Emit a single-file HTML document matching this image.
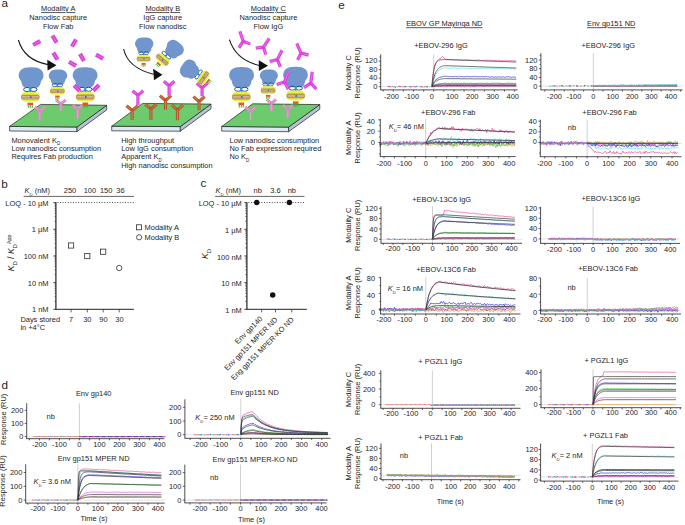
<!DOCTYPE html>
<html><head><meta charset="utf-8"><style>
html,body{margin:0;padding:0;background:#fff;}
svg{display:block;}
text{font-family:"Liberation Sans", sans-serif;fill:#1e1e1e;}
</style></head><body>
<svg width="685" height="525" viewBox="0 0 685 525">
<rect width="685" height="525" fill="#fff"/>
<text x="1.4" y="7.0" font-size="11.7">a</text>
<text x="58.2" y="11.3" text-anchor="middle" font-size="7.45" text-decoration="underline">Modality A</text>
<text x="58.2" y="19.9" text-anchor="middle" font-size="7.45" >Nanodisc capture</text>
<text x="58.2" y="28.5" text-anchor="middle" font-size="7.45" >Flow Fab</text>
<text x="162.8" y="11.3" text-anchor="middle" font-size="7.45" text-decoration="underline">Modality B</text>
<text x="162.8" y="19.9" text-anchor="middle" font-size="7.45" >IgG capture</text>
<text x="162.8" y="28.5" text-anchor="middle" font-size="7.45" >Flow nanodisc</text>
<text x="268.4" y="11.3" text-anchor="middle" font-size="7.45" text-decoration="underline">Modality C</text>
<text x="268.4" y="19.9" text-anchor="middle" font-size="7.45" >Nanodisc capture</text>
<text x="268.4" y="28.5" text-anchor="middle" font-size="7.45" >Flow IgG</text>
<polygon points="9.6,126.4 77.0,127.0 77.0,131.6 9.6,131.0" fill="#dce9f3" stroke="#222" stroke-width="0.7"/>
<polygon points="77.0,127.0 106.7,105.3 106.7,109.89999999999999 77.0,131.6" fill="#b4c2d2" stroke="#222" stroke-width="0.7"/>
<polygon points="9.6,126.4 40.6,104.4 106.7,105.3 77.0,127.0" fill="#6ccb6c" stroke="#222" stroke-width="0.7"/>
<polygon points="111.7,126.2 180.3,126.6 180.3,131.2 111.7,130.8" fill="#dce9f3" stroke="#222" stroke-width="0.7"/>
<polygon points="180.3,126.6 211,104.1 211,108.69999999999999 180.3,131.2" fill="#b4c2d2" stroke="#222" stroke-width="0.7"/>
<polygon points="111.7,126.2 142.7,103.4 211,104.1 180.3,126.6" fill="#6ccb6c" stroke="#222" stroke-width="0.7"/>
<polygon points="221.7,126.5 288.6,127.1 288.6,131.7 221.7,131.1" fill="#dce9f3" stroke="#222" stroke-width="0.7"/>
<polygon points="288.6,127.1 319.8,104.6 319.8,109.19999999999999 288.6,131.7" fill="#b4c2d2" stroke="#222" stroke-width="0.7"/>
<polygon points="221.7,126.5 252.7,103.8 319.8,104.6 288.6,127.1" fill="#6ccb6c" stroke="#222" stroke-width="0.7"/>
<path d="M 18.4,40 Q 24,60 48,64.6" fill="none" stroke="#1a1a1a" stroke-width="1.1"/>
<polygon points="56.5,65.2 47.3,59.8 47.6,70.4" fill="#111"/>
<g transform="translate(36.70,43.00) rotate(-30)"><rect x="-4.1" y="-2.1" width="8.2" height="4.2" fill="#dc3edc"/><line x1="-3.6999999999999997" y1="0" x2="3.6999999999999997" y2="0" stroke="#fff" stroke-opacity="0.45" stroke-width="0.6"/></g>
<g transform="translate(54.50,39.10) rotate(60)"><rect x="-4.1" y="-2.1" width="8.2" height="4.2" fill="#dc3edc"/><line x1="-3.6999999999999997" y1="0" x2="3.6999999999999997" y2="0" stroke="#fff" stroke-opacity="0.45" stroke-width="0.6"/></g>
<g transform="translate(74.00,43.00) rotate(-60)"><rect x="-4.1" y="-2.1" width="8.2" height="4.2" fill="#dc3edc"/><line x1="-3.6999999999999997" y1="0" x2="3.6999999999999997" y2="0" stroke="#fff" stroke-opacity="0.45" stroke-width="0.6"/></g>
<g transform="translate(55.40,56.20) rotate(60)"><rect x="-4.1" y="-2.1" width="8.2" height="4.2" fill="#dc3edc"/><line x1="-3.6999999999999997" y1="0" x2="3.6999999999999997" y2="0" stroke="#fff" stroke-opacity="0.45" stroke-width="0.6"/></g>
<g transform="translate(82.00,57.40) rotate(60)"><rect x="-4.1" y="-2.1" width="8.2" height="4.2" fill="#dc3edc"/><line x1="-3.6999999999999997" y1="0" x2="3.6999999999999997" y2="0" stroke="#fff" stroke-opacity="0.45" stroke-width="0.6"/></g>
<g transform="translate(72.50,63.80) rotate(30)"><rect x="-4.1" y="-2.1" width="8.2" height="4.2" fill="#dc3edc"/><line x1="-3.6999999999999997" y1="0" x2="3.6999999999999997" y2="0" stroke="#fff" stroke-opacity="0.45" stroke-width="0.6"/></g>
<g transform="translate(99.60,56.70) rotate(30)"><rect x="-4.1" y="-2.1" width="8.2" height="4.2" fill="#dc3edc"/><line x1="-3.6999999999999997" y1="0" x2="3.6999999999999997" y2="0" stroke="#fff" stroke-opacity="0.45" stroke-width="0.6"/></g>
<g transform="translate(39.80,111.10) rotate(0)" fill="none" stroke-linecap="butt"><path d="M 0,9.3 L 0,-0.6 M -5.06,-4.24 L 0.3,0.3 M 5.06,-4.24 L -0.3,0.3" stroke="#d98ac2" stroke-width="2.9"/><path d="M 0,9.3 L 0,0.9 M -4.90,-4.12 L -1.52,-1.27 M 4.90,-4.12 L 1.52,-1.27" stroke="#fff" stroke-opacity="0.4" stroke-width="0.58"/></g>
<g transform="translate(60.90,103.90) rotate(0)" fill="none" stroke-linecap="butt"><path d="M 0,7.2 L 0,-0.6 M -4.90,-4.11 L 0.3,0.3 M 4.90,-4.11 L -0.3,0.3" stroke="#d98ac2" stroke-width="2.9"/><path d="M 0,7.2 L 0,0.9 M -4.76,-3.99 L -1.47,-1.23 M 4.76,-3.99 L 1.47,-1.23" stroke="#fff" stroke-opacity="0.4" stroke-width="0.58"/></g>
<g transform="translate(77.70,109.30) rotate(0)" fill="none" stroke-linecap="butt"><path d="M 0,9.3 L 0,-0.6 M -5.06,-4.24 L 0.3,0.3 M 5.06,-4.24 L -0.3,0.3" stroke="#d98ac2" stroke-width="2.9"/><path d="M 0,9.3 L 0,0.9 M -4.90,-4.12 L -1.52,-1.27 M 4.90,-4.12 L 1.52,-1.27" stroke="#fff" stroke-opacity="0.4" stroke-width="0.58"/></g>
<path d="M 0,0 C 4,-0.2 8,0.6 10,2.5 C 12,4.5 12.6,7 12.4,9 C 12.2,11.5 10.5,13 9.8,14 C 9.6,16.5 8.5,19.2 6.5,20.2 C 3,20.8 -3,20.8 -6.5,20.2 C -8.5,19.2 -9.6,16.5 -9.8,14 C -10.5,13 -12.2,11.5 -12.4,9 C -12.6,7 -12,4.5 -10,2.5 C -8,0.6 -4,-0.2 0,0 Z" fill="#7096cd" transform="translate(31.10,77.60) rotate(0) scale(1.000,1.000) translate(0,-10.25)"/>
<path d="M 0,0 C 4,-0.2 8,0.6 10,2.5 C 12,4.5 12.6,7 12.4,9 C 12.2,11.5 10.5,13 9.8,14 C 9.6,16.5 8.5,19.2 6.5,20.2 C 3,20.8 -3,20.8 -6.5,20.2 C -8.5,19.2 -9.6,16.5 -9.8,14 C -10.5,13 -12.2,11.5 -12.4,9 C -12.6,7 -12,4.5 -10,2.5 C -8,0.6 -4,-0.2 0,0 Z" fill="#7096cd" transform="translate(58.00,77.10) rotate(0) scale(0.740,0.732) translate(0,-10.25)"/>
<path d="M 0,0 C 4,-0.2 8,0.6 10,2.5 C 12,4.5 12.6,7 12.4,9 C 12.2,11.5 10.5,13 9.8,14 C 9.6,16.5 8.5,19.2 6.5,20.2 C 3,20.8 -3,20.8 -6.5,20.2 C -8.5,19.2 -9.6,16.5 -9.8,14 C -10.5,13 -12.2,11.5 -12.4,9 C -12.6,7 -12,4.5 -10,2.5 C -8,0.6 -4,-0.2 0,0 Z" fill="#7096cd" transform="translate(85.10,77.30) rotate(0) scale(1.000,0.985) translate(0,-10.25)"/>
<g transform="translate(30.30,96.80) rotate(0) scale(1.0)"><ellipse cx="-3.3" cy="-7.3" rx="3.4" ry="2.0" fill="none" stroke="#1f4f9c" stroke-width="1.0"/><ellipse cx="3.3" cy="-7.3" rx="3.4" ry="2.0" fill="none" stroke="#1f4f9c" stroke-width="1.0"/><path d="M -1.1,-9.4 L 1.1,-9.4 L 0.7,-3.6 L -0.7,-3.6 Z" fill="#2b8fe0"/><rect x="-9.2" y="-4.9" width="18.4" height="9.8" rx="5" ry="3.6" fill="#e2f53c"/><rect x="-9.1" y="-2.1" width="18.2" height="4.9" rx="1.6" fill="#b98a5c"/><line x1="-8.2" y1="-0.2" x2="8.2" y2="-0.2" stroke="#efe2cc" stroke-width="0.55"/><line x1="-8.2" y1="1.2" x2="8.2" y2="1.2" stroke="#efe2cc" stroke-width="0.5"/><circle cx="0.5" cy="0.4" r="0.9" fill="#2a5fb0"/><rect x="-2.8" y="5.9" width="5.6" height="2.5" fill="#e25a1c"/><line x1="-2.0" y1="8.4" x2="-2.0" y2="10.9" stroke="#28c028" stroke-width="1.1"/><line x1="0" y1="8.4" x2="0" y2="10.9" stroke="#28c028" stroke-width="1.1"/><line x1="2.0" y1="8.4" x2="2.0" y2="10.9" stroke="#28c028" stroke-width="1.1"/></g>
<g transform="translate(57.40,90.90) rotate(0) scale(0.79)"><ellipse cx="-3.3" cy="-7.3" rx="3.4" ry="2.0" fill="none" stroke="#1f4f9c" stroke-width="1.0"/><ellipse cx="3.3" cy="-7.3" rx="3.4" ry="2.0" fill="none" stroke="#1f4f9c" stroke-width="1.0"/><path d="M -1.1,-9.4 L 1.1,-9.4 L 0.7,-3.6 L -0.7,-3.6 Z" fill="#2b8fe0"/><rect x="-9.2" y="-4.9" width="18.4" height="9.8" rx="5" ry="3.6" fill="#e2f53c"/><rect x="-9.1" y="-2.1" width="18.2" height="4.9" rx="1.6" fill="#b98a5c"/><line x1="-8.2" y1="-0.2" x2="8.2" y2="-0.2" stroke="#efe2cc" stroke-width="0.55"/><line x1="-8.2" y1="1.2" x2="8.2" y2="1.2" stroke="#efe2cc" stroke-width="0.5"/><circle cx="0.5" cy="0.4" r="0.9" fill="#2a5fb0"/><rect x="-2.8" y="5.9" width="5.6" height="2.5" fill="#e25a1c"/><line x1="-2.0" y1="8.4" x2="-2.0" y2="10.9" stroke="#28c028" stroke-width="1.1"/><line x1="0" y1="8.4" x2="0" y2="10.9" stroke="#28c028" stroke-width="1.1"/><line x1="2.0" y1="8.4" x2="2.0" y2="10.9" stroke="#28c028" stroke-width="1.1"/></g>
<g transform="translate(85.30,96.60) rotate(0) scale(1.0)"><ellipse cx="-3.3" cy="-7.3" rx="3.4" ry="2.0" fill="none" stroke="#1f4f9c" stroke-width="1.0"/><ellipse cx="3.3" cy="-7.3" rx="3.4" ry="2.0" fill="none" stroke="#1f4f9c" stroke-width="1.0"/><path d="M -1.1,-9.4 L 1.1,-9.4 L 0.7,-3.6 L -0.7,-3.6 Z" fill="#2b8fe0"/><rect x="-9.2" y="-4.9" width="18.4" height="9.8" rx="5" ry="3.6" fill="#e2f53c"/><rect x="-9.1" y="-2.1" width="18.2" height="4.9" rx="1.6" fill="#b98a5c"/><line x1="-8.2" y1="-0.2" x2="8.2" y2="-0.2" stroke="#efe2cc" stroke-width="0.55"/><line x1="-8.2" y1="1.2" x2="8.2" y2="1.2" stroke="#efe2cc" stroke-width="0.5"/><circle cx="0.5" cy="0.4" r="0.9" fill="#2a5fb0"/><rect x="-2.8" y="5.9" width="5.6" height="2.5" fill="#e25a1c"/><line x1="-2.0" y1="8.4" x2="-2.0" y2="10.9" stroke="#28c028" stroke-width="1.1"/><line x1="0" y1="8.4" x2="0" y2="10.9" stroke="#28c028" stroke-width="1.1"/><line x1="2.0" y1="8.4" x2="2.0" y2="10.9" stroke="#28c028" stroke-width="1.1"/></g>
<g transform="translate(77.00,88.20) rotate(45)"><rect x="-4.1" y="-2.1" width="8.2" height="4.2" fill="#dc3edc"/><line x1="-3.6999999999999997" y1="0" x2="3.6999999999999997" y2="0" stroke="#fff" stroke-opacity="0.45" stroke-width="0.6"/></g>
<g transform="translate(96.10,87.90) rotate(-45)"><rect x="-4.1" y="-2.1" width="8.2" height="4.2" fill="#dc3edc"/><line x1="-3.6999999999999997" y1="0" x2="3.6999999999999997" y2="0" stroke="#fff" stroke-opacity="0.45" stroke-width="0.6"/></g>
<path d="M 123.6,49 Q 128,68 153.5,74.2" fill="none" stroke="#1a1a1a" stroke-width="1.1"/>
<polygon points="162.4,74.8 153.1,68.8 154,80.2" fill="#111"/>
<g transform="translate(132.20,110.50) rotate(0)" fill="none" stroke-linecap="butt"><path d="M 0,9.6 L 0,-0.6 M -5.67,-4.76 L 0.3,0.3 M 5.67,-4.76 L -0.3,0.3" stroke="#b85a2c" stroke-width="3.2"/><path d="M 0,9.6 L 0,0.9 M -5.50,-4.61 L -1.70,-1.43 M 5.50,-4.61 L 1.70,-1.43" stroke="#fff" stroke-opacity="0.4" stroke-width="0.64"/></g>
<g transform="translate(150.90,109.00) rotate(0)" fill="none" stroke-linecap="butt"><path d="M 0,11.1 L 0,-0.6 M -5.67,-4.76 L 0.3,0.3 M 5.67,-4.76 L -0.3,0.3" stroke="#b85a2c" stroke-width="3.2"/><path d="M 0,11.1 L 0,0.9 M -5.50,-4.61 L -1.70,-1.43 M 5.50,-4.61 L 1.70,-1.43" stroke="#fff" stroke-opacity="0.4" stroke-width="0.64"/></g>
<g transform="translate(165.50,100.40) rotate(0)" fill="none" stroke-linecap="butt"><path d="M 0,9.4 L 0,-0.6 M -5.67,-4.76 L 0.3,0.3 M 5.67,-4.76 L -0.3,0.3" stroke="#b85a2c" stroke-width="3.2"/><path d="M 0,9.4 L 0,0.9 M -5.50,-4.61 L -1.70,-1.43 M 5.50,-4.61 L 1.70,-1.43" stroke="#fff" stroke-opacity="0.4" stroke-width="0.64"/></g>
<g transform="translate(177.50,109.80) rotate(0)" fill="none" stroke-linecap="butt"><path d="M 0,10.5 L 0,-0.6 M -5.67,-4.76 L 0.3,0.3 M 5.67,-4.76 L -0.3,0.3" stroke="#b85a2c" stroke-width="3.2"/><path d="M 0,10.5 L 0,0.9 M -5.50,-4.61 L -1.70,-1.43 M 5.50,-4.61 L 1.70,-1.43" stroke="#fff" stroke-opacity="0.4" stroke-width="0.64"/></g>
<g transform="translate(199.00,101.40) rotate(0)" fill="none" stroke-linecap="butt"><path d="M 0,8.9 L 0,-0.6 M -5.67,-4.76 L 0.3,0.3 M 5.67,-4.76 L -0.3,0.3" stroke="#b85a2c" stroke-width="3.2"/><path d="M 0,8.9 L 0,0.9 M -5.50,-4.61 L -1.70,-1.43 M 5.50,-4.61 L 1.70,-1.43" stroke="#fff" stroke-opacity="0.4" stroke-width="0.64"/></g>
<g transform="translate(137.90,95.30) rotate(0)" fill="none" stroke-linecap="butt"><path d="M 0,9.9 L 0,-0.6 M -5.36,-4.50 L 0.3,0.3 M 5.36,-4.50 L -0.3,0.3" stroke="#e03ee0" stroke-width="3.2"/><path d="M 0,9.9 L 0,0.9 M -5.20,-4.36 L -1.61,-1.35 M 5.20,-4.36 L 1.61,-1.35" stroke="#fff" stroke-opacity="0.4" stroke-width="0.64"/></g>
<g transform="translate(169.10,85.70) rotate(0)" fill="none" stroke-linecap="butt"><path d="M 0,10 L 0,-0.6 M -5.36,-4.50 L 0.3,0.3 M 5.36,-4.50 L -0.3,0.3" stroke="#e03ee0" stroke-width="3.2"/><path d="M 0,10 L 0,0.9 M -5.20,-4.36 L -1.61,-1.35 M 5.20,-4.36 L 1.61,-1.35" stroke="#fff" stroke-opacity="0.4" stroke-width="0.64"/></g>
<g transform="translate(202.10,87.80) rotate(0)" fill="none" stroke-linecap="butt"><path d="M 0,8.4 L 0,-0.6 M -5.36,-4.50 L 0.3,0.3 M 5.36,-4.50 L -0.3,0.3" stroke="#e03ee0" stroke-width="3.2"/><path d="M 0,8.4 L 0,0.9 M -5.20,-4.36 L -1.61,-1.35 M 5.20,-4.36 L 1.61,-1.35" stroke="#fff" stroke-opacity="0.4" stroke-width="0.64"/></g>
<path d="M 0,0 C 4,-0.2 8,0.6 10,2.5 C 12,4.5 12.6,7 12.4,9 C 12.2,11.5 10.5,13 9.8,14 C 9.6,16.5 8.5,19.2 6.5,20.2 C 3,20.8 -3,20.8 -6.5,20.2 C -8.5,19.2 -9.6,16.5 -9.8,14 C -10.5,13 -12.2,11.5 -12.4,9 C -12.6,7 -12,4.5 -10,2.5 C -8,0.6 -4,-0.2 0,0 Z" fill="#7096cd" transform="translate(144.20,45.30) rotate(0) scale(0.736,0.756) translate(0,-10.25)"/>
<g transform="translate(143.60,58.60) rotate(0) scale(0.74)"><ellipse cx="-3.3" cy="-7.3" rx="3.4" ry="2.0" fill="none" stroke="#1f4f9c" stroke-width="1.0"/><ellipse cx="3.3" cy="-7.3" rx="3.4" ry="2.0" fill="none" stroke="#1f4f9c" stroke-width="1.0"/><path d="M -1.1,-9.4 L 1.1,-9.4 L 0.7,-3.6 L -0.7,-3.6 Z" fill="#2b8fe0"/><rect x="-9.2" y="-4.9" width="18.4" height="9.8" rx="5" ry="3.6" fill="#e2f53c"/><rect x="-9.1" y="-2.1" width="18.2" height="4.9" rx="1.6" fill="#b98a5c"/><line x1="-8.2" y1="-0.2" x2="8.2" y2="-0.2" stroke="#efe2cc" stroke-width="0.55"/><line x1="-8.2" y1="1.2" x2="8.2" y2="1.2" stroke="#efe2cc" stroke-width="0.5"/><circle cx="0.5" cy="0.4" r="0.9" fill="#2a5fb0"/><rect x="-2.8" y="5.9" width="5.6" height="2.5" fill="#e25a1c"/><line x1="-2.0" y1="8.4" x2="-2.0" y2="10.9" stroke="#28c028" stroke-width="1.1"/><line x1="0" y1="8.4" x2="0" y2="10.9" stroke="#28c028" stroke-width="1.1"/><line x1="2.0" y1="8.4" x2="2.0" y2="10.9" stroke="#28c028" stroke-width="1.1"/></g>
<path d="M 0,0 C 4,-0.2 8,0.6 10,2.5 C 12,4.5 12.6,7 12.4,9 C 12.2,11.5 10.5,13 9.8,14 C 9.6,16.5 8.5,19.2 6.5,20.2 C 3,20.8 -3,20.8 -6.5,20.2 C -8.5,19.2 -9.6,16.5 -9.8,14 C -10.5,13 -12.2,11.5 -12.4,9 C -12.6,7 -12,4.5 -10,2.5 C -8,0.6 -4,-0.2 0,0 Z" fill="#7096cd" transform="translate(174.20,49.20) rotate(40) scale(0.740,0.805) translate(0,-10.25)"/>
<g transform="translate(162.50,59.60) rotate(41) scale(0.8)"><ellipse cx="-3.3" cy="-7.3" rx="3.4" ry="2.0" fill="none" stroke="#1f4f9c" stroke-width="1.0"/><ellipse cx="3.3" cy="-7.3" rx="3.4" ry="2.0" fill="none" stroke="#1f4f9c" stroke-width="1.0"/><path d="M -1.1,-9.4 L 1.1,-9.4 L 0.7,-3.6 L -0.7,-3.6 Z" fill="#2b8fe0"/><rect x="-9.2" y="-4.9" width="18.4" height="9.8" rx="5" ry="3.6" fill="#e2f53c"/><rect x="-9.1" y="-2.1" width="18.2" height="4.9" rx="1.6" fill="#b98a5c"/><line x1="-8.2" y1="-0.2" x2="8.2" y2="-0.2" stroke="#efe2cc" stroke-width="0.55"/><line x1="-8.2" y1="1.2" x2="8.2" y2="1.2" stroke="#efe2cc" stroke-width="0.5"/><circle cx="0.5" cy="0.4" r="0.9" fill="#2a5fb0"/><rect x="-2.8" y="5.9" width="5.6" height="2.5" fill="#e25a1c"/><line x1="-2.0" y1="8.4" x2="-2.0" y2="10.9" stroke="#28c028" stroke-width="1.1"/><line x1="0" y1="8.4" x2="0" y2="10.9" stroke="#28c028" stroke-width="1.1"/><line x1="2.0" y1="8.4" x2="2.0" y2="10.9" stroke="#28c028" stroke-width="1.1"/></g>
<path d="M 0,0 C 4,-0.2 8,0.6 10,2.5 C 12,4.5 12.6,7 12.4,9 C 12.2,11.5 10.5,13 9.8,14 C 9.6,16.5 8.5,19.2 6.5,20.2 C 3,20.8 -3,20.8 -6.5,20.2 C -8.5,19.2 -9.6,16.5 -9.8,14 C -10.5,13 -12.2,11.5 -12.4,9 C -12.6,7 -12,4.5 -10,2.5 C -8,0.6 -4,-0.2 0,0 Z" fill="#7096cd" transform="translate(189.50,69.50) rotate(-55) scale(0.760,0.829) translate(0,-10.25)"/>
<g transform="translate(203.40,77.80) rotate(-55) scale(0.8)"><ellipse cx="-3.3" cy="-7.3" rx="3.4" ry="2.0" fill="none" stroke="#1f4f9c" stroke-width="1.0"/><ellipse cx="3.3" cy="-7.3" rx="3.4" ry="2.0" fill="none" stroke="#1f4f9c" stroke-width="1.0"/><path d="M -1.1,-9.4 L 1.1,-9.4 L 0.7,-3.6 L -0.7,-3.6 Z" fill="#2b8fe0"/><rect x="-9.2" y="-4.9" width="18.4" height="9.8" rx="5" ry="3.6" fill="#e2f53c"/><rect x="-9.1" y="-2.1" width="18.2" height="4.9" rx="1.6" fill="#b98a5c"/><line x1="-8.2" y1="-0.2" x2="8.2" y2="-0.2" stroke="#efe2cc" stroke-width="0.55"/><line x1="-8.2" y1="1.2" x2="8.2" y2="1.2" stroke="#efe2cc" stroke-width="0.5"/><circle cx="0.5" cy="0.4" r="0.9" fill="#2a5fb0"/><rect x="-2.8" y="5.9" width="5.6" height="2.5" fill="#e25a1c"/><line x1="-2.0" y1="8.4" x2="-2.0" y2="10.9" stroke="#28c028" stroke-width="1.1"/><line x1="0" y1="8.4" x2="0" y2="10.9" stroke="#28c028" stroke-width="1.1"/><line x1="2.0" y1="8.4" x2="2.0" y2="10.9" stroke="#28c028" stroke-width="1.1"/></g>
<path d="M 229.4,39.7 Q 236,60 259.2,65.5" fill="none" stroke="#1a1a1a" stroke-width="1.1"/>
<polygon points="268,65.8 258.8,60.2 258.8,71" fill="#111"/>
<g transform="translate(250.40,111.30) rotate(0)" fill="none" stroke-linecap="butt"><path d="M 0,8.5 L 0,-0.6 M -5.21,-4.37 L 0.3,0.3 M 5.21,-4.37 L -0.3,0.3" stroke="#d98ac2" stroke-width="2.9"/><path d="M 0,8.5 L 0,0.9 M -5.05,-4.24 L -1.56,-1.31 M 5.05,-4.24 L 1.56,-1.31" stroke="#fff" stroke-opacity="0.4" stroke-width="0.58"/></g>
<g transform="translate(271.40,103.40) rotate(0)" fill="none" stroke-linecap="butt"><path d="M 0,7.9 L 0,-0.6 M -4.75,-3.99 L 0.3,0.3 M 4.75,-3.99 L -0.3,0.3" stroke="#d98ac2" stroke-width="2.9"/><path d="M 0,7.9 L 0,0.9 M -4.61,-3.87 L -1.42,-1.20 M 4.61,-3.87 L 1.42,-1.20" stroke="#fff" stroke-opacity="0.4" stroke-width="0.58"/></g>
<g transform="translate(287.80,109.30) rotate(0)" fill="none" stroke-linecap="butt"><path d="M 0,8.6 L 0,-0.6 M -5.06,-4.24 L 0.3,0.3 M 5.06,-4.24 L -0.3,0.3" stroke="#d98ac2" stroke-width="2.9"/><path d="M 0,8.6 L 0,0.9 M -4.90,-4.12 L -1.52,-1.27 M 4.90,-4.12 L 1.52,-1.27" stroke="#fff" stroke-opacity="0.4" stroke-width="0.58"/></g>
<g transform="translate(243.10,41.20) rotate(162)" fill="none" stroke-linecap="butt"><path d="M 0,10.5 L 0,-0.6 M -5.98,-5.01 L 0.3,0.3 M 5.98,-5.01 L -0.3,0.3" stroke="#e03ee0" stroke-width="3.2"/><path d="M 0,10.5 L 0,0.9 M -5.80,-4.86 L -1.79,-1.50 M 5.80,-4.86 L 1.79,-1.50" stroke="#fff" stroke-opacity="0.4" stroke-width="0.64"/></g>
<g transform="translate(263.50,47.10) rotate(-147)" fill="none" stroke-linecap="butt"><path d="M 0,10.5 L 0,-0.6 M -5.98,-5.01 L 0.3,0.3 M 5.98,-5.01 L -0.3,0.3" stroke="#e03ee0" stroke-width="3.2"/><path d="M 0,10.5 L 0,0.9 M -5.80,-4.86 L -1.79,-1.50 M 5.80,-4.86 L 1.79,-1.50" stroke="#fff" stroke-opacity="0.4" stroke-width="0.64"/></g>
<g transform="translate(277.30,59.60) rotate(-153)" fill="none" stroke-linecap="butt"><path d="M 0,10.5 L 0,-0.6 M -5.98,-5.01 L 0.3,0.3 M 5.98,-5.01 L -0.3,0.3" stroke="#e03ee0" stroke-width="3.2"/><path d="M 0,10.5 L 0,0.9 M -5.80,-4.86 L -1.79,-1.50 M 5.80,-4.86 L 1.79,-1.50" stroke="#fff" stroke-opacity="0.4" stroke-width="0.64"/></g>
<g transform="translate(301.00,53.00) rotate(156)" fill="none" stroke-linecap="butt"><path d="M 0,10.5 L 0,-0.6 M -5.98,-5.01 L 0.3,0.3 M 5.98,-5.01 L -0.3,0.3" stroke="#e03ee0" stroke-width="3.2"/><path d="M 0,10.5 L 0,0.9 M -5.80,-4.86 L -1.79,-1.50 M 5.80,-4.86 L 1.79,-1.50" stroke="#fff" stroke-opacity="0.4" stroke-width="0.64"/></g>
<path d="M 0,0 C 4,-0.2 8,0.6 10,2.5 C 12,4.5 12.6,7 12.4,9 C 12.2,11.5 10.5,13 9.8,14 C 9.6,16.5 8.5,19.2 6.5,20.2 C 3,20.8 -3,20.8 -6.5,20.2 C -8.5,19.2 -9.6,16.5 -9.8,14 C -10.5,13 -12.2,11.5 -12.4,9 C -12.6,7 -12,4.5 -10,2.5 C -8,0.6 -4,-0.2 0,0 Z" fill="#7096cd" transform="translate(241.60,77.30) rotate(0) scale(1.000,1.000) translate(0,-10.25)"/>
<path d="M 0,0 C 4,-0.2 8,0.6 10,2.5 C 12,4.5 12.6,7 12.4,9 C 12.2,11.5 10.5,13 9.8,14 C 9.6,16.5 8.5,19.2 6.5,20.2 C 3,20.8 -3,20.8 -6.5,20.2 C -8.5,19.2 -9.6,16.5 -9.8,14 C -10.5,13 -12.2,11.5 -12.4,9 C -12.6,7 -12,4.5 -10,2.5 C -8,0.6 -4,-0.2 0,0 Z" fill="#7096cd" transform="translate(268.90,77.00) rotate(0) scale(0.724,0.722) translate(0,-10.25)"/>
<path d="M 0,0 C 4,-0.2 8,0.6 10,2.5 C 12,4.5 12.6,7 12.4,9 C 12.2,11.5 10.5,13 9.8,14 C 9.6,16.5 8.5,19.2 6.5,20.2 C 3,20.8 -3,20.8 -6.5,20.2 C -8.5,19.2 -9.6,16.5 -9.8,14 C -10.5,13 -12.2,11.5 -12.4,9 C -12.6,7 -12,4.5 -10,2.5 C -8,0.6 -4,-0.2 0,0 Z" fill="#7096cd" transform="translate(295.50,77.00) rotate(0) scale(0.992,0.995) translate(0,-10.25)"/>
<g transform="translate(241.30,96.60) rotate(0) scale(1.0)"><ellipse cx="-3.3" cy="-7.3" rx="3.4" ry="2.0" fill="none" stroke="#1f4f9c" stroke-width="1.0"/><ellipse cx="3.3" cy="-7.3" rx="3.4" ry="2.0" fill="none" stroke="#1f4f9c" stroke-width="1.0"/><path d="M -1.1,-9.4 L 1.1,-9.4 L 0.7,-3.6 L -0.7,-3.6 Z" fill="#2b8fe0"/><rect x="-9.2" y="-4.9" width="18.4" height="9.8" rx="5" ry="3.6" fill="#e2f53c"/><rect x="-9.1" y="-2.1" width="18.2" height="4.9" rx="1.6" fill="#b98a5c"/><line x1="-8.2" y1="-0.2" x2="8.2" y2="-0.2" stroke="#efe2cc" stroke-width="0.55"/><line x1="-8.2" y1="1.2" x2="8.2" y2="1.2" stroke="#efe2cc" stroke-width="0.5"/><circle cx="0.5" cy="0.4" r="0.9" fill="#2a5fb0"/><rect x="-2.8" y="5.9" width="5.6" height="2.5" fill="#e25a1c"/><line x1="-2.0" y1="8.4" x2="-2.0" y2="10.9" stroke="#28c028" stroke-width="1.1"/><line x1="0" y1="8.4" x2="0" y2="10.9" stroke="#28c028" stroke-width="1.1"/><line x1="2.0" y1="8.4" x2="2.0" y2="10.9" stroke="#28c028" stroke-width="1.1"/></g>
<g transform="translate(268.10,90.20) rotate(0) scale(0.79)"><ellipse cx="-3.3" cy="-7.3" rx="3.4" ry="2.0" fill="none" stroke="#1f4f9c" stroke-width="1.0"/><ellipse cx="3.3" cy="-7.3" rx="3.4" ry="2.0" fill="none" stroke="#1f4f9c" stroke-width="1.0"/><path d="M -1.1,-9.4 L 1.1,-9.4 L 0.7,-3.6 L -0.7,-3.6 Z" fill="#2b8fe0"/><rect x="-9.2" y="-4.9" width="18.4" height="9.8" rx="5" ry="3.6" fill="#e2f53c"/><rect x="-9.1" y="-2.1" width="18.2" height="4.9" rx="1.6" fill="#b98a5c"/><line x1="-8.2" y1="-0.2" x2="8.2" y2="-0.2" stroke="#efe2cc" stroke-width="0.55"/><line x1="-8.2" y1="1.2" x2="8.2" y2="1.2" stroke="#efe2cc" stroke-width="0.5"/><circle cx="0.5" cy="0.4" r="0.9" fill="#2a5fb0"/><rect x="-2.8" y="5.9" width="5.6" height="2.5" fill="#e25a1c"/><line x1="-2.0" y1="8.4" x2="-2.0" y2="10.9" stroke="#28c028" stroke-width="1.1"/><line x1="0" y1="8.4" x2="0" y2="10.9" stroke="#28c028" stroke-width="1.1"/><line x1="2.0" y1="8.4" x2="2.0" y2="10.9" stroke="#28c028" stroke-width="1.1"/></g>
<g transform="translate(295.70,95.50) rotate(0) scale(1.0)"><ellipse cx="-3.3" cy="-7.3" rx="3.4" ry="2.0" fill="none" stroke="#1f4f9c" stroke-width="1.0"/><ellipse cx="3.3" cy="-7.3" rx="3.4" ry="2.0" fill="none" stroke="#1f4f9c" stroke-width="1.0"/><path d="M -1.1,-9.4 L 1.1,-9.4 L 0.7,-3.6 L -0.7,-3.6 Z" fill="#2b8fe0"/><rect x="-9.2" y="-4.9" width="18.4" height="9.8" rx="5" ry="3.6" fill="#e2f53c"/><rect x="-9.1" y="-2.1" width="18.2" height="4.9" rx="1.6" fill="#b98a5c"/><line x1="-8.2" y1="-0.2" x2="8.2" y2="-0.2" stroke="#efe2cc" stroke-width="0.55"/><line x1="-8.2" y1="1.2" x2="8.2" y2="1.2" stroke="#efe2cc" stroke-width="0.5"/><circle cx="0.5" cy="0.4" r="0.9" fill="#2a5fb0"/><rect x="-2.8" y="5.9" width="5.6" height="2.5" fill="#e25a1c"/><line x1="-2.0" y1="8.4" x2="-2.0" y2="10.9" stroke="#28c028" stroke-width="1.1"/><line x1="0" y1="8.4" x2="0" y2="10.9" stroke="#28c028" stroke-width="1.1"/><line x1="2.0" y1="8.4" x2="2.0" y2="10.9" stroke="#28c028" stroke-width="1.1"/></g>
<g transform="translate(284.50,81.90) rotate(-158)" fill="none" stroke-linecap="butt"><path d="M 0,11 L 0,-0.6 M -6.28,-5.27 L 0.3,0.3 M 6.28,-5.27 L -0.3,0.3" stroke="#e03ee0" stroke-width="3.2"/><path d="M 0,11 L 0,0.9 M -6.09,-5.11 L -1.88,-1.58 M 6.09,-5.11 L 1.88,-1.58" stroke="#fff" stroke-opacity="0.4" stroke-width="0.64"/></g>
<g transform="translate(310.80,83.20) rotate(-173)" fill="none" stroke-linecap="butt"><path d="M 0,11.5 L 0,-0.6 M -6.28,-5.27 L 0.3,0.3 M 6.28,-5.27 L -0.3,0.3" stroke="#e03ee0" stroke-width="3.2"/><path d="M 0,11.5 L 0,0.9 M -6.09,-5.11 L -1.88,-1.58 M 6.09,-5.11 L 1.88,-1.58" stroke="#fff" stroke-opacity="0.4" stroke-width="0.64"/></g>
<text x="11.4" y="142.9" text-anchor="start" font-size="7.45" >Monovalent K<tspan font-size="4.5" dy="2.4">D</tspan></text>
<text x="11.4" y="151.2" text-anchor="start" font-size="7.45" >Low nanodisc consumption</text>
<text x="11.4" y="159.4" text-anchor="start" font-size="7.45" >Requires Fab production</text>
<text x="121.2" y="142.9" text-anchor="start" font-size="7.45" >High throughput</text>
<text x="121.2" y="151.2" text-anchor="start" font-size="7.45" >Low IgG consumption</text>
<text x="121.2" y="159.4" text-anchor="start" font-size="7.45" >Apparent K<tspan font-size="4.5" dy="2.4">D</tspan></text>
<text x="121.2" y="167.7" text-anchor="start" font-size="7.45" >High nanodisc consumption</text>
<text x="229.5" y="142.9" text-anchor="start" font-size="7.45" >Low nanodisc consumption</text>
<text x="229.5" y="151.2" text-anchor="start" font-size="7.45" >No Fab expression required</text>
<text x="229.5" y="159.4" text-anchor="start" font-size="7.45" >No K<tspan font-size="4.5" dy="2.4">D</tspan></text>
<text x="1.2" y="187.5" font-size="11.7">b</text>
<text x="24.5" y="193.0" font-size="7.45"><tspan font-style="italic">K</tspan><tspan font-size="4.32" dy="2.5">D</tspan><tspan dy="-2.5"> (nM)</tspan></text>
<text x="70.0" y="193.0" text-anchor="middle" font-size="7.45" >250</text>
<text x="89.9" y="193.0" text-anchor="middle" font-size="7.45" >100</text>
<text x="106.2" y="193.0" text-anchor="middle" font-size="7.45" >150</text>
<text x="120.4" y="193.0" text-anchor="middle" font-size="7.45" >36</text>
<line x1="23.60" y1="196.40" x2="133.90" y2="196.40" stroke="#555" stroke-width="0.9" />
<line x1="55.90" y1="202.20" x2="55.90" y2="309.30" stroke="#222" stroke-width="1.2" />
<line x1="55.30" y1="309.30" x2="133.90" y2="309.30" stroke="#222" stroke-width="1.0" />
<line x1="53.30" y1="202.60" x2="55.90" y2="202.60" stroke="#222" stroke-width="0.8" />
<text x="48.5" y="205.6" text-anchor="end" font-size="7.45" >LOQ - 10 µM</text>
<line x1="54.50" y1="221.25" x2="55.90" y2="221.25" stroke="#222" stroke-width="0.5" />
<line x1="54.50" y1="216.55" x2="55.90" y2="216.55" stroke="#222" stroke-width="0.5" />
<line x1="54.50" y1="213.22" x2="55.90" y2="213.22" stroke="#222" stroke-width="0.5" />
<line x1="54.50" y1="210.63" x2="55.90" y2="210.63" stroke="#222" stroke-width="0.5" />
<line x1="54.50" y1="208.52" x2="55.90" y2="208.52" stroke="#222" stroke-width="0.5" />
<line x1="54.50" y1="206.73" x2="55.90" y2="206.73" stroke="#222" stroke-width="0.5" />
<line x1="54.50" y1="205.19" x2="55.90" y2="205.19" stroke="#222" stroke-width="0.5" />
<line x1="54.50" y1="203.82" x2="55.90" y2="203.82" stroke="#222" stroke-width="0.5" />
<line x1="53.30" y1="229.28" x2="55.90" y2="229.28" stroke="#222" stroke-width="0.8" />
<text x="48.5" y="232.3" text-anchor="end" font-size="7.45" >1 µM</text>
<line x1="54.50" y1="247.93" x2="55.90" y2="247.93" stroke="#222" stroke-width="0.5" />
<line x1="54.50" y1="243.23" x2="55.90" y2="243.23" stroke="#222" stroke-width="0.5" />
<line x1="54.50" y1="239.90" x2="55.90" y2="239.90" stroke="#222" stroke-width="0.5" />
<line x1="54.50" y1="237.31" x2="55.90" y2="237.31" stroke="#222" stroke-width="0.5" />
<line x1="54.50" y1="235.20" x2="55.90" y2="235.20" stroke="#222" stroke-width="0.5" />
<line x1="54.50" y1="233.41" x2="55.90" y2="233.41" stroke="#222" stroke-width="0.5" />
<line x1="54.50" y1="231.87" x2="55.90" y2="231.87" stroke="#222" stroke-width="0.5" />
<line x1="54.50" y1="230.50" x2="55.90" y2="230.50" stroke="#222" stroke-width="0.5" />
<line x1="53.30" y1="255.96" x2="55.90" y2="255.96" stroke="#222" stroke-width="0.8" />
<text x="48.5" y="259.0" text-anchor="end" font-size="7.45" >100 nM</text>
<line x1="54.50" y1="274.61" x2="55.90" y2="274.61" stroke="#222" stroke-width="0.5" />
<line x1="54.50" y1="269.91" x2="55.90" y2="269.91" stroke="#222" stroke-width="0.5" />
<line x1="54.50" y1="266.58" x2="55.90" y2="266.58" stroke="#222" stroke-width="0.5" />
<line x1="54.50" y1="263.99" x2="55.90" y2="263.99" stroke="#222" stroke-width="0.5" />
<line x1="54.50" y1="261.88" x2="55.90" y2="261.88" stroke="#222" stroke-width="0.5" />
<line x1="54.50" y1="260.09" x2="55.90" y2="260.09" stroke="#222" stroke-width="0.5" />
<line x1="54.50" y1="258.55" x2="55.90" y2="258.55" stroke="#222" stroke-width="0.5" />
<line x1="54.50" y1="257.18" x2="55.90" y2="257.18" stroke="#222" stroke-width="0.5" />
<line x1="53.30" y1="282.64" x2="55.90" y2="282.64" stroke="#222" stroke-width="0.8" />
<text x="48.5" y="285.6" text-anchor="end" font-size="7.45" >10 nM</text>
<line x1="54.50" y1="301.29" x2="55.90" y2="301.29" stroke="#222" stroke-width="0.5" />
<line x1="54.50" y1="296.59" x2="55.90" y2="296.59" stroke="#222" stroke-width="0.5" />
<line x1="54.50" y1="293.26" x2="55.90" y2="293.26" stroke="#222" stroke-width="0.5" />
<line x1="54.50" y1="290.67" x2="55.90" y2="290.67" stroke="#222" stroke-width="0.5" />
<line x1="54.50" y1="288.56" x2="55.90" y2="288.56" stroke="#222" stroke-width="0.5" />
<line x1="54.50" y1="286.77" x2="55.90" y2="286.77" stroke="#222" stroke-width="0.5" />
<line x1="54.50" y1="285.23" x2="55.90" y2="285.23" stroke="#222" stroke-width="0.5" />
<line x1="54.50" y1="283.86" x2="55.90" y2="283.86" stroke="#222" stroke-width="0.5" />
<line x1="53.30" y1="309.32" x2="55.90" y2="309.32" stroke="#222" stroke-width="0.8" />
<text x="48.5" y="312.3" text-anchor="end" font-size="7.45" >1 nM</text>
<line x1="57.40" y1="202.60" x2="134.00" y2="202.60" stroke="#444" stroke-width="1.0" stroke-dasharray="1.0 1.6"/>
<line x1="71.10" y1="309.30" x2="71.10" y2="312.40" stroke="#222" stroke-width="0.7" />
<line x1="87.30" y1="309.30" x2="87.30" y2="312.40" stroke="#222" stroke-width="0.7" />
<line x1="103.20" y1="309.30" x2="103.20" y2="312.40" stroke="#222" stroke-width="0.7" />
<line x1="119.20" y1="309.30" x2="119.20" y2="312.40" stroke="#222" stroke-width="0.7" />
<text x="71.1" y="322.0" text-anchor="middle" font-size="7.45" >7</text>
<text x="87.3" y="322.0" text-anchor="middle" font-size="7.45" >30</text>
<text x="103.4" y="322.0" text-anchor="middle" font-size="7.45" >90</text>
<text x="119.4" y="322.0" text-anchor="middle" font-size="7.45" >30</text>
<text x="20.4" y="322.0" text-anchor="start" font-size="7.45" >Days stored</text>
<text x="20.4" y="330.1" text-anchor="start" font-size="7.45" >in +4°C</text>
<rect x="68.5" y="242.9" width="5.2" height="5.2" fill="none" stroke="#222" stroke-width="0.75"/>
<rect x="84.7" y="253.50000000000003" width="5.2" height="5.2" fill="none" stroke="#222" stroke-width="0.75"/>
<rect x="100.60000000000001" y="249.1" width="5.2" height="5.2" fill="none" stroke="#222" stroke-width="0.75"/>
<circle cx="119.2" cy="268" r="2.7" fill="none" stroke="#222" stroke-width="0.75"/>
<rect x="136.6" y="224.8" width="5.0" height="5.0" fill="none" stroke="#222" stroke-width="0.75"/>
<circle cx="139.1" cy="237.3" r="2.6" fill="none" stroke="#222" stroke-width="0.75"/>
<text x="144.6" y="229.8" text-anchor="start" font-size="7.45" >Modality A</text>
<text x="144.6" y="239.6" text-anchor="start" font-size="7.45" >Modality B</text>
<text transform="translate(13.6,252.9) rotate(-90)" text-anchor="middle" font-size="8.6"><tspan font-style="italic">K</tspan><tspan font-size="6" dy="3.0">D</tspan><tspan dy="-3.0"> / </tspan><tspan font-style="italic">K</tspan><tspan font-size="6" dy="3.0">D</tspan><tspan font-size="5.4" dy="-5.2">App</tspan></text>
<text x="200.6" y="186.6" font-size="11.7">c</text>
<text x="215.6" y="193.0" font-size="7.45"><tspan font-style="italic">K</tspan><tspan font-size="4.32" dy="2.5">D</tspan><tspan dy="-2.5"> (nM)</tspan></text>
<text x="257.7" y="193.0" text-anchor="middle" font-size="7.45" >nb</text>
<text x="275.5" y="193.0" text-anchor="middle" font-size="7.45" >3.6</text>
<text x="291.8" y="193.0" text-anchor="middle" font-size="7.45" >nb</text>
<line x1="215.20" y1="196.40" x2="304.50" y2="196.40" stroke="#555" stroke-width="0.9" />
<line x1="246.90" y1="202.20" x2="246.90" y2="309.30" stroke="#333" stroke-width="1.3" />
<line x1="246.25" y1="309.30" x2="306.90" y2="309.30" stroke="#222" stroke-width="1.0" />
<line x1="244.30" y1="202.60" x2="246.90" y2="202.60" stroke="#222" stroke-width="0.8" />
<text x="241.8" y="206.4" text-anchor="end" font-size="7.45" >LOQ - 10 µM</text>
<line x1="245.10" y1="221.25" x2="246.90" y2="221.25" stroke="#222" stroke-width="0.5" />
<line x1="245.10" y1="216.55" x2="246.90" y2="216.55" stroke="#222" stroke-width="0.5" />
<line x1="245.10" y1="213.22" x2="246.90" y2="213.22" stroke="#222" stroke-width="0.5" />
<line x1="245.10" y1="210.63" x2="246.90" y2="210.63" stroke="#222" stroke-width="0.5" />
<line x1="245.10" y1="208.52" x2="246.90" y2="208.52" stroke="#222" stroke-width="0.5" />
<line x1="245.10" y1="206.73" x2="246.90" y2="206.73" stroke="#222" stroke-width="0.5" />
<line x1="245.10" y1="205.19" x2="246.90" y2="205.19" stroke="#222" stroke-width="0.5" />
<line x1="245.10" y1="203.82" x2="246.90" y2="203.82" stroke="#222" stroke-width="0.5" />
<line x1="244.30" y1="229.28" x2="246.90" y2="229.28" stroke="#222" stroke-width="0.8" />
<text x="241.8" y="233.1" text-anchor="end" font-size="7.45" >1 µM</text>
<line x1="245.10" y1="247.93" x2="246.90" y2="247.93" stroke="#222" stroke-width="0.5" />
<line x1="245.10" y1="243.23" x2="246.90" y2="243.23" stroke="#222" stroke-width="0.5" />
<line x1="245.10" y1="239.90" x2="246.90" y2="239.90" stroke="#222" stroke-width="0.5" />
<line x1="245.10" y1="237.31" x2="246.90" y2="237.31" stroke="#222" stroke-width="0.5" />
<line x1="245.10" y1="235.20" x2="246.90" y2="235.20" stroke="#222" stroke-width="0.5" />
<line x1="245.10" y1="233.41" x2="246.90" y2="233.41" stroke="#222" stroke-width="0.5" />
<line x1="245.10" y1="231.87" x2="246.90" y2="231.87" stroke="#222" stroke-width="0.5" />
<line x1="245.10" y1="230.50" x2="246.90" y2="230.50" stroke="#222" stroke-width="0.5" />
<line x1="244.30" y1="255.96" x2="246.90" y2="255.96" stroke="#222" stroke-width="0.8" />
<text x="241.8" y="259.8" text-anchor="end" font-size="7.45" >100 nM</text>
<line x1="245.10" y1="274.61" x2="246.90" y2="274.61" stroke="#222" stroke-width="0.5" />
<line x1="245.10" y1="269.91" x2="246.90" y2="269.91" stroke="#222" stroke-width="0.5" />
<line x1="245.10" y1="266.58" x2="246.90" y2="266.58" stroke="#222" stroke-width="0.5" />
<line x1="245.10" y1="263.99" x2="246.90" y2="263.99" stroke="#222" stroke-width="0.5" />
<line x1="245.10" y1="261.88" x2="246.90" y2="261.88" stroke="#222" stroke-width="0.5" />
<line x1="245.10" y1="260.09" x2="246.90" y2="260.09" stroke="#222" stroke-width="0.5" />
<line x1="245.10" y1="258.55" x2="246.90" y2="258.55" stroke="#222" stroke-width="0.5" />
<line x1="245.10" y1="257.18" x2="246.90" y2="257.18" stroke="#222" stroke-width="0.5" />
<line x1="244.30" y1="282.64" x2="246.90" y2="282.64" stroke="#222" stroke-width="0.8" />
<text x="241.8" y="286.4" text-anchor="end" font-size="7.45" >10 nM</text>
<line x1="245.10" y1="301.29" x2="246.90" y2="301.29" stroke="#222" stroke-width="0.5" />
<line x1="245.10" y1="296.59" x2="246.90" y2="296.59" stroke="#222" stroke-width="0.5" />
<line x1="245.10" y1="293.26" x2="246.90" y2="293.26" stroke="#222" stroke-width="0.5" />
<line x1="245.10" y1="290.67" x2="246.90" y2="290.67" stroke="#222" stroke-width="0.5" />
<line x1="245.10" y1="288.56" x2="246.90" y2="288.56" stroke="#222" stroke-width="0.5" />
<line x1="245.10" y1="286.77" x2="246.90" y2="286.77" stroke="#222" stroke-width="0.5" />
<line x1="245.10" y1="285.23" x2="246.90" y2="285.23" stroke="#222" stroke-width="0.5" />
<line x1="245.10" y1="283.86" x2="246.90" y2="283.86" stroke="#222" stroke-width="0.5" />
<line x1="244.30" y1="309.32" x2="246.90" y2="309.32" stroke="#222" stroke-width="0.8" />
<text x="241.8" y="313.1" text-anchor="end" font-size="7.45" >1 nM</text>
<line x1="248.40" y1="202.60" x2="305.00" y2="202.60" stroke="#444" stroke-width="1.0" stroke-dasharray="1.0 1.6"/>
<line x1="261.60" y1="309.30" x2="261.60" y2="312.40" stroke="#222" stroke-width="0.7" />
<line x1="275.50" y1="309.30" x2="275.50" y2="312.40" stroke="#222" stroke-width="0.7" />
<line x1="291.80" y1="309.30" x2="291.80" y2="312.40" stroke="#222" stroke-width="0.7" />
<circle cx="256.7" cy="202.6" r="2.75" fill="#111"/>
<circle cx="289.4" cy="202.6" r="2.75" fill="#111"/>
<circle cx="272.7" cy="295" r="2.75" fill="#111"/>
<text transform="translate(263.0,319.4) rotate(-45)" text-anchor="end" font-size="7.45">Env gp140</text>
<text transform="translate(278.0,320.1) rotate(-45)" text-anchor="end" font-size="7.45">Env gp151 MPER ND</text>
<text transform="translate(294.4,320.2) rotate(-45)" text-anchor="end" font-size="7.45">Eng gp151 MPER-KO ND</text>
<text transform="translate(208.1,254.0) rotate(-90)" text-anchor="middle" font-size="8.7"><tspan font-style="italic">K</tspan><tspan font-size="5.8" dy="3.0">D</tspan></text>
<text x="1.4" y="389.2" font-size="11.7">d</text>
<line x1="26.70" y1="436.60" x2="164.30" y2="436.60" stroke="#d4d4d4" stroke-width="0.7" />
<line x1="79.40" y1="403.30" x2="79.40" y2="438.70" stroke="#b0b0b0" stroke-width="0.6" />
<polyline points="33.4,436.6 34.2,436.6 35.0,436.6 35.8,436.6 36.6,436.7 37.4,436.6 38.2,436.5 39.0,436.6 39.8,436.5 40.6,436.6 41.4,436.6 42.2,436.6 43.0,436.7 43.8,436.5 44.6,436.6 45.4,436.6 46.2,436.7 47.0,436.7 47.8,436.7 48.6,436.6 49.4,436.6 50.2,436.6 51.0,436.6 51.8,436.7 52.6,436.6 53.4,436.6 54.2,436.7 55.0,436.5 55.8,436.6 56.6,436.5 57.4,436.6 58.2,436.7 59.0,436.6 59.8,436.6 60.6,436.6 61.4,436.6 62.2,436.6 63.0,436.7 63.8,436.6 64.6,436.5 65.4,436.7 66.2,436.6 67.0,436.6 67.8,436.7 68.6,436.6 69.4,436.5 70.2,436.8 71.0,436.6 71.8,436.6 72.6,436.7 73.4,436.6 74.2,436.6 75.0,436.7 75.8,436.5 76.6,436.5 77.4,436.5 78.2,436.5 79.0,436.6" fill="none" stroke="#e8a044" stroke-width="0.96" stroke-linejoin="round" stroke-dasharray="1.6 4.8" stroke-dashoffset="0.0"/>
<polyline points="33.4,436.6 34.2,436.7 35.0,436.6 35.8,436.6 36.6,436.6 37.4,436.7 38.2,436.7 39.0,436.6 39.8,436.5 40.6,436.8 41.4,436.7 42.2,436.6 43.0,436.5 43.8,436.6 44.6,436.7 45.4,436.8 46.2,436.6 47.0,436.7 47.8,436.7 48.6,436.5 49.4,436.5 50.2,436.6 51.0,436.6 51.8,436.6 52.6,436.5 53.4,436.6 54.2,436.6 55.0,436.6 55.8,436.7 56.6,436.5 57.4,436.5 58.2,436.6 59.0,436.8 59.8,436.6 60.6,436.5 61.4,436.7 62.2,436.6 63.0,436.5 63.8,436.7 64.6,436.5 65.4,436.6 66.2,436.6 67.0,436.6 67.8,436.5 68.6,436.6 69.4,436.5 70.2,436.7 71.0,436.6 71.8,436.5 72.6,436.6 73.4,436.7 74.2,436.5 75.0,436.5 75.8,436.6 76.6,436.7 77.4,436.6 78.2,436.6 79.0,436.6" fill="none" stroke="#ee4a9c" stroke-width="0.96" stroke-linejoin="round" stroke-dasharray="1.6 4.8" stroke-dashoffset="1.6"/>
<polyline points="33.4,436.5 34.2,436.7 35.0,436.5 35.8,436.7 36.6,436.7 37.4,436.6 38.2,436.5 39.0,436.5 39.8,436.6 40.6,436.6 41.4,436.6 42.2,436.6 43.0,436.6 43.8,436.6 44.6,436.6 45.4,436.6 46.2,436.5 47.0,436.6 47.8,436.4 48.6,436.6 49.4,436.6 50.2,436.6 51.0,436.6 51.8,436.5 52.6,436.6 53.4,436.6 54.2,436.5 55.0,436.8 55.8,436.7 56.6,436.6 57.4,436.6 58.2,436.6 59.0,436.6 59.8,436.5 60.6,436.6 61.4,436.6 62.2,436.4 63.0,436.6 63.8,436.6 64.6,436.6 65.4,436.6 66.2,436.6 67.0,436.8 67.8,436.6 68.6,436.5 69.4,436.7 70.2,436.6 71.0,436.5 71.8,436.5 72.6,436.5 73.4,436.7 74.2,436.6 75.0,436.6 75.8,436.6 76.6,436.5 77.4,436.8 78.2,436.5 79.0,436.7" fill="none" stroke="#3cc43c" stroke-width="0.96" stroke-linejoin="round" stroke-dasharray="1.6 4.8" stroke-dashoffset="3.2"/>
<polyline points="33.4,436.5 34.2,436.7 35.0,436.6 35.8,436.5 36.6,436.6 37.4,436.6 38.2,436.5 39.0,436.6 39.8,436.6 40.6,436.5 41.4,436.5 42.2,436.6 43.0,436.4 43.8,436.7 44.6,436.5 45.4,436.6 46.2,436.6 47.0,436.5 47.8,436.6 48.6,436.5 49.4,436.7 50.2,436.7 51.0,436.6 51.8,436.7 52.6,436.7 53.4,436.7 54.2,436.5 55.0,436.5 55.8,436.5 56.6,436.7 57.4,436.6 58.2,436.7 59.0,436.5 59.8,436.5 60.6,436.7 61.4,436.5 62.2,436.5 63.0,436.6 63.8,436.8 64.6,436.5 65.4,436.6 66.2,436.6 67.0,436.6 67.8,436.6 68.6,436.5 69.4,436.7 70.2,436.5 71.0,436.5 71.8,436.5 72.6,436.6 73.4,436.7 74.2,436.5 75.0,436.6 75.8,436.6 76.6,436.5 77.4,436.6 78.2,436.8 79.0,436.6" fill="none" stroke="#ee4cee" stroke-width="0.96" stroke-linejoin="round" stroke-dasharray="1.6 4.8" stroke-dashoffset="4.8"/>
<polyline points="79.4,436.7 79.8,436.7 80.2,436.7 80.6,436.7 81.0,436.7 81.4,436.7 81.8,436.7 82.2,436.7 82.6,436.7 83.0,436.7 83.4,436.7 83.8,436.7 84.2,436.7 84.6,436.7 85.0,436.7 85.4,436.7 85.8,436.7 86.2,436.7 86.6,436.7 87.0,436.7 87.4,436.7 87.8,436.7 88.2,436.7 88.6,436.7 89.0,436.7 89.4,436.7 89.8,436.7 90.2,436.7 90.6,436.7 91.0,436.7 91.4,436.7 91.8,436.7 92.2,436.7 92.6,436.7 93.0,436.7 93.4,436.7 96.4,436.7 99.4,436.7 102.4,436.7 105.4,436.7 108.4,436.7 111.4,436.7 114.4,436.7 117.4,436.7 120.4,436.7 123.4,436.7 126.4,436.7 129.4,436.7 132.4,436.7 135.4,436.7 138.4,436.7 141.4,436.7 144.4,436.7 147.4,436.7 150.4,436.7 153.4,436.7 156.4,436.7 159.4,436.7 162.4,436.7 165.4,436.7" fill="none" stroke="#5a4a6a" stroke-width="0.84" stroke-linejoin="round" />
<polyline points="79.4,436.7 80.2,436.5 81.0,436.6 81.8,436.6 82.6,436.6 83.4,436.5 84.2,436.6 85.0,436.5 85.8,436.6 86.6,436.5 87.4,436.5 88.2,436.5 89.0,436.7 89.8,436.5 90.6,436.7 91.4,436.7 92.2,436.8 93.0,436.5 93.8,436.7 94.6,436.6 95.4,436.6 96.2,436.6 97.0,436.6 97.8,436.6 98.6,436.5 99.4,436.6 100.2,436.6 101.0,436.5 101.8,436.6 102.6,436.7 103.4,436.6 104.2,436.5 105.0,436.7 105.8,436.6 106.6,436.5 107.4,436.5 108.2,436.6 109.0,436.5 109.8,436.6 110.6,436.7 111.4,436.7 112.2,436.7 113.0,436.5 113.8,436.6 114.6,436.7 115.4,436.7 116.2,436.7 117.0,436.6 117.8,436.7 118.6,436.6 119.4,436.8 120.2,436.6 121.0,436.7 121.8,436.8 122.6,436.5 123.4,436.6 124.2,436.8 125.0,436.7 125.8,436.6 126.6,436.6 127.4,436.5 128.2,436.5 129.0,436.5 129.8,436.6 130.6,436.5 131.4,436.5 132.2,436.6 133.0,436.8 133.8,436.5 134.6,436.5 135.4,436.6 136.2,436.6 137.0,436.4 137.8,436.7 138.6,436.6 139.4,436.4 140.2,436.7 141.0,436.5 141.8,436.5 142.6,436.6 143.4,436.6 144.2,436.5 145.0,436.7 145.8,436.6 146.6,436.6 147.4,436.5 148.2,436.6 149.0,436.6 149.8,436.7 150.6,436.6 151.4,436.5 152.2,436.6 153.0,436.7 153.8,436.7 154.6,436.4 155.4,436.5 156.2,436.5 157.0,436.8 157.8,436.6 158.6,436.6 159.4,436.5 160.2,436.6 161.0,436.6 161.8,436.6 162.6,436.8 163.4,436.5 164.2,436.6 165.0,436.7" fill="none" stroke="#9a2a9a" stroke-width="0.96" stroke-linejoin="round" stroke-dasharray="1.6 4.8" stroke-dashoffset="0.0"/>
<polyline points="79.4,436.5 80.2,436.5 81.0,436.7 81.8,436.7 82.6,436.6 83.4,436.6 84.2,436.6 85.0,436.7 85.8,436.4 86.6,436.5 87.4,436.7 88.2,436.7 89.0,436.5 89.8,436.5 90.6,436.5 91.4,436.5 92.2,436.7 93.0,436.6 93.8,436.8 94.6,436.7 95.4,436.6 96.2,436.6 97.0,436.7 97.8,436.6 98.6,436.6 99.4,436.6 100.2,436.5 101.0,436.6 101.8,436.6 102.6,436.5 103.4,436.6 104.2,436.7 105.0,436.6 105.8,436.6 106.6,436.6 107.4,436.6 108.2,436.6 109.0,436.6 109.8,436.6 110.6,436.7 111.4,436.6 112.2,436.5 113.0,436.6 113.8,436.6 114.6,436.6 115.4,436.7 116.2,436.7 117.0,436.6 117.8,436.7 118.6,436.5 119.4,436.7 120.2,436.8 121.0,436.7 121.8,436.5 122.6,436.6 123.4,436.7 124.2,436.7 125.0,436.6 125.8,436.6 126.6,436.6 127.4,436.5 128.2,436.5 129.0,436.6 129.8,436.6 130.6,436.5 131.4,436.5 132.2,436.5 133.0,436.7 133.8,436.6 134.6,436.5 135.4,436.6 136.2,436.5 137.0,436.6 137.8,436.5 138.6,436.6 139.4,436.4 140.2,436.5 141.0,436.6 141.8,436.6 142.6,436.4 143.4,436.6 144.2,436.5 145.0,436.5 145.8,436.6 146.6,436.7 147.4,436.6 148.2,436.6 149.0,436.5 149.8,436.5 150.6,436.6 151.4,436.5 152.2,436.6 153.0,436.6 153.8,436.6 154.6,436.6 155.4,436.5 156.2,436.7 157.0,436.6 157.8,436.6 158.6,436.7 159.4,436.6 160.2,436.8 161.0,436.7 161.8,436.6 162.6,436.6 163.4,436.6 164.2,436.6 165.0,436.7" fill="none" stroke="#3434dc" stroke-width="0.96" stroke-linejoin="round" stroke-dasharray="1.6 4.8" stroke-dashoffset="1.6"/>
<polyline points="79.4,436.5 80.2,436.6 81.0,436.5 81.8,436.7 82.6,436.6 83.4,436.7 84.2,436.5 85.0,436.5 85.8,436.7 86.6,436.6 87.4,436.6 88.2,436.7 89.0,436.7 89.8,436.7 90.6,436.6 91.4,436.7 92.2,436.6 93.0,436.6 93.8,436.5 94.6,436.5 95.4,436.5 96.2,436.5 97.0,436.7 97.8,436.6 98.6,436.7 99.4,436.7 100.2,436.6 101.0,436.6 101.8,436.6 102.6,436.7 103.4,436.7 104.2,436.6 105.0,436.6 105.8,436.6 106.6,436.6 107.4,436.7 108.2,436.5 109.0,436.6 109.8,436.6 110.6,436.7 111.4,436.6 112.2,436.8 113.0,436.7 113.8,436.6 114.6,436.7 115.4,436.6 116.2,436.6 117.0,436.7 117.8,436.6 118.6,436.6 119.4,436.6 120.2,436.6 121.0,436.6 121.8,436.7 122.6,436.6 123.4,436.6 124.2,436.5 125.0,436.6 125.8,436.7 126.6,436.7 127.4,436.6 128.2,436.7 129.0,436.7 129.8,436.6 130.6,436.6 131.4,436.6 132.2,436.6 133.0,436.6 133.8,436.4 134.6,436.6 135.4,436.5 136.2,436.6 137.0,436.5 137.8,436.8 138.6,436.7 139.4,436.6 140.2,436.6 141.0,436.4 141.8,436.6 142.6,436.5 143.4,436.5 144.2,436.5 145.0,436.6 145.8,436.6 146.6,436.6 147.4,436.7 148.2,436.5 149.0,436.7 149.8,436.6 150.6,436.4 151.4,436.6 152.2,436.6 153.0,436.5 153.8,436.6 154.6,436.7 155.4,436.6 156.2,436.6 157.0,436.5 157.8,436.7 158.6,436.5 159.4,436.5 160.2,436.6 161.0,436.6 161.8,436.6 162.6,436.5 163.4,436.7 164.2,436.5 165.0,436.6" fill="none" stroke="#444" stroke-width="0.96" stroke-linejoin="round" stroke-dasharray="1.6 4.8" stroke-dashoffset="3.2"/>
<polyline points="79.4,436.7 80.2,436.5 81.0,436.5 81.8,436.6 82.6,436.7 83.4,436.5 84.2,436.6 85.0,436.6 85.8,436.5 86.6,436.5 87.4,436.6 88.2,436.4 89.0,436.6 89.8,436.5 90.6,436.7 91.4,436.6 92.2,436.7 93.0,436.5 93.8,436.5 94.6,436.7 95.4,436.7 96.2,436.7 97.0,436.5 97.8,436.6 98.6,436.6 99.4,436.6 100.2,436.6 101.0,436.7 101.8,436.6 102.6,436.7 103.4,436.6 104.2,436.6 105.0,436.6 105.8,436.6 106.6,436.7 107.4,436.6 108.2,436.6 109.0,436.5 109.8,436.5 110.6,436.6 111.4,436.6 112.2,436.7 113.0,436.7 113.8,436.6 114.6,436.6 115.4,436.6 116.2,436.6 117.0,436.4 117.8,436.7 118.6,436.6 119.4,436.4 120.2,436.7 121.0,436.6 121.8,436.6 122.6,436.6 123.4,436.6 124.2,436.6 125.0,436.6 125.8,436.6 126.6,436.5 127.4,436.7 128.2,436.7 129.0,436.6 129.8,436.7 130.6,436.7 131.4,436.6 132.2,436.7 133.0,436.5 133.8,436.5 134.6,436.6 135.4,436.6 136.2,436.6 137.0,436.7 137.8,436.6 138.6,436.6 139.4,436.6 140.2,436.6 141.0,436.5 141.8,436.7 142.6,436.5 143.4,436.5 144.2,436.6 145.0,436.6 145.8,436.6 146.6,436.5 147.4,436.6 148.2,436.5 149.0,436.7 149.8,436.6 150.6,436.6 151.4,436.7 152.2,436.5 153.0,436.5 153.8,436.7 154.6,436.5 155.4,436.6 156.2,436.6 157.0,436.6 157.8,436.7 158.6,436.6 159.4,436.5 160.2,436.6 161.0,436.7 161.8,436.7 162.6,436.7 163.4,436.6 164.2,436.5 165.0,436.6" fill="none" stroke="#ee4cee" stroke-width="0.96" stroke-linejoin="round" stroke-dasharray="1.6 4.8" stroke-dashoffset="4.8"/>
<line x1="26.70" y1="403.30" x2="26.70" y2="438.70" stroke="#222" stroke-width="0.8" />
<line x1="26.30" y1="438.70" x2="164.30" y2="438.70" stroke="#222" stroke-width="0.8" />
<line x1="24.70" y1="436.60" x2="26.70" y2="436.60" stroke="#222" stroke-width="0.7" />
<text x="23.3" y="439.3" text-anchor="end" font-size="7.45" >0</text>
<line x1="24.70" y1="423.45" x2="26.70" y2="423.45" stroke="#222" stroke-width="0.7" />
<text x="23.3" y="426.2" text-anchor="end" font-size="7.45" >100</text>
<line x1="24.70" y1="410.30" x2="26.70" y2="410.30" stroke="#222" stroke-width="0.7" />
<text x="23.3" y="413.0" text-anchor="end" font-size="7.45" >200</text>
<line x1="29.40" y1="438.70" x2="29.40" y2="440.40" stroke="#222" stroke-width="0.7" />
<line x1="39.40" y1="438.70" x2="39.40" y2="440.40" stroke="#222" stroke-width="0.7" />
<line x1="49.40" y1="438.70" x2="49.40" y2="440.40" stroke="#222" stroke-width="0.7" />
<line x1="59.40" y1="438.70" x2="59.40" y2="440.40" stroke="#222" stroke-width="0.7" />
<line x1="69.40" y1="438.70" x2="69.40" y2="440.40" stroke="#222" stroke-width="0.7" />
<line x1="79.40" y1="438.70" x2="79.40" y2="440.40" stroke="#222" stroke-width="0.7" />
<line x1="89.40" y1="438.70" x2="89.40" y2="440.40" stroke="#222" stroke-width="0.7" />
<line x1="99.40" y1="438.70" x2="99.40" y2="440.40" stroke="#222" stroke-width="0.7" />
<line x1="109.40" y1="438.70" x2="109.40" y2="440.40" stroke="#222" stroke-width="0.7" />
<line x1="119.40" y1="438.70" x2="119.40" y2="440.40" stroke="#222" stroke-width="0.7" />
<line x1="129.40" y1="438.70" x2="129.40" y2="440.40" stroke="#222" stroke-width="0.7" />
<line x1="139.40" y1="438.70" x2="139.40" y2="440.40" stroke="#222" stroke-width="0.7" />
<line x1="149.40" y1="438.70" x2="149.40" y2="440.40" stroke="#222" stroke-width="0.7" />
<line x1="159.40" y1="438.70" x2="159.40" y2="440.40" stroke="#222" stroke-width="0.7" />
<text x="39.4" y="446.7" text-anchor="middle" font-size="7.45" >-200</text>
<text x="59.4" y="446.7" text-anchor="middle" font-size="7.45" >-100</text>
<text x="79.4" y="446.7" text-anchor="middle" font-size="7.45" >0</text>
<text x="99.4" y="446.7" text-anchor="middle" font-size="7.45" >100</text>
<text x="119.4" y="446.7" text-anchor="middle" font-size="7.45" >200</text>
<text x="139.4" y="446.7" text-anchor="middle" font-size="7.45" >300</text>
<text x="159.4" y="446.7" text-anchor="middle" font-size="7.45" >400</text>
<text x="93.7" y="395.7" text-anchor="middle" font-size="7.45" >Env gp140</text>
<text x="50.7" y="418.7" text-anchor="middle" font-size="7.45" >nb</text>
<text transform="translate(5.8,419.3) rotate(-90)" text-anchor="middle" font-size="7.45">Response (RU)</text>
<line x1="184.90" y1="434.70" x2="330.60" y2="434.70" stroke="#d4d4d4" stroke-width="0.7" />
<line x1="240.80" y1="399.30" x2="240.80" y2="438.30" stroke="#b0b0b0" stroke-width="0.6" />
<polyline points="240.8,434.7 240.8,434.4 241.6,419.9 242.4,416.4 243.2,415.1 244.0,414.5 244.9,414.3 245.7,413.9 246.5,413.3 247.3,413.1 248.1,413.0 248.9,412.6 249.7,412.4 250.5,412.1 251.3,412.0 252.1,411.9 253.0,411.8 253.8,412.6 254.6,413.6 255.4,414.7 256.2,415.5 257.0,416.5 257.8,417.2 258.6,417.8 259.4,418.5 260.2,419.4 261.1,420.0 261.9,420.5 262.7,421.4 263.5,421.7 264.3,422.3 265.1,422.6 265.9,423.3 266.7,423.9 267.5,424.0 268.3,424.4 269.2,424.9 270.0,425.0 270.8,425.5 271.6,425.9 272.4,426.1 273.2,426.6 274.0,426.8 274.8,427.0 275.6,427.1 276.4,427.5 277.2,427.6 278.1,428.0 278.9,428.0 279.7,428.1 280.5,428.6 281.3,428.3 282.1,428.9 282.9,429.0 283.7,429.1 284.5,429.1 285.4,429.6 286.2,429.8 287.0,429.6 287.8,429.7 288.6,429.8 289.4,429.7 290.2,430.1 291.0,430.2 291.8,430.2 292.6,430.4 293.5,430.3 294.3,430.8 295.1,430.7 295.9,431.2 296.7,430.7 297.5,431.0 298.3,430.8 299.1,430.7 299.9,431.1 300.7,431.2 301.6,431.3 302.4,431.4 303.2,431.4 304.0,431.3 304.8,431.4 305.6,431.5 306.4,431.6 307.2,431.5 308.0,431.6 308.8,431.7 309.7,431.6 310.5,431.8 311.3,432.0 312.1,431.6 312.9,431.8 313.7,432.0 314.5,431.8 315.3,431.9 316.1,432.2 316.9,431.8 317.8,432.0 318.6,432.0 319.4,432.1 320.2,432.2 321.0,432.4 321.8,432.1 322.6,432.2 323.4,432.3 324.2,432.2 325.0,432.3 325.9,432.3 326.7,432.4 327.5,432.4" fill="none" stroke="#ee4a9c" stroke-width="0.72" stroke-linejoin="round" />
<polyline points="240.8,434.8 240.8,434.8 241.6,422.5 242.4,419.5 243.2,418.7 244.0,418.2 244.9,417.5 245.7,417.4 246.5,416.9 247.3,416.5 248.1,416.5 248.9,416.1 249.7,416.2 250.5,415.9 251.3,415.8 252.1,415.6 253.0,415.4 253.8,416.1 254.6,417.3 255.4,418.1 256.2,418.6 257.0,419.6 257.8,420.0 258.6,420.6 259.4,421.3 260.2,421.8 261.1,422.6 261.9,422.8 262.7,423.6 263.5,423.9 264.3,424.3 265.1,424.7 265.9,424.9 266.7,425.4 267.5,425.8 268.3,426.0 269.2,426.2 270.0,426.7 270.8,427.0 271.6,427.1 272.4,427.5 273.2,427.9 274.0,427.7 274.8,427.9 275.6,428.7 276.4,428.6 277.2,428.8 278.1,428.9 278.9,429.1 279.7,429.4 280.5,429.6 281.3,429.6 282.1,429.6 282.9,430.1 283.7,430.2 284.5,430.2 285.4,430.5 286.2,430.4 287.0,430.6 287.8,430.5 288.6,430.8 289.4,430.9 290.2,430.9 291.0,431.0 291.8,431.1 292.6,431.1 293.5,431.1 294.3,431.1 295.1,431.1 295.9,431.5 296.7,431.5 297.5,431.9 298.3,431.3 299.1,431.7 299.9,431.7 300.7,431.7 301.6,432.0 302.4,431.8 303.2,431.9 304.0,432.2 304.8,431.9 305.6,431.9 306.4,432.3 307.2,432.0 308.0,432.1 308.8,432.1 309.7,432.1 310.5,432.1 311.3,432.3 312.1,432.2 312.9,432.4 313.7,432.3 314.5,432.5 315.3,432.4 316.1,432.2 316.9,432.4 317.8,432.5 318.6,432.7 319.4,432.7 320.2,432.6 321.0,432.5 321.8,432.6 322.6,432.6 323.4,432.7 324.2,432.5 325.0,432.8 325.9,432.8 326.7,432.6 327.5,432.8" fill="none" stroke="#5fe6ea" stroke-width="0.72" stroke-linejoin="round" />
<polyline points="240.8,434.7 240.8,434.8 241.6,429.6 242.4,427.8 243.2,427.1 244.0,426.7 244.9,425.9 245.7,425.5 246.5,425.3 247.3,424.7 248.1,424.6 248.9,424.3 249.7,423.9 250.5,423.6 251.3,423.7 252.1,423.4 253.0,423.4 253.8,423.5 254.6,424.3 255.4,424.6 256.2,425.3 257.0,425.5 257.8,425.7 258.6,426.7 259.4,426.8 260.2,427.0 261.1,427.4 261.9,427.8 262.7,427.7 263.5,428.2 264.3,428.7 265.1,428.6 265.9,429.2 266.7,429.0 267.5,429.5 268.3,429.6 269.2,429.6 270.0,429.9 270.8,430.3 271.6,430.5 272.4,430.3 273.2,430.5 274.0,430.8 274.8,430.7 275.6,430.9 276.4,431.0 277.2,431.5 278.1,431.3 278.9,431.3 279.7,431.4 280.5,431.5 281.3,432.0 282.1,431.7 282.9,431.8 283.7,431.6 284.5,432.1 285.4,432.1 286.2,432.1 287.0,432.1 287.8,432.3 288.6,432.2 289.4,432.5 290.2,432.4 291.0,432.5 291.8,432.5 292.6,432.7 293.5,432.8 294.3,432.5 295.1,432.7 295.9,432.8 296.7,432.7 297.5,432.7 298.3,433.0 299.1,432.9 299.9,432.8 300.7,432.9 301.6,433.0 302.4,433.3 303.2,432.9 304.0,433.0 304.8,433.1 305.6,433.1 306.4,433.1 307.2,433.2 308.0,433.3 308.8,433.3 309.7,433.3 310.5,433.3 311.3,433.4 312.1,433.2 312.9,433.5 313.7,433.2 314.5,433.5 315.3,433.3 316.1,433.2 316.9,433.3 317.8,433.5 318.6,433.4 319.4,433.4 320.2,433.7 321.0,433.5 321.8,433.4 322.6,433.5 323.4,433.5 324.2,433.4 325.0,433.4 325.9,433.4 326.7,433.5 327.5,433.6" fill="none" stroke="#3434dc" stroke-width="0.72" stroke-linejoin="round" />
<polyline points="240.8,434.7 240.8,434.7 241.6,433.3 242.4,432.6 243.2,432.4 244.0,431.8 244.9,431.4 245.7,431.2 246.5,430.8 247.3,430.5 248.1,430.4 248.9,429.9 249.7,430.3 250.5,429.9 251.3,430.0 252.1,429.5 253.0,429.1 253.8,430.1 254.6,429.9 255.4,430.1 256.2,430.4 257.0,430.5 257.8,431.0 258.6,430.8 259.4,431.0 260.2,431.2 261.1,431.4 261.9,431.4 262.7,431.7 263.5,431.7 264.3,431.9 265.1,432.3 265.9,432.1 266.7,432.2 267.5,432.2 268.3,432.5 269.2,432.5 270.0,432.4 270.8,432.6 271.6,432.5 272.4,432.5 273.2,432.9 274.0,433.1 274.8,432.8 275.6,432.8 276.4,432.9 277.2,433.0 278.1,433.2 278.9,433.3 279.7,433.1 280.5,433.4 281.3,433.6 282.1,433.5 282.9,433.1 283.7,433.2 284.5,433.6 285.4,433.6 286.2,433.5 287.0,433.7 287.8,433.4 288.6,433.6 289.4,433.8 290.2,433.5 291.0,433.8 291.8,433.7 292.6,433.7 293.5,433.8 294.3,433.7 295.1,433.9 295.9,434.1 296.7,434.1 297.5,434.0 298.3,434.0 299.1,433.9 299.9,433.9 300.7,433.8 301.6,433.9 302.4,434.0 303.2,434.0 304.0,434.2 304.8,434.0 305.6,433.9 306.4,433.9 307.2,434.0 308.0,434.0 308.8,433.9 309.7,434.0 310.5,433.9 311.3,434.0 312.1,434.0 312.9,433.9 313.7,434.1 314.5,434.1 315.3,434.2 316.1,434.2 316.9,433.9 317.8,433.9 318.6,434.1 319.4,434.0 320.2,434.0 321.0,434.0 321.8,434.0 322.6,434.3 323.4,434.2 324.2,434.1 325.0,434.0 325.9,434.2 326.7,434.3 327.5,434.2" fill="none" stroke="#3cc43c" stroke-width="0.72" stroke-linejoin="round" />
<polyline points="240.8,434.7 240.8,434.8 241.6,433.9 242.4,433.9 243.2,433.7 244.0,433.2 244.9,433.2 245.7,433.3 246.5,433.3 247.3,433.1 248.1,432.8 248.9,432.9 249.7,432.8 250.5,432.9 251.3,432.8 252.1,432.8 253.0,432.7 253.8,432.7 254.6,433.1 255.4,433.0 256.2,433.1 257.0,433.2 257.8,433.3 258.6,433.2 259.4,433.1 260.2,433.3 261.1,433.4 261.9,433.7 262.7,433.3 263.5,433.6 264.3,433.7 265.1,433.8 265.9,433.7 266.7,433.9 267.5,433.8 268.3,433.8 269.2,433.9 270.0,433.9 270.8,434.0 271.6,433.8 272.4,434.1 273.2,434.3 274.0,434.1 274.8,434.2 275.6,434.2 276.4,434.1 277.2,434.1 278.1,434.3 278.9,434.2 279.7,434.0 280.5,434.1 281.3,434.2 282.1,434.2 282.9,434.2 283.7,434.2 284.5,434.1 285.4,434.3 286.2,434.6 287.0,434.3 287.8,434.4 288.6,434.2 289.4,434.4 290.2,434.3 291.0,434.0 291.8,434.5 292.6,434.5 293.5,434.5 294.3,434.7 295.1,434.6 295.9,434.3 296.7,434.5 297.5,434.6 298.3,434.6 299.1,434.3 299.9,434.5 300.7,434.5 301.6,434.4 302.4,434.2 303.2,434.2 304.0,434.3 304.8,434.4 305.6,434.4 306.4,434.2 307.2,434.2 308.0,434.5 308.8,434.4 309.7,434.4 310.5,434.4 311.3,434.5 312.1,434.6 312.9,434.5 313.7,434.7 314.5,434.3 315.3,434.4 316.1,434.6 316.9,434.3 317.8,434.4 318.6,434.7 319.4,434.2 320.2,434.4 321.0,434.2 321.8,434.7 322.6,434.4 323.4,434.4 324.2,434.5 325.0,434.5 325.9,434.4 326.7,434.7 327.5,434.7" fill="none" stroke="#ee4cee" stroke-width="0.72" stroke-linejoin="round" />
<polyline points="240.8,434.8 240.8,434.8 241.6,434.5 242.4,434.2 243.2,434.1 244.0,434.1 244.9,434.1 245.7,434.0 246.5,433.8 247.3,433.7 248.1,433.8 248.9,433.8 249.7,433.5 250.5,433.8 251.3,433.6 252.1,433.5 253.0,433.7 253.8,433.6 254.6,433.9 255.4,433.6 256.2,433.8 257.0,434.1 257.8,433.8 258.6,434.0 259.4,433.8 260.2,434.1 261.1,434.0 261.9,434.0 262.7,434.1 263.5,434.1 264.3,434.2 265.1,434.0 265.9,434.2 266.7,434.2 267.5,434.6 268.3,434.1 269.2,434.2 270.0,434.5 270.8,434.3 271.6,434.2 272.4,434.2 273.2,434.5 274.0,434.1 274.8,434.4 275.6,434.0 276.4,434.4 277.2,434.3 278.1,434.4 278.9,434.5 279.7,434.2 280.5,434.3 281.3,434.2 282.1,434.3 282.9,434.5 283.7,434.7 284.5,434.5 285.4,434.5 286.2,434.6 287.0,434.4 287.8,434.4 288.6,434.5 289.4,434.5 290.2,434.5 291.0,434.5 291.8,434.4 292.6,434.4 293.5,434.6 294.3,434.7 295.1,434.3 295.9,434.5 296.7,434.4 297.5,434.7 298.3,434.6 299.1,434.5 299.9,434.7 300.7,434.6 301.6,434.4 302.4,434.4 303.2,434.3 304.0,434.7 304.8,434.7 305.6,434.5 306.4,434.4 307.2,434.5 308.0,434.7 308.8,434.5 309.7,434.5 310.5,434.5 311.3,434.6 312.1,434.5 312.9,434.5 313.7,434.6 314.5,434.8 315.3,434.5 316.1,434.5 316.9,434.6 317.8,434.5 318.6,434.7 319.4,434.6 320.2,434.6 321.0,434.5 321.8,434.4 322.6,434.6 323.4,434.3 324.2,434.4 325.0,434.5 325.9,434.5 326.7,434.3 327.5,434.6" fill="none" stroke="#e8a044" stroke-width="0.72" stroke-linejoin="round" />
<polyline points="240.8,434.7 241.2,425.4 241.6,421.1 242.0,419.0 242.4,418.0 242.8,417.4 243.2,417.1 243.6,416.8 244.0,416.6 244.4,416.4 244.9,416.3 245.3,416.1 245.7,416.0 246.1,415.9 246.5,415.8 246.9,415.7 247.3,415.6 247.7,415.5 248.1,415.4 248.5,415.3 248.9,415.2 249.3,415.1 249.7,415.0 250.1,415.0 250.5,414.9 250.9,414.9 251.3,414.8 251.7,414.7 252.1,414.7 252.5,414.6 253.0,414.6 253.4,415.1 253.8,415.5 254.2,415.9 254.6,416.4 255.0,416.8 258.0,419.5 261.1,421.8 264.1,423.7 267.1,425.2 270.2,426.4 273.2,427.4 276.2,428.3 279.3,429.0 282.3,429.6 285.4,430.1 288.4,430.5 291.4,430.8 294.5,431.1 297.5,431.4 300.5,431.6 303.6,431.8 306.6,431.9 309.7,432.1 312.7,432.2 315.7,432.3 318.8,432.4 321.8,432.5 324.8,432.6 327.9,432.7" fill="none" stroke="#3a3a3a" stroke-width="0.72" stroke-linejoin="round" />
<polyline points="240.8,434.7 241.2,427.2 241.6,423.6 242.0,421.8 242.4,420.8 242.8,420.2 243.2,419.8 243.6,419.5 244.0,419.2 244.4,419.0 244.9,418.7 245.3,418.5 245.7,418.3 246.1,418.1 246.5,417.9 246.9,417.8 247.3,417.6 247.7,417.5 248.1,417.3 248.5,417.2 248.9,417.1 249.3,417.0 249.7,416.9 250.1,416.8 250.5,416.7 250.9,416.6 251.3,416.5 251.7,416.4 252.1,416.3 252.5,416.3 253.0,416.2 253.4,416.6 253.8,417.0 254.2,417.4 254.6,417.8 255.0,418.2 258.0,420.7 261.1,422.8 264.1,424.5 267.1,425.9 270.2,427.1 273.2,428.0 276.2,428.8 279.3,429.4 282.3,430.0 285.4,430.4 288.4,430.8 291.4,431.1 294.5,431.4 297.5,431.6 300.5,431.8 303.6,432.0 306.6,432.2 309.7,432.3 312.7,432.4 315.7,432.5 318.8,432.6 321.8,432.7 324.8,432.8 327.9,432.9" fill="none" stroke="#3a3a3a" stroke-width="0.72" stroke-linejoin="round" />
<polyline points="240.8,434.7 241.2,432.0 241.6,430.6 242.0,429.8 242.4,429.3 242.8,428.9 243.2,428.6 243.6,428.3 244.0,428.0 244.4,427.7 244.9,427.5 245.3,427.3 245.7,427.1 246.1,426.9 246.5,426.7 246.9,426.5 247.3,426.4 247.7,426.2 248.1,426.1 248.5,425.9 248.9,425.8 249.3,425.7 249.7,425.6 250.1,425.5 250.5,425.4 250.9,425.3 251.3,425.2 251.7,425.1 252.1,425.0 252.5,424.9 253.0,424.9 253.4,425.1 253.8,425.3 254.2,425.5 254.6,425.7 255.0,425.9 258.0,427.3 261.1,428.4 264.1,429.3 267.1,430.0 270.2,430.6 273.2,431.2 276.2,431.6 279.3,431.9 282.3,432.2 285.4,432.4 288.4,432.6 291.4,432.8 294.5,432.9 297.5,433.1 300.5,433.2 303.6,433.3 306.6,433.4 309.7,433.4 312.7,433.5 315.7,433.5 318.8,433.6 321.8,433.6 324.8,433.7 327.9,433.7" fill="none" stroke="#3a3a3a" stroke-width="0.72" stroke-linejoin="round" />
<polyline points="240.8,434.7 241.2,434.0 241.6,433.6 242.0,433.3 242.4,433.0 242.8,432.8 243.2,432.6 243.6,432.5 244.0,432.3 244.4,432.2 244.9,432.0 245.3,431.9 245.7,431.8 246.1,431.7 246.5,431.5 246.9,431.4 247.3,431.3 247.7,431.3 248.1,431.2 248.5,431.1 248.9,431.0 249.3,430.9 249.7,430.9 250.1,430.8 250.5,430.7 250.9,430.7 251.3,430.6 251.7,430.6 252.1,430.5 252.5,430.5 253.0,430.4 253.4,430.5 253.8,430.6 254.2,430.7 254.6,430.8 255.0,430.9 258.0,431.5 261.1,432.0 264.1,432.4 267.1,432.7 270.2,432.9 273.2,433.2 276.2,433.3 279.3,433.5 282.3,433.6 285.4,433.7 288.4,433.8 291.4,433.9 294.5,433.9 297.5,434.0 300.5,434.0 303.6,434.1 306.6,434.1 309.7,434.1 312.7,434.2 315.7,434.2 318.8,434.2 321.8,434.2 324.8,434.3 327.9,434.3" fill="none" stroke="#3a3a3a" stroke-width="0.72" stroke-linejoin="round" />
<polyline points="240.8,434.7 241.2,434.3 241.6,434.1 242.0,434.0 242.4,433.8 242.8,433.7 243.2,433.6 243.6,433.5 244.0,433.5 244.4,433.4 244.9,433.3 245.3,433.2 245.7,433.2 246.1,433.1 246.5,433.0 246.9,433.0 247.3,432.9 247.7,432.9 248.1,432.8 248.5,432.8 248.9,432.8 249.3,432.7 249.7,432.7 250.1,432.6 250.5,432.6 250.9,432.6 251.3,432.6 251.7,432.5 252.1,432.5 252.5,432.5 253.0,432.5 253.4,432.5 253.8,432.6 254.2,432.6 254.6,432.7 255.0,432.7 258.0,433.0 261.1,433.3 264.1,433.5 267.1,433.6 270.2,433.8 273.2,433.9 276.2,434.0 279.3,434.1 282.3,434.1 285.4,434.2 288.4,434.2 291.4,434.3 294.5,434.3 297.5,434.3 300.5,434.4 303.6,434.4 306.6,434.4 309.7,434.4 312.7,434.4 315.7,434.4 318.8,434.4 321.8,434.5 324.8,434.5 327.9,434.5" fill="none" stroke="#3a3a3a" stroke-width="0.72" stroke-linejoin="round" />
<polyline points="240.8,434.7 241.2,434.6 241.6,434.5 242.0,434.4 242.4,434.3 242.8,434.3 243.2,434.2 243.6,434.2 244.0,434.1 244.4,434.1 244.9,434.1 245.3,434.0 245.7,434.0 246.1,434.0 246.5,433.9 246.9,433.9 247.3,433.9 247.7,433.9 248.1,433.8 248.5,433.8 248.9,433.8 249.3,433.8 249.7,433.8 250.1,433.7 250.5,433.7 250.9,433.7 251.3,433.7 251.7,433.7 252.1,433.7 252.5,433.7 253.0,433.6 253.4,433.7 253.8,433.7 254.2,433.7 254.6,433.7 255.0,433.8 258.0,433.9 261.1,434.0 264.1,434.1 267.1,434.2 270.2,434.3 273.2,434.3 276.2,434.4 279.3,434.4 282.3,434.4 285.4,434.5 288.4,434.5 291.4,434.5 294.5,434.5 297.5,434.5 300.5,434.5 303.6,434.5 306.6,434.6 309.7,434.6 312.7,434.6 315.7,434.6 318.8,434.6 321.8,434.6 324.8,434.6 327.9,434.6" fill="none" stroke="#3a3a3a" stroke-width="0.72" stroke-linejoin="round" />
<polyline points="194.2,434.7 195.0,434.8 195.8,434.6 196.7,434.5 197.5,434.6 198.3,434.6 199.1,434.7 199.9,434.7 200.7,434.9 201.5,434.6 202.3,434.8 203.1,434.9 203.9,434.8 204.8,434.8 205.6,434.6 206.4,434.6 207.2,434.9 208.0,434.6 208.8,434.6 209.6,434.8 210.4,434.9 211.2,434.8 212.0,434.8 212.9,434.7 213.7,434.7 214.5,435.0 215.3,434.7 216.1,434.9 216.9,434.6 217.7,434.9 218.5,434.8 219.3,434.8 220.1,434.8 221.0,434.5 221.8,434.6 222.6,434.6 223.4,434.7 224.2,434.9 225.0,434.8 225.8,434.8 226.6,434.8 227.4,434.6 228.2,434.8 229.1,434.8 229.9,434.8 230.7,435.0 231.5,434.6 232.3,434.5 233.1,434.7 233.9,434.8 234.7,435.1 235.5,434.7 236.3,434.5 237.2,434.7 238.0,434.6 238.8,434.5 239.6,434.5 240.4,434.8" fill="none" stroke="#ee4a9c" stroke-width="0.96" stroke-linejoin="round" stroke-dasharray="1.6 8.0" stroke-dashoffset="0.0"/>
<polyline points="194.2,434.6 195.0,434.6 195.8,434.9 196.7,434.8 197.5,434.9 198.3,434.7 199.1,434.6 199.9,434.8 200.7,435.0 201.5,434.5 202.3,434.6 203.1,434.5 203.9,434.9 204.8,434.6 205.6,434.4 206.4,434.4 207.2,434.7 208.0,434.7 208.8,434.7 209.6,434.6 210.4,434.6 211.2,434.7 212.0,434.9 212.9,434.6 213.7,434.8 214.5,434.6 215.3,434.7 216.1,434.5 216.9,434.5 217.7,434.8 218.5,434.7 219.3,434.5 220.1,434.8 221.0,434.6 221.8,434.5 222.6,434.5 223.4,434.6 224.2,434.9 225.0,434.9 225.8,434.7 226.6,434.6 227.4,434.4 228.2,434.8 229.1,434.5 229.9,434.6 230.7,434.9 231.5,434.8 232.3,434.7 233.1,434.8 233.9,434.7 234.7,434.6 235.5,434.8 236.3,434.6 237.2,434.8 238.0,434.8 238.8,434.6 239.6,434.8 240.4,434.7" fill="none" stroke="#5fe6ea" stroke-width="0.96" stroke-linejoin="round" stroke-dasharray="1.6 8.0" stroke-dashoffset="1.6"/>
<polyline points="194.2,434.5 195.0,434.7 195.8,434.7 196.7,434.6 197.5,434.8 198.3,434.6 199.1,434.9 199.9,434.6 200.7,434.8 201.5,434.8 202.3,434.5 203.1,434.8 203.9,434.5 204.8,434.6 205.6,434.5 206.4,434.8 207.2,434.5 208.0,434.5 208.8,434.7 209.6,434.7 210.4,434.4 211.2,434.7 212.0,434.8 212.9,434.8 213.7,434.6 214.5,434.7 215.3,434.7 216.1,434.5 216.9,434.7 217.7,434.6 218.5,434.5 219.3,434.8 220.1,434.6 221.0,434.4 221.8,434.9 222.6,434.9 223.4,434.8 224.2,435.0 225.0,434.6 225.8,435.0 226.6,434.6 227.4,434.5 228.2,434.9 229.1,434.7 229.9,435.0 230.7,434.6 231.5,434.8 232.3,434.7 233.1,434.7 233.9,434.6 234.7,434.7 235.5,434.7 236.3,434.8 237.2,434.7 238.0,434.9 238.8,434.7 239.6,435.0 240.4,434.8" fill="none" stroke="#3434dc" stroke-width="0.96" stroke-linejoin="round" stroke-dasharray="1.6 8.0" stroke-dashoffset="3.2"/>
<polyline points="194.2,434.4 195.0,434.7 195.8,434.9 196.7,434.7 197.5,434.8 198.3,434.9 199.1,434.8 199.9,434.6 200.7,434.6 201.5,434.7 202.3,434.8 203.1,434.8 203.9,434.5 204.8,434.7 205.6,434.8 206.4,435.0 207.2,434.9 208.0,434.4 208.8,434.9 209.6,434.7 210.4,434.7 211.2,434.7 212.0,434.7 212.9,434.9 213.7,434.8 214.5,434.5 215.3,434.8 216.1,434.6 216.9,434.9 217.7,434.7 218.5,434.7 219.3,434.6 220.1,434.9 221.0,434.6 221.8,434.6 222.6,434.8 223.4,434.6 224.2,434.8 225.0,434.8 225.8,434.7 226.6,435.1 227.4,434.7 228.2,434.8 229.1,434.9 229.9,434.8 230.7,434.6 231.5,434.8 232.3,434.5 233.1,434.9 233.9,434.9 234.7,434.5 235.5,434.6 236.3,434.6 237.2,434.8 238.0,434.6 238.8,434.7 239.6,434.6 240.4,434.7" fill="none" stroke="#3cc43c" stroke-width="0.96" stroke-linejoin="round" stroke-dasharray="1.6 8.0" stroke-dashoffset="4.8"/>
<polyline points="194.2,434.5 195.0,434.8 195.8,434.8 196.7,434.9 197.5,434.5 198.3,434.8 199.1,434.8 199.9,434.8 200.7,434.8 201.5,434.9 202.3,434.7 203.1,434.8 203.9,434.8 204.8,434.8 205.6,434.7 206.4,434.8 207.2,434.7 208.0,434.7 208.8,434.7 209.6,435.0 210.4,434.8 211.2,434.8 212.0,434.6 212.9,434.9 213.7,434.8 214.5,434.7 215.3,434.7 216.1,434.6 216.9,434.8 217.7,434.6 218.5,434.9 219.3,434.9 220.1,434.5 221.0,434.6 221.8,434.6 222.6,434.7 223.4,434.6 224.2,434.9 225.0,434.6 225.8,434.8 226.6,434.6 227.4,434.7 228.2,435.0 229.1,434.9 229.9,434.5 230.7,434.7 231.5,434.8 232.3,434.7 233.1,434.8 233.9,434.8 234.7,434.7 235.5,434.7 236.3,434.5 237.2,434.7 238.0,434.4 238.8,434.5 239.6,434.5 240.4,434.6" fill="none" stroke="#ee4cee" stroke-width="0.96" stroke-linejoin="round" stroke-dasharray="1.6 8.0" stroke-dashoffset="6.4"/>
<polyline points="194.2,434.7 195.0,434.7 195.8,434.7 196.7,434.8 197.5,434.7 198.3,434.8 199.1,434.5 199.9,434.6 200.7,434.8 201.5,435.0 202.3,434.7 203.1,434.8 203.9,434.8 204.8,434.9 205.6,435.0 206.4,434.6 207.2,434.7 208.0,434.3 208.8,434.7 209.6,434.7 210.4,434.5 211.2,434.7 212.0,434.7 212.9,434.8 213.7,434.8 214.5,434.5 215.3,434.6 216.1,434.5 216.9,434.7 217.7,434.7 218.5,434.8 219.3,434.6 220.1,434.9 221.0,434.6 221.8,434.5 222.6,434.5 223.4,434.8 224.2,434.6 225.0,434.8 225.8,434.8 226.6,434.9 227.4,434.5 228.2,434.5 229.1,434.8 229.9,434.8 230.7,434.7 231.5,434.4 232.3,434.6 233.1,434.8 233.9,434.9 234.7,434.8 235.5,434.5 236.3,434.4 237.2,434.7 238.0,434.8 238.8,434.8 239.6,435.0 240.4,434.6" fill="none" stroke="#e8a044" stroke-width="0.96" stroke-linejoin="round" stroke-dasharray="1.6 8.0" stroke-dashoffset="8.0"/>
<line x1="184.90" y1="399.30" x2="184.90" y2="438.30" stroke="#222" stroke-width="0.8" />
<line x1="184.50" y1="438.30" x2="330.60" y2="438.30" stroke="#222" stroke-width="0.8" />
<line x1="182.90" y1="434.70" x2="184.90" y2="434.70" stroke="#222" stroke-width="0.7" />
<text x="181.5" y="437.4" text-anchor="end" font-size="7.45" >0</text>
<line x1="182.90" y1="421.00" x2="184.90" y2="421.00" stroke="#222" stroke-width="0.7" />
<text x="181.5" y="423.7" text-anchor="end" font-size="7.45" >100</text>
<line x1="182.90" y1="407.30" x2="184.90" y2="407.30" stroke="#222" stroke-width="0.7" />
<text x="181.5" y="410.0" text-anchor="end" font-size="7.45" >200</text>
<line x1="190.18" y1="438.30" x2="190.18" y2="440.00" stroke="#222" stroke-width="0.7" />
<line x1="200.30" y1="438.30" x2="200.30" y2="440.00" stroke="#222" stroke-width="0.7" />
<line x1="210.43" y1="438.30" x2="210.43" y2="440.00" stroke="#222" stroke-width="0.7" />
<line x1="220.55" y1="438.30" x2="220.55" y2="440.00" stroke="#222" stroke-width="0.7" />
<line x1="230.68" y1="438.30" x2="230.68" y2="440.00" stroke="#222" stroke-width="0.7" />
<line x1="240.80" y1="438.30" x2="240.80" y2="440.00" stroke="#222" stroke-width="0.7" />
<line x1="250.93" y1="438.30" x2="250.93" y2="440.00" stroke="#222" stroke-width="0.7" />
<line x1="261.05" y1="438.30" x2="261.05" y2="440.00" stroke="#222" stroke-width="0.7" />
<line x1="271.18" y1="438.30" x2="271.18" y2="440.00" stroke="#222" stroke-width="0.7" />
<line x1="281.30" y1="438.30" x2="281.30" y2="440.00" stroke="#222" stroke-width="0.7" />
<line x1="291.43" y1="438.30" x2="291.43" y2="440.00" stroke="#222" stroke-width="0.7" />
<line x1="301.55" y1="438.30" x2="301.55" y2="440.00" stroke="#222" stroke-width="0.7" />
<line x1="311.68" y1="438.30" x2="311.68" y2="440.00" stroke="#222" stroke-width="0.7" />
<line x1="321.80" y1="438.30" x2="321.80" y2="440.00" stroke="#222" stroke-width="0.7" />
<text x="200.3" y="446.5" text-anchor="middle" font-size="7.45" >-200</text>
<text x="220.6" y="446.5" text-anchor="middle" font-size="7.45" >-100</text>
<text x="240.8" y="446.5" text-anchor="middle" font-size="7.45" >0</text>
<text x="261.1" y="446.5" text-anchor="middle" font-size="7.45" >100</text>
<text x="281.3" y="446.5" text-anchor="middle" font-size="7.45" >200</text>
<text x="301.6" y="446.5" text-anchor="middle" font-size="7.45" >300</text>
<text x="321.8" y="446.5" text-anchor="middle" font-size="7.45" >400</text>
<text x="254.6" y="395.3" text-anchor="middle" font-size="7.45" >Env gp151 ND</text>
<text x="195.3" y="420.0" font-size="7.45"><tspan font-style="italic">K</tspan><tspan font-size="4.32" dy="2.5">D</tspan><tspan dy="-2.5">= 250 nM</tspan></text>
<line x1="25.70" y1="500.10" x2="164.70" y2="500.10" stroke="#d4d4d4" stroke-width="0.7" />
<line x1="77.90" y1="464.30" x2="77.90" y2="503.10" stroke="#b0b0b0" stroke-width="0.6" />
<polyline points="77.9,500.2 77.9,500.0 78.7,480.7 79.5,473.4 80.3,470.6 81.1,469.7 81.9,469.2 82.7,469.1 83.5,469.2 84.3,469.0 85.1,468.9 85.9,469.3 86.7,468.8 87.5,469.0 88.3,468.9 89.1,469.3 89.9,469.1 90.7,469.1 91.5,469.0 92.3,469.4 93.1,469.4 93.9,469.6 94.7,469.4 95.5,469.3 96.3,469.6 97.1,469.5 97.9,469.4 98.7,469.3 99.5,469.5 100.3,469.7 101.1,469.8 101.9,469.8 102.7,469.8 103.5,469.8 104.3,469.9 105.1,469.7 105.9,469.9 106.7,470.1 107.5,469.8 108.3,469.9 109.1,470.1 109.9,470.2 110.7,470.4 111.5,470.4 112.3,470.2 113.1,470.4 113.9,470.5 114.7,470.4 115.5,470.4 116.3,470.4 117.1,470.4 117.9,470.4 118.7,470.7 119.5,470.5 120.3,470.8 121.1,470.6 121.9,470.8 122.7,470.8 123.5,470.7 124.3,470.9 125.1,470.8 125.9,470.9 126.7,471.0 127.5,471.2 128.3,471.2 129.1,471.2 129.9,471.2 130.7,471.3 131.5,470.9 132.3,471.2 133.1,471.3 133.9,471.5 134.7,471.6 135.5,471.5 136.3,471.5 137.1,471.7 137.9,471.4 138.7,471.7 139.5,471.6 140.3,472.1 141.1,471.8 141.9,471.8 142.7,471.8 143.5,471.8 144.3,471.9 145.1,472.0 145.9,472.3 146.7,472.2 147.5,472.4 148.3,472.1 149.1,472.1 149.9,472.3 150.7,472.4 151.5,472.4 152.3,472.1 153.1,472.1 153.9,472.4 154.7,472.3 155.5,472.7 156.3,472.8 157.1,472.7 157.9,472.7 158.7,472.7 159.5,472.7 160.3,472.3 161.1,472.9" fill="none" stroke="#ee4a9c" stroke-width="0.72" stroke-linejoin="round" />
<polyline points="77.9,500.1 77.9,500.1 78.7,484.0 79.5,476.6 80.3,473.3 81.1,472.2 81.9,471.4 82.7,471.1 83.5,470.9 84.3,471.1 85.1,471.1 85.9,471.2 86.7,470.8 87.5,470.8 88.3,470.8 89.1,471.2 89.9,470.9 90.7,471.0 91.5,471.1 92.3,471.1 93.1,471.0 93.9,471.0 94.7,471.2 95.5,471.1 96.3,471.3 97.1,471.3 97.9,471.4 98.7,471.3 99.5,471.5 100.3,471.5 101.1,471.6 101.9,471.7 102.7,471.4 103.5,471.7 104.3,471.7 105.1,471.5 105.9,471.7 106.7,472.1 107.5,471.9 108.3,471.9 109.1,471.8 109.9,471.9 110.7,472.1 111.5,472.4 112.3,472.4 113.1,472.3 113.9,472.3 114.7,472.6 115.5,472.5 116.3,472.6 117.1,472.6 117.9,472.6 118.7,472.7 119.5,472.9 120.3,472.6 121.1,472.6 121.9,472.9 122.7,472.8 123.5,472.9 124.3,472.9 125.1,473.0 125.9,473.2 126.7,473.1 127.5,473.1 128.3,473.4 129.1,473.0 129.9,473.1 130.7,473.2 131.5,473.2 132.3,473.4 133.1,473.6 133.9,473.7 134.7,473.8 135.5,473.7 136.3,473.7 137.1,473.7 137.9,474.1 138.7,473.6 139.5,473.6 140.3,474.0 141.1,473.9 141.9,474.0 142.7,474.1 143.5,474.2 144.3,474.2 145.1,474.4 145.9,474.3 146.7,474.4 147.5,474.4 148.3,474.6 149.1,474.5 149.9,474.5 150.7,474.5 151.5,474.8 152.3,474.6 153.1,474.6 153.9,474.7 154.7,474.9 155.5,474.9 156.3,474.9 157.1,474.8 157.9,474.8 158.7,475.1 159.5,475.2 160.3,475.1 161.1,475.1" fill="none" stroke="#5fe6ea" stroke-width="0.72" stroke-linejoin="round" />
<polyline points="77.9,500.2 77.9,500.2 78.7,493.1 79.5,487.9 80.3,484.5 81.1,481.8 81.9,479.7 82.7,478.5 83.5,477.3 84.3,476.5 85.1,476.0 85.9,475.8 86.7,475.3 87.5,475.2 88.3,474.9 89.1,475.0 89.9,474.6 90.7,475.0 91.5,474.9 92.3,474.9 93.1,474.8 93.9,475.0 94.7,474.9 95.5,475.1 96.3,475.0 97.1,474.9 97.9,475.2 98.7,475.1 99.5,475.3 100.3,475.1 101.1,475.1 101.9,475.3 102.7,475.5 103.5,475.3 104.3,475.3 105.1,475.3 105.9,475.4 106.7,475.8 107.5,475.6 108.3,475.4 109.1,475.8 109.9,475.5 110.7,475.4 111.5,475.6 112.3,475.6 113.1,475.8 113.9,476.0 114.7,475.9 115.5,475.9 116.3,475.9 117.1,475.9 117.9,476.0 118.7,476.0 119.5,476.0 120.3,476.1 121.1,475.9 121.9,476.1 122.7,476.2 123.5,476.3 124.3,476.3 125.1,476.1 125.9,476.3 126.7,476.5 127.5,476.5 128.3,476.4 129.1,476.5 129.9,476.3 130.7,476.7 131.5,476.5 132.3,476.6 133.1,476.8 133.9,476.7 134.7,476.7 135.5,476.7 136.3,476.8 137.1,476.7 137.9,477.0 138.7,477.0 139.5,476.8 140.3,476.8 141.1,477.0 141.9,477.1 142.7,476.9 143.5,477.3 144.3,477.2 145.1,477.0 145.9,477.1 146.7,477.3 147.5,477.5 148.3,477.0 149.1,477.3 149.9,477.4 150.7,477.3 151.5,477.2 152.3,477.8 153.1,477.3 153.9,477.4 154.7,477.8 155.5,477.4 156.3,477.8 157.1,477.4 157.9,477.6 158.7,477.3 159.5,477.8 160.3,477.7 161.1,477.6" fill="none" stroke="#3434dc" stroke-width="0.72" stroke-linejoin="round" />
<polyline points="77.9,500.1 77.9,500.2 78.7,497.4 79.5,495.1 80.3,493.3 81.1,491.4 81.9,489.9 82.7,488.8 83.5,487.5 84.3,486.9 85.1,485.9 85.9,485.5 86.7,484.8 87.5,484.7 88.3,484.0 89.1,483.7 89.9,483.5 90.7,483.5 91.5,483.5 92.3,483.6 93.1,483.8 93.9,483.6 94.7,483.6 95.5,483.6 96.3,483.7 97.1,483.6 97.9,483.5 98.7,483.7 99.5,483.7 100.3,483.5 101.1,483.6 101.9,483.6 102.7,483.6 103.5,483.8 104.3,483.8 105.1,483.6 105.9,483.9 106.7,483.8 107.5,483.8 108.3,483.8 109.1,483.9 109.9,483.8 110.7,483.9 111.5,483.8 112.3,483.8 113.1,483.9 113.9,483.9 114.7,484.2 115.5,484.2 116.3,484.1 117.1,484.0 117.9,483.9 118.7,484.3 119.5,484.1 120.3,484.3 121.1,484.3 121.9,484.2 122.7,484.1 123.5,484.2 124.3,484.1 125.1,484.4 125.9,484.2 126.7,484.2 127.5,484.3 128.3,484.3 129.1,484.4 129.9,484.5 130.7,484.5 131.5,484.5 132.3,484.0 133.1,484.5 133.9,484.2 134.7,484.5 135.5,484.5 136.3,484.4 137.1,484.7 137.9,484.4 138.7,484.5 139.5,484.8 140.3,484.5 141.1,484.6 141.9,484.6 142.7,484.5 143.5,484.8 144.3,484.6 145.1,484.6 145.9,484.9 146.7,484.6 147.5,485.0 148.3,485.0 149.1,484.8 149.9,485.0 150.7,484.9 151.5,485.1 152.3,484.9 153.1,485.1 153.9,484.9 154.7,485.2 155.5,484.9 156.3,485.0 157.1,485.0 157.9,485.0 158.7,485.0 159.5,485.2 160.3,485.4 161.1,485.1" fill="none" stroke="#3cc43c" stroke-width="0.72" stroke-linejoin="round" />
<polyline points="77.9,500.2 77.9,500.2 78.7,498.7 79.5,498.0 80.3,496.8 81.1,496.0 81.9,495.4 82.7,494.6 83.5,494.2 84.3,493.8 85.1,493.5 85.9,492.9 86.7,492.9 87.5,492.5 88.3,492.3 89.1,492.5 89.9,492.2 90.7,492.1 91.5,492.0 92.3,492.0 93.1,492.0 93.9,491.9 94.7,492.1 95.5,492.1 96.3,492.0 97.1,492.2 97.9,492.0 98.7,492.3 99.5,492.0 100.3,492.1 101.1,492.4 101.9,492.0 102.7,492.1 103.5,492.1 104.3,492.3 105.1,492.2 105.9,491.9 106.7,492.3 107.5,492.6 108.3,492.3 109.1,492.3 109.9,492.2 110.7,492.2 111.5,492.3 112.3,492.3 113.1,492.0 113.9,492.4 114.7,491.9 115.5,492.2 116.3,492.3 117.1,492.1 117.9,492.1 118.7,492.3 119.5,492.1 120.3,492.4 121.1,492.3 121.9,492.0 122.7,492.2 123.5,492.4 124.3,492.1 125.1,492.1 125.9,492.2 126.7,492.5 127.5,492.3 128.3,492.2 129.1,492.1 129.9,492.0 130.7,492.3 131.5,492.3 132.3,492.2 133.1,492.1 133.9,492.4 134.7,492.1 135.5,492.6 136.3,492.1 137.1,492.3 137.9,492.2 138.7,492.2 139.5,492.4 140.3,492.3 141.1,492.2 141.9,492.2 142.7,492.4 143.5,492.4 144.3,492.6 145.1,491.9 145.9,492.3 146.7,492.3 147.5,492.5 148.3,492.2 149.1,492.4 149.9,492.1 150.7,492.2 151.5,492.3 152.3,492.2 153.1,492.5 153.9,492.4 154.7,492.4 155.5,492.5 156.3,492.3 157.1,492.4 157.9,492.1 158.7,492.8 159.5,492.4 160.3,492.5 161.1,492.4" fill="none" stroke="#ee4cee" stroke-width="0.72" stroke-linejoin="round" />
<polyline points="77.9,500.1 77.9,500.0 78.7,499.6 79.5,499.3 80.3,498.9 81.1,498.6 81.9,498.7 82.7,498.3 83.5,498.2 84.3,498.1 85.1,497.8 85.9,497.7 86.7,497.6 87.5,497.6 88.3,497.5 89.1,497.5 89.9,497.3 90.7,497.2 91.5,497.1 92.3,497.2 93.1,497.5 93.9,497.4 94.7,497.5 95.5,497.3 96.3,497.1 97.1,497.3 97.9,497.7 98.7,497.5 99.5,497.5 100.3,497.3 101.1,497.4 101.9,497.3 102.7,497.1 103.5,497.5 104.3,497.5 105.1,497.1 105.9,497.3 106.7,497.5 107.5,497.6 108.3,497.6 109.1,497.7 109.9,497.4 110.7,497.4 111.5,497.2 112.3,497.4 113.1,497.5 113.9,497.5 114.7,497.1 115.5,497.6 116.3,497.4 117.1,497.4 117.9,497.3 118.7,497.4 119.5,497.3 120.3,497.3 121.1,497.4 121.9,497.4 122.7,497.4 123.5,497.5 124.3,497.4 125.1,497.4 125.9,497.4 126.7,497.2 127.5,497.2 128.3,497.5 129.1,497.3 129.9,497.4 130.7,497.3 131.5,497.4 132.3,497.4 133.1,497.5 133.9,497.5 134.7,497.3 135.5,497.2 136.3,497.3 137.1,497.3 137.9,497.4 138.7,497.5 139.5,497.7 140.3,497.3 141.1,497.4 141.9,497.5 142.7,497.5 143.5,497.2 144.3,497.7 145.1,497.2 145.9,497.3 146.7,497.1 147.5,497.5 148.3,497.4 149.1,497.5 149.9,497.4 150.7,497.5 151.5,497.5 152.3,497.3 153.1,497.5 153.9,497.5 154.7,497.4 155.5,497.5 156.3,497.5 157.1,497.4 157.9,497.5 158.7,497.6 159.5,497.4 160.3,497.5 161.1,497.2" fill="none" stroke="#e8a044" stroke-width="0.72" stroke-linejoin="round" />
<polyline points="77.9,500.1 78.3,481.6 78.7,474.8 79.1,472.3 79.5,471.4 79.9,471.0 80.3,470.9 80.7,470.9 81.1,470.9 81.5,470.8 81.9,470.8 82.3,470.8 82.7,470.8 83.1,470.8 83.5,470.8 83.9,470.8 84.3,470.8 84.7,470.8 85.1,470.8 85.5,470.8 85.9,470.8 86.3,470.8 86.7,470.8 87.1,470.8 87.5,470.8 87.9,470.8 88.3,470.8 88.7,470.8 89.1,470.8 89.5,470.8 89.9,470.8 90.3,470.9 90.7,470.9 91.1,470.9 91.5,470.9 91.9,471.0 94.9,471.2 97.9,471.4 100.9,471.6 103.9,471.8 106.9,471.9 109.9,472.1 112.9,472.3 115.9,472.5 118.9,472.7 121.9,472.9 124.9,473.1 127.9,473.2 130.9,473.4 133.9,473.6 136.9,473.8 139.9,474.0 142.9,474.1 145.9,474.3 148.9,474.5 151.9,474.7 154.9,474.8 157.9,475.0 160.9,475.2 161.5,475.2" fill="none" stroke="#3a3a3a" stroke-width="0.72" stroke-linejoin="round" />
<polyline points="77.9,500.1 78.3,494.1 78.7,489.3 79.1,485.6 79.5,482.6 79.9,480.3 80.3,478.5 80.7,477.1 81.1,476.0 81.5,475.1 81.9,474.4 82.3,473.8 82.7,473.4 83.1,473.1 83.5,472.8 83.9,472.6 84.3,472.4 84.7,472.3 85.1,472.2 85.5,472.1 85.9,472.0 86.3,472.0 86.7,472.0 87.1,471.9 87.5,471.9 87.9,471.9 88.3,471.9 88.7,471.9 89.1,471.8 89.5,471.8 89.9,471.8 90.3,471.9 90.7,471.9 91.1,471.9 91.5,471.9 91.9,472.0 94.9,472.1 97.9,472.3 100.9,472.5 103.9,472.7 106.9,472.9 109.9,473.1 112.9,473.3 115.9,473.4 118.9,473.6 121.9,473.8 124.9,474.0 127.9,474.1 130.9,474.3 133.9,474.5 136.9,474.7 139.9,474.8 142.9,475.0 145.9,475.2 148.9,475.3 151.9,475.5 154.9,475.7 157.9,475.8 160.9,476.0 161.5,476.0" fill="none" stroke="#3a3a3a" stroke-width="0.72" stroke-linejoin="round" />
<polyline points="77.9,500.1 78.3,496.4 78.7,493.3 79.1,490.6 79.5,488.4 79.9,486.4 80.3,484.8 80.7,483.4 81.1,482.2 81.5,481.1 81.9,480.3 82.3,479.5 82.7,478.9 83.1,478.4 83.5,477.9 83.9,477.5 84.3,477.2 84.7,476.9 85.1,476.7 85.5,476.4 85.9,476.3 86.3,476.1 86.7,476.0 87.1,475.9 87.5,475.8 87.9,475.7 88.3,475.6 88.7,475.6 89.1,475.5 89.5,475.5 89.9,475.5 90.3,475.5 90.7,475.5 91.1,475.5 91.5,475.5 91.9,475.6 94.9,475.7 97.9,475.8 100.9,475.9 103.9,476.1 106.9,476.2 109.9,476.3 112.9,476.4 115.9,476.6 118.9,476.7 121.9,476.8 124.9,476.9 127.9,477.0 130.9,477.2 133.9,477.3 136.9,477.4 139.9,477.5 142.9,477.6 145.9,477.8 148.9,477.9 151.9,478.0 154.9,478.1 157.9,478.2 160.9,478.3 161.5,478.4" fill="none" stroke="#3a3a3a" stroke-width="0.72" stroke-linejoin="round" />
<polyline points="77.9,500.1 78.3,498.7 78.7,497.4 79.1,496.2 79.5,495.1 79.9,494.1 80.3,493.2 80.7,492.3 81.1,491.5 81.5,490.8 81.9,490.1 82.3,489.4 82.7,488.9 83.1,488.3 83.5,487.8 83.9,487.4 84.3,486.9 84.7,486.6 85.1,486.2 85.5,485.9 85.9,485.6 86.3,485.3 86.7,485.0 87.1,484.8 87.5,484.6 87.9,484.3 88.3,484.2 88.7,484.0 89.1,483.8 89.5,483.7 89.9,483.5 90.3,483.5 90.7,483.6 91.1,483.6 91.5,483.6 91.9,483.6 94.9,483.7 97.9,483.7 100.9,483.8 103.9,483.9 106.9,484.0 109.9,484.0 112.9,484.1 115.9,484.2 118.9,484.2 121.9,484.3 124.9,484.4 127.9,484.5 130.9,484.5 133.9,484.6 136.9,484.7 139.9,484.7 142.9,484.8 145.9,484.9 148.9,484.9 151.9,485.0 154.9,485.1 157.9,485.1 160.9,485.2 161.5,485.2" fill="none" stroke="#3a3a3a" stroke-width="0.72" stroke-linejoin="round" />
<polyline points="77.9,500.1 78.3,499.6 78.7,499.2 79.1,498.8 79.5,498.4 79.9,498.1 80.3,497.8 80.7,497.5 81.1,497.2 81.5,497.0 81.9,496.8 82.3,496.5 82.7,496.4 83.1,496.2 83.5,496.0 83.9,495.9 84.3,495.7 84.7,495.6 85.1,495.5 85.5,495.4 85.9,495.3 86.3,495.2 86.7,495.1 87.1,495.0 87.5,494.9 87.9,494.8 88.3,494.8 88.7,494.7 89.1,494.7 89.5,494.6 89.9,494.6 90.3,494.6 90.7,494.6 91.1,494.6 91.5,494.6 91.9,494.6 94.9,494.6 97.9,494.6 100.9,494.6 103.9,494.6 106.9,494.6 109.9,494.6 112.9,494.6 115.9,494.7 118.9,494.7 121.9,494.7 124.9,494.7 127.9,494.7 130.9,494.7 133.9,494.7 136.9,494.7 139.9,494.7 142.9,494.7 145.9,494.7 148.9,494.7 151.9,494.7 154.9,494.8 157.9,494.8 160.9,494.8 161.5,494.8" fill="none" stroke="#3a3a3a" stroke-width="0.72" stroke-linejoin="round" />
<polyline points="77.9,500.1 78.3,499.8 78.7,499.6 79.1,499.3 79.5,499.1 79.9,498.9 80.3,498.7 80.7,498.6 81.1,498.4 81.5,498.3 81.9,498.1 82.3,498.0 82.7,497.9 83.1,497.8 83.5,497.7 83.9,497.6 84.3,497.5 84.7,497.4 85.1,497.4 85.5,497.3 85.9,497.2 86.3,497.2 86.7,497.1 87.1,497.1 87.5,497.0 87.9,497.0 88.3,497.0 88.7,496.9 89.1,496.9 89.5,496.9 89.9,496.8 90.3,496.8 90.7,496.8 91.1,496.8 91.5,496.8 91.9,496.8 94.9,496.8 97.9,496.9 100.9,496.9 103.9,496.9 106.9,496.9 109.9,496.9 112.9,496.9 115.9,496.9 118.9,496.9 121.9,496.9 124.9,496.9 127.9,496.9 130.9,496.9 133.9,496.9 136.9,496.9 139.9,496.9 142.9,496.9 145.9,496.9 148.9,496.9 151.9,496.9 154.9,496.9 157.9,496.9 160.9,497.0 161.5,497.0" fill="none" stroke="#3a3a3a" stroke-width="0.72" stroke-linejoin="round" />
<polyline points="31.9,500.3 32.7,500.0 33.5,500.2 34.3,500.1 35.1,500.1 35.9,500.1 36.7,500.0 37.5,499.9 38.3,500.2 39.1,499.9 39.9,500.0 40.7,500.0 41.5,500.2 42.3,500.0 43.1,500.1 43.9,500.1 44.7,500.1 45.5,500.0 46.3,499.9 47.1,499.9 47.9,500.1 48.7,500.0 49.5,499.9 50.3,500.2 51.1,499.9 51.9,500.3 52.7,500.0 53.5,500.0 54.3,499.9 55.1,500.1 55.9,500.2 56.7,500.2 57.5,500.3 58.3,500.0 59.1,500.1 59.9,500.2 60.7,500.0 61.5,500.2 62.3,500.2 63.1,500.2 63.9,499.9 64.7,499.9 65.5,500.1 66.3,500.3 67.1,500.1 67.9,500.1 68.7,500.1 69.5,500.0 70.3,500.1 71.1,500.0 71.9,500.0 72.7,500.1 73.5,500.2 74.3,500.2 75.1,500.0 75.9,500.3 76.7,500.1 77.5,500.2" fill="none" stroke="#ee4a9c" stroke-width="0.96" stroke-linejoin="round" stroke-dasharray="1.6 8.0" stroke-dashoffset="0.0"/>
<polyline points="31.9,500.3 32.7,500.0 33.5,500.1 34.3,500.1 35.1,500.0 35.9,500.3 36.7,500.1 37.5,500.1 38.3,500.0 39.1,500.2 39.9,500.0 40.7,500.1 41.5,499.9 42.3,499.9 43.1,500.0 43.9,499.8 44.7,500.1 45.5,500.2 46.3,500.1 47.1,500.2 47.9,500.1 48.7,500.4 49.5,500.1 50.3,500.0 51.1,500.0 51.9,500.1 52.7,499.9 53.5,500.2 54.3,500.1 55.1,500.4 55.9,500.2 56.7,500.2 57.5,499.9 58.3,500.0 59.1,500.2 59.9,500.0 60.7,500.0 61.5,500.1 62.3,500.1 63.1,500.1 63.9,500.2 64.7,500.3 65.5,500.1 66.3,499.9 67.1,499.9 67.9,500.1 68.7,500.2 69.5,500.1 70.3,500.0 71.1,500.1 71.9,500.2 72.7,500.1 73.5,500.1 74.3,500.0 75.1,500.2 75.9,500.3 76.7,500.1 77.5,500.0" fill="none" stroke="#5fe6ea" stroke-width="0.96" stroke-linejoin="round" stroke-dasharray="1.6 8.0" stroke-dashoffset="1.6"/>
<polyline points="31.9,500.2 32.7,500.1 33.5,500.0 34.3,500.2 35.1,500.2 35.9,499.8 36.7,500.0 37.5,500.0 38.3,500.2 39.1,499.9 39.9,500.3 40.7,500.2 41.5,500.0 42.3,499.9 43.1,500.2 43.9,500.2 44.7,500.1 45.5,500.4 46.3,500.0 47.1,500.0 47.9,500.2 48.7,500.0 49.5,500.0 50.3,500.1 51.1,500.0 51.9,499.9 52.7,500.2 53.5,500.1 54.3,500.2 55.1,500.0 55.9,500.2 56.7,500.0 57.5,500.1 58.3,500.1 59.1,499.9 59.9,500.1 60.7,499.9 61.5,500.0 62.3,499.9 63.1,500.1 63.9,500.0 64.7,500.0 65.5,500.2 66.3,500.1 67.1,500.1 67.9,500.1 68.7,499.9 69.5,500.2 70.3,500.3 71.1,500.3 71.9,500.2 72.7,500.2 73.5,500.1 74.3,500.0 75.1,499.9 75.9,500.1 76.7,500.0 77.5,500.2" fill="none" stroke="#3434dc" stroke-width="0.96" stroke-linejoin="round" stroke-dasharray="1.6 8.0" stroke-dashoffset="3.2"/>
<polyline points="31.9,500.0 32.7,499.9 33.5,499.9 34.3,500.4 35.1,500.0 35.9,499.9 36.7,500.0 37.5,500.3 38.3,500.1 39.1,500.0 39.9,500.0 40.7,500.2 41.5,500.2 42.3,500.0 43.1,500.3 43.9,499.9 44.7,500.1 45.5,500.1 46.3,500.3 47.1,500.2 47.9,500.0 48.7,500.3 49.5,499.8 50.3,500.3 51.1,500.3 51.9,500.1 52.7,500.0 53.5,500.0 54.3,500.1 55.1,500.1 55.9,500.1 56.7,500.2 57.5,500.4 58.3,500.0 59.1,500.1 59.9,500.1 60.7,500.2 61.5,500.1 62.3,500.1 63.1,500.1 63.9,500.0 64.7,500.3 65.5,500.1 66.3,500.2 67.1,500.1 67.9,499.9 68.7,500.2 69.5,500.1 70.3,500.2 71.1,500.0 71.9,500.2 72.7,500.3 73.5,500.0 74.3,500.1 75.1,500.1 75.9,500.0 76.7,500.2 77.5,500.1" fill="none" stroke="#3cc43c" stroke-width="0.96" stroke-linejoin="round" stroke-dasharray="1.6 8.0" stroke-dashoffset="4.8"/>
<polyline points="31.9,500.1 32.7,500.0 33.5,500.2 34.3,500.0 35.1,499.8 35.9,500.2 36.7,499.9 37.5,500.4 38.3,499.9 39.1,500.1 39.9,500.1 40.7,500.1 41.5,500.2 42.3,500.3 43.1,500.2 43.9,499.9 44.7,499.9 45.5,500.1 46.3,500.2 47.1,500.2 47.9,500.3 48.7,499.9 49.5,500.0 50.3,500.1 51.1,500.2 51.9,500.2 52.7,499.9 53.5,500.0 54.3,500.2 55.1,500.0 55.9,500.2 56.7,500.0 57.5,500.2 58.3,500.2 59.1,500.0 59.9,500.0 60.7,500.0 61.5,500.2 62.3,499.9 63.1,499.9 63.9,500.1 64.7,500.0 65.5,500.2 66.3,500.1 67.1,500.3 67.9,500.1 68.7,500.1 69.5,499.9 70.3,500.0 71.1,500.0 71.9,500.1 72.7,500.1 73.5,500.1 74.3,500.1 75.1,500.4 75.9,500.0 76.7,500.3 77.5,500.2" fill="none" stroke="#ee4cee" stroke-width="0.96" stroke-linejoin="round" stroke-dasharray="1.6 8.0" stroke-dashoffset="6.4"/>
<polyline points="31.9,500.1 32.7,500.2 33.5,499.9 34.3,500.1 35.1,499.9 35.9,499.9 36.7,500.2 37.5,500.0 38.3,499.9 39.1,500.1 39.9,500.1 40.7,500.2 41.5,500.1 42.3,500.1 43.1,500.1 43.9,500.0 44.7,499.9 45.5,500.1 46.3,500.1 47.1,500.0 47.9,500.1 48.7,500.2 49.5,500.0 50.3,500.2 51.1,500.0 51.9,500.2 52.7,499.9 53.5,500.2 54.3,500.0 55.1,499.9 55.9,500.2 56.7,499.9 57.5,500.2 58.3,500.3 59.1,500.0 59.9,500.0 60.7,500.1 61.5,500.4 62.3,500.1 63.1,500.1 63.9,500.2 64.7,500.1 65.5,500.3 66.3,500.2 67.1,499.9 67.9,499.9 68.7,500.1 69.5,500.2 70.3,500.0 71.1,500.0 71.9,500.0 72.7,500.3 73.5,500.1 74.3,500.1 75.1,499.9 75.9,499.9 76.7,500.0 77.5,499.9" fill="none" stroke="#e8a044" stroke-width="0.96" stroke-linejoin="round" stroke-dasharray="1.6 8.0" stroke-dashoffset="8.0"/>
<line x1="25.70" y1="464.30" x2="25.70" y2="503.10" stroke="#222" stroke-width="0.8" />
<line x1="25.30" y1="503.10" x2="164.70" y2="503.10" stroke="#222" stroke-width="0.8" />
<line x1="23.70" y1="500.10" x2="25.70" y2="500.10" stroke="#222" stroke-width="0.7" />
<text x="22.3" y="502.8" text-anchor="end" font-size="7.45" >0</text>
<line x1="23.70" y1="486.30" x2="25.70" y2="486.30" stroke="#222" stroke-width="0.7" />
<text x="22.3" y="489.0" text-anchor="end" font-size="7.45" >100</text>
<line x1="23.70" y1="472.50" x2="25.70" y2="472.50" stroke="#222" stroke-width="0.7" />
<text x="22.3" y="475.2" text-anchor="end" font-size="7.45" >200</text>
<line x1="27.90" y1="503.10" x2="27.90" y2="504.80" stroke="#222" stroke-width="0.7" />
<line x1="37.90" y1="503.10" x2="37.90" y2="504.80" stroke="#222" stroke-width="0.7" />
<line x1="47.90" y1="503.10" x2="47.90" y2="504.80" stroke="#222" stroke-width="0.7" />
<line x1="57.90" y1="503.10" x2="57.90" y2="504.80" stroke="#222" stroke-width="0.7" />
<line x1="67.90" y1="503.10" x2="67.90" y2="504.80" stroke="#222" stroke-width="0.7" />
<line x1="77.90" y1="503.10" x2="77.90" y2="504.80" stroke="#222" stroke-width="0.7" />
<line x1="87.90" y1="503.10" x2="87.90" y2="504.80" stroke="#222" stroke-width="0.7" />
<line x1="97.90" y1="503.10" x2="97.90" y2="504.80" stroke="#222" stroke-width="0.7" />
<line x1="107.90" y1="503.10" x2="107.90" y2="504.80" stroke="#222" stroke-width="0.7" />
<line x1="117.90" y1="503.10" x2="117.90" y2="504.80" stroke="#222" stroke-width="0.7" />
<line x1="127.90" y1="503.10" x2="127.90" y2="504.80" stroke="#222" stroke-width="0.7" />
<line x1="137.90" y1="503.10" x2="137.90" y2="504.80" stroke="#222" stroke-width="0.7" />
<line x1="147.90" y1="503.10" x2="147.90" y2="504.80" stroke="#222" stroke-width="0.7" />
<line x1="157.90" y1="503.10" x2="157.90" y2="504.80" stroke="#222" stroke-width="0.7" />
<text x="37.9" y="510.7" text-anchor="middle" font-size="7.45" >-200</text>
<text x="57.9" y="510.7" text-anchor="middle" font-size="7.45" >-100</text>
<text x="77.9" y="510.7" text-anchor="middle" font-size="7.45" >0</text>
<text x="97.9" y="510.7" text-anchor="middle" font-size="7.45" >100</text>
<text x="117.9" y="510.7" text-anchor="middle" font-size="7.45" >200</text>
<text x="137.9" y="510.7" text-anchor="middle" font-size="7.45" >300</text>
<text x="157.9" y="510.7" text-anchor="middle" font-size="7.45" >400</text>
<text x="93.6" y="461.4" text-anchor="middle" font-size="7.45" >Env gp151 MPER ND</text>
<text x="33.6" y="484.3" font-size="7.45"><tspan font-style="italic">K</tspan><tspan font-size="4.32" dy="2.5">D</tspan><tspan dy="-2.5">= 3.6 nM</tspan></text>
<text transform="translate(4.9,481.0) rotate(-90)" text-anchor="middle" font-size="7.45">Response (RU)</text>
<text x="93.9" y="521.4" text-anchor="middle" font-size="7.45" >Time (s)</text>
<line x1="184.80" y1="500.00" x2="326.50" y2="500.00" stroke="#d4d4d4" stroke-width="0.7" />
<line x1="240.50" y1="464.60" x2="240.50" y2="502.90" stroke="#b0b0b0" stroke-width="0.6" />
<polyline points="193.9,500.0 194.7,499.9 195.5,500.0 196.4,500.0 197.2,499.9 198.0,500.1 198.8,500.1 199.6,500.1 200.4,500.0 201.2,500.0 202.0,500.0 202.8,500.0 203.6,500.2 204.5,500.0 205.3,500.0 206.1,500.0 206.9,499.9 207.7,499.9 208.5,500.0 209.3,500.1 210.1,500.0 210.9,500.0 211.7,500.0 212.6,500.1 213.4,499.9 214.2,500.1 215.0,499.9 215.8,500.0 216.6,500.0 217.4,499.8 218.2,500.0 219.0,500.0 219.8,500.0 220.7,499.9 221.5,500.1 222.3,500.0 223.1,500.1 223.9,500.0 224.7,499.9 225.5,500.0 226.3,500.0 227.1,500.0 227.9,500.2 228.8,499.9 229.6,500.0 230.4,500.0 231.2,500.0 232.0,500.1 232.8,500.0 233.6,499.9 234.4,500.0 235.2,499.9 236.0,500.2 236.9,500.0 237.7,500.0 238.5,500.0 239.3,500.1 240.1,500.1" fill="none" stroke="#e8a044" stroke-width="0.96" stroke-linejoin="round" stroke-dasharray="1.6 4.8" stroke-dashoffset="0.0"/>
<polyline points="193.9,499.9 194.7,500.1 195.5,500.1 196.4,500.1 197.2,500.0 198.0,499.9 198.8,500.0 199.6,500.2 200.4,499.9 201.2,500.0 202.0,500.0 202.8,499.9 203.6,500.0 204.5,500.1 205.3,500.1 206.1,500.1 206.9,500.1 207.7,500.0 208.5,499.9 209.3,500.0 210.1,500.1 210.9,499.8 211.7,500.1 212.6,500.0 213.4,500.0 214.2,499.9 215.0,500.0 215.8,500.0 216.6,499.8 217.4,500.0 218.2,500.1 219.0,500.0 219.8,500.1 220.7,500.0 221.5,500.0 222.3,500.0 223.1,500.0 223.9,499.9 224.7,500.0 225.5,500.1 226.3,499.9 227.1,500.0 227.9,499.9 228.8,500.1 229.6,500.0 230.4,500.0 231.2,500.2 232.0,500.1 232.8,500.1 233.6,499.9 234.4,500.1 235.2,499.9 236.0,499.9 236.9,500.0 237.7,499.9 238.5,500.0 239.3,500.0 240.1,500.0" fill="none" stroke="#ee4a9c" stroke-width="0.96" stroke-linejoin="round" stroke-dasharray="1.6 4.8" stroke-dashoffset="1.6"/>
<polyline points="193.9,500.0 194.7,499.9 195.5,500.0 196.4,500.1 197.2,500.0 198.0,500.0 198.8,500.1 199.6,500.1 200.4,500.0 201.2,500.0 202.0,500.0 202.8,500.2 203.6,500.0 204.5,500.0 205.3,499.9 206.1,500.2 206.9,500.0 207.7,500.0 208.5,500.0 209.3,499.9 210.1,499.9 210.9,500.1 211.7,499.9 212.6,500.0 213.4,500.1 214.2,499.9 215.0,500.0 215.8,500.1 216.6,500.0 217.4,500.1 218.2,499.9 219.0,500.0 219.8,499.9 220.7,500.0 221.5,500.0 222.3,499.9 223.1,500.1 223.9,500.0 224.7,500.0 225.5,500.0 226.3,499.9 227.1,500.0 227.9,500.0 228.8,500.0 229.6,500.1 230.4,500.1 231.2,500.0 232.0,500.0 232.8,500.0 233.6,500.0 234.4,500.0 235.2,500.0 236.0,500.0 236.9,500.1 237.7,500.1 238.5,500.0 239.3,500.1 240.1,500.0" fill="none" stroke="#3cc43c" stroke-width="0.96" stroke-linejoin="round" stroke-dasharray="1.6 4.8" stroke-dashoffset="3.2"/>
<polyline points="193.9,500.1 194.7,500.0 195.5,500.0 196.4,500.1 197.2,500.0 198.0,500.1 198.8,500.0 199.6,500.1 200.4,500.0 201.2,500.2 202.0,500.1 202.8,500.0 203.6,500.2 204.5,500.0 205.3,500.0 206.1,500.0 206.9,500.1 207.7,500.0 208.5,500.0 209.3,500.1 210.1,499.9 210.9,500.0 211.7,500.0 212.6,500.0 213.4,500.0 214.2,500.0 215.0,499.9 215.8,500.0 216.6,500.0 217.4,500.0 218.2,499.9 219.0,500.0 219.8,500.0 220.7,500.0 221.5,500.0 222.3,500.2 223.1,500.0 223.9,500.0 224.7,500.0 225.5,500.1 226.3,499.9 227.1,500.0 227.9,500.0 228.8,500.1 229.6,500.0 230.4,500.1 231.2,500.1 232.0,499.8 232.8,499.9 233.6,499.9 234.4,499.9 235.2,500.0 236.0,500.1 236.9,499.9 237.7,499.9 238.5,500.0 239.3,500.2 240.1,499.9" fill="none" stroke="#ee4cee" stroke-width="0.96" stroke-linejoin="round" stroke-dasharray="1.6 4.8" stroke-dashoffset="4.8"/>
<polyline points="240.5,500.1 240.9,500.1 241.3,500.1 241.7,500.1 242.1,500.1 242.5,500.1 242.9,500.1 243.3,500.1 243.7,500.1 244.1,500.1 244.6,500.1 245.0,500.1 245.4,500.1 245.8,500.1 246.2,500.1 246.6,500.1 247.0,500.1 247.4,500.1 247.8,500.1 248.2,500.1 248.6,500.1 249.0,500.1 249.4,500.1 249.8,500.1 250.2,500.1 250.6,500.1 251.0,500.1 251.4,500.1 251.8,500.1 252.2,500.1 252.7,500.1 253.1,500.1 253.5,500.1 253.9,500.1 254.3,500.1 254.7,500.1 257.7,500.1 260.8,500.1 263.8,500.1 266.8,500.1 269.9,500.1 272.9,500.1 275.9,500.1 279.0,500.1 282.0,500.1 285.1,500.1 288.1,500.1 291.1,500.1 294.2,500.1 297.2,500.1 300.2,500.1 303.3,500.1 306.3,500.1 309.4,500.1 312.4,500.1 315.4,500.1 318.5,500.1 321.5,500.1 324.5,500.1 327.6,500.1" fill="none" stroke="#5a4a6a" stroke-width="0.84" stroke-linejoin="round" />
<polyline points="240.5,499.9 241.3,500.0 242.1,500.0 242.9,499.9 243.7,500.0 244.6,499.9 245.4,500.0 246.2,499.9 247.0,500.0 247.8,500.1 248.6,500.1 249.4,499.7 250.2,500.0 251.0,499.9 251.8,499.9 252.7,499.9 253.5,500.0 254.3,500.0 255.1,500.0 255.9,500.2 256.7,500.0 257.5,499.9 258.3,500.2 259.1,500.0 259.9,499.9 260.8,499.9 261.6,500.1 262.4,500.1 263.2,500.1 264.0,500.1 264.8,500.0 265.6,499.8 266.4,500.1 267.2,499.9 268.0,500.0 268.9,500.0 269.7,499.8 270.5,500.2 271.3,500.0 272.1,500.0 272.9,499.8 273.7,499.9 274.5,499.8 275.3,500.0 276.1,499.9 276.9,499.9 277.8,500.0 278.6,500.0 279.4,500.0 280.2,500.0 281.0,500.1 281.8,499.8 282.6,500.0 283.4,500.2 284.2,500.0 285.1,500.0 285.9,500.0 286.7,499.9 287.5,500.0 288.3,500.0 289.1,500.1 289.9,500.0 290.7,500.0 291.5,500.0 292.3,499.8 293.1,500.0 294.0,500.1 294.8,499.8 295.6,499.9 296.4,499.9 297.2,499.9 298.0,499.9 298.8,499.9 299.6,499.9 300.4,499.9 301.2,499.9 302.1,500.0 302.9,500.0 303.7,500.1 304.5,499.9 305.3,499.9 306.1,500.0 306.9,500.0 307.7,499.8 308.5,499.9 309.4,500.1 310.2,500.0 311.0,499.9 311.8,500.0 312.6,500.0 313.4,499.9 314.2,500.0 315.0,500.1 315.8,499.9 316.6,500.0 317.4,500.0 318.3,500.0 319.1,500.1 319.9,500.1 320.7,500.0 321.5,500.1 322.3,500.2 323.1,499.9 323.9,500.1 324.7,500.1 325.6,500.0 326.4,500.2 327.2,499.9" fill="none" stroke="#9a2a9a" stroke-width="0.96" stroke-linejoin="round" stroke-dasharray="1.6 4.8" stroke-dashoffset="0.0"/>
<polyline points="240.5,500.1 241.3,499.9 242.1,500.0 242.9,500.0 243.7,500.0 244.6,500.0 245.4,500.1 246.2,500.1 247.0,500.0 247.8,499.9 248.6,500.0 249.4,500.0 250.2,500.0 251.0,500.0 251.8,499.9 252.7,500.1 253.5,500.0 254.3,500.0 255.1,500.0 255.9,500.1 256.7,500.1 257.5,500.1 258.3,500.1 259.1,499.8 259.9,499.9 260.8,500.0 261.6,499.9 262.4,500.1 263.2,500.2 264.0,500.1 264.8,500.0 265.6,499.9 266.4,500.0 267.2,500.1 268.0,500.0 268.9,500.1 269.7,500.1 270.5,500.0 271.3,500.0 272.1,500.1 272.9,500.1 273.7,500.1 274.5,500.0 275.3,499.9 276.1,500.0 276.9,499.8 277.8,500.1 278.6,500.0 279.4,500.1 280.2,500.0 281.0,500.0 281.8,500.0 282.6,499.9 283.4,500.0 284.2,500.1 285.1,500.0 285.9,500.0 286.7,500.1 287.5,499.9 288.3,499.9 289.1,500.1 289.9,500.0 290.7,499.9 291.5,500.2 292.3,500.0 293.1,500.0 294.0,500.1 294.8,499.9 295.6,500.0 296.4,500.0 297.2,500.0 298.0,499.9 298.8,499.9 299.6,500.0 300.4,500.0 301.2,500.1 302.1,500.0 302.9,500.0 303.7,500.2 304.5,499.8 305.3,500.0 306.1,500.1 306.9,500.1 307.7,500.0 308.5,500.0 309.4,500.0 310.2,500.0 311.0,500.1 311.8,500.1 312.6,500.0 313.4,500.1 314.2,499.9 315.0,500.0 315.8,500.0 316.6,500.0 317.4,499.9 318.3,500.0 319.1,500.0 319.9,500.0 320.7,500.1 321.5,500.0 322.3,499.9 323.1,500.0 323.9,500.0 324.7,500.1 325.6,500.1 326.4,500.0 327.2,499.9" fill="none" stroke="#3434dc" stroke-width="0.96" stroke-linejoin="round" stroke-dasharray="1.6 4.8" stroke-dashoffset="1.6"/>
<polyline points="240.5,500.0 241.3,500.1 242.1,500.0 242.9,500.0 243.7,500.1 244.6,500.0 245.4,500.0 246.2,500.1 247.0,500.1 247.8,499.9 248.6,500.0 249.4,500.1 250.2,500.1 251.0,499.9 251.8,500.0 252.7,500.0 253.5,499.9 254.3,500.0 255.1,500.1 255.9,499.9 256.7,500.0 257.5,500.0 258.3,500.0 259.1,500.1 259.9,500.1 260.8,500.0 261.6,499.9 262.4,500.1 263.2,499.9 264.0,500.0 264.8,500.1 265.6,500.0 266.4,500.0 267.2,500.1 268.0,500.2 268.9,500.0 269.7,500.1 270.5,500.0 271.3,500.2 272.1,500.0 272.9,500.1 273.7,500.1 274.5,500.0 275.3,500.0 276.1,500.0 276.9,500.1 277.8,500.0 278.6,500.1 279.4,500.0 280.2,500.0 281.0,499.9 281.8,499.9 282.6,500.0 283.4,500.0 284.2,500.0 285.1,500.1 285.9,499.9 286.7,500.0 287.5,500.0 288.3,500.1 289.1,499.9 289.9,500.0 290.7,500.1 291.5,499.9 292.3,499.8 293.1,500.0 294.0,500.0 294.8,500.0 295.6,500.1 296.4,499.9 297.2,499.8 298.0,500.0 298.8,500.0 299.6,499.9 300.4,500.0 301.2,499.9 302.1,499.9 302.9,500.1 303.7,500.1 304.5,500.0 305.3,499.9 306.1,500.0 306.9,499.9 307.7,500.1 308.5,500.0 309.4,500.0 310.2,500.0 311.0,500.0 311.8,500.1 312.6,500.0 313.4,500.1 314.2,500.0 315.0,500.1 315.8,500.0 316.6,500.0 317.4,500.1 318.3,499.9 319.1,500.1 319.9,499.9 320.7,500.0 321.5,500.1 322.3,500.0 323.1,500.1 323.9,500.0 324.7,500.0 325.6,499.9 326.4,500.0 327.2,499.9" fill="none" stroke="#444" stroke-width="0.96" stroke-linejoin="round" stroke-dasharray="1.6 4.8" stroke-dashoffset="3.2"/>
<polyline points="240.5,500.0 241.3,500.1 242.1,500.2 242.9,499.9 243.7,500.2 244.6,499.9 245.4,499.9 246.2,500.0 247.0,500.0 247.8,500.0 248.6,500.0 249.4,500.0 250.2,500.0 251.0,500.0 251.8,499.9 252.7,500.0 253.5,500.0 254.3,500.1 255.1,500.1 255.9,500.1 256.7,500.0 257.5,499.9 258.3,500.0 259.1,500.0 259.9,500.0 260.8,500.0 261.6,500.0 262.4,500.0 263.2,500.0 264.0,500.2 264.8,500.1 265.6,499.9 266.4,500.0 267.2,499.8 268.0,500.0 268.9,500.0 269.7,499.9 270.5,500.0 271.3,499.8 272.1,500.0 272.9,500.0 273.7,499.9 274.5,500.1 275.3,500.0 276.1,500.0 276.9,500.0 277.8,499.9 278.6,500.0 279.4,500.0 280.2,500.0 281.0,499.9 281.8,500.2 282.6,500.0 283.4,500.0 284.2,500.1 285.1,499.9 285.9,500.0 286.7,499.9 287.5,499.9 288.3,499.9 289.1,500.0 289.9,500.1 290.7,500.0 291.5,500.0 292.3,500.0 293.1,500.0 294.0,499.8 294.8,500.1 295.6,499.9 296.4,500.0 297.2,500.0 298.0,499.9 298.8,500.0 299.6,500.1 300.4,500.0 301.2,500.0 302.1,500.2 302.9,500.0 303.7,500.1 304.5,500.1 305.3,500.0 306.1,500.0 306.9,500.0 307.7,499.8 308.5,500.0 309.4,500.0 310.2,500.0 311.0,500.0 311.8,500.2 312.6,500.1 313.4,500.1 314.2,499.8 315.0,500.0 315.8,500.0 316.6,500.0 317.4,499.9 318.3,500.0 319.1,499.9 319.9,499.9 320.7,499.9 321.5,500.0 322.3,500.0 323.1,500.0 323.9,500.0 324.7,500.1 325.6,500.0 326.4,500.1 327.2,500.1" fill="none" stroke="#ee4cee" stroke-width="0.96" stroke-linejoin="round" stroke-dasharray="1.6 4.8" stroke-dashoffset="4.8"/>
<line x1="184.80" y1="464.60" x2="184.80" y2="502.90" stroke="#222" stroke-width="0.8" />
<line x1="184.40" y1="502.90" x2="326.50" y2="502.90" stroke="#222" stroke-width="0.8" />
<line x1="182.80" y1="500.00" x2="184.80" y2="500.00" stroke="#222" stroke-width="0.7" />
<text x="181.4" y="502.7" text-anchor="end" font-size="7.45" >0</text>
<line x1="182.80" y1="486.30" x2="184.80" y2="486.30" stroke="#222" stroke-width="0.7" />
<text x="181.4" y="489.0" text-anchor="end" font-size="7.45" >100</text>
<line x1="182.80" y1="472.60" x2="184.80" y2="472.60" stroke="#222" stroke-width="0.7" />
<text x="181.4" y="475.3" text-anchor="end" font-size="7.45" >200</text>
<line x1="189.88" y1="502.90" x2="189.88" y2="504.60" stroke="#222" stroke-width="0.7" />
<line x1="200.00" y1="502.90" x2="200.00" y2="504.60" stroke="#222" stroke-width="0.7" />
<line x1="210.12" y1="502.90" x2="210.12" y2="504.60" stroke="#222" stroke-width="0.7" />
<line x1="220.25" y1="502.90" x2="220.25" y2="504.60" stroke="#222" stroke-width="0.7" />
<line x1="230.38" y1="502.90" x2="230.38" y2="504.60" stroke="#222" stroke-width="0.7" />
<line x1="240.50" y1="502.90" x2="240.50" y2="504.60" stroke="#222" stroke-width="0.7" />
<line x1="250.62" y1="502.90" x2="250.62" y2="504.60" stroke="#222" stroke-width="0.7" />
<line x1="260.75" y1="502.90" x2="260.75" y2="504.60" stroke="#222" stroke-width="0.7" />
<line x1="270.88" y1="502.90" x2="270.88" y2="504.60" stroke="#222" stroke-width="0.7" />
<line x1="281.00" y1="502.90" x2="281.00" y2="504.60" stroke="#222" stroke-width="0.7" />
<line x1="291.12" y1="502.90" x2="291.12" y2="504.60" stroke="#222" stroke-width="0.7" />
<line x1="301.25" y1="502.90" x2="301.25" y2="504.60" stroke="#222" stroke-width="0.7" />
<line x1="311.38" y1="502.90" x2="311.38" y2="504.60" stroke="#222" stroke-width="0.7" />
<line x1="321.50" y1="502.90" x2="321.50" y2="504.60" stroke="#222" stroke-width="0.7" />
<text x="200.0" y="511.0" text-anchor="middle" font-size="7.45" >-200</text>
<text x="220.2" y="511.0" text-anchor="middle" font-size="7.45" >-100</text>
<text x="240.5" y="511.0" text-anchor="middle" font-size="7.45" >0</text>
<text x="260.8" y="511.0" text-anchor="middle" font-size="7.45" >100</text>
<text x="281.0" y="511.0" text-anchor="middle" font-size="7.45" >200</text>
<text x="301.2" y="511.0" text-anchor="middle" font-size="7.45" >300</text>
<text x="321.5" y="511.0" text-anchor="middle" font-size="7.45" >400</text>
<text x="255.0" y="461.5" text-anchor="middle" font-size="7.45" >Env gp151 MPER-KO ND</text>
<text x="214.2" y="479.9" text-anchor="middle" font-size="7.45" >nb</text>
<text x="251.5" y="521.5" text-anchor="middle" font-size="7.45" >Time (s)</text>
<text x="338.3" y="9.2" font-size="11.7">e</text>
<text x="444.3" y="26.4" text-anchor="middle" font-size="7.45" text-decoration="underline">EBOV GP Mayinga ND</text>
<text x="611.2" y="26.4" text-anchor="middle" font-size="7.45" text-decoration="underline">Env gp151 ND</text>
<line x1="380.70" y1="86.70" x2="517.60" y2="86.70" stroke="#d4d4d4" stroke-width="0.7" />
<line x1="433.72" y1="54.30" x2="433.72" y2="89.90" stroke="#b0b0b0" stroke-width="0.6" />
<polyline points="431.9,86.6 431.9,86.7 432.7,77.8 433.5,71.8 434.3,67.6 435.1,64.6 435.9,62.9 436.8,61.2 437.6,60.4 438.4,59.7 439.2,58.9 440.0,58.3 440.8,58.5 441.6,57.3 442.4,56.6 443.2,56.7 444.0,58.2 444.8,58.8 445.6,59.1 446.5,59.4 447.3,59.7 448.1,59.5 448.9,59.4 449.7,59.5 450.5,59.5 451.3,59.4 452.1,59.8 452.9,59.7 453.7,59.6 454.5,59.5 455.4,59.7 456.2,59.6 457.0,59.7 457.8,59.4 458.6,60.2 459.4,59.8 460.2,59.3 461.0,59.8 461.8,60.2 462.6,59.8 463.4,60.1 464.3,60.0 465.1,59.9 465.9,59.6 466.7,59.8 467.5,59.8 468.3,59.8 469.1,59.9 469.9,60.1 470.7,60.0 471.5,60.0 472.3,60.1 473.1,60.2 474.0,60.1 474.8,60.4 475.6,60.3 476.4,60.1 477.2,60.2 478.0,60.1 478.8,59.9 479.6,60.1 480.4,60.2 481.2,60.4 482.0,60.4 482.9,60.2 483.7,60.4 484.5,60.2 485.3,60.5 486.1,60.3 486.9,60.3 487.7,60.1 488.5,60.4 489.3,60.4 490.1,60.3 490.9,60.4 491.8,60.1 492.6,60.5 493.4,60.5 494.2,60.5 495.0,60.4 495.8,60.4 496.6,60.4 497.4,60.8 498.2,60.1 499.0,60.2 499.8,60.6 500.6,60.8 501.5,60.6 502.3,60.5 503.1,61.0 503.9,60.6 504.7,60.9 505.5,60.6 506.3,60.4 507.1,60.5 507.9,61.0 508.7,60.5 509.5,60.6 510.4,60.8 511.2,60.7 512.0,60.5 512.8,60.9 513.6,60.8 514.4,60.9 515.2,60.6 516.0,61.3" fill="none" stroke="#ee4a9c" stroke-width="0.72" stroke-linejoin="round" />
<polyline points="431.9,86.6 431.9,86.9 432.7,82.9 433.5,80.5 434.3,78.0 435.1,75.9 435.9,74.1 436.8,73.2 437.6,71.7 438.4,71.0 439.2,70.0 440.0,69.7 440.8,69.0 441.6,68.8 442.4,68.1 443.2,68.2 444.0,67.9 444.8,67.6 445.6,67.9 446.5,67.8 447.3,68.1 448.1,67.9 448.9,68.4 449.7,68.0 450.5,68.1 451.3,68.3 452.1,68.3 452.9,67.8 453.7,68.0 454.5,68.3 455.4,67.7 456.2,68.2 457.0,68.2 457.8,68.1 458.6,68.3 459.4,68.4 460.2,68.3 461.0,67.9 461.8,68.0 462.6,68.5 463.4,68.0 464.3,68.2 465.1,68.1 465.9,68.2 466.7,68.2 467.5,68.4 468.3,68.4 469.1,68.4 469.9,68.3 470.7,68.2 471.5,68.5 472.3,68.0 473.1,68.4 474.0,68.4 474.8,68.2 475.6,68.3 476.4,68.4 477.2,68.6 478.0,68.6 478.8,68.7 479.6,68.2 480.4,68.2 481.2,68.1 482.0,68.4 482.9,68.4 483.7,68.3 484.5,68.3 485.3,68.5 486.1,68.4 486.9,68.1 487.7,68.8 488.5,68.8 489.3,68.7 490.1,68.4 490.9,68.3 491.8,68.6 492.6,68.5 493.4,68.6 494.2,68.6 495.0,68.7 495.8,68.6 496.6,68.6 497.4,68.4 498.2,68.3 499.0,69.0 499.8,68.6 500.6,68.7 501.5,68.5 502.3,68.5 503.1,68.6 503.9,68.6 504.7,68.9 505.5,69.1 506.3,68.5 507.1,68.6 507.9,69.0 508.7,68.6 509.5,68.7 510.4,69.3 511.2,68.7 512.0,69.0 512.8,68.6 513.6,69.0 514.4,69.0 515.2,69.2 516.0,68.9" fill="none" stroke="#5fe6ea" stroke-width="0.72" stroke-linejoin="round" />
<polyline points="431.9,86.6 431.9,86.8 432.7,85.1 433.5,82.7 434.3,81.5 435.1,80.6 435.9,79.9 436.8,79.3 437.6,78.8 438.4,77.9 439.2,77.4 440.0,77.5 440.8,77.1 441.6,76.9 442.4,76.7 443.2,76.4 444.0,76.0 444.8,76.5 445.6,76.3 446.5,76.2 447.3,76.5 448.1,76.5 448.9,76.7 449.7,76.3 450.5,76.6 451.3,76.6 452.1,76.5 452.9,76.7 453.7,76.7 454.5,76.6 455.4,76.2 456.2,76.6 457.0,76.4 457.8,76.8 458.6,76.9 459.4,76.2 460.2,76.6 461.0,76.9 461.8,76.6 462.6,76.5 463.4,76.9 464.3,76.8 465.1,76.6 465.9,76.8 466.7,76.5 467.5,76.5 468.3,76.6 469.1,76.7 469.9,76.7 470.7,76.8 471.5,76.7 472.3,76.6 473.1,76.7 474.0,76.5 474.8,76.2 475.6,76.8 476.4,76.7 477.2,76.6 478.0,76.6 478.8,76.8 479.6,76.8 480.4,76.6 481.2,76.7 482.0,76.7 482.9,76.9 483.7,76.7 484.5,76.7 485.3,76.8 486.1,76.7 486.9,76.4 487.7,77.2 488.5,76.7 489.3,77.1 490.1,77.1 490.9,76.9 491.8,76.8 492.6,76.9 493.4,77.1 494.2,77.2 495.0,77.0 495.8,76.9 496.6,77.1 497.4,77.2 498.2,76.6 499.0,77.1 499.8,77.0 500.6,77.1 501.5,77.1 502.3,77.0 503.1,77.0 503.9,76.9 504.7,77.2 505.5,77.3 506.3,76.7 507.1,77.0 507.9,76.9 508.7,76.8 509.5,76.9 510.4,77.0 511.2,77.4 512.0,77.4 512.8,76.9 513.6,77.0 514.4,77.0 515.2,77.4 516.0,77.5" fill="none" stroke="#3434dc" stroke-width="0.72" stroke-linejoin="round" />
<polyline points="431.9,86.8 431.9,86.9 432.7,86.0 433.5,85.7 434.3,84.8 435.1,84.8 435.9,84.5 436.8,84.0 437.6,83.9 438.4,84.0 439.2,83.5 440.0,83.2 440.8,83.7 441.6,83.5 442.4,83.6 443.2,83.7 444.0,83.2 444.8,83.1 445.6,83.1 446.5,83.2 447.3,83.6 448.1,83.3 448.9,83.4 449.7,83.5 450.5,83.5 451.3,83.1 452.1,83.3 452.9,82.9 453.7,83.2 454.5,83.6 455.4,83.1 456.2,83.0 457.0,83.3 457.8,83.5 458.6,82.9 459.4,83.5 460.2,83.3 461.0,83.6 461.8,83.5 462.6,83.6 463.4,83.1 464.3,83.0 465.1,83.3 465.9,83.5 466.7,83.3 467.5,83.2 468.3,83.6 469.1,83.5 469.9,83.3 470.7,83.1 471.5,83.3 472.3,83.2 473.1,83.5 474.0,83.7 474.8,83.2 475.6,83.4 476.4,83.3 477.2,83.3 478.0,83.2 478.8,83.4 479.6,83.0 480.4,83.3 481.2,83.2 482.0,83.1 482.9,83.1 483.7,83.2 484.5,83.6 485.3,83.4 486.1,82.9 486.9,83.2 487.7,83.2 488.5,83.2 489.3,83.4 490.1,83.4 490.9,83.4 491.8,83.1 492.6,83.2 493.4,82.9 494.2,83.2 495.0,82.9 495.8,83.2 496.6,83.5 497.4,82.9 498.2,83.2 499.0,83.0 499.8,83.2 500.6,83.3 501.5,83.2 502.3,83.5 503.1,83.5 503.9,83.4 504.7,83.4 505.5,83.5 506.3,83.3 507.1,83.2 507.9,82.9 508.7,82.9 509.5,83.3 510.4,83.1 511.2,83.3 512.0,83.2 512.8,83.3 513.6,83.4 514.4,83.3 515.2,83.5 516.0,83.2" fill="none" stroke="#3cc43c" stroke-width="0.72" stroke-linejoin="round" />
<polyline points="431.9,86.7 431.9,86.9 432.7,86.4 433.5,86.0 434.3,86.0 435.1,85.6 435.9,85.4 436.8,85.1 437.6,85.5 438.4,85.2 439.2,85.0 440.0,84.8 440.8,85.0 441.6,84.8 442.4,85.2 443.2,85.0 444.0,84.6 444.8,84.9 445.6,84.5 446.5,85.0 447.3,84.9 448.1,85.2 448.9,84.8 449.7,84.8 450.5,84.5 451.3,84.9 452.1,84.9 452.9,85.1 453.7,84.9 454.5,84.7 455.4,84.7 456.2,84.7 457.0,84.7 457.8,84.9 458.6,84.8 459.4,84.9 460.2,85.1 461.0,84.6 461.8,84.8 462.6,85.1 463.4,84.8 464.3,84.8 465.1,84.7 465.9,84.6 466.7,85.5 467.5,84.8 468.3,84.6 469.1,85.1 469.9,85.2 470.7,84.8 471.5,84.8 472.3,84.8 473.1,85.1 474.0,85.0 474.8,84.8 475.6,84.7 476.4,84.5 477.2,84.8 478.0,85.0 478.8,85.3 479.6,84.7 480.4,84.9 481.2,84.9 482.0,85.1 482.9,84.7 483.7,85.2 484.5,84.9 485.3,84.9 486.1,84.8 486.9,84.6 487.7,84.9 488.5,84.9 489.3,84.7 490.1,85.2 490.9,84.9 491.8,84.9 492.6,84.7 493.4,85.0 494.2,84.7 495.0,84.8 495.8,85.2 496.6,85.2 497.4,85.2 498.2,84.9 499.0,84.8 499.8,84.7 500.6,84.7 501.5,85.0 502.3,84.7 503.1,84.7 503.9,84.8 504.7,84.8 505.5,85.1 506.3,84.8 507.1,85.1 507.9,85.1 508.7,84.9 509.5,84.9 510.4,84.9 511.2,84.9 512.0,85.1 512.8,84.8 513.6,85.0 514.4,85.2 515.2,84.9 516.0,84.6" fill="none" stroke="#ee4cee" stroke-width="0.72" stroke-linejoin="round" />
<polyline points="431.9,86.7 431.9,86.9 432.7,86.2 433.5,86.0 434.3,86.3 435.1,86.2 435.9,86.0 436.8,85.4 437.6,85.9 438.4,85.7 439.2,85.7 440.0,86.1 440.8,86.0 441.6,86.0 442.4,85.6 443.2,85.7 444.0,85.3 444.8,85.7 445.6,85.6 446.5,85.7 447.3,85.7 448.1,85.2 448.9,85.6 449.7,85.4 450.5,85.4 451.3,85.8 452.1,85.6 452.9,85.8 453.7,85.7 454.5,85.7 455.4,85.7 456.2,85.8 457.0,85.4 457.8,85.7 458.6,85.6 459.4,85.4 460.2,85.6 461.0,85.5 461.8,85.4 462.6,85.5 463.4,85.4 464.3,86.0 465.1,85.3 465.9,85.7 466.7,86.0 467.5,85.8 468.3,86.0 469.1,85.7 469.9,86.0 470.7,85.9 471.5,85.6 472.3,85.7 473.1,85.8 474.0,85.7 474.8,85.7 475.6,85.7 476.4,85.7 477.2,85.7 478.0,85.5 478.8,86.0 479.6,85.8 480.4,85.7 481.2,85.8 482.0,85.8 482.9,85.8 483.7,85.7 484.5,85.5 485.3,85.7 486.1,85.7 486.9,85.6 487.7,85.7 488.5,86.1 489.3,85.6 490.1,85.8 490.9,85.8 491.8,85.6 492.6,85.7 493.4,85.8 494.2,86.1 495.0,86.0 495.8,85.7 496.6,85.7 497.4,85.6 498.2,85.6 499.0,85.8 499.8,85.9 500.6,85.9 501.5,85.7 502.3,85.9 503.1,85.5 503.9,85.9 504.7,86.0 505.5,85.7 506.3,86.0 507.1,85.4 507.9,85.9 508.7,85.7 509.5,85.7 510.4,85.8 511.2,86.0 512.0,86.0 512.8,85.5 513.6,85.5 514.4,85.3 515.2,86.0 516.0,85.6" fill="none" stroke="#e8a044" stroke-width="0.72" stroke-linejoin="round" />
<polyline points="431.9,86.7 431.9,86.5 432.7,86.7 433.5,86.4 434.3,86.3 435.1,86.3 435.9,86.2 436.8,86.4 437.6,86.1 438.4,86.5 439.2,86.0 440.0,86.9 440.8,86.3 441.6,86.5 442.4,86.3 443.2,86.1 444.0,86.2 444.8,86.3 445.6,86.0 446.5,86.6 447.3,86.5 448.1,86.0 448.9,86.2 449.7,86.7 450.5,86.2 451.3,86.5 452.1,86.0 452.9,86.1 453.7,86.4 454.5,86.0 455.4,86.5 456.2,86.1 457.0,86.2 457.8,86.3 458.6,86.6 459.4,86.3 460.2,86.7 461.0,86.4 461.8,86.7 462.6,86.1 463.4,86.5 464.3,86.8 465.1,86.2 465.9,86.2 466.7,86.4 467.5,85.9 468.3,86.1 469.1,86.3 469.9,86.4 470.7,86.9 471.5,86.2 472.3,86.1 473.1,86.4 474.0,86.6 474.8,86.3 475.6,86.6 476.4,86.3 477.2,86.1 478.0,86.0 478.8,86.2 479.6,86.3 480.4,86.2 481.2,86.0 482.0,86.4 482.9,86.5 483.7,86.4 484.5,86.5 485.3,86.5 486.1,86.3 486.9,86.2 487.7,86.3 488.5,86.3 489.3,86.4 490.1,86.2 490.9,86.1 491.8,86.2 492.6,86.0 493.4,86.4 494.2,86.3 495.0,86.0 495.8,86.3 496.6,86.2 497.4,86.4 498.2,86.1 499.0,86.4 499.8,86.5 500.6,86.3 501.5,86.4 502.3,86.1 503.1,86.4 503.9,86.3 504.7,86.3 505.5,86.2 506.3,86.4 507.1,86.1 507.9,86.6 508.7,86.4 509.5,86.4 510.4,86.2 511.2,86.3 512.0,86.2 512.8,86.4 513.6,86.4 514.4,86.5 515.2,86.4 516.0,86.4" fill="none" stroke="#9a2a9a" stroke-width="0.72" stroke-linejoin="round" />
<polyline points="431.9,86.7 432.3,81.8 432.7,77.7 433.1,74.4 433.5,71.7 433.9,69.5 434.3,67.7 434.7,66.2 435.1,65.0 435.5,64.0 435.9,63.2 436.3,62.5 436.8,62.0 437.2,61.5 437.6,61.2 438.0,60.9 438.4,60.6 438.8,60.4 439.2,60.2 439.6,60.1 440.0,60.0 440.4,59.9 440.8,59.8 441.2,59.8 441.6,59.7 442.0,59.7 442.4,59.7 442.8,59.6 443.2,59.6 443.6,59.6 444.0,59.6 444.4,59.6 444.8,59.6 445.2,59.6 445.6,59.6 446.1,59.6 449.1,59.7 452.1,59.8 455.2,60.0 458.2,60.1 461.2,60.2 464.3,60.3 467.3,60.4 470.3,60.5 473.4,60.6 476.4,60.7 479.4,60.8 482.4,60.9 485.5,61.0 488.5,61.1 491.5,61.2 494.6,61.3 497.6,61.4 500.6,61.5 503.7,61.6 506.7,61.7 509.7,61.8 512.8,61.9 515.8,62.0 516.4,62.0" fill="none" stroke="#3a3a3a" stroke-width="0.72" stroke-linejoin="round" />
<polyline points="431.9,86.7 432.3,84.4 432.7,82.4 433.1,80.5 433.5,78.9 433.9,77.4 434.3,76.1 434.7,74.9 435.1,73.9 435.5,72.9 435.9,72.1 436.3,71.3 436.8,70.7 437.2,70.1 437.6,69.5 438.0,69.0 438.4,68.6 438.8,68.2 439.2,67.8 439.6,67.5 440.0,67.2 440.4,67.0 440.8,66.8 441.2,66.6 441.6,66.4 442.0,66.2 442.4,66.1 442.8,65.9 443.2,65.8 443.6,65.7 444.0,65.6 444.4,65.6 444.8,65.6 445.2,65.7 445.6,65.7 446.1,65.7 449.1,65.8 452.1,65.9 455.2,66.0 458.2,66.1 461.2,66.2 464.3,66.3 467.3,66.4 470.3,66.5 473.4,66.6 476.4,66.7 479.4,66.8 482.4,66.9 485.5,67.0 488.5,67.1 491.5,67.2 494.6,67.3 497.6,67.4 500.6,67.5 503.7,67.6 506.7,67.7 509.7,67.8 512.8,67.9 515.8,68.0 516.4,68.0" fill="none" stroke="#3a3a3a" stroke-width="0.72" stroke-linejoin="round" />
<polyline points="431.9,86.7 432.3,85.9 432.7,85.2 433.1,84.5 433.5,83.9 433.9,83.4 434.3,82.9 434.7,82.4 435.1,82.0 435.5,81.7 435.9,81.3 436.3,81.0 436.8,80.8 437.2,80.5 437.6,80.3 438.0,80.1 438.4,79.9 438.8,79.8 439.2,79.6 439.6,79.5 440.0,79.4 440.4,79.2 440.8,79.1 441.2,79.1 441.6,79.0 442.0,78.9 442.4,78.8 442.8,78.8 443.2,78.7 443.6,78.7 444.0,78.6 444.4,78.6 444.8,78.6 445.2,78.6 445.6,78.6 446.1,78.6 449.1,78.7 452.1,78.7 455.2,78.7 458.2,78.7 461.2,78.8 464.3,78.8 467.3,78.8 470.3,78.8 473.4,78.9 476.4,78.9 479.4,78.9 482.4,78.9 485.5,78.9 488.5,79.0 491.5,79.0 494.6,79.0 497.6,79.0 500.6,79.1 503.7,79.1 506.7,79.1 509.7,79.1 512.8,79.2 515.8,79.2 516.4,79.2" fill="none" stroke="#3a3a3a" stroke-width="0.72" stroke-linejoin="round" />
<polyline points="431.9,86.7 432.3,86.4 432.7,86.2 433.1,86.0 433.5,85.8 433.9,85.6 434.3,85.5 434.7,85.3 435.1,85.2 435.5,85.1 435.9,85.0 436.3,84.9 436.8,84.8 437.2,84.7 437.6,84.6 438.0,84.6 438.4,84.5 438.8,84.4 439.2,84.4 439.6,84.4 440.0,84.3 440.4,84.3 440.8,84.2 441.2,84.2 441.6,84.2 442.0,84.2 442.4,84.1 442.8,84.1 443.2,84.1 443.6,84.1 444.0,84.1 444.4,84.1 444.8,84.1 445.2,84.1 445.6,84.1 446.1,84.1 449.1,84.1 452.1,84.1 455.2,84.1 458.2,84.1 461.2,84.1 464.3,84.1 467.3,84.1 470.3,84.1 473.4,84.1 476.4,84.1 479.4,84.1 482.4,84.1 485.5,84.1 488.5,84.1 491.5,84.1 494.6,84.1 497.6,84.1 500.6,84.1 503.7,84.1 506.7,84.1 509.7,84.1 512.8,84.1 515.8,84.1 516.4,84.1" fill="none" stroke="#3a3a3a" stroke-width="0.72" stroke-linejoin="round" />
<polyline points="431.9,86.7 432.3,86.6 432.7,86.5 433.1,86.4 433.5,86.3 433.9,86.2 434.3,86.1 434.7,86.1 435.1,86.0 435.5,85.9 435.9,85.9 436.3,85.8 436.8,85.8 437.2,85.8 437.6,85.7 438.0,85.7 438.4,85.7 438.8,85.7 439.2,85.6 439.6,85.6 440.0,85.6 440.4,85.6 440.8,85.6 441.2,85.6 441.6,85.5 442.0,85.5 442.4,85.5 442.8,85.5 443.2,85.5 443.6,85.5 444.0,85.5 444.4,85.5 444.8,85.5 445.2,85.5 445.6,85.5 446.1,85.5 449.1,85.5 452.1,85.5 455.2,85.5 458.2,85.5 461.2,85.5 464.3,85.5 467.3,85.5 470.3,85.5 473.4,85.5 476.4,85.5 479.4,85.5 482.4,85.5 485.5,85.5 488.5,85.5 491.5,85.5 494.6,85.5 497.6,85.5 500.6,85.5 503.7,85.5 506.7,85.5 509.7,85.5 512.8,85.5 515.8,85.5 516.4,85.5" fill="none" stroke="#3a3a3a" stroke-width="0.72" stroke-linejoin="round" />
<polyline points="387.4,86.6 388.2,86.6 389.0,86.5 389.8,86.7 390.7,86.8 391.5,86.9 392.3,86.7 393.1,86.6 393.9,86.3 394.7,86.7 395.5,86.4 396.3,86.3 397.1,86.9 397.9,86.5 398.7,86.5 399.5,86.4 400.4,86.7 401.2,86.5 402.0,86.8 402.8,86.7 403.6,86.7 404.4,86.4 405.2,86.7 406.0,86.5 406.8,86.7 407.6,86.8 408.4,86.7 409.3,86.6 410.1,86.8 410.9,86.6 411.7,86.8 412.5,86.9 413.3,86.7 414.1,86.7 414.9,86.9 415.7,87.0 416.5,86.7 417.3,86.7 418.2,86.8 419.0,86.7 419.8,87.0 420.6,86.6 421.4,86.6 422.2,86.6 423.0,86.8 423.8,86.7 424.6,86.7 425.4,86.5 426.2,86.6 427.0,86.7 427.9,86.8 428.7,86.5 429.5,86.5 430.3,86.8 431.1,86.6 431.9,86.6" fill="none" stroke="#ee4a9c" stroke-width="0.96" stroke-linejoin="round" stroke-dasharray="1.6 9.6" stroke-dashoffset="0.0"/>
<polyline points="387.4,86.7 388.2,86.9 389.0,86.4 389.8,87.1 390.7,86.6 391.5,86.8 392.3,86.5 393.1,86.8 393.9,86.7 394.7,86.6 395.5,86.6 396.3,86.8 397.1,86.6 397.9,86.6 398.7,86.5 399.5,86.8 400.4,86.7 401.2,86.8 402.0,86.9 402.8,86.7 403.6,86.6 404.4,86.4 405.2,86.8 406.0,86.6 406.8,86.5 407.6,86.7 408.4,86.7 409.3,86.7 410.1,86.8 410.9,86.9 411.7,86.5 412.5,86.7 413.3,86.7 414.1,86.9 414.9,86.7 415.7,86.5 416.5,86.9 417.3,86.9 418.2,86.5 419.0,86.4 419.8,86.4 420.6,86.8 421.4,86.6 422.2,86.8 423.0,86.6 423.8,86.8 424.6,86.7 425.4,86.4 426.2,86.6 427.0,86.7 427.9,86.7 428.7,86.6 429.5,86.8 430.3,86.7 431.1,86.6 431.9,86.4" fill="none" stroke="#5fe6ea" stroke-width="0.96" stroke-linejoin="round" stroke-dasharray="1.6 9.6" stroke-dashoffset="1.6"/>
<polyline points="387.4,87.1 388.2,86.9 389.0,86.9 389.8,86.5 390.7,86.2 391.5,86.7 392.3,86.7 393.1,86.5 393.9,87.2 394.7,86.7 395.5,87.3 396.3,86.7 397.1,86.8 397.9,86.8 398.7,86.6 399.5,86.8 400.4,86.5 401.2,86.7 402.0,86.6 402.8,86.2 403.6,86.8 404.4,86.5 405.2,86.9 406.0,86.5 406.8,86.5 407.6,86.7 408.4,86.5 409.3,86.4 410.1,86.4 410.9,86.7 411.7,86.7 412.5,86.5 413.3,87.0 414.1,86.8 414.9,86.6 415.7,86.6 416.5,86.3 417.3,86.4 418.2,86.6 419.0,86.6 419.8,86.9 420.6,86.7 421.4,86.7 422.2,86.7 423.0,86.7 423.8,86.6 424.6,86.9 425.4,86.8 426.2,87.0 427.0,86.5 427.9,86.9 428.7,87.0 429.5,86.6 430.3,86.7 431.1,86.5 431.9,86.8" fill="none" stroke="#3434dc" stroke-width="0.96" stroke-linejoin="round" stroke-dasharray="1.6 9.6" stroke-dashoffset="3.2"/>
<polyline points="387.4,86.3 388.2,86.6 389.0,86.7 389.8,86.7 390.7,86.7 391.5,86.5 392.3,86.3 393.1,86.8 393.9,86.9 394.7,86.6 395.5,86.5 396.3,87.0 397.1,86.8 397.9,86.9 398.7,86.6 399.5,86.6 400.4,86.8 401.2,86.9 402.0,86.6 402.8,87.1 403.6,86.6 404.4,86.7 405.2,86.3 406.0,86.5 406.8,86.8 407.6,86.8 408.4,86.8 409.3,86.8 410.1,86.7 410.9,86.5 411.7,87.0 412.5,86.7 413.3,86.4 414.1,86.6 414.9,86.9 415.7,86.9 416.5,86.9 417.3,87.0 418.2,86.5 419.0,86.7 419.8,86.8 420.6,87.0 421.4,86.8 422.2,86.8 423.0,86.4 423.8,86.8 424.6,86.7 425.4,86.5 426.2,86.6 427.0,86.7 427.9,87.1 428.7,86.4 429.5,86.6 430.3,86.8 431.1,86.7 431.9,86.9" fill="none" stroke="#3cc43c" stroke-width="0.96" stroke-linejoin="round" stroke-dasharray="1.6 9.6" stroke-dashoffset="4.8"/>
<polyline points="387.4,86.9 388.2,87.0 389.0,86.6 389.8,86.6 390.7,86.7 391.5,86.6 392.3,86.6 393.1,86.7 393.9,86.9 394.7,86.6 395.5,86.5 396.3,86.6 397.1,86.5 397.9,86.8 398.7,86.9 399.5,86.5 400.4,86.8 401.2,86.7 402.0,86.7 402.8,86.7 403.6,86.8 404.4,86.8 405.2,87.0 406.0,86.3 406.8,86.7 407.6,87.1 408.4,86.9 409.3,86.9 410.1,86.8 410.9,87.2 411.7,86.6 412.5,86.4 413.3,86.7 414.1,86.6 414.9,86.6 415.7,86.9 416.5,86.5 417.3,87.0 418.2,86.8 419.0,86.8 419.8,86.5 420.6,86.7 421.4,86.7 422.2,86.9 423.0,86.7 423.8,86.7 424.6,86.6 425.4,86.4 426.2,86.6 427.0,86.7 427.9,86.7 428.7,86.4 429.5,86.7 430.3,86.7 431.1,86.4 431.9,86.4" fill="none" stroke="#ee4cee" stroke-width="0.96" stroke-linejoin="round" stroke-dasharray="1.6 9.6" stroke-dashoffset="6.4"/>
<polyline points="387.4,86.6 388.2,86.7 389.0,86.8 389.8,86.5 390.7,86.8 391.5,86.5 392.3,86.8 393.1,86.7 393.9,86.6 394.7,86.7 395.5,86.7 396.3,86.6 397.1,86.9 397.9,86.9 398.7,86.7 399.5,86.4 400.4,86.7 401.2,86.9 402.0,86.8 402.8,86.7 403.6,86.5 404.4,86.8 405.2,86.6 406.0,86.7 406.8,86.8 407.6,86.9 408.4,86.7 409.3,86.8 410.1,86.6 410.9,87.0 411.7,86.5 412.5,86.6 413.3,86.6 414.1,86.4 414.9,86.6 415.7,87.0 416.5,86.7 417.3,86.6 418.2,86.8 419.0,86.9 419.8,86.6 420.6,86.6 421.4,86.8 422.2,86.7 423.0,86.8 423.8,86.8 424.6,86.7 425.4,86.5 426.2,87.0 427.0,86.8 427.9,86.4 428.7,86.6 429.5,86.7 430.3,86.5 431.1,86.9 431.9,86.9" fill="none" stroke="#e8a044" stroke-width="0.96" stroke-linejoin="round" stroke-dasharray="1.6 9.6" stroke-dashoffset="8.0"/>
<polyline points="387.4,87.0 388.2,87.0 389.0,86.7 389.8,86.5 390.7,86.8 391.5,86.8 392.3,86.6 393.1,86.6 393.9,86.7 394.7,87.1 395.5,86.8 396.3,87.2 397.1,86.7 397.9,86.9 398.7,86.8 399.5,86.4 400.4,86.5 401.2,86.6 402.0,86.6 402.8,86.7 403.6,86.8 404.4,86.7 405.2,86.3 406.0,86.9 406.8,86.8 407.6,86.7 408.4,86.5 409.3,86.5 410.1,86.9 410.9,86.7 411.7,86.7 412.5,86.9 413.3,86.7 414.1,86.8 414.9,86.5 415.7,86.6 416.5,86.8 417.3,86.7 418.2,86.8 419.0,86.8 419.8,86.8 420.6,86.5 421.4,86.8 422.2,87.0 423.0,86.8 423.8,86.5 424.6,86.3 425.4,86.9 426.2,86.8 427.0,86.8 427.9,87.0 428.7,86.6 429.5,86.7 430.3,86.6 431.1,86.3 431.9,86.7" fill="none" stroke="#9a2a9a" stroke-width="0.96" stroke-linejoin="round" stroke-dasharray="1.6 9.6" stroke-dashoffset="9.6"/>
<line x1="380.70" y1="54.30" x2="380.70" y2="89.90" stroke="#222" stroke-width="0.8" />
<line x1="380.30" y1="89.90" x2="517.60" y2="89.90" stroke="#222" stroke-width="0.8" />
<line x1="378.70" y1="86.70" x2="380.70" y2="86.70" stroke="#222" stroke-width="0.7" />
<text x="377.3" y="88.8" text-anchor="end" font-size="7.45" >0</text>
<line x1="378.70" y1="78.20" x2="380.70" y2="78.20" stroke="#222" stroke-width="0.7" />
<text x="377.3" y="80.3" text-anchor="end" font-size="7.45" >40</text>
<line x1="378.70" y1="69.70" x2="380.70" y2="69.70" stroke="#222" stroke-width="0.7" />
<text x="377.3" y="71.5" text-anchor="end" font-size="7.45" >80</text>
<line x1="378.70" y1="61.20" x2="380.70" y2="61.20" stroke="#222" stroke-width="0.7" />
<text x="377.3" y="62.6" text-anchor="end" font-size="7.45" >120</text>
<line x1="379.40" y1="82.45" x2="380.70" y2="82.45" stroke="#222" stroke-width="0.6" />
<line x1="379.40" y1="73.95" x2="380.70" y2="73.95" stroke="#222" stroke-width="0.6" />
<line x1="379.40" y1="65.45" x2="380.70" y2="65.45" stroke="#222" stroke-width="0.6" />
<line x1="379.40" y1="56.95" x2="380.70" y2="56.95" stroke="#222" stroke-width="0.6" />
<line x1="383.17" y1="89.90" x2="383.17" y2="91.60" stroke="#222" stroke-width="0.7" />
<line x1="393.28" y1="89.90" x2="393.28" y2="91.60" stroke="#222" stroke-width="0.7" />
<line x1="403.39" y1="89.90" x2="403.39" y2="91.60" stroke="#222" stroke-width="0.7" />
<line x1="413.50" y1="89.90" x2="413.50" y2="91.60" stroke="#222" stroke-width="0.7" />
<line x1="423.61" y1="89.90" x2="423.61" y2="91.60" stroke="#222" stroke-width="0.7" />
<line x1="433.72" y1="89.90" x2="433.72" y2="91.60" stroke="#222" stroke-width="0.7" />
<line x1="443.83" y1="89.90" x2="443.83" y2="91.60" stroke="#222" stroke-width="0.7" />
<line x1="453.94" y1="89.90" x2="453.94" y2="91.60" stroke="#222" stroke-width="0.7" />
<line x1="464.05" y1="89.90" x2="464.05" y2="91.60" stroke="#222" stroke-width="0.7" />
<line x1="474.16" y1="89.90" x2="474.16" y2="91.60" stroke="#222" stroke-width="0.7" />
<line x1="484.27" y1="89.90" x2="484.27" y2="91.60" stroke="#222" stroke-width="0.7" />
<line x1="494.38" y1="89.90" x2="494.38" y2="91.60" stroke="#222" stroke-width="0.7" />
<line x1="504.49" y1="89.90" x2="504.49" y2="91.60" stroke="#222" stroke-width="0.7" />
<line x1="514.60" y1="89.90" x2="514.60" y2="91.60" stroke="#222" stroke-width="0.7" />
<text x="391.5" y="98.9" text-anchor="middle" font-size="7.45" >-200</text>
<text x="411.7" y="98.9" text-anchor="middle" font-size="7.45" >-100</text>
<text x="431.9" y="98.9" text-anchor="middle" font-size="7.45" >0</text>
<text x="452.1" y="98.9" text-anchor="middle" font-size="7.45" >100</text>
<text x="472.3" y="98.9" text-anchor="middle" font-size="7.45" >200</text>
<text x="492.6" y="98.9" text-anchor="middle" font-size="7.45" >300</text>
<text x="512.8" y="98.9" text-anchor="middle" font-size="7.45" >400</text>
<text x="440.9" y="47.9" text-anchor="middle" font-size="7.45" >+EBOV-296 IgG</text>
<text transform="translate(351.0,72.8) rotate(-90)" text-anchor="middle" font-size="7.45">Modality C</text>
<text transform="translate(360.3,72.8) rotate(-90)" text-anchor="middle" font-size="7.45">Response (RU)</text>
<line x1="380.30" y1="143.60" x2="515.60" y2="143.60" stroke="#d4d4d4" stroke-width="0.7" />
<line x1="425.70" y1="119.00" x2="425.70" y2="156.60" stroke="#b0b0b0" stroke-width="0.6" />
<polyline points="425.7,143.8 425.7,143.4 426.5,144.9 427.4,145.0 428.2,142.9 429.0,143.8 429.9,144.4 430.7,145.7 431.5,143.8 432.4,144.2 433.2,142.6 434.0,143.3 434.9,144.0 435.7,144.6 436.5,144.8 437.4,145.4 438.2,144.6 439.0,144.7 439.9,144.3 440.7,143.8 441.5,144.6 442.4,145.4 443.2,144.1 444.0,143.4 444.9,145.7 445.7,144.5 446.6,144.4 447.4,144.4 448.2,144.4 449.1,145.0 449.9,145.0 450.7,143.2 451.6,143.2 452.4,146.3 453.2,147.4 454.1,144.5 454.9,145.6 455.7,145.4 456.6,146.5 457.4,144.6 458.2,145.0 459.1,145.4 459.9,144.0 460.7,142.5 461.6,143.4 462.4,143.7 463.2,145.3 464.1,144.3 464.9,144.9 465.7,143.8 466.6,144.3 467.4,144.9 468.2,144.4 469.1,145.6 469.9,144.1 470.7,143.4 471.6,145.3 472.4,144.4 473.2,146.5 474.1,144.0 474.9,144.0 475.7,145.9 476.6,143.2 477.4,144.8 478.2,146.6 479.1,146.3 479.9,144.0 480.7,145.2 481.6,143.8 482.4,146.4 483.2,145.0 484.1,143.9 484.9,145.6 485.7,144.2 486.6,145.3 487.4,144.6 488.2,144.6 489.1,142.7 489.9,146.1 490.8,144.1 491.6,143.6 492.4,146.0 493.3,144.8 494.1,142.6 494.9,143.9 495.8,147.8 496.6,145.1 497.4,146.6 498.3,144.6 499.1,145.6 499.9,145.5 500.8,145.7 501.6,144.6 502.4,145.4 503.3,145.8 504.1,145.1 504.9,144.5 505.8,145.7 506.6,143.8 507.4,146.5 508.3,144.5 509.1,145.3 509.9,143.3 510.8,145.5 511.6,145.6 512.4,146.2 513.3,142.9 514.1,144.3 514.9,146.0" fill="none" stroke="#e8a044" stroke-width="0.72" stroke-linejoin="round" />
<polyline points="425.7,143.8 425.7,144.6 426.5,142.2 427.4,143.3 428.2,145.8 429.0,143.6 429.9,143.0 430.7,143.9 431.5,143.5 432.4,144.1 433.2,143.8 434.0,143.8 434.9,144.7 435.7,143.7 436.5,143.9 437.4,144.1 438.2,144.8 439.0,145.1 439.9,143.9 440.7,143.3 441.5,146.5 442.4,144.6 443.2,142.8 444.0,143.2 444.9,144.8 445.7,142.8 446.6,145.1 447.4,144.9 448.2,142.2 449.1,144.5 449.9,144.3 450.7,145.7 451.6,145.1 452.4,145.3 453.2,144.2 454.1,145.9 454.9,143.1 455.7,144.5 456.6,144.7 457.4,144.7 458.2,143.4 459.1,142.6 459.9,144.5 460.7,142.5 461.6,142.5 462.4,142.8 463.2,143.8 464.1,145.6 464.9,143.4 465.7,144.5 466.6,143.9 467.4,146.0 468.2,144.4 469.1,143.9 469.9,145.0 470.7,143.8 471.6,142.4 472.4,143.9 473.2,144.8 474.1,141.7 474.9,146.2 475.7,145.0 476.6,143.7 477.4,144.7 478.2,146.4 479.1,143.8 479.9,143.3 480.7,144.9 481.6,142.7 482.4,143.6 483.2,142.9 484.1,145.6 484.9,144.1 485.7,142.5 486.6,142.1 487.4,142.8 488.2,144.1 489.1,143.9 489.9,144.7 490.8,143.0 491.6,144.8 492.4,144.0 493.3,146.1 494.1,145.6 494.9,142.3 495.8,144.0 496.6,143.9 497.4,146.3 498.3,144.1 499.1,142.0 499.9,145.6 500.8,146.5 501.6,144.3 502.4,144.6 503.3,144.3 504.1,145.3 504.9,145.4 505.8,145.3 506.6,143.5 507.4,144.1 508.3,143.3 509.1,145.2 509.9,143.5 510.8,144.5 511.6,144.0 512.4,143.2 513.3,144.1 514.1,144.5 514.9,145.8" fill="none" stroke="#3cc43c" stroke-width="0.72" stroke-linejoin="round" />
<polyline points="425.7,142.8 425.7,142.0 426.5,143.3 427.4,142.7 428.2,144.4 429.0,143.9 429.9,142.1 430.7,141.2 431.5,142.8 432.4,144.1 433.2,142.8 434.0,143.9 434.9,142.6 435.7,140.4 436.5,142.0 437.4,142.5 438.2,141.3 439.0,142.7 439.9,142.0 440.7,142.1 441.5,141.9 442.4,143.8 443.2,141.6 444.0,141.4 444.9,144.6 445.7,145.0 446.6,143.2 447.4,140.8 448.2,142.3 449.1,141.6 449.9,141.8 450.7,141.4 451.6,142.9 452.4,142.9 453.2,141.9 454.1,141.7 454.9,141.7 455.7,142.0 456.6,142.8 457.4,141.2 458.2,141.8 459.1,141.2 459.9,144.9 460.7,141.3 461.6,144.7 462.4,142.1 463.2,143.0 464.1,142.2 464.9,142.8 465.7,142.6 466.6,142.1 467.4,142.0 468.2,143.1 469.1,144.8 469.9,143.1 470.7,141.8 471.6,143.2 472.4,141.9 473.2,142.7 474.1,143.3 474.9,141.1 475.7,140.6 476.6,142.4 477.4,142.4 478.2,141.3 479.1,143.6 479.9,143.2 480.7,141.2 481.6,141.4 482.4,142.8 483.2,143.1 484.1,142.0 484.9,143.7 485.7,142.8 486.6,142.5 487.4,144.8 488.2,141.7 489.1,141.5 489.9,141.2 490.8,143.8 491.6,143.6 492.4,143.1 493.3,143.6 494.1,140.2 494.9,143.3 495.8,142.6 496.6,142.1 497.4,141.9 498.3,140.9 499.1,143.4 499.9,141.4 500.8,142.2 501.6,143.5 502.4,142.2 503.3,143.7 504.1,140.7 504.9,143.0 505.8,141.3 506.6,141.0 507.4,142.9 508.3,143.2 509.1,142.2 509.9,143.4 510.8,141.4 511.6,142.1 512.4,143.1 513.3,143.0 514.1,141.6 514.9,143.8" fill="none" stroke="#ee4cee" stroke-width="0.72" stroke-linejoin="round" />
<polyline points="425.7,142.6 425.7,144.1 426.5,143.4 427.4,143.9 428.2,141.5 429.0,142.2 429.9,141.7 430.7,142.2 431.5,142.6 432.4,141.1 433.2,142.0 434.0,142.2 434.9,142.0 435.7,141.8 436.5,142.2 437.4,142.6 438.2,143.8 439.0,140.6 439.9,143.6 440.7,144.3 441.5,143.0 442.4,140.7 443.2,141.3 444.0,142.9 444.9,142.2 445.7,142.4 446.6,144.2 447.4,142.7 448.2,142.1 449.1,141.3 449.9,143.5 450.7,144.4 451.6,143.8 452.4,142.1 453.2,142.3 454.1,142.3 454.9,142.3 455.7,142.7 456.6,143.6 457.4,142.0 458.2,142.1 459.1,141.9 459.9,141.3 460.7,143.5 461.6,144.5 462.4,144.0 463.2,140.5 464.1,143.2 464.9,142.0 465.7,142.4 466.6,141.7 467.4,139.5 468.2,142.9 469.1,142.6 469.9,142.9 470.7,142.2 471.6,141.9 472.4,143.3 473.2,141.2 474.1,141.4 474.9,142.0 475.7,142.5 476.6,142.6 477.4,143.9 478.2,141.8 479.1,143.3 479.9,142.9 480.7,141.5 481.6,143.2 482.4,142.9 483.2,141.6 484.1,140.7 484.9,143.0 485.7,141.4 486.6,143.0 487.4,142.1 488.2,142.0 489.1,143.4 489.9,141.5 490.8,140.8 491.6,142.4 492.4,142.2 493.3,143.5 494.1,140.8 494.9,142.3 495.8,143.6 496.6,141.7 497.4,143.7 498.3,143.0 499.1,144.3 499.9,141.2 500.8,140.4 501.6,143.0 502.4,143.0 503.3,142.9 504.1,142.9 504.9,141.9 505.8,141.1 506.6,143.3 507.4,142.0 508.3,144.0 509.1,141.0 509.9,142.5 510.8,143.0 511.6,141.0 512.4,142.5 513.3,141.2 514.1,141.4 514.9,140.9" fill="none" stroke="#3434dc" stroke-width="0.72" stroke-linejoin="round" />
<polyline points="425.7,143.7 425.7,143.3 426.5,142.5 427.4,142.5 428.2,140.5 429.0,142.1 429.9,140.2 430.7,139.6 431.5,142.3 432.4,141.1 433.2,140.8 434.0,140.3 434.9,139.2 435.7,139.6 436.5,139.2 437.4,139.5 438.2,139.0 439.0,138.5 439.9,138.3 440.7,139.7 441.5,139.1 442.4,139.8 443.2,139.2 444.0,140.4 444.9,138.3 445.7,138.5 446.6,139.3 447.4,139.8 448.2,139.6 449.1,139.8 449.9,140.6 450.7,137.8 451.6,136.3 452.4,140.4 453.2,140.4 454.1,138.8 454.9,138.8 455.7,140.8 456.6,141.1 457.4,138.9 458.2,141.2 459.1,138.2 459.9,139.9 460.7,139.4 461.6,139.5 462.4,140.0 463.2,139.7 464.1,139.8 464.9,138.5 465.7,139.7 466.6,139.6 467.4,140.1 468.2,140.2 469.1,140.3 469.9,139.7 470.7,138.0 471.6,138.7 472.4,139.5 473.2,138.3 474.1,138.9 474.9,139.6 475.7,140.0 476.6,140.8 477.4,139.6 478.2,140.1 479.1,141.3 479.9,141.1 480.7,138.2 481.6,139.7 482.4,139.5 483.2,139.8 484.1,140.4 484.9,139.6 485.7,139.0 486.6,140.3 487.4,139.6 488.2,139.1 489.1,140.5 489.9,139.9 490.8,140.8 491.6,139.6 492.4,140.5 493.3,139.1 494.1,140.9 494.9,138.7 495.8,140.5 496.6,141.0 497.4,141.0 498.3,139.6 499.1,141.0 499.9,138.6 500.8,139.1 501.6,139.8 502.4,141.6 503.3,140.4 504.1,141.0 504.9,142.0 505.8,140.0 506.6,138.4 507.4,140.9 508.3,139.7 509.1,139.3 509.9,141.3 510.8,140.8 511.6,140.2 512.4,140.1 513.3,141.5 514.1,140.3 514.9,140.6" fill="none" stroke="#5fe6ea" stroke-width="0.72" stroke-linejoin="round" />
<polyline points="425.7,142.7 425.7,144.4 426.5,141.7 427.4,140.0 428.2,138.4 429.0,136.1 429.9,136.0 430.7,132.1 431.5,134.0 432.4,131.8 433.2,130.8 434.0,130.1 434.9,130.4 435.7,130.3 436.5,129.3 437.4,128.0 438.2,128.0 439.0,127.7 439.9,127.7 440.7,129.0 441.5,129.1 442.4,127.1 443.2,128.8 444.0,129.8 444.9,126.9 445.7,129.2 446.6,129.4 447.4,127.8 448.2,129.6 449.1,129.5 449.9,127.9 450.7,129.5 451.6,126.7 452.4,128.8 453.2,126.7 454.1,128.9 454.9,129.0 455.7,129.6 456.6,129.3 457.4,129.6 458.2,129.2 459.1,128.6 459.9,130.3 460.7,130.1 461.6,131.1 462.4,128.1 463.2,129.5 464.1,129.5 464.9,129.6 465.7,128.7 466.6,129.3 467.4,128.9 468.2,129.8 469.1,129.8 469.9,129.8 470.7,131.4 471.6,128.9 472.4,131.2 473.2,130.8 474.1,129.4 474.9,129.9 475.7,129.3 476.6,128.6 477.4,128.5 478.2,129.0 479.1,130.4 479.9,128.5 480.7,131.0 481.6,130.4 482.4,129.5 483.2,130.6 484.1,130.5 484.9,130.7 485.7,129.3 486.6,132.6 487.4,129.5 488.2,129.7 489.1,130.7 489.9,130.2 490.8,131.5 491.6,129.8 492.4,128.2 493.3,131.6 494.1,129.7 494.9,130.9 495.8,131.2 496.6,131.4 497.4,131.2 498.3,132.1 499.1,132.2 499.9,129.7 500.8,131.2 501.6,130.7 502.4,131.0 503.3,130.9 504.1,132.6 504.9,132.1 505.8,130.8 506.6,130.5 507.4,132.4 508.3,132.0 509.1,132.4 509.9,131.0 510.8,131.3 511.6,131.6 512.4,132.2 513.3,131.4 514.1,131.7 514.9,132.4" fill="none" stroke="#ee4a9c" stroke-width="0.72" stroke-linejoin="round" />
<polyline points="425.7,143.3 426.1,142.4 426.5,141.5 427.0,140.7 427.4,139.9 427.8,139.1 428.2,138.4 428.6,137.7 429.0,137.0 429.5,136.4 429.9,135.8 430.3,135.2 430.7,134.7 431.1,134.2 431.5,133.7 432.0,133.2 432.4,132.8 432.8,132.3 433.2,131.9 433.6,131.6 434.0,131.2 434.5,130.9 434.9,130.5 435.3,130.2 435.7,129.9 436.1,129.6 436.5,129.4 437.0,129.1 437.4,128.9 437.8,128.6 438.2,128.4 438.6,128.4 439.0,128.5 439.5,128.5 439.9,128.5 440.3,128.5 443.4,128.7 446.6,128.9 449.7,129.0 452.8,129.2 455.9,129.3 459.1,129.5 462.2,129.7 465.3,129.8 468.4,130.0 471.6,130.1 474.7,130.3 477.8,130.4 481.0,130.6 484.1,130.7 487.2,130.8 490.3,131.0 493.5,131.1 496.6,131.3 499.7,131.4 502.8,131.5 506.0,131.7 509.1,131.8 512.2,131.9 514.9,132.0" fill="none" stroke="#3a3a3a" stroke-width="0.84" stroke-linejoin="round" />
<polyline points="425.7,143.3 426.1,143.0 426.5,142.7 427.0,142.5 427.4,142.2 427.8,142.0 428.2,141.7 428.6,141.5 429.0,141.3 429.5,141.1 429.9,140.9 430.3,140.8 430.7,140.6 431.1,140.4 431.5,140.3 432.0,140.2 432.4,140.0 432.8,139.9 433.2,139.8 433.6,139.7 434.0,139.6 434.5,139.5 434.9,139.4 435.3,139.3 435.7,139.3 436.1,139.2 436.5,139.1 437.0,139.0 437.4,139.0 437.8,138.9 438.2,138.9 438.6,138.9 439.0,138.9 439.5,138.9 439.9,138.9 440.3,138.9 443.4,139.0 446.6,139.1 449.7,139.2 452.8,139.2 455.9,139.3 459.1,139.4 462.2,139.4 465.3,139.5 468.4,139.6 471.6,139.6 474.7,139.7 477.8,139.8 481.0,139.8 484.1,139.9 487.2,140.0 490.3,140.0 493.5,140.1 496.6,140.1 499.7,140.2 502.8,140.3 506.0,140.3 509.1,140.4 512.2,140.4 514.9,140.5" fill="none" stroke="#3a3a3a" stroke-width="0.84" stroke-linejoin="round" />
<polyline points="425.7,143.3 426.1,143.3 426.5,143.3 427.0,143.2 427.4,143.2 427.8,143.1 428.2,143.1 428.6,143.1 429.0,143.0 429.5,143.0 429.9,143.0 430.3,142.9 430.7,142.9 431.1,142.9 431.5,142.9 432.0,142.8 432.4,142.8 432.8,142.8 433.2,142.8 433.6,142.8 434.0,142.8 434.5,142.7 434.9,142.7 435.3,142.7 435.7,142.7 436.1,142.7 436.5,142.7 437.0,142.7 437.4,142.7 437.8,142.6 438.2,142.6 438.6,142.6 439.0,142.6 439.5,142.6 439.9,142.6 440.3,142.6 443.4,142.6 446.6,142.6 449.7,142.6 452.8,142.6 455.9,142.6 459.1,142.6 462.2,142.6 465.3,142.6 468.4,142.6 471.6,142.6 474.7,142.6 477.8,142.6 481.0,142.6 484.1,142.6 487.2,142.6 490.3,142.6 493.5,142.6 496.6,142.6 499.7,142.6 502.8,142.6 506.0,142.6 509.1,142.6 512.2,142.6 514.9,142.6" fill="none" stroke="#3a3a3a" stroke-width="0.84" stroke-linejoin="round" />
<polyline points="379.4,143.9 380.2,144.9 381.1,143.2 381.9,143.6 382.7,144.9 383.6,143.6 384.4,144.1 385.3,144.9 386.1,145.1 386.9,145.9 387.8,145.3 388.6,143.8 389.4,143.0 390.3,144.8 391.1,144.0 391.9,143.8 392.8,143.4 393.6,143.7 394.4,142.9 395.3,143.4 396.1,145.0 396.9,143.8 397.8,146.6 398.6,144.4 399.4,144.2 400.3,143.6 401.1,144.5 401.9,143.3 402.8,142.9 403.6,145.0 404.4,144.7 405.3,143.9 406.1,143.7 406.9,144.0 407.8,143.3 408.6,145.4 409.4,143.4 410.3,143.0 411.1,143.1 411.9,143.8 412.8,144.4 413.6,143.8 414.4,144.3 415.3,145.8 416.1,144.8 416.9,144.2 417.8,144.7 418.6,145.1 419.4,144.4 420.3,144.6 421.1,144.1 421.9,144.2 422.8,144.0 423.6,143.2 424.4,144.1 425.3,143.8" fill="none" stroke="#e8a044" stroke-width="0.72" stroke-linejoin="round" />
<polyline points="379.4,144.9 380.2,146.6 381.1,144.0 381.9,142.9 382.7,144.0 383.6,144.3 384.4,144.9 385.3,142.7 386.1,144.2 386.9,143.4 387.8,142.5 388.6,143.1 389.4,141.3 390.3,143.8 391.1,142.7 391.9,142.9 392.8,144.3 393.6,143.6 394.4,144.2 395.3,144.7 396.1,143.3 396.9,144.4 397.8,141.9 398.6,144.4 399.4,144.2 400.3,143.5 401.1,144.2 401.9,143.6 402.8,144.2 403.6,145.1 404.4,146.1 405.3,144.9 406.1,142.1 406.9,143.2 407.8,143.5 408.6,144.1 409.4,143.8 410.3,143.3 411.1,145.0 411.9,144.4 412.8,144.5 413.6,142.3 414.4,144.7 415.3,142.4 416.1,144.1 416.9,140.9 417.8,143.7 418.6,143.6 419.4,142.3 420.3,142.7 421.1,142.7 421.9,144.7 422.8,142.5 423.6,141.9 424.4,143.7 425.3,144.1" fill="none" stroke="#3cc43c" stroke-width="0.72" stroke-linejoin="round" />
<polyline points="379.4,143.9 380.2,141.7 381.1,142.5 381.9,142.8 382.7,144.0 383.6,141.1 384.4,141.9 385.3,142.8 386.1,141.3 386.9,143.7 387.8,141.9 388.6,143.8 389.4,141.3 390.3,143.1 391.1,141.5 391.9,143.2 392.8,142.4 393.6,141.6 394.4,143.7 395.3,142.7 396.1,143.6 396.9,141.9 397.8,143.4 398.6,143.2 399.4,143.0 400.3,141.6 401.1,143.8 401.9,142.8 402.8,143.1 403.6,143.3 404.4,143.6 405.3,142.9 406.1,142.6 406.9,144.4 407.8,142.5 408.6,144.0 409.4,142.8 410.3,140.5 411.1,143.8 411.9,142.8 412.8,143.0 413.6,141.8 414.4,143.3 415.3,144.6 416.1,144.4 416.9,142.6 417.8,142.5 418.6,141.7 419.4,143.3 420.3,142.1 421.1,143.9 421.9,141.5 422.8,142.9 423.6,143.5 424.4,142.6 425.3,141.0" fill="none" stroke="#ee4cee" stroke-width="0.72" stroke-linejoin="round" />
<polyline points="379.4,144.1 380.2,144.5 381.1,144.3 381.9,144.4 382.7,143.4 383.6,143.0 384.4,143.5 385.3,143.2 386.1,142.3 386.9,143.6 387.8,144.5 388.6,145.4 389.4,143.1 390.3,144.0 391.1,143.6 391.9,143.0 392.8,142.9 393.6,144.8 394.4,144.2 395.3,143.3 396.1,143.5 396.9,142.3 397.8,143.8 398.6,145.2 399.4,142.3 400.3,144.8 401.1,144.2 401.9,143.0 402.8,144.3 403.6,141.1 404.4,143.1 405.3,142.9 406.1,143.7 406.9,141.3 407.8,142.9 408.6,144.0 409.4,142.2 410.3,144.9 411.1,143.9 411.9,143.1 412.8,143.2 413.6,144.2 414.4,141.9 415.3,142.0 416.1,144.2 416.9,143.0 417.8,143.9 418.6,143.7 419.4,142.5 420.3,143.2 421.1,143.4 421.9,143.3 422.8,144.4 423.6,142.2 424.4,144.0 425.3,142.2" fill="none" stroke="#3434dc" stroke-width="0.72" stroke-linejoin="round" />
<polyline points="379.4,143.8 380.2,143.8 381.1,142.0 381.9,143.2 382.7,143.9 383.6,143.8 384.4,142.8 385.3,141.7 386.1,142.8 386.9,143.7 387.8,144.4 388.6,144.0 389.4,143.5 390.3,143.1 391.1,143.9 391.9,142.2 392.8,144.2 393.6,144.0 394.4,142.9 395.3,142.9 396.1,143.7 396.9,142.5 397.8,144.6 398.6,141.9 399.4,141.4 400.3,141.6 401.1,143.2 401.9,141.6 402.8,143.3 403.6,142.1 404.4,143.5 405.3,143.2 406.1,142.9 406.9,144.9 407.8,143.5 408.6,141.8 409.4,146.0 410.3,143.0 411.1,142.5 411.9,143.1 412.8,143.2 413.6,142.1 414.4,143.0 415.3,145.1 416.1,144.2 416.9,143.6 417.8,143.2 418.6,143.8 419.4,143.4 420.3,141.8 421.1,146.0 421.9,142.3 422.8,142.5 423.6,142.8 424.4,143.3 425.3,143.3" fill="none" stroke="#5fe6ea" stroke-width="0.72" stroke-linejoin="round" />
<polyline points="379.4,142.8 380.2,142.9 381.1,143.7 381.9,142.4 382.7,143.8 383.6,143.1 384.4,143.4 385.3,144.0 386.1,142.6 386.9,143.1 387.8,144.1 388.6,143.1 389.4,144.2 390.3,141.9 391.1,142.6 391.9,141.4 392.8,143.5 393.6,142.5 394.4,143.9 395.3,143.8 396.1,143.1 396.9,142.7 397.8,142.3 398.6,143.3 399.4,142.1 400.3,142.2 401.1,143.8 401.9,143.2 402.8,143.8 403.6,141.6 404.4,143.5 405.3,142.3 406.1,142.3 406.9,143.3 407.8,143.5 408.6,142.8 409.4,143.7 410.3,144.1 411.1,143.9 411.9,142.8 412.8,142.9 413.6,141.6 414.4,144.6 415.3,142.6 416.1,144.0 416.9,142.1 417.8,142.5 418.6,143.0 419.4,141.8 420.3,143.4 421.1,143.5 421.9,144.0 422.8,143.6 423.6,143.0 424.4,142.5 425.3,142.0" fill="none" stroke="#ee4a9c" stroke-width="0.72" stroke-linejoin="round" />
<line x1="380.30" y1="119.00" x2="380.30" y2="156.60" stroke="#222" stroke-width="0.8" />
<line x1="379.90" y1="156.60" x2="515.60" y2="156.60" stroke="#222" stroke-width="0.8" />
<line x1="378.30" y1="142.50" x2="380.30" y2="142.50" stroke="#222" stroke-width="0.7" />
<text x="375.0" y="144.7" text-anchor="end" font-size="7.45" >0</text>
<line x1="378.30" y1="131.20" x2="380.30" y2="131.20" stroke="#222" stroke-width="0.7" />
<text x="375.0" y="133.8" text-anchor="end" font-size="7.45" >20</text>
<line x1="378.30" y1="119.90" x2="380.30" y2="119.90" stroke="#222" stroke-width="0.7" />
<text x="375.0" y="124.1" text-anchor="end" font-size="7.45" >40</text>
<line x1="379.00" y1="153.80" x2="380.30" y2="153.80" stroke="#222" stroke-width="0.6" />
<line x1="379.00" y1="136.85" x2="380.30" y2="136.85" stroke="#222" stroke-width="0.6" />
<line x1="379.00" y1="125.55" x2="380.30" y2="125.55" stroke="#222" stroke-width="0.6" />
<line x1="384.00" y1="156.60" x2="384.00" y2="158.30" stroke="#222" stroke-width="0.7" />
<line x1="394.43" y1="156.60" x2="394.43" y2="158.30" stroke="#222" stroke-width="0.7" />
<line x1="404.85" y1="156.60" x2="404.85" y2="158.30" stroke="#222" stroke-width="0.7" />
<line x1="415.27" y1="156.60" x2="415.27" y2="158.30" stroke="#222" stroke-width="0.7" />
<line x1="425.70" y1="156.60" x2="425.70" y2="158.30" stroke="#222" stroke-width="0.7" />
<line x1="436.12" y1="156.60" x2="436.12" y2="158.30" stroke="#222" stroke-width="0.7" />
<line x1="446.55" y1="156.60" x2="446.55" y2="158.30" stroke="#222" stroke-width="0.7" />
<line x1="456.97" y1="156.60" x2="456.97" y2="158.30" stroke="#222" stroke-width="0.7" />
<line x1="467.40" y1="156.60" x2="467.40" y2="158.30" stroke="#222" stroke-width="0.7" />
<line x1="477.82" y1="156.60" x2="477.82" y2="158.30" stroke="#222" stroke-width="0.7" />
<line x1="488.25" y1="156.60" x2="488.25" y2="158.30" stroke="#222" stroke-width="0.7" />
<line x1="498.67" y1="156.60" x2="498.67" y2="158.30" stroke="#222" stroke-width="0.7" />
<line x1="509.10" y1="156.60" x2="509.10" y2="158.30" stroke="#222" stroke-width="0.7" />
<text x="384.0" y="165.6" text-anchor="middle" font-size="7.45" >-200</text>
<text x="404.8" y="165.6" text-anchor="middle" font-size="7.45" >-100</text>
<text x="425.7" y="165.6" text-anchor="middle" font-size="7.45" >0</text>
<text x="446.6" y="165.6" text-anchor="middle" font-size="7.45" >100</text>
<text x="467.4" y="165.6" text-anchor="middle" font-size="7.45" >200</text>
<text x="488.2" y="165.6" text-anchor="middle" font-size="7.45" >300</text>
<text x="509.1" y="165.6" text-anchor="middle" font-size="7.45" >400</text>
<text x="448.3" y="114.6" text-anchor="middle" font-size="7.45" >+EBOV-296 Fab</text>
<text x="388.7" y="129.2" font-size="7.45"><tspan font-style="italic">K</tspan><tspan font-size="4.32" dy="2.5">D</tspan><tspan dy="-2.5">= 46 nM</tspan></text>
<text transform="translate(351.0,137.8) rotate(-90)" text-anchor="middle" font-size="7.45">Modality A</text>
<text transform="translate(360.3,137.8) rotate(-90)" text-anchor="middle" font-size="7.45">Response (RU)</text>
<line x1="540.90" y1="86.10" x2="682.60" y2="86.10" stroke="#d4d4d4" stroke-width="0.7" />
<line x1="593.30" y1="53.20" x2="593.30" y2="89.90" stroke="#b0b0b0" stroke-width="0.6" />
<polyline points="593.3,86.0 593.7,86.0 594.1,86.0 594.5,86.0 594.9,86.0 595.2,86.0 595.6,86.0 596.0,86.0 596.4,86.0 596.8,86.0 597.2,86.0 597.6,86.0 598.0,86.0 598.3,86.0 598.7,86.0 599.1,86.0 599.5,86.0 599.9,86.0 600.3,86.0 600.7,86.0 601.1,86.0 601.4,86.0 601.8,86.0 602.2,86.0 602.6,86.0 603.0,86.0 603.4,86.0 603.8,86.0 604.2,86.0 604.6,86.0 604.9,86.0 605.3,86.0 605.7,86.0 606.1,86.0 606.5,86.0 606.9,86.0 609.8,86.0 612.7,86.0 615.6,86.0 618.5,86.0 621.4,86.0 624.3,86.0 627.2,86.0 630.2,86.0 633.1,86.0 636.0,86.0 638.9,86.0 641.8,86.0 644.7,86.0 647.6,86.0 650.5,86.0 653.4,86.0 656.3,86.0 659.3,86.0 662.2,86.0 665.1,86.0 668.0,86.0 670.9,86.0 673.8,86.0 676.7,86.0 677.1,86.0" fill="none" stroke="#3a3a3a" stroke-width="1.08" stroke-linejoin="round" />
<polyline points="593.3,86.0 593.3,86.2 594.1,86.1 594.9,86.1 595.6,86.1 596.4,86.1 597.2,86.2 598.0,86.0 598.7,86.1 599.5,86.0 600.3,86.3 601.1,85.9 601.8,85.8 602.6,85.8 603.4,86.1 604.2,86.3 604.9,86.3 605.7,86.3 606.5,86.1 607.3,86.0 608.0,86.4 608.8,85.8 609.6,86.4 610.4,86.1 611.1,86.1 611.9,85.7 612.7,85.5 613.5,86.0 614.3,86.0 615.0,86.0 615.8,86.0 616.6,86.0 617.4,85.3 618.1,86.2 618.9,86.0 619.7,86.1 620.5,85.8 621.2,86.1 622.0,85.8 622.8,86.2 623.6,85.4 624.3,85.9 625.1,86.4 625.9,85.7 626.7,86.0 627.4,86.2 628.2,85.8 629.0,86.0 629.8,85.7 630.5,86.0 631.3,85.7 632.1,85.9 632.9,85.8 633.7,85.9 634.4,86.0 635.2,86.0 636.0,85.8 636.8,85.7 637.5,86.0 638.3,85.3 639.1,85.5 639.9,86.2 640.6,85.6 641.4,85.9 642.2,85.8 643.0,86.1 643.7,85.5 644.5,86.1 645.3,85.9 646.1,86.1 646.8,85.4 647.6,85.5 648.4,86.2 649.2,86.0 649.9,85.8 650.7,86.0 651.5,86.0 652.3,86.1 653.1,85.8 653.8,86.1 654.6,85.6 655.4,85.2 656.2,85.9 656.9,85.4 657.7,85.8 658.5,86.0 659.3,85.9 660.0,86.1 660.8,85.8 661.6,85.7 662.4,85.6 663.1,85.9 663.9,86.1 664.7,85.9 665.5,85.4 666.2,85.8 667.0,85.8 667.8,86.4 668.6,85.9 669.3,85.7 670.1,86.1 670.9,85.5 671.7,86.0 672.5,86.0 673.2,86.0 674.0,85.8 674.8,85.6 675.6,86.0 676.3,86.3 677.1,85.8" fill="none" stroke="#ee4cee" stroke-width="0.72" stroke-linejoin="round" />
<polyline points="593.3,85.9 593.3,85.5 594.1,86.2 594.9,85.5 595.6,85.7 596.4,85.8 597.2,86.1 598.0,86.1 598.7,86.1 599.5,85.6 600.3,85.8 601.1,85.6 601.8,85.4 602.6,85.8 603.4,85.9 604.2,85.4 604.9,86.2 605.7,86.0 606.5,85.9 607.3,85.9 608.0,85.8 608.8,86.0 609.6,85.5 610.4,86.2 611.1,86.0 611.9,86.3 612.7,86.2 613.5,85.7 614.3,85.7 615.0,85.9 615.8,85.6 616.6,85.6 617.4,85.9 618.1,85.8 618.9,85.7 619.7,85.3 620.5,85.9 621.2,85.7 622.0,85.6 622.8,85.5 623.6,85.7 624.3,85.5 625.1,86.0 625.9,85.8 626.7,86.3 627.4,85.8 628.2,85.2 629.0,85.7 629.8,85.7 630.5,85.7 631.3,85.7 632.1,86.1 632.9,85.9 633.7,85.8 634.4,85.7 635.2,86.0 636.0,85.8 636.8,85.9 637.5,86.1 638.3,85.9 639.1,85.9 639.9,85.5 640.6,85.4 641.4,85.6 642.2,85.8 643.0,85.9 643.7,86.1 644.5,85.8 645.3,85.3 646.1,85.4 646.8,85.6 647.6,85.8 648.4,85.7 649.2,85.6 649.9,85.7 650.7,85.6 651.5,85.9 652.3,85.7 653.1,85.8 653.8,85.4 654.6,86.0 655.4,85.3 656.2,85.7 656.9,85.8 657.7,85.7 658.5,85.6 659.3,85.7 660.0,85.5 660.8,85.8 661.6,86.1 662.4,85.5 663.1,85.7 663.9,85.2 664.7,85.5 665.5,86.2 666.2,85.3 667.0,85.8 667.8,85.5 668.6,85.1 669.3,85.3 670.1,85.9 670.9,85.6 671.7,86.0 672.5,85.4 673.2,85.5 674.0,85.9 674.8,85.5 675.6,85.4 676.3,85.4 677.1,85.8" fill="none" stroke="#e8a044" stroke-width="0.72" stroke-linejoin="round" />
<polyline points="593.3,86.1 593.3,86.1 594.1,86.1 594.9,85.7 595.6,85.7 596.4,85.4 597.2,85.7 598.0,85.8 598.7,86.1 599.5,85.3 600.3,85.7 601.1,85.7 601.8,86.0 602.6,86.0 603.4,85.5 604.2,85.9 604.9,85.5 605.7,85.5 606.5,85.8 607.3,86.1 608.0,85.6 608.8,85.3 609.6,85.9 610.4,86.0 611.1,85.4 611.9,85.6 612.7,85.8 613.5,85.3 614.3,85.7 615.0,85.5 615.8,85.7 616.6,85.8 617.4,85.6 618.1,85.8 618.9,86.1 619.7,85.7 620.5,85.3 621.2,85.3 622.0,85.0 622.8,85.3 623.6,85.2 624.3,85.5 625.1,85.7 625.9,85.4 626.7,85.8 627.4,85.4 628.2,85.7 629.0,85.5 629.8,85.7 630.5,85.6 631.3,85.3 632.1,85.6 632.9,85.7 633.7,85.4 634.4,85.3 635.2,85.5 636.0,85.8 636.8,85.9 637.5,85.8 638.3,85.2 639.1,85.5 639.9,85.3 640.6,85.2 641.4,85.4 642.2,85.3 643.0,85.6 643.7,85.8 644.5,85.3 645.3,85.4 646.1,85.3 646.8,85.7 647.6,85.4 648.4,84.9 649.2,85.6 649.9,85.4 650.7,85.1 651.5,85.4 652.3,85.3 653.1,85.9 653.8,85.2 654.6,85.5 655.4,85.0 656.2,85.4 656.9,85.4 657.7,85.2 658.5,85.4 659.3,85.5 660.0,84.9 660.8,85.1 661.6,85.3 662.4,85.1 663.1,85.1 663.9,85.2 664.7,85.3 665.5,85.3 666.2,85.2 667.0,85.1 667.8,85.2 668.6,85.4 669.3,85.3 670.1,85.1 670.9,85.5 671.7,85.2 672.5,85.0 673.2,85.2 674.0,85.3 674.8,85.2 675.6,85.3 676.3,85.0 677.1,85.3" fill="none" stroke="#3434dc" stroke-width="0.72" stroke-linejoin="round" />
<polyline points="593.3,86.2 593.3,86.1 594.1,85.7 594.9,85.7 595.6,85.9 596.4,86.1 597.2,85.8 598.0,85.9 598.7,85.9 599.5,85.7 600.3,85.9 601.1,85.6 601.8,85.9 602.6,85.8 603.4,85.7 604.2,85.3 604.9,85.3 605.7,85.4 606.5,85.8 607.3,85.6 608.0,85.4 608.8,85.4 609.6,86.0 610.4,85.6 611.1,85.8 611.9,85.4 612.7,85.4 613.5,85.7 614.3,85.0 615.0,85.6 615.8,84.9 616.6,85.6 617.4,85.6 618.1,85.1 618.9,85.7 619.7,85.7 620.5,85.2 621.2,85.5 622.0,85.4 622.8,85.8 623.6,85.0 624.3,85.2 625.1,85.4 625.9,85.3 626.7,85.6 627.4,85.6 628.2,85.9 629.0,85.4 629.8,85.1 630.5,85.2 631.3,85.2 632.1,85.2 632.9,85.7 633.7,85.7 634.4,85.2 635.2,85.4 636.0,85.1 636.8,85.4 637.5,85.6 638.3,85.3 639.1,85.5 639.9,85.8 640.6,85.5 641.4,85.6 642.2,85.6 643.0,85.5 643.7,85.1 644.5,84.7 645.3,84.9 646.1,85.4 646.8,85.0 647.6,85.3 648.4,85.2 649.2,85.4 649.9,85.3 650.7,85.7 651.5,84.8 652.3,85.4 653.1,85.1 653.8,85.4 654.6,85.2 655.4,85.5 656.2,85.3 656.9,85.0 657.7,85.0 658.5,85.7 659.3,85.0 660.0,85.5 660.8,85.1 661.6,85.0 662.4,85.3 663.1,85.2 663.9,85.2 664.7,85.0 665.5,84.9 666.2,84.8 667.0,85.0 667.8,84.6 668.6,85.3 669.3,84.6 670.1,85.2 670.9,84.9 671.7,85.1 672.5,85.0 673.2,85.3 674.0,84.9 674.8,84.5 675.6,85.0 676.3,85.0 677.1,85.0" fill="none" stroke="#3cc43c" stroke-width="0.72" stroke-linejoin="round" />
<polyline points="593.3,85.9 593.3,85.7 594.1,85.7 594.9,85.6 595.6,85.3 596.4,85.4 597.2,85.9 598.0,85.8 598.7,85.6 599.5,85.4 600.3,85.3 601.1,85.6 601.8,85.0 602.6,85.6 603.4,85.2 604.2,85.2 604.9,85.1 605.7,85.5 606.5,85.4 607.3,85.9 608.0,85.9 608.8,85.6 609.6,85.3 610.4,85.2 611.1,85.5 611.9,85.2 612.7,85.3 613.5,85.0 614.3,85.8 615.0,85.6 615.8,85.6 616.6,85.6 617.4,84.9 618.1,85.6 618.9,85.6 619.7,85.4 620.5,85.1 621.2,85.4 622.0,85.1 622.8,85.2 623.6,85.5 624.3,85.9 625.1,85.5 625.9,85.6 626.7,84.8 627.4,85.4 628.2,85.5 629.0,85.1 629.8,85.2 630.5,85.4 631.3,84.9 632.1,85.0 632.9,85.1 633.7,85.4 634.4,85.4 635.2,85.7 636.0,85.0 636.8,85.0 637.5,85.4 638.3,85.1 639.1,84.3 639.9,85.4 640.6,85.5 641.4,84.9 642.2,85.2 643.0,85.2 643.7,84.9 644.5,85.1 645.3,84.8 646.1,84.9 646.8,84.7 647.6,85.0 648.4,85.5 649.2,84.6 649.9,85.4 650.7,84.7 651.5,84.9 652.3,85.3 653.1,84.9 653.8,84.7 654.6,85.2 655.4,84.9 656.2,85.1 656.9,85.1 657.7,85.0 658.5,84.5 659.3,84.7 660.0,84.8 660.8,84.9 661.6,84.8 662.4,84.7 663.1,84.8 663.9,85.2 664.7,84.6 665.5,85.0 666.2,85.4 667.0,84.6 667.8,85.0 668.6,84.8 669.3,84.7 670.1,84.9 670.9,84.6 671.7,84.8 672.5,84.8 673.2,84.9 674.0,84.7 674.8,84.9 675.6,84.6 676.3,84.3 677.1,84.4" fill="none" stroke="#5fe6ea" stroke-width="0.72" stroke-linejoin="round" />
<polyline points="549.1,85.9 549.8,86.3 550.6,85.7 551.4,85.8 552.2,85.5 552.9,86.5 553.7,86.0 554.5,86.1 555.3,85.7 556.1,86.3 556.8,86.1 557.6,85.4 558.4,85.7 559.2,86.5 559.9,86.0 560.7,85.6 561.5,86.1 562.3,85.8 563.0,86.0 563.8,86.4 564.6,86.2 565.4,85.7 566.1,85.7 566.9,86.1 567.7,85.7 568.5,86.2 569.2,85.9 570.0,86.0 570.8,86.3 571.6,85.9 572.3,86.1 573.1,86.7 573.9,86.2 574.7,86.2 575.5,86.2 576.2,86.2 577.0,86.2 577.8,86.6 578.6,85.8 579.3,86.0 580.1,85.9 580.9,86.1 581.7,86.0 582.4,86.1 583.2,86.3 584.0,86.4 584.8,86.0 585.5,85.7 586.3,85.9 587.1,85.6 587.9,86.3 588.6,86.1 589.4,86.1 590.2,85.7 591.0,85.6 591.7,86.1 592.5,85.8 593.3,86.0" fill="none" stroke="#ee4cee" stroke-width="0.96" stroke-linejoin="round" stroke-dasharray="1.6 6.4" stroke-dashoffset="0.0"/>
<polyline points="549.1,86.2 549.8,86.0 550.6,86.3 551.4,85.6 552.2,85.8 552.9,85.7 553.7,85.9 554.5,86.6 555.3,85.8 556.1,86.0 556.8,86.6 557.6,86.0 558.4,85.7 559.2,85.6 559.9,86.3 560.7,85.8 561.5,85.9 562.3,86.0 563.0,86.1 563.8,85.9 564.6,85.8 565.4,85.8 566.1,86.1 566.9,86.3 567.7,85.7 568.5,85.7 569.2,86.1 570.0,86.0 570.8,85.8 571.6,86.4 572.3,85.9 573.1,85.4 573.9,85.9 574.7,86.2 575.5,85.5 576.2,86.0 577.0,85.9 577.8,86.1 578.6,85.9 579.3,86.4 580.1,86.3 580.9,86.4 581.7,85.8 582.4,86.0 583.2,85.7 584.0,86.5 584.8,86.1 585.5,85.6 586.3,86.2 587.1,86.5 587.9,86.2 588.6,86.1 589.4,86.0 590.2,85.7 591.0,85.7 591.7,85.6 592.5,85.8 593.3,86.0" fill="none" stroke="#e8a044" stroke-width="0.96" stroke-linejoin="round" stroke-dasharray="1.6 6.4" stroke-dashoffset="1.6"/>
<polyline points="549.1,86.1 549.8,86.4 550.6,85.7 551.4,85.7 552.2,86.0 552.9,86.2 553.7,85.8 554.5,85.9 555.3,86.0 556.1,86.3 556.8,85.9 557.6,86.1 558.4,85.8 559.2,85.8 559.9,85.9 560.7,86.1 561.5,85.6 562.3,85.8 563.0,85.7 563.8,85.8 564.6,85.8 565.4,85.9 566.1,86.3 566.9,86.4 567.7,86.2 568.5,85.8 569.2,85.8 570.0,85.9 570.8,86.0 571.6,85.5 572.3,86.1 573.1,86.4 573.9,86.4 574.7,86.1 575.5,85.8 576.2,85.8 577.0,86.0 577.8,85.8 578.6,86.0 579.3,86.2 580.1,86.1 580.9,85.8 581.7,85.7 582.4,86.3 583.2,86.2 584.0,86.0 584.8,85.4 585.5,86.3 586.3,86.3 587.1,85.9 587.9,85.9 588.6,86.1 589.4,86.0 590.2,85.9 591.0,86.4 591.7,86.0 592.5,85.8 593.3,85.5" fill="none" stroke="#3434dc" stroke-width="0.96" stroke-linejoin="round" stroke-dasharray="1.6 6.4" stroke-dashoffset="3.2"/>
<polyline points="549.1,85.7 549.8,86.0 550.6,86.4 551.4,85.7 552.2,85.8 552.9,86.2 553.7,85.7 554.5,85.7 555.3,86.0 556.1,86.6 556.8,86.1 557.6,86.2 558.4,86.2 559.2,86.0 559.9,86.3 560.7,85.9 561.5,85.5 562.3,86.3 563.0,85.7 563.8,86.1 564.6,85.9 565.4,86.0 566.1,85.7 566.9,86.2 567.7,85.8 568.5,86.2 569.2,85.9 570.0,86.0 570.8,85.7 571.6,86.4 572.3,86.3 573.1,85.6 573.9,85.9 574.7,85.6 575.5,86.3 576.2,85.9 577.0,85.8 577.8,85.5 578.6,86.0 579.3,86.1 580.1,85.8 580.9,86.0 581.7,86.2 582.4,85.8 583.2,86.5 584.0,86.2 584.8,85.6 585.5,86.1 586.3,86.1 587.1,85.9 587.9,85.7 588.6,85.9 589.4,86.2 590.2,86.1 591.0,85.7 591.7,86.0 592.5,86.2 593.3,85.6" fill="none" stroke="#3cc43c" stroke-width="0.96" stroke-linejoin="round" stroke-dasharray="1.6 6.4" stroke-dashoffset="4.8"/>
<polyline points="549.1,85.7 549.8,85.4 550.6,86.3 551.4,86.2 552.2,86.2 552.9,85.9 553.7,86.1 554.5,85.7 555.3,86.7 556.1,85.8 556.8,86.2 557.6,86.1 558.4,85.8 559.2,85.9 559.9,86.2 560.7,85.6 561.5,85.8 562.3,86.1 563.0,85.9 563.8,86.3 564.6,86.3 565.4,86.1 566.1,85.9 566.9,86.0 567.7,86.2 568.5,86.3 569.2,86.4 570.0,85.6 570.8,85.9 571.6,86.2 572.3,85.7 573.1,85.9 573.9,86.1 574.7,86.1 575.5,85.7 576.2,85.9 577.0,85.6 577.8,85.9 578.6,86.1 579.3,86.1 580.1,86.2 580.9,85.9 581.7,85.9 582.4,85.8 583.2,85.9 584.0,86.3 584.8,86.0 585.5,86.2 586.3,85.9 587.1,86.3 587.9,86.1 588.6,86.2 589.4,86.1 590.2,86.1 591.0,85.6 591.7,86.1 592.5,86.4 593.3,85.7" fill="none" stroke="#5fe6ea" stroke-width="0.96" stroke-linejoin="round" stroke-dasharray="1.6 6.4" stroke-dashoffset="6.4"/>
<line x1="540.90" y1="53.20" x2="540.90" y2="89.90" stroke="#222" stroke-width="0.8" />
<line x1="540.50" y1="89.90" x2="682.60" y2="89.90" stroke="#222" stroke-width="0.8" />
<line x1="538.90" y1="86.10" x2="540.90" y2="86.10" stroke="#222" stroke-width="0.7" />
<text x="537.5" y="88.8" text-anchor="end" font-size="7.45" >0</text>
<line x1="538.90" y1="77.40" x2="540.90" y2="77.40" stroke="#222" stroke-width="0.7" />
<text x="537.5" y="80.1" text-anchor="end" font-size="7.45" >40</text>
<line x1="538.90" y1="68.70" x2="540.90" y2="68.70" stroke="#222" stroke-width="0.7" />
<text x="537.5" y="71.4" text-anchor="end" font-size="7.45" >80</text>
<line x1="538.90" y1="60.00" x2="540.90" y2="60.00" stroke="#222" stroke-width="0.7" />
<text x="537.5" y="62.7" text-anchor="end" font-size="7.45" >120</text>
<line x1="539.60" y1="81.75" x2="540.90" y2="81.75" stroke="#222" stroke-width="0.6" />
<line x1="539.60" y1="73.05" x2="540.90" y2="73.05" stroke="#222" stroke-width="0.6" />
<line x1="539.60" y1="64.35" x2="540.90" y2="64.35" stroke="#222" stroke-width="0.6" />
<line x1="539.60" y1="55.65" x2="540.90" y2="55.65" stroke="#222" stroke-width="0.6" />
<line x1="544.80" y1="89.90" x2="544.80" y2="91.60" stroke="#222" stroke-width="0.7" />
<line x1="554.50" y1="89.90" x2="554.50" y2="91.60" stroke="#222" stroke-width="0.7" />
<line x1="564.20" y1="89.90" x2="564.20" y2="91.60" stroke="#222" stroke-width="0.7" />
<line x1="573.90" y1="89.90" x2="573.90" y2="91.60" stroke="#222" stroke-width="0.7" />
<line x1="583.60" y1="89.90" x2="583.60" y2="91.60" stroke="#222" stroke-width="0.7" />
<line x1="593.30" y1="89.90" x2="593.30" y2="91.60" stroke="#222" stroke-width="0.7" />
<line x1="603.00" y1="89.90" x2="603.00" y2="91.60" stroke="#222" stroke-width="0.7" />
<line x1="612.70" y1="89.90" x2="612.70" y2="91.60" stroke="#222" stroke-width="0.7" />
<line x1="622.40" y1="89.90" x2="622.40" y2="91.60" stroke="#222" stroke-width="0.7" />
<line x1="632.10" y1="89.90" x2="632.10" y2="91.60" stroke="#222" stroke-width="0.7" />
<line x1="641.80" y1="89.90" x2="641.80" y2="91.60" stroke="#222" stroke-width="0.7" />
<line x1="651.50" y1="89.90" x2="651.50" y2="91.60" stroke="#222" stroke-width="0.7" />
<line x1="661.20" y1="89.90" x2="661.20" y2="91.60" stroke="#222" stroke-width="0.7" />
<line x1="670.90" y1="89.90" x2="670.90" y2="91.60" stroke="#222" stroke-width="0.7" />
<line x1="680.60" y1="89.90" x2="680.60" y2="91.60" stroke="#222" stroke-width="0.7" />
<text x="554.5" y="98.7" text-anchor="middle" font-size="7.45" >-200</text>
<text x="573.9" y="98.7" text-anchor="middle" font-size="7.45" >-100</text>
<text x="593.3" y="98.7" text-anchor="middle" font-size="7.45" >0</text>
<text x="612.7" y="98.7" text-anchor="middle" font-size="7.45" >100</text>
<text x="632.1" y="98.7" text-anchor="middle" font-size="7.45" >200</text>
<text x="651.5" y="98.7" text-anchor="middle" font-size="7.45" >300</text>
<text x="670.9" y="98.7" text-anchor="middle" font-size="7.45" >400</text>
<text x="608.3" y="47.9" text-anchor="middle" font-size="7.45" >+EBOV-296 IgG</text>
<line x1="540.30" y1="143.40" x2="681.40" y2="143.40" stroke="#d4d4d4" stroke-width="0.7" />
<line x1="587.10" y1="119.70" x2="587.10" y2="156.70" stroke="#b0b0b0" stroke-width="0.6" />
<polyline points="587.1,142.9 587.1,142.7 588.0,142.9 588.8,141.4 589.6,142.0 590.5,142.8 591.4,141.8 592.2,143.9 593.1,142.9 593.9,143.4 594.8,142.5 595.6,141.3 596.5,143.0 597.3,141.3 598.1,143.4 599.0,141.4 599.9,143.9 600.7,143.2 601.6,141.7 602.4,142.6 603.2,142.4 604.1,142.5 605.0,142.4 605.8,142.7 606.6,143.3 607.5,142.8 608.4,142.4 609.2,143.3 610.1,142.1 610.9,141.1 611.8,143.9 612.6,143.0 613.5,142.8 614.3,142.5 615.1,142.5 616.0,143.1 616.9,142.6 617.7,142.5 618.6,142.6 619.4,141.3 620.2,142.4 621.1,143.7 622.0,143.8 622.8,142.1 623.6,142.8 624.5,143.0 625.4,143.6 626.2,142.8 627.1,142.6 627.9,143.1 628.8,142.8 629.6,141.8 630.5,141.9 631.3,142.1 632.1,142.7 633.0,143.6 633.9,141.9 634.7,141.3 635.6,141.5 636.4,141.6 637.2,142.3 638.1,142.2 639.0,142.5 639.8,141.5 640.6,142.8 641.5,140.8 642.4,141.9 643.2,142.8 644.1,142.5 644.9,143.8 645.8,143.1 646.6,142.8 647.5,140.5 648.3,143.2 649.1,141.8 650.0,142.5 650.9,142.8 651.7,142.0 652.6,144.2 653.4,141.8 654.2,140.9 655.1,142.3 656.0,142.6 656.8,142.4 657.6,142.0 658.5,142.9 659.4,142.4 660.2,142.1 661.1,142.8 661.9,142.2 662.8,142.3 663.6,141.9 664.5,143.3 665.3,143.0 666.1,142.9 667.0,141.6 667.9,142.3 668.7,143.9 669.6,143.6 670.4,141.0 671.2,142.3 672.1,143.6 673.0,143.3 673.8,142.4 674.6,141.4 675.5,141.2 676.4,142.8 677.2,142.8 678.1,141.0" fill="none" stroke="#e8a044" stroke-width="0.72" stroke-linejoin="round" />
<polyline points="587.1,143.6 587.1,141.9 588.0,143.0 588.8,143.3 589.6,142.5 590.5,143.2 591.4,144.4 592.2,145.0 593.1,143.8 593.9,143.4 594.8,142.8 595.6,146.1 596.5,142.9 597.3,143.5 598.1,142.8 599.0,143.4 599.9,143.9 600.7,143.7 601.6,143.8 602.4,144.6 603.2,144.2 604.1,144.0 605.0,144.4 605.8,145.3 606.6,145.3 607.5,143.7 608.4,143.7 609.2,144.0 610.1,145.0 610.9,143.4 611.8,144.4 612.6,145.8 613.5,142.8 614.3,145.3 615.1,142.2 616.0,143.6 616.9,144.4 617.7,146.0 618.6,144.7 619.4,142.9 620.2,143.0 621.1,143.9 622.0,145.5 622.8,144.4 623.6,144.3 624.5,143.7 625.4,144.2 626.2,143.8 627.1,145.4 627.9,144.6 628.8,142.9 629.6,145.3 630.5,143.3 631.3,142.2 632.1,143.5 633.0,145.2 633.9,143.1 634.7,145.6 635.6,143.8 636.4,144.4 637.2,143.1 638.1,143.1 639.0,143.9 639.8,142.6 640.6,143.3 641.5,144.5 642.4,144.9 643.2,142.1 644.1,144.4 644.9,143.7 645.8,144.2 646.6,144.5 647.5,145.4 648.3,144.2 649.1,144.2 650.0,143.3 650.9,144.5 651.7,145.4 652.6,145.0 653.4,144.1 654.2,143.9 655.1,143.5 656.0,144.4 656.8,143.6 657.6,144.0 658.5,142.7 659.4,144.1 660.2,144.0 661.1,143.6 661.9,143.1 662.8,144.8 663.6,144.5 664.5,144.3 665.3,145.8 666.1,143.0 667.0,143.2 667.9,144.1 668.7,141.3 669.6,143.0 670.4,142.4 671.2,142.8 672.1,143.3 673.0,145.2 673.8,142.8 674.6,143.7 675.5,145.1 676.4,144.0 677.2,143.5 678.1,143.3" fill="none" stroke="#3cc43c" stroke-width="0.72" stroke-linejoin="round" />
<polyline points="587.1,143.1 587.1,143.6 588.0,142.8 588.8,144.3 589.6,143.9 590.5,143.4 591.4,145.3 592.2,144.0 593.1,146.0 593.9,145.3 594.8,145.6 595.6,144.7 596.5,144.2 597.3,144.9 598.1,144.1 599.0,144.8 599.9,145.1 600.7,144.6 601.6,145.2 602.4,144.9 603.2,144.1 604.1,145.4 605.0,144.0 605.8,145.9 606.6,145.1 607.5,146.4 608.4,145.4 609.2,143.7 610.1,144.7 610.9,143.9 611.8,146.2 612.6,145.8 613.5,144.6 614.3,144.3 615.1,144.3 616.0,146.3 616.9,144.5 617.7,145.0 618.6,144.9 619.4,144.6 620.2,145.2 621.1,146.3 622.0,145.8 622.8,146.1 623.6,146.0 624.5,145.1 625.4,143.9 626.2,145.5 627.1,145.6 627.9,145.9 628.8,146.4 629.6,144.9 630.5,145.4 631.3,145.2 632.1,145.8 633.0,144.6 633.9,146.0 634.7,144.5 635.6,145.5 636.4,144.3 637.2,145.7 638.1,144.6 639.0,144.6 639.8,145.0 640.6,143.6 641.5,144.8 642.4,145.7 643.2,144.4 644.1,145.6 644.9,145.4 645.8,145.0 646.6,144.8 647.5,143.6 648.3,146.4 649.1,145.2 650.0,144.0 650.9,145.1 651.7,144.7 652.6,143.7 653.4,146.0 654.2,144.9 655.1,144.3 656.0,145.4 656.8,146.4 657.6,145.8 658.5,144.8 659.4,144.8 660.2,143.5 661.1,143.9 661.9,146.2 662.8,144.1 663.6,144.2 664.5,143.6 665.3,145.1 666.1,145.4 667.0,144.8 667.9,143.7 668.7,144.5 669.6,143.6 670.4,144.3 671.2,145.5 672.1,145.8 673.0,143.4 673.8,146.2 674.6,145.3 675.5,145.2 676.4,145.7 677.2,145.4 678.1,145.0" fill="none" stroke="#ee4cee" stroke-width="0.72" stroke-linejoin="round" />
<polyline points="587.1,142.2 587.1,143.2 588.0,144.0 588.8,143.7 589.6,143.3 590.5,145.0 591.4,144.8 592.2,146.1 593.1,144.3 593.9,144.4 594.8,143.9 595.6,146.2 596.5,143.5 597.3,144.7 598.1,145.7 599.0,145.9 599.9,145.9 600.7,146.6 601.6,145.0 602.4,146.1 603.2,146.2 604.1,145.2 605.0,145.5 605.8,146.1 606.6,145.8 607.5,146.0 608.4,144.5 609.2,144.8 610.1,146.2 610.9,145.7 611.8,144.5 612.6,145.9 613.5,144.2 614.3,145.3 615.1,145.1 616.0,147.3 616.9,144.9 617.7,145.3 618.6,145.2 619.4,145.2 620.2,145.2 621.1,146.0 622.0,144.9 622.8,145.6 623.6,146.5 624.5,146.5 625.4,145.5 626.2,145.4 627.1,147.4 627.9,147.3 628.8,144.8 629.6,145.6 630.5,143.3 631.3,146.9 632.1,145.8 633.0,146.1 633.9,145.2 634.7,144.5 635.6,144.3 636.4,146.5 637.2,144.6 638.1,146.6 639.0,145.4 639.8,145.5 640.6,145.1 641.5,146.3 642.4,144.5 643.2,145.7 644.1,145.6 644.9,145.8 645.8,146.5 646.6,145.0 647.5,145.4 648.3,145.3 649.1,144.1 650.0,146.3 650.9,145.9 651.7,145.6 652.6,144.9 653.4,145.8 654.2,144.9 655.1,145.3 656.0,147.1 656.8,146.2 657.6,147.3 658.5,145.9 659.4,146.0 660.2,145.1 661.1,145.5 661.9,145.7 662.8,144.6 663.6,145.1 664.5,146.6 665.3,146.2 666.1,145.4 667.0,144.2 667.9,145.8 668.7,145.8 669.6,145.4 670.4,145.0 671.2,145.7 672.1,145.4 673.0,146.0 673.8,146.1 674.6,146.3 675.5,145.1 676.4,146.1 677.2,145.2 678.1,145.3" fill="none" stroke="#3434dc" stroke-width="0.72" stroke-linejoin="round" />
<polyline points="587.1,142.8 587.1,145.4 588.0,144.7 588.8,145.4 589.6,145.1 590.5,144.8 591.4,143.7 592.2,144.9 593.1,145.4 593.9,146.5 594.8,147.4 595.6,146.8 596.5,149.3 597.3,146.9 598.1,147.8 599.0,147.4 599.9,148.9 600.7,149.0 601.6,148.6 602.4,148.1 603.2,147.8 604.1,148.4 605.0,147.8 605.8,147.5 606.6,149.0 607.5,148.1 608.4,149.4 609.2,148.5 610.1,147.3 610.9,148.7 611.8,146.5 612.6,147.6 613.5,147.3 614.3,148.0 615.1,147.3 616.0,147.2 616.9,148.0 617.7,148.5 618.6,148.5 619.4,146.5 620.2,148.2 621.1,148.4 622.0,148.6 622.8,149.5 623.6,148.5 624.5,147.8 625.4,148.5 626.2,148.7 627.1,147.7 627.9,147.7 628.8,148.4 629.6,147.8 630.5,148.9 631.3,147.4 632.1,148.9 633.0,148.3 633.9,147.9 634.7,148.4 635.6,149.0 636.4,146.3 637.2,146.8 638.1,149.5 639.0,148.0 639.8,149.1 640.6,147.8 641.5,149.1 642.4,147.6 643.2,147.6 644.1,146.6 644.9,147.1 645.8,148.4 646.6,147.3 647.5,148.4 648.3,148.2 649.1,148.5 650.0,149.5 650.9,147.6 651.7,149.7 652.6,148.3 653.4,147.6 654.2,148.0 655.1,149.4 656.0,148.6 656.8,147.5 657.6,147.2 658.5,146.7 659.4,149.6 660.2,147.7 661.1,148.5 661.9,147.4 662.8,149.5 663.6,148.2 664.5,147.5 665.3,148.6 666.1,148.4 667.0,148.9 667.9,147.1 668.7,149.2 669.6,148.8 670.4,148.3 671.2,148.3 672.1,146.3 673.0,147.8 673.8,148.7 674.6,147.6 675.5,147.8 676.4,147.8 677.2,148.1 678.1,147.7" fill="none" stroke="#5fe6ea" stroke-width="0.72" stroke-linejoin="round" />
<polyline points="587.1,143.6 587.1,144.1 588.0,145.2 588.8,147.0 589.6,146.9 590.5,147.0 591.4,148.3 592.2,149.5 593.1,150.2 593.9,151.4 594.8,152.2 595.6,151.2 596.5,152.9 597.3,151.9 598.1,152.4 599.0,151.9 599.9,152.6 600.7,152.5 601.6,153.0 602.4,153.8 603.2,152.8 604.1,152.1 605.0,151.8 605.8,151.6 606.6,153.3 607.5,153.3 608.4,152.1 609.2,152.9 610.1,150.7 610.9,152.4 611.8,153.7 612.6,153.0 613.5,151.5 614.3,153.9 615.1,152.5 616.0,153.6 616.9,151.4 617.7,152.9 618.6,153.3 619.4,153.8 620.2,153.1 621.1,154.4 622.0,152.9 622.8,151.0 623.6,152.5 624.5,152.8 625.4,153.4 626.2,152.3 627.1,152.9 627.9,153.2 628.8,151.6 629.6,152.3 630.5,153.2 631.3,151.5 632.1,152.6 633.0,152.2 633.9,152.5 634.7,151.7 635.6,152.1 636.4,152.8 637.2,152.1 638.1,152.9 639.0,152.5 639.8,151.4 640.6,153.4 641.5,153.3 642.4,152.9 643.2,152.9 644.1,151.6 644.9,153.7 645.8,150.9 646.6,151.4 647.5,152.9 648.3,152.5 649.1,152.8 650.0,152.1 650.9,152.1 651.7,152.0 652.6,152.0 653.4,151.2 654.2,152.7 655.1,152.1 656.0,152.7 656.8,152.6 657.6,152.4 658.5,152.6 659.4,152.3 660.2,153.2 661.1,152.7 661.9,153.0 662.8,153.4 663.6,153.1 664.5,152.9 665.3,152.7 666.1,153.7 667.0,152.8 667.9,153.4 668.7,153.2 669.6,152.5 670.4,151.8 671.2,152.4 672.1,152.9 673.0,152.9 673.8,151.6 674.6,153.8 675.5,151.8 676.4,153.7 677.2,153.0 678.1,152.6" fill="none" stroke="#ee4a9c" stroke-width="0.72" stroke-linejoin="round" />
<polyline points="587.1,143.2 587.5,143.2 588.0,143.2 588.4,143.2 588.8,143.2 589.2,143.2 589.6,143.2 590.1,143.2 590.5,143.2 590.9,143.2 591.4,143.2 591.8,143.2 592.2,143.2 592.6,143.2 593.1,143.2 593.5,143.2 593.9,143.2 594.3,143.2 594.8,143.2 595.2,143.2 595.6,143.2 596.0,143.2 596.5,143.2 596.9,143.2 597.3,143.2 597.7,143.2 598.1,143.2 598.6,143.2 599.0,143.2 599.4,143.2 599.9,143.2 600.3,143.2 600.7,143.2 601.1,143.2 601.6,143.2 602.0,143.2 605.2,143.2 608.4,143.2 611.5,143.2 614.7,143.2 617.9,143.2 621.1,143.2 624.3,143.2 627.5,143.2 630.7,143.2 633.9,143.2 637.0,143.2 640.2,143.2 643.4,143.2 646.6,143.2 649.8,143.2 653.0,143.2 656.2,143.2 659.4,143.2 662.5,143.2 665.7,143.2 668.9,143.2 672.1,143.2 675.3,143.2 678.1,143.2" fill="none" stroke="#3a3a3a" stroke-width="1.08" stroke-linejoin="round" />
<polyline points="539.9,143.4 540.8,141.8 541.6,142.8 542.5,143.2 543.3,142.4 544.2,143.2 545.0,143.9 545.9,142.3 546.7,142.0 547.6,142.1 548.4,144.2 549.3,141.6 550.1,143.5 551.0,142.6 551.8,142.2 552.7,141.2 553.5,144.5 554.4,144.0 555.2,142.2 556.1,142.8 556.9,143.5 557.8,145.6 558.6,142.8 559.5,143.3 560.3,145.4 561.2,141.0 562.0,145.3 562.9,143.7 563.7,143.2 564.6,143.0 565.4,142.6 566.3,143.4 567.1,143.9 568.0,143.5 568.8,144.9 569.7,144.1 570.5,141.6 571.4,143.8 572.2,143.3 573.1,141.6 573.9,142.3 574.8,143.1 575.6,142.6 576.5,143.4 577.3,143.9 578.2,142.4 579.0,143.1 579.9,141.9 580.7,143.4 581.6,143.5 582.4,142.9 583.3,143.4 584.1,143.5 585.0,143.9 585.8,143.0 586.7,142.9" fill="none" stroke="#e8a044" stroke-width="0.72" stroke-linejoin="round" />
<polyline points="539.9,141.7 540.8,143.2 541.6,144.7 542.5,142.8 543.3,141.3 544.2,143.6 545.0,143.9 545.9,143.3 546.7,145.6 547.6,143.5 548.4,143.4 549.3,144.4 550.1,142.7 551.0,143.9 551.8,144.7 552.7,143.8 553.5,142.7 554.4,141.6 555.2,142.2 556.1,143.0 556.9,143.6 557.8,143.4 558.6,142.4 559.5,143.6 560.3,142.8 561.2,142.4 562.0,143.9 562.9,143.7 563.7,142.8 564.6,143.2 565.4,143.3 566.3,143.6 567.1,143.2 568.0,141.7 568.8,142.1 569.7,144.5 570.5,143.2 571.4,143.1 572.2,143.2 573.1,144.3 573.9,143.3 574.8,143.1 575.6,143.8 576.5,142.9 577.3,145.2 578.2,144.4 579.0,143.1 579.9,142.9 580.7,143.3 581.6,143.6 582.4,143.0 583.3,142.3 584.1,142.4 585.0,143.3 585.8,143.6 586.7,142.3" fill="none" stroke="#3cc43c" stroke-width="0.72" stroke-linejoin="round" />
<polyline points="539.9,142.7 540.8,142.5 541.6,143.4 542.5,143.9 543.3,143.0 544.2,143.7 545.0,142.2 545.9,142.5 546.7,145.0 547.6,142.6 548.4,142.1 549.3,142.3 550.1,143.6 551.0,143.9 551.8,142.4 552.7,142.4 553.5,143.1 554.4,144.2 555.2,144.5 556.1,143.0 556.9,143.9 557.8,143.8 558.6,142.8 559.5,142.3 560.3,144.9 561.2,143.8 562.0,142.1 562.9,143.2 563.7,143.5 564.6,142.7 565.4,144.1 566.3,144.2 567.1,143.2 568.0,141.9 568.8,142.3 569.7,143.2 570.5,142.4 571.4,143.5 572.2,144.2 573.1,144.6 573.9,143.0 574.8,142.4 575.6,142.9 576.5,143.2 577.3,143.5 578.2,142.3 579.0,143.2 579.9,144.4 580.7,142.1 581.6,143.7 582.4,142.9 583.3,143.2 584.1,142.3 585.0,143.0 585.8,142.2 586.7,143.0" fill="none" stroke="#ee4cee" stroke-width="0.72" stroke-linejoin="round" />
<polyline points="539.9,143.6 540.8,143.6 541.6,142.7 542.5,143.9 543.3,142.4 544.2,143.4 545.0,144.0 545.9,143.9 546.7,143.3 547.6,141.7 548.4,142.6 549.3,143.2 550.1,143.9 551.0,141.6 551.8,143.4 552.7,143.2 553.5,143.5 554.4,142.1 555.2,143.0 556.1,143.6 556.9,143.0 557.8,144.0 558.6,144.1 559.5,143.3 560.3,145.6 561.2,142.2 562.0,141.5 562.9,144.1 563.7,143.3 564.6,144.5 565.4,143.1 566.3,143.0 567.1,142.6 568.0,144.3 568.8,143.7 569.7,143.7 570.5,143.4 571.4,141.3 572.2,143.4 573.1,143.2 573.9,143.6 574.8,142.5 575.6,141.1 576.5,142.2 577.3,141.9 578.2,144.1 579.0,142.3 579.9,143.2 580.7,142.2 581.6,142.3 582.4,142.6 583.3,144.6 584.1,143.1 585.0,143.6 585.8,142.8 586.7,143.2" fill="none" stroke="#3434dc" stroke-width="0.72" stroke-linejoin="round" />
<polyline points="539.9,142.3 540.8,144.5 541.6,143.8 542.5,143.3 543.3,142.9 544.2,143.5 545.0,143.2 545.9,143.1 546.7,142.3 547.6,143.3 548.4,143.0 549.3,144.7 550.1,145.4 551.0,144.4 551.8,142.9 552.7,145.1 553.5,142.9 554.4,143.3 555.2,143.2 556.1,143.8 556.9,143.5 557.8,142.5 558.6,142.9 559.5,143.2 560.3,143.6 561.2,143.0 562.0,142.2 562.9,143.2 563.7,143.5 564.6,144.2 565.4,143.1 566.3,144.0 567.1,144.4 568.0,142.5 568.8,143.7 569.7,144.9 570.5,143.8 571.4,141.7 572.2,143.3 573.1,144.3 573.9,144.1 574.8,142.6 575.6,142.9 576.5,143.0 577.3,143.4 578.2,142.8 579.0,141.9 579.9,142.8 580.7,143.3 581.6,144.4 582.4,142.8 583.3,141.9 584.1,142.7 585.0,144.2 585.8,143.0 586.7,142.1" fill="none" stroke="#5fe6ea" stroke-width="0.72" stroke-linejoin="round" />
<polyline points="539.9,143.7 540.8,142.8 541.6,142.3 542.5,142.0 543.3,144.4 544.2,144.5 545.0,142.9 545.9,142.7 546.7,143.5 547.6,143.2 548.4,143.5 549.3,142.3 550.1,144.8 551.0,143.0 551.8,144.1 552.7,143.7 553.5,144.3 554.4,143.9 555.2,143.2 556.1,143.2 556.9,141.9 557.8,143.4 558.6,142.9 559.5,142.9 560.3,143.0 561.2,142.1 562.0,143.1 562.9,143.1 563.7,143.3 564.6,143.2 565.4,143.2 566.3,142.5 567.1,143.2 568.0,143.1 568.8,143.2 569.7,142.6 570.5,143.5 571.4,142.5 572.2,143.6 573.1,142.7 573.9,141.8 574.8,143.0 575.6,143.3 576.5,144.1 577.3,142.7 578.2,143.2 579.0,142.5 579.9,143.7 580.7,142.8 581.6,141.9 582.4,142.9 583.3,143.4 584.1,144.1 585.0,143.2 585.8,142.7 586.7,142.8" fill="none" stroke="#ee4a9c" stroke-width="0.72" stroke-linejoin="round" />
<line x1="540.30" y1="119.70" x2="540.30" y2="156.70" stroke="#222" stroke-width="0.8" />
<line x1="539.90" y1="156.70" x2="681.40" y2="156.70" stroke="#222" stroke-width="0.8" />
<line x1="538.30" y1="142.40" x2="540.30" y2="142.40" stroke="#222" stroke-width="0.7" />
<text x="536.9" y="144.1" text-anchor="end" font-size="7.45" >0</text>
<line x1="538.30" y1="131.80" x2="540.30" y2="131.80" stroke="#222" stroke-width="0.7" />
<text x="536.9" y="134.2" text-anchor="end" font-size="7.45" >20</text>
<line x1="538.30" y1="121.20" x2="540.30" y2="121.20" stroke="#222" stroke-width="0.7" />
<text x="536.9" y="124.1" text-anchor="end" font-size="7.45" >40</text>
<line x1="539.00" y1="153.00" x2="540.30" y2="153.00" stroke="#222" stroke-width="0.6" />
<line x1="539.00" y1="137.10" x2="540.30" y2="137.10" stroke="#222" stroke-width="0.6" />
<line x1="539.00" y1="126.50" x2="540.30" y2="126.50" stroke="#222" stroke-width="0.6" />
<line x1="544.60" y1="156.70" x2="544.60" y2="158.40" stroke="#222" stroke-width="0.7" />
<line x1="555.23" y1="156.70" x2="555.23" y2="158.40" stroke="#222" stroke-width="0.7" />
<line x1="565.85" y1="156.70" x2="565.85" y2="158.40" stroke="#222" stroke-width="0.7" />
<line x1="576.48" y1="156.70" x2="576.48" y2="158.40" stroke="#222" stroke-width="0.7" />
<line x1="587.10" y1="156.70" x2="587.10" y2="158.40" stroke="#222" stroke-width="0.7" />
<line x1="597.73" y1="156.70" x2="597.73" y2="158.40" stroke="#222" stroke-width="0.7" />
<line x1="608.35" y1="156.70" x2="608.35" y2="158.40" stroke="#222" stroke-width="0.7" />
<line x1="618.98" y1="156.70" x2="618.98" y2="158.40" stroke="#222" stroke-width="0.7" />
<line x1="629.60" y1="156.70" x2="629.60" y2="158.40" stroke="#222" stroke-width="0.7" />
<line x1="640.23" y1="156.70" x2="640.23" y2="158.40" stroke="#222" stroke-width="0.7" />
<line x1="650.85" y1="156.70" x2="650.85" y2="158.40" stroke="#222" stroke-width="0.7" />
<line x1="661.48" y1="156.70" x2="661.48" y2="158.40" stroke="#222" stroke-width="0.7" />
<line x1="672.10" y1="156.70" x2="672.10" y2="158.40" stroke="#222" stroke-width="0.7" />
<text x="544.6" y="165.6" text-anchor="middle" font-size="7.45" >-200</text>
<text x="565.9" y="165.6" text-anchor="middle" font-size="7.45" >-100</text>
<text x="587.1" y="165.6" text-anchor="middle" font-size="7.45" >0</text>
<text x="608.4" y="165.6" text-anchor="middle" font-size="7.45" >100</text>
<text x="629.6" y="165.6" text-anchor="middle" font-size="7.45" >200</text>
<text x="650.9" y="165.6" text-anchor="middle" font-size="7.45" >300</text>
<text x="672.1" y="165.6" text-anchor="middle" font-size="7.45" >400</text>
<text x="609.5" y="115.3" text-anchor="middle" font-size="7.45" >+EBOV-296 Fab</text>
<text x="572.0" y="129.9" text-anchor="middle" font-size="7.45" >nb</text>
<line x1="381.00" y1="239.30" x2="522.10" y2="239.30" stroke="#d4d4d4" stroke-width="0.7" />
<line x1="432.50" y1="206.40" x2="432.50" y2="243.30" stroke="#b0b0b0" stroke-width="0.6" />
<polyline points="432.5,239.4 432.5,239.5 433.3,221.6 434.1,217.2 434.9,216.0 435.7,215.6 436.4,215.2 437.2,215.5 438.0,215.3 438.8,215.9 439.6,215.3 440.4,215.4 441.2,215.5 442.0,215.4 442.8,215.4 443.5,215.2 444.3,210.3 445.1,210.9 445.9,211.0 446.7,210.4 447.5,210.8 448.3,210.6 449.1,211.0 449.9,211.2 450.7,211.2 451.4,211.2 452.2,211.3 453.0,211.5 453.8,211.4 454.6,211.4 455.4,211.8 456.2,211.9 457.0,212.2 457.8,211.9 458.5,212.0 459.3,212.2 460.1,212.3 460.9,212.2 461.7,212.3 462.5,212.3 463.3,212.3 464.1,212.4 464.9,212.4 465.6,212.9 466.4,212.6 467.2,212.8 468.0,213.1 468.8,213.1 469.6,213.0 470.4,213.2 471.2,213.5 472.0,213.4 472.7,213.1 473.5,213.3 474.3,213.5 475.1,213.4 475.9,213.9 476.7,213.8 477.5,213.7 478.3,214.0 479.1,214.2 479.9,214.0 480.6,213.8 481.4,214.8 482.2,214.3 483.0,214.6 483.8,214.5 484.6,214.8 485.4,214.1 486.2,214.8 487.0,214.8 487.7,215.0 488.5,215.1 489.3,215.1 490.1,215.0 490.9,214.8 491.7,215.1 492.5,215.0 493.3,215.6 494.1,215.4 494.8,215.6 495.6,215.9 496.4,214.9 497.2,215.8 498.0,215.7 498.8,216.0 499.6,216.0 500.4,216.2 501.2,215.8 501.9,216.2 502.7,216.2 503.5,216.2 504.3,216.6 505.1,216.4 505.9,216.5 506.7,216.4 507.5,216.7 508.3,216.7 509.1,216.6 509.8,216.6 510.6,217.0 511.4,216.7 512.2,217.2 513.0,217.1 513.8,217.1 514.6,217.2" fill="none" stroke="#ee4a9c" stroke-width="0.72" stroke-linejoin="round" />
<polyline points="432.5,239.6 432.5,239.5 433.3,230.7 434.1,225.1 434.9,222.1 435.7,219.6 436.4,219.0 437.2,217.9 438.0,217.3 438.8,217.1 439.6,216.8 440.4,216.6 441.2,216.9 442.0,216.5 442.8,216.4 443.5,216.7 444.3,217.1 445.1,216.9 445.9,216.9 446.7,217.0 447.5,216.8 448.3,217.1 449.1,216.5 449.9,216.9 450.7,217.3 451.4,217.2 452.2,216.9 453.0,217.1 453.8,217.5 454.6,217.2 455.4,217.5 456.2,217.0 457.0,217.6 457.8,217.5 458.5,217.5 459.3,217.8 460.1,217.8 460.9,217.6 461.7,217.8 462.5,217.9 463.3,217.9 464.1,217.7 464.9,217.9 465.6,218.1 466.4,218.1 467.2,218.6 468.0,218.3 468.8,218.5 469.6,218.3 470.4,218.6 471.2,218.4 472.0,218.8 472.7,218.5 473.5,218.8 474.3,218.8 475.1,218.7 475.9,218.9 476.7,218.9 477.5,218.7 478.3,218.7 479.1,219.4 479.9,219.3 480.6,219.0 481.4,219.0 482.2,219.4 483.0,219.3 483.8,219.4 484.6,219.0 485.4,219.5 486.2,219.8 487.0,219.9 487.7,219.9 488.5,219.4 489.3,219.8 490.1,219.4 490.9,219.7 491.7,219.8 492.5,219.8 493.3,219.8 494.1,219.9 494.8,220.3 495.6,220.3 496.4,220.3 497.2,220.2 498.0,220.3 498.8,220.6 499.6,220.5 500.4,220.1 501.2,220.1 501.9,220.7 502.7,220.5 503.5,220.6 504.3,220.9 505.1,220.6 505.9,220.8 506.7,220.5 507.5,220.8 508.3,221.0 509.1,221.5 509.8,221.0 510.6,220.9 511.4,221.3 512.2,221.0 513.0,221.1 513.8,221.6 514.6,221.3" fill="none" stroke="#5fe6ea" stroke-width="0.72" stroke-linejoin="round" />
<polyline points="432.5,239.3 432.5,239.1 433.3,235.2 434.1,232.0 434.9,229.6 435.7,227.6 436.4,226.0 437.2,224.9 438.0,223.6 438.8,223.1 439.6,222.3 440.4,222.0 441.2,221.5 442.0,221.3 442.8,220.9 443.5,220.8 444.3,220.5 445.1,220.8 445.9,220.9 446.7,221.0 447.5,221.2 448.3,221.0 449.1,220.9 449.9,221.0 450.7,221.4 451.4,221.2 452.2,221.2 453.0,221.6 453.8,221.4 454.6,221.4 455.4,221.4 456.2,221.5 457.0,222.0 457.8,222.1 458.5,221.4 459.3,221.9 460.1,221.6 460.9,221.7 461.7,222.0 462.5,222.3 463.3,221.8 464.1,222.2 464.9,222.1 465.6,222.2 466.4,222.1 467.2,222.2 468.0,222.7 468.8,222.8 469.6,222.5 470.4,222.6 471.2,222.5 472.0,222.7 472.7,222.8 473.5,222.4 474.3,222.6 475.1,222.7 475.9,222.7 476.7,223.2 477.5,223.1 478.3,223.1 479.1,223.4 479.9,223.4 480.6,223.2 481.4,223.6 482.2,223.3 483.0,223.3 483.8,223.5 484.6,223.6 485.4,223.5 486.2,223.5 487.0,223.6 487.7,224.0 488.5,224.1 489.3,223.4 490.1,224.0 490.9,224.0 491.7,224.3 492.5,224.2 493.3,224.2 494.1,224.0 494.8,224.7 495.6,224.5 496.4,224.3 497.2,224.4 498.0,224.5 498.8,224.5 499.6,224.8 500.4,224.4 501.2,224.3 501.9,224.6 502.7,224.8 503.5,224.4 504.3,224.6 505.1,225.0 505.9,224.9 506.7,225.0 507.5,224.9 508.3,224.7 509.1,225.2 509.8,225.1 510.6,225.1 511.4,225.4 512.2,225.3 513.0,225.1 513.8,225.1 514.6,225.7" fill="none" stroke="#3434dc" stroke-width="0.72" stroke-linejoin="round" />
<polyline points="432.5,239.2 432.5,239.4 433.3,237.7 434.1,236.8 434.9,235.6 435.7,235.3 436.4,234.8 437.2,234.4 438.0,234.1 438.8,233.4 439.6,233.2 440.4,232.9 441.2,232.8 442.0,233.0 442.8,232.7 443.5,232.6 444.3,232.4 445.1,232.3 445.9,232.2 446.7,232.4 447.5,232.9 448.3,232.7 449.1,232.9 449.9,232.7 450.7,232.8 451.4,232.5 452.2,232.6 453.0,232.3 453.8,232.3 454.6,232.7 455.4,232.4 456.2,232.6 457.0,232.5 457.8,232.3 458.5,232.9 459.3,232.7 460.1,232.3 460.9,232.8 461.7,232.6 462.5,232.7 463.3,232.8 464.1,233.0 464.9,232.9 465.6,232.9 466.4,232.5 467.2,232.7 468.0,232.6 468.8,233.0 469.6,232.7 470.4,232.8 471.2,232.6 472.0,233.0 472.7,232.7 473.5,232.6 474.3,232.5 475.1,233.0 475.9,233.1 476.7,233.2 477.5,232.7 478.3,232.8 479.1,232.8 479.9,233.1 480.6,232.7 481.4,232.6 482.2,233.0 483.0,233.0 483.8,232.7 484.6,232.9 485.4,232.7 486.2,233.1 487.0,232.9 487.7,233.1 488.5,233.1 489.3,233.1 490.1,233.1 490.9,233.0 491.7,233.1 492.5,233.1 493.3,233.2 494.1,233.3 494.8,232.8 495.6,233.3 496.4,232.8 497.2,232.9 498.0,233.6 498.8,233.3 499.6,233.2 500.4,233.2 501.2,233.2 501.9,233.3 502.7,232.9 503.5,233.2 504.3,233.0 505.1,233.4 505.9,233.4 506.7,233.0 507.5,233.3 508.3,233.5 509.1,233.3 509.8,233.1 510.6,233.3 511.4,233.5 512.2,233.2 513.0,233.1 513.8,233.4 514.6,233.4" fill="none" stroke="#3cc43c" stroke-width="0.72" stroke-linejoin="round" />
<polyline points="432.5,239.3 432.5,238.8 433.3,239.1 434.1,238.4 434.9,238.6 435.7,238.4 436.4,238.7 437.2,238.2 438.0,238.1 438.8,238.1 439.6,238.1 440.4,238.2 441.2,238.2 442.0,237.9 442.8,238.0 443.5,237.9 444.3,237.9 445.1,237.9 445.9,238.0 446.7,237.5 447.5,238.1 448.3,237.9 449.1,237.9 449.9,238.1 450.7,238.0 451.4,237.7 452.2,237.6 453.0,237.8 453.8,237.2 454.6,237.7 455.4,237.6 456.2,238.0 457.0,237.6 457.8,237.5 458.5,237.9 459.3,237.5 460.1,238.0 460.9,238.1 461.7,237.8 462.5,238.0 463.3,237.7 464.1,238.1 464.9,237.8 465.6,238.2 466.4,237.8 467.2,237.6 468.0,237.9 468.8,237.8 469.6,237.6 470.4,238.1 471.2,238.1 472.0,237.8 472.7,237.8 473.5,237.9 474.3,238.0 475.1,237.6 475.9,238.1 476.7,237.9 477.5,237.8 478.3,237.7 479.1,237.9 479.9,238.0 480.6,237.4 481.4,238.0 482.2,237.7 483.0,237.9 483.8,237.9 484.6,237.8 485.4,237.9 486.2,237.8 487.0,238.3 487.7,237.8 488.5,237.8 489.3,238.0 490.1,237.9 490.9,237.4 491.7,237.5 492.5,237.7 493.3,237.8 494.1,237.9 494.8,237.5 495.6,237.9 496.4,238.0 497.2,237.7 498.0,238.0 498.8,238.0 499.6,237.5 500.4,238.2 501.2,237.8 501.9,237.8 502.7,237.8 503.5,238.1 504.3,237.9 505.1,237.9 505.9,237.4 506.7,237.6 507.5,238.0 508.3,237.7 509.1,237.7 509.8,237.9 510.6,237.9 511.4,237.9 512.2,238.1 513.0,238.0 513.8,237.6 514.6,237.5" fill="none" stroke="#ee4cee" stroke-width="0.72" stroke-linejoin="round" />
<polyline points="432.5,239.1 432.5,239.4 433.3,239.1 434.1,239.7 434.9,239.2 435.7,239.3 436.4,238.9 437.2,239.4 438.0,239.2 438.8,239.2 439.6,238.9 440.4,238.8 441.2,239.1 442.0,238.6 442.8,238.9 443.5,239.1 444.3,238.9 445.1,238.9 445.9,238.8 446.7,238.9 447.5,238.5 448.3,238.7 449.1,239.1 449.9,238.8 450.7,238.8 451.4,239.1 452.2,239.1 453.0,239.1 453.8,239.4 454.6,238.8 455.4,239.0 456.2,238.7 457.0,239.0 457.8,238.9 458.5,238.8 459.3,238.7 460.1,238.9 460.9,239.1 461.7,238.5 462.5,238.8 463.3,238.7 464.1,238.6 464.9,238.6 465.6,238.8 466.4,238.8 467.2,238.8 468.0,239.2 468.8,238.8 469.6,239.1 470.4,238.8 471.2,239.1 472.0,238.8 472.7,239.0 473.5,238.4 474.3,238.9 475.1,238.8 475.9,239.1 476.7,239.0 477.5,238.9 478.3,239.0 479.1,239.0 479.9,239.1 480.6,238.8 481.4,239.0 482.2,239.1 483.0,238.9 483.8,239.1 484.6,239.0 485.4,239.0 486.2,239.1 487.0,239.0 487.7,239.1 488.5,239.2 489.3,238.9 490.1,239.0 490.9,239.2 491.7,239.0 492.5,238.9 493.3,238.8 494.1,238.9 494.8,238.9 495.6,238.8 496.4,239.0 497.2,239.1 498.0,238.8 498.8,239.0 499.6,238.9 500.4,238.8 501.2,238.7 501.9,238.7 502.7,239.1 503.5,239.0 504.3,238.8 505.1,239.2 505.9,239.2 506.7,238.8 507.5,239.1 508.3,239.1 509.1,238.8 509.8,238.8 510.6,238.7 511.4,239.0 512.2,239.0 513.0,239.0 513.8,238.9 514.6,239.3" fill="none" stroke="#e8a044" stroke-width="0.72" stroke-linejoin="round" />
<polyline points="432.5,239.4 432.5,239.2 433.3,239.3 434.1,239.1 434.9,238.9 435.7,238.8 436.4,238.9 437.2,239.0 438.0,238.2 438.8,238.8 439.6,238.3 440.4,239.0 441.2,238.6 442.0,238.6 442.8,238.2 443.5,238.2 444.3,238.4 445.1,238.8 445.9,238.7 446.7,238.7 447.5,238.7 448.3,238.5 449.1,238.7 449.9,238.6 450.7,238.3 451.4,238.3 452.2,238.9 453.0,238.8 453.8,238.6 454.6,238.3 455.4,238.6 456.2,238.2 457.0,238.5 457.8,238.3 458.5,238.7 459.3,238.6 460.1,238.4 460.9,238.4 461.7,238.9 462.5,238.6 463.3,238.5 464.1,238.4 464.9,238.7 465.6,238.2 466.4,238.5 467.2,238.3 468.0,238.5 468.8,238.5 469.6,238.6 470.4,238.8 471.2,238.4 472.0,238.4 472.7,238.4 473.5,238.6 474.3,238.8 475.1,238.6 475.9,238.6 476.7,238.6 477.5,238.4 478.3,238.7 479.1,238.7 479.9,238.4 480.6,238.4 481.4,238.1 482.2,238.5 483.0,238.7 483.8,238.8 484.6,238.7 485.4,238.5 486.2,238.5 487.0,238.6 487.7,238.7 488.5,238.6 489.3,238.6 490.1,238.4 490.9,238.5 491.7,238.7 492.5,238.8 493.3,238.3 494.1,238.6 494.8,238.6 495.6,238.6 496.4,238.3 497.2,238.6 498.0,238.5 498.8,238.6 499.6,238.4 500.4,238.8 501.2,238.5 501.9,238.4 502.7,238.3 503.5,238.4 504.3,238.5 505.1,238.2 505.9,238.4 506.7,238.3 507.5,238.8 508.3,238.8 509.1,238.4 509.8,238.6 510.6,238.6 511.4,238.8 512.2,238.3 513.0,238.8 513.8,238.5 514.6,238.8" fill="none" stroke="#9a2a9a" stroke-width="0.72" stroke-linejoin="round" />
<polyline points="432.5,239.3 432.9,227.0 433.3,220.8 433.7,217.8 434.1,216.3 434.5,215.5 434.9,215.2 435.3,215.0 435.7,214.9 436.1,214.8 436.4,214.8 436.8,214.8 437.2,214.8 437.6,214.8 438.0,214.8 438.4,214.8 438.8,214.8 439.2,214.8 439.6,214.8 440.0,214.8 440.4,214.8 440.8,214.8 441.2,214.8 441.6,214.8 442.0,214.8 442.4,214.8 442.8,214.8 443.2,214.8 443.5,214.8 443.9,214.8 444.3,214.8 444.7,214.8 445.1,214.8 445.5,214.9 445.9,214.9 446.3,214.9 449.3,215.1 452.2,215.3 455.2,215.5 458.1,215.7 461.1,215.9 464.1,216.1 467.0,216.3 470.0,216.5 472.9,216.7 475.9,216.9 478.9,217.0 481.8,217.2 484.8,217.4 487.7,217.6 490.7,217.8 493.7,217.9 496.6,218.1 499.6,218.3 502.5,218.5 505.5,218.6 508.5,218.8 511.4,219.0 514.4,219.1 515.0,219.2" fill="none" stroke="#3a3a3a" stroke-width="0.72" stroke-linejoin="round" />
<polyline points="432.5,239.3 432.9,234.5 433.3,230.6 433.7,227.6 434.1,225.3 434.5,223.4 434.9,222.0 435.3,220.8 435.7,219.9 436.1,219.2 436.4,218.7 436.8,218.2 437.2,217.9 437.6,217.6 438.0,217.4 438.4,217.2 438.8,217.1 439.2,217.0 439.6,216.9 440.0,216.8 440.4,216.8 440.8,216.7 441.2,216.7 441.6,216.7 442.0,216.7 442.4,216.7 442.8,216.6 443.2,216.6 443.5,216.6 443.9,216.6 444.3,216.6 444.7,216.6 445.1,216.7 445.5,216.7 445.9,216.7 446.3,216.8 449.3,217.0 452.2,217.2 455.2,217.4 458.1,217.6 461.1,217.8 464.1,218.0 467.0,218.2 470.0,218.4 472.9,218.6 475.9,218.8 478.9,218.9 481.8,219.1 484.8,219.3 487.7,219.5 490.7,219.7 493.7,219.9 496.6,220.1 499.6,220.2 502.5,220.4 505.5,220.6 508.5,220.8 511.4,220.9 514.4,221.1 515.0,221.1" fill="none" stroke="#3a3a3a" stroke-width="0.72" stroke-linejoin="round" />
<polyline points="432.5,239.3 432.9,237.2 433.3,235.3 433.7,233.7 434.1,232.2 434.5,230.9 434.9,229.8 435.3,228.7 435.7,227.8 436.1,227.0 436.4,226.3 436.8,225.7 437.2,225.1 437.6,224.6 438.0,224.2 438.4,223.8 438.8,223.4 439.2,223.1 439.6,222.9 440.0,222.6 440.4,222.4 440.8,222.2 441.2,222.0 441.6,221.9 442.0,221.8 442.4,221.6 442.8,221.5 443.2,221.5 443.5,221.4 443.9,221.3 444.3,221.2 444.7,221.3 445.1,221.3 445.5,221.3 445.9,221.3 446.3,221.3 449.3,221.5 452.2,221.6 455.2,221.7 458.1,221.9 461.1,222.0 464.1,222.1 467.0,222.3 470.0,222.4 472.9,222.5 475.9,222.7 478.9,222.8 481.8,222.9 484.8,223.1 487.7,223.2 490.7,223.3 493.7,223.4 496.6,223.6 499.6,223.7 502.5,223.8 505.5,223.9 508.5,224.0 511.4,224.2 514.4,224.3 515.0,224.3" fill="none" stroke="#3a3a3a" stroke-width="0.72" stroke-linejoin="round" />
<polyline points="432.5,239.3 432.9,238.7 433.3,238.1 433.7,237.6 434.1,237.1 434.5,236.7 434.9,236.3 435.3,235.9 435.7,235.6 436.1,235.3 436.4,235.1 436.8,234.8 437.2,234.6 437.6,234.4 438.0,234.2 438.4,234.1 438.8,233.9 439.2,233.8 439.6,233.7 440.0,233.6 440.4,233.5 440.8,233.4 441.2,233.3 441.6,233.3 442.0,233.2 442.4,233.1 442.8,233.1 443.2,233.0 443.5,233.0 443.9,233.0 444.3,232.9 444.7,232.9 445.1,232.9 445.5,232.9 445.9,232.9 446.3,232.9 449.3,233.0 452.2,233.0 455.2,233.0 458.1,233.0 461.1,233.1 464.1,233.1 467.0,233.1 470.0,233.1 472.9,233.2 475.9,233.2 478.9,233.2 481.8,233.2 484.8,233.2 487.7,233.3 490.7,233.3 493.7,233.3 496.6,233.3 499.6,233.4 502.5,233.4 505.5,233.4 508.5,233.4 511.4,233.4 514.4,233.5 515.0,233.5" fill="none" stroke="#3a3a3a" stroke-width="0.72" stroke-linejoin="round" />
<polyline points="432.5,239.3 432.9,239.2 433.3,239.0 433.7,238.9 434.1,238.8 434.5,238.7 434.9,238.6 435.3,238.5 435.7,238.4 436.1,238.4 436.4,238.3 436.8,238.3 437.2,238.2 437.6,238.2 438.0,238.1 438.4,238.1 438.8,238.1 439.2,238.0 439.6,238.0 440.0,238.0 440.4,238.0 440.8,237.9 441.2,237.9 441.6,237.9 442.0,237.9 442.4,237.9 442.8,237.9 443.2,237.9 443.5,237.8 443.9,237.8 444.3,237.8 444.7,237.8 445.1,237.8 445.5,237.8 445.9,237.8 446.3,237.8 449.3,237.8 452.2,237.8 455.2,237.8 458.1,237.8 461.1,237.8 464.1,237.8 467.0,237.8 470.0,237.8 472.9,237.8 475.9,237.8 478.9,237.8 481.8,237.8 484.8,237.8 487.7,237.8 490.7,237.8 493.7,237.8 496.6,237.8 499.6,237.8 502.5,237.8 505.5,237.8 508.5,237.8 511.4,237.8 514.4,237.8 515.0,237.8" fill="none" stroke="#3a3a3a" stroke-width="0.72" stroke-linejoin="round" />
<polyline points="386.7,239.3 387.5,238.9 388.3,238.8 389.1,239.4 389.9,239.5 390.7,239.0 391.5,239.5 392.3,239.7 393.0,239.2 393.8,239.5 394.6,239.6 395.4,239.1 396.2,239.4 397.0,239.5 397.8,239.3 398.6,239.3 399.4,239.1 400.1,239.3 400.9,239.0 401.7,239.1 402.5,238.9 403.3,239.1 404.1,239.3 404.9,239.2 405.7,239.3 406.5,239.6 407.2,239.5 408.0,239.2 408.8,239.8 409.6,239.5 410.4,239.6 411.2,239.3 412.0,239.5 412.8,239.2 413.6,239.3 414.3,239.4 415.1,239.5 415.9,239.7 416.7,239.3 417.5,239.6 418.3,239.4 419.1,239.2 419.9,239.1 420.7,239.2 421.5,239.0 422.2,239.6 423.0,239.2 423.8,239.0 424.6,239.2 425.4,239.5 426.2,239.2 427.0,239.4 427.8,239.4 428.6,239.1 429.3,239.3 430.1,239.5 430.9,239.4 431.7,238.9 432.5,239.5" fill="none" stroke="#ee4a9c" stroke-width="0.96" stroke-linejoin="round" stroke-dasharray="1.6 9.6" stroke-dashoffset="0.0"/>
<polyline points="386.7,239.2 387.5,239.3 388.3,239.1 389.1,239.4 389.9,239.5 390.7,239.4 391.5,239.5 392.3,238.8 393.0,239.3 393.8,239.4 394.6,239.0 395.4,239.2 396.2,239.3 397.0,239.2 397.8,239.2 398.6,239.1 399.4,239.0 400.1,239.4 400.9,239.3 401.7,239.3 402.5,239.1 403.3,239.2 404.1,239.1 404.9,239.1 405.7,239.4 406.5,239.3 407.2,239.0 408.0,239.1 408.8,239.1 409.6,239.4 410.4,239.4 411.2,239.5 412.0,239.4 412.8,239.3 413.6,239.6 414.3,239.1 415.1,239.5 415.9,239.2 416.7,239.2 417.5,239.4 418.3,239.7 419.1,239.1 419.9,239.2 420.7,239.3 421.5,239.1 422.2,239.1 423.0,239.5 423.8,239.3 424.6,239.7 425.4,239.3 426.2,239.0 427.0,239.5 427.8,239.1 428.6,239.6 429.3,239.4 430.1,239.1 430.9,239.0 431.7,239.2 432.5,239.1" fill="none" stroke="#5fe6ea" stroke-width="0.96" stroke-linejoin="round" stroke-dasharray="1.6 9.6" stroke-dashoffset="1.6"/>
<polyline points="386.7,239.0 387.5,239.8 388.3,239.6 389.1,238.9 389.9,238.8 390.7,239.2 391.5,239.3 392.3,239.2 393.0,239.3 393.8,239.4 394.6,239.3 395.4,239.3 396.2,239.2 397.0,239.2 397.8,239.1 398.6,239.2 399.4,239.5 400.1,239.0 400.9,239.8 401.7,239.3 402.5,239.2 403.3,239.4 404.1,238.9 404.9,239.5 405.7,239.5 406.5,239.4 407.2,239.2 408.0,239.1 408.8,239.3 409.6,239.2 410.4,239.4 411.2,239.4 412.0,239.3 412.8,239.6 413.6,239.3 414.3,239.4 415.1,239.2 415.9,239.5 416.7,239.4 417.5,239.4 418.3,239.4 419.1,239.5 419.9,239.3 420.7,239.6 421.5,239.2 422.2,239.2 423.0,239.3 423.8,239.3 424.6,239.5 425.4,239.5 426.2,239.3 427.0,239.5 427.8,239.5 428.6,239.3 429.3,239.3 430.1,239.4 430.9,239.5 431.7,239.3 432.5,239.4" fill="none" stroke="#3434dc" stroke-width="0.96" stroke-linejoin="round" stroke-dasharray="1.6 9.6" stroke-dashoffset="3.2"/>
<polyline points="386.7,239.4 387.5,239.3 388.3,239.2 389.1,239.1 389.9,239.4 390.7,239.1 391.5,239.5 392.3,239.3 393.0,239.0 393.8,238.8 394.6,239.3 395.4,239.4 396.2,239.4 397.0,239.5 397.8,239.3 398.6,239.4 399.4,239.4 400.1,239.1 400.9,239.5 401.7,239.0 402.5,239.1 403.3,239.2 404.1,239.4 404.9,239.4 405.7,239.7 406.5,239.2 407.2,239.4 408.0,239.2 408.8,239.4 409.6,239.2 410.4,239.6 411.2,239.7 412.0,239.2 412.8,239.1 413.6,239.9 414.3,239.0 415.1,239.4 415.9,239.3 416.7,239.6 417.5,239.5 418.3,239.2 419.1,239.4 419.9,239.3 420.7,239.3 421.5,238.9 422.2,239.1 423.0,239.6 423.8,239.4 424.6,239.5 425.4,239.6 426.2,239.4 427.0,239.1 427.8,239.3 428.6,239.2 429.3,239.3 430.1,239.4 430.9,239.3 431.7,239.3 432.5,238.9" fill="none" stroke="#3cc43c" stroke-width="0.96" stroke-linejoin="round" stroke-dasharray="1.6 9.6" stroke-dashoffset="4.8"/>
<polyline points="386.7,238.9 387.5,239.2 388.3,239.2 389.1,239.7 389.9,239.3 390.7,238.8 391.5,239.5 392.3,239.1 393.0,239.1 393.8,239.4 394.6,239.3 395.4,239.4 396.2,239.1 397.0,239.3 397.8,239.0 398.6,239.1 399.4,239.3 400.1,238.8 400.9,239.4 401.7,239.4 402.5,239.3 403.3,239.5 404.1,239.4 404.9,239.3 405.7,239.1 406.5,239.6 407.2,239.6 408.0,239.5 408.8,239.4 409.6,239.2 410.4,239.5 411.2,239.0 412.0,239.4 412.8,239.3 413.6,239.3 414.3,239.1 415.1,239.2 415.9,239.3 416.7,239.4 417.5,239.3 418.3,239.2 419.1,239.4 419.9,239.3 420.7,239.7 421.5,239.4 422.2,239.1 423.0,239.0 423.8,239.3 424.6,239.7 425.4,238.9 426.2,239.3 427.0,238.8 427.8,239.4 428.6,239.1 429.3,239.4 430.1,239.0 430.9,239.1 431.7,239.5 432.5,239.0" fill="none" stroke="#ee4cee" stroke-width="0.96" stroke-linejoin="round" stroke-dasharray="1.6 9.6" stroke-dashoffset="6.4"/>
<polyline points="386.7,238.7 387.5,239.3 388.3,239.5 389.1,239.2 389.9,239.4 390.7,239.6 391.5,239.5 392.3,239.2 393.0,239.6 393.8,239.1 394.6,239.2 395.4,239.3 396.2,239.0 397.0,239.5 397.8,239.2 398.6,239.6 399.4,239.4 400.1,239.2 400.9,239.4 401.7,239.3 402.5,239.2 403.3,239.0 404.1,239.0 404.9,239.2 405.7,239.4 406.5,239.6 407.2,239.0 408.0,238.9 408.8,239.7 409.6,239.1 410.4,239.3 411.2,239.2 412.0,239.2 412.8,239.3 413.6,239.3 414.3,239.3 415.1,239.1 415.9,239.3 416.7,239.4 417.5,239.2 418.3,239.2 419.1,239.2 419.9,239.2 420.7,239.0 421.5,239.1 422.2,239.3 423.0,239.3 423.8,239.2 424.6,239.7 425.4,239.4 426.2,239.4 427.0,239.3 427.8,239.4 428.6,238.8 429.3,239.2 430.1,239.2 430.9,238.8 431.7,239.3 432.5,239.4" fill="none" stroke="#e8a044" stroke-width="0.96" stroke-linejoin="round" stroke-dasharray="1.6 9.6" stroke-dashoffset="8.0"/>
<polyline points="386.7,239.1 387.5,239.1 388.3,239.1 389.1,239.1 389.9,239.4 390.7,239.4 391.5,239.4 392.3,239.3 393.0,239.1 393.8,239.5 394.6,239.4 395.4,239.6 396.2,238.9 397.0,239.1 397.8,239.3 398.6,239.5 399.4,239.5 400.1,239.4 400.9,239.3 401.7,239.6 402.5,239.3 403.3,239.1 404.1,239.3 404.9,239.3 405.7,239.7 406.5,239.4 407.2,239.3 408.0,239.4 408.8,239.6 409.6,239.3 410.4,239.5 411.2,239.4 412.0,239.6 412.8,239.3 413.6,239.1 414.3,239.5 415.1,239.2 415.9,239.6 416.7,239.2 417.5,239.2 418.3,239.4 419.1,239.1 419.9,239.5 420.7,239.3 421.5,239.0 422.2,239.3 423.0,239.5 423.8,239.1 424.6,239.2 425.4,239.4 426.2,239.7 427.0,239.7 427.8,239.6 428.6,239.0 429.3,239.2 430.1,239.5 430.9,239.1 431.7,239.0 432.5,239.5" fill="none" stroke="#9a2a9a" stroke-width="0.96" stroke-linejoin="round" stroke-dasharray="1.6 9.6" stroke-dashoffset="9.6"/>
<line x1="381.00" y1="206.40" x2="381.00" y2="243.30" stroke="#222" stroke-width="0.8" />
<line x1="380.60" y1="243.30" x2="522.10" y2="243.30" stroke="#222" stroke-width="0.8" />
<line x1="379.00" y1="239.30" x2="381.00" y2="239.30" stroke="#222" stroke-width="0.7" />
<text x="377.6" y="242.0" text-anchor="end" font-size="7.45" >0</text>
<line x1="379.00" y1="228.98" x2="381.00" y2="228.98" stroke="#222" stroke-width="0.7" />
<text x="377.6" y="231.7" text-anchor="end" font-size="7.45" >40</text>
<line x1="379.00" y1="218.66" x2="381.00" y2="218.66" stroke="#222" stroke-width="0.7" />
<text x="377.6" y="221.4" text-anchor="end" font-size="7.45" >80</text>
<line x1="379.00" y1="208.34" x2="381.00" y2="208.34" stroke="#222" stroke-width="0.7" />
<text x="377.6" y="211.0" text-anchor="end" font-size="7.45" >120</text>
<line x1="379.70" y1="234.14" x2="381.00" y2="234.14" stroke="#222" stroke-width="0.6" />
<line x1="379.70" y1="223.82" x2="381.00" y2="223.82" stroke="#222" stroke-width="0.6" />
<line x1="379.70" y1="213.50" x2="381.00" y2="213.50" stroke="#222" stroke-width="0.6" />
<line x1="383.18" y1="243.30" x2="383.18" y2="245.00" stroke="#222" stroke-width="0.7" />
<line x1="393.04" y1="243.30" x2="393.04" y2="245.00" stroke="#222" stroke-width="0.7" />
<line x1="402.90" y1="243.30" x2="402.90" y2="245.00" stroke="#222" stroke-width="0.7" />
<line x1="412.77" y1="243.30" x2="412.77" y2="245.00" stroke="#222" stroke-width="0.7" />
<line x1="422.63" y1="243.30" x2="422.63" y2="245.00" stroke="#222" stroke-width="0.7" />
<line x1="432.50" y1="243.30" x2="432.50" y2="245.00" stroke="#222" stroke-width="0.7" />
<line x1="442.37" y1="243.30" x2="442.37" y2="245.00" stroke="#222" stroke-width="0.7" />
<line x1="452.23" y1="243.30" x2="452.23" y2="245.00" stroke="#222" stroke-width="0.7" />
<line x1="462.10" y1="243.30" x2="462.10" y2="245.00" stroke="#222" stroke-width="0.7" />
<line x1="471.96" y1="243.30" x2="471.96" y2="245.00" stroke="#222" stroke-width="0.7" />
<line x1="481.82" y1="243.30" x2="481.82" y2="245.00" stroke="#222" stroke-width="0.7" />
<line x1="491.69" y1="243.30" x2="491.69" y2="245.00" stroke="#222" stroke-width="0.7" />
<line x1="501.56" y1="243.30" x2="501.56" y2="245.00" stroke="#222" stroke-width="0.7" />
<line x1="511.42" y1="243.30" x2="511.42" y2="245.00" stroke="#222" stroke-width="0.7" />
<text x="393.0" y="251.0" text-anchor="middle" font-size="7.45" >-200</text>
<text x="412.8" y="251.0" text-anchor="middle" font-size="7.45" >-100</text>
<text x="432.5" y="251.0" text-anchor="middle" font-size="7.45" >0</text>
<text x="452.2" y="251.0" text-anchor="middle" font-size="7.45" >100</text>
<text x="472.0" y="251.0" text-anchor="middle" font-size="7.45" >200</text>
<text x="491.7" y="251.0" text-anchor="middle" font-size="7.45" >300</text>
<text x="511.4" y="251.0" text-anchor="middle" font-size="7.45" >400</text>
<text x="441.7" y="201.7" text-anchor="middle" font-size="7.45" >+EBOV-13C6 IgG</text>
<text transform="translate(351.0,225.3) rotate(-90)" text-anchor="middle" font-size="7.45">Modality C</text>
<text transform="translate(360.3,225.3) rotate(-90)" text-anchor="middle" font-size="7.45">Response (RU)</text>
<line x1="380.60" y1="310.20" x2="520.50" y2="310.20" stroke="#d4d4d4" stroke-width="0.7" />
<line x1="425.80" y1="277.20" x2="425.80" y2="314.00" stroke="#b0b0b0" stroke-width="0.6" />
<polyline points="425.8,310.2 425.8,311.5 426.6,310.2 427.5,309.4 428.3,311.6 429.1,310.6 430.0,311.2 430.8,310.8 431.7,310.7 432.5,310.6 433.3,310.3 434.2,310.5 435.0,310.2 435.8,310.2 436.7,310.2 437.5,311.4 438.3,310.7 439.2,311.2 440.0,311.5 440.8,309.7 441.7,310.8 442.5,310.9 443.4,312.3 444.2,311.1 445.0,310.4 445.9,311.1 446.7,311.3 447.5,310.0 448.4,311.2 449.2,311.2 450.0,311.0 450.9,311.1 451.7,310.2 452.6,310.6 453.4,311.0 454.2,311.2 455.1,311.1 455.9,309.8 456.7,311.1 457.6,310.5 458.4,312.0 459.2,310.7 460.1,310.5 460.9,310.1 461.7,310.7 462.6,310.6 463.4,310.7 464.3,310.2 465.1,309.6 465.9,310.8 466.8,311.5 467.6,310.6 468.4,311.0 469.3,310.5 470.1,310.4 470.9,310.8 471.8,311.2 472.6,310.7 473.5,311.8 474.3,310.8 475.1,311.5 476.0,310.6 476.8,310.9 477.6,311.1 478.5,311.7 479.3,310.9 480.1,311.4 481.0,311.0 481.8,310.5 482.6,310.3 483.5,311.8 484.3,310.3 485.2,310.0 486.0,310.2 486.8,310.8 487.7,311.0 488.5,309.8 489.3,311.1 490.2,312.0 491.0,310.9 491.8,310.8 492.7,311.6 493.5,311.8 494.4,309.6 495.2,310.9 496.0,310.4 496.9,311.3 497.7,311.9 498.5,311.1 499.4,310.1 500.2,311.4 501.0,312.1 501.9,311.1 502.7,311.1 503.5,310.9 504.4,311.6 505.2,311.2 506.1,311.3 506.9,310.4 507.7,310.8 508.6,310.4 509.4,311.0 510.2,312.4 511.1,312.2 511.9,310.6 512.7,310.4 513.6,310.4 514.4,311.0 515.3,312.1" fill="none" stroke="#e8a044" stroke-width="0.72" stroke-linejoin="round" />
<polyline points="425.8,309.9 425.8,309.5 426.6,308.9 427.5,309.8 428.3,309.9 429.1,310.0 430.0,308.8 430.8,308.9 431.7,310.5 432.5,308.6 433.3,309.9 434.2,310.2 435.0,310.3 435.8,309.7 436.7,307.8 437.5,307.7 438.3,310.0 439.2,309.7 440.0,309.2 440.8,309.0 441.7,309.5 442.5,310.2 443.4,309.5 444.2,309.7 445.0,310.3 445.9,309.2 446.7,310.1 447.5,310.3 448.4,308.3 449.2,308.7 450.0,308.4 450.9,309.2 451.7,309.5 452.6,309.3 453.4,310.1 454.2,308.8 455.1,309.1 455.9,309.4 456.7,310.4 457.6,309.3 458.4,308.3 459.2,308.3 460.1,308.7 460.9,309.5 461.7,309.2 462.6,308.9 463.4,309.1 464.3,308.6 465.1,309.7 465.9,310.7 466.8,310.7 467.6,309.8 468.4,310.1 469.3,308.8 470.1,308.6 470.9,309.3 471.8,308.9 472.6,309.2 473.5,309.1 474.3,309.5 475.1,309.5 476.0,308.5 476.8,309.4 477.6,309.3 478.5,308.5 479.3,308.6 480.1,309.5 481.0,309.1 481.8,309.9 482.6,309.2 483.5,309.1 484.3,309.3 485.2,309.1 486.0,309.0 486.8,310.8 487.7,309.8 488.5,309.2 489.3,309.6 490.2,309.8 491.0,309.4 491.8,308.3 492.7,309.4 493.5,309.6 494.4,309.6 495.2,310.0 496.0,309.0 496.9,309.9 497.7,308.7 498.5,308.7 499.4,308.9 500.2,308.6 501.0,309.3 501.9,310.3 502.7,309.3 503.5,308.9 504.4,310.2 505.2,310.0 506.1,308.6 506.9,309.0 507.7,308.4 508.6,308.8 509.4,309.2 510.2,309.0 511.1,308.7 511.9,309.3 512.7,309.4 513.6,309.1 514.4,309.5 515.3,307.8" fill="none" stroke="#9a2a9a" stroke-width="0.72" stroke-linejoin="round" />
<polyline points="425.8,309.6 425.8,310.3 426.6,310.0 427.5,308.3 428.3,309.0 429.1,308.5 430.0,308.7 430.8,308.2 431.7,309.2 432.5,308.2 433.3,308.5 434.2,307.4 435.0,307.7 435.8,308.8 436.7,308.6 437.5,307.6 438.3,307.2 439.2,307.5 440.0,308.0 440.8,307.3 441.7,309.4 442.5,308.3 443.4,308.6 444.2,308.6 445.0,307.6 445.9,307.8 446.7,307.8 447.5,308.0 448.4,307.6 449.2,307.5 450.0,308.3 450.9,307.4 451.7,308.5 452.6,306.9 453.4,308.8 454.2,308.1 455.1,308.6 455.9,307.9 456.7,307.1 457.6,308.4 458.4,306.8 459.2,307.1 460.1,307.7 460.9,308.3 461.7,307.4 462.6,309.7 463.4,308.4 464.3,307.3 465.1,308.0 465.9,306.4 466.8,308.4 467.6,308.8 468.4,308.1 469.3,307.6 470.1,306.9 470.9,309.0 471.8,307.8 472.6,307.2 473.5,308.4 474.3,308.2 475.1,308.7 476.0,307.5 476.8,307.4 477.6,307.6 478.5,307.8 479.3,307.3 480.1,308.0 481.0,307.5 481.8,307.4 482.6,307.1 483.5,307.6 484.3,307.9 485.2,307.5 486.0,308.9 486.8,309.1 487.7,306.9 488.5,307.9 489.3,308.6 490.2,308.3 491.0,308.0 491.8,307.9 492.7,308.4 493.5,307.3 494.4,309.0 495.2,306.2 496.0,308.6 496.9,306.9 497.7,307.5 498.5,309.0 499.4,308.7 500.2,307.9 501.0,307.8 501.9,308.2 502.7,307.9 503.5,307.8 504.4,308.6 505.2,307.9 506.1,306.5 506.9,308.4 507.7,308.6 508.6,307.5 509.4,307.1 510.2,307.3 511.1,308.3 511.9,308.0 512.7,307.8 513.6,308.1 514.4,307.7 515.3,307.3" fill="none" stroke="#ee4cee" stroke-width="0.72" stroke-linejoin="round" />
<polyline points="425.8,310.0 425.8,310.2 426.6,309.8 427.5,308.2 428.3,309.7 429.1,307.4 430.0,308.0 430.8,308.2 431.7,308.5 432.5,306.7 433.3,307.0 434.2,307.1 435.0,306.2 435.8,308.6 436.7,307.3 437.5,307.5 438.3,307.7 439.2,307.2 440.0,306.9 440.8,307.0 441.7,307.4 442.5,308.1 443.4,306.9 444.2,306.9 445.0,306.0 445.9,306.7 446.7,307.3 447.5,308.0 448.4,305.6 449.2,307.7 450.0,307.2 450.9,306.8 451.7,307.0 452.6,306.5 453.4,307.9 454.2,307.7 455.1,307.2 455.9,308.1 456.7,307.7 457.6,306.4 458.4,307.1 459.2,307.4 460.1,307.6 460.9,307.3 461.7,307.3 462.6,308.0 463.4,306.8 464.3,308.1 465.1,306.5 465.9,307.5 466.8,308.7 467.6,308.3 468.4,307.1 469.3,307.8 470.1,306.1 470.9,306.4 471.8,306.0 472.6,306.7 473.5,306.4 474.3,307.7 475.1,306.5 476.0,307.6 476.8,307.3 477.6,308.2 478.5,307.2 479.3,307.0 480.1,307.3 481.0,308.0 481.8,306.7 482.6,306.7 483.5,307.3 484.3,306.8 485.2,306.7 486.0,307.9 486.8,307.3 487.7,308.5 488.5,307.9 489.3,307.0 490.2,307.8 491.0,307.0 491.8,307.1 492.7,308.6 493.5,307.6 494.4,306.3 495.2,307.3 496.0,307.2 496.9,307.7 497.7,308.3 498.5,308.3 499.4,305.5 500.2,307.4 501.0,307.8 501.9,307.2 502.7,308.5 503.5,306.4 504.4,306.2 505.2,307.8 506.1,307.1 506.9,307.9 507.7,306.7 508.6,307.8 509.4,307.4 510.2,306.5 511.1,307.0 511.9,307.5 512.7,308.3 513.6,308.3 514.4,306.5 515.3,307.0" fill="none" stroke="#3cc43c" stroke-width="0.72" stroke-linejoin="round" />
<polyline points="425.8,309.2 425.8,308.4 426.6,307.9 427.5,307.5 428.3,306.3 429.1,305.6 430.0,304.9 430.8,302.8 431.7,303.7 432.5,303.5 433.3,303.6 434.2,303.6 435.0,303.6 435.8,304.0 436.7,303.0 437.5,303.5 438.3,303.7 439.2,303.1 440.0,303.9 440.8,301.7 441.7,301.8 442.5,303.3 443.4,301.4 444.2,302.3 445.0,304.4 445.9,302.8 446.7,303.5 447.5,304.0 448.4,303.1 449.2,302.2 450.0,302.7 450.9,304.0 451.7,303.5 452.6,303.6 453.4,302.4 454.2,303.2 455.1,303.8 455.9,303.8 456.7,304.5 457.6,303.8 458.4,302.8 459.2,304.6 460.1,303.3 460.9,303.5 461.7,302.9 462.6,304.2 463.4,302.9 464.3,302.6 465.1,302.1 465.9,304.7 466.8,303.7 467.6,303.8 468.4,303.6 469.3,304.4 470.1,303.2 470.9,302.3 471.8,302.9 472.6,304.5 473.5,304.3 474.3,303.4 475.1,303.9 476.0,304.5 476.8,303.2 477.6,303.7 478.5,303.4 479.3,304.2 480.1,303.3 481.0,304.4 481.8,304.9 482.6,304.2 483.5,305.1 484.3,303.5 485.2,303.8 486.0,305.4 486.8,304.2 487.7,303.8 488.5,304.6 489.3,304.2 490.2,304.8 491.0,304.5 491.8,304.6 492.7,304.2 493.5,305.2 494.4,305.3 495.2,304.4 496.0,305.0 496.9,304.3 497.7,305.0 498.5,305.6 499.4,304.3 500.2,304.6 501.0,304.3 501.9,305.0 502.7,305.1 503.5,304.1 504.4,306.0 505.2,303.8 506.1,304.6 506.9,305.0 507.7,304.9 508.6,304.6 509.4,305.5 510.2,304.9 511.1,305.7 511.9,306.3 512.7,305.0 513.6,305.1 514.4,304.7 515.3,304.8" fill="none" stroke="#3434dc" stroke-width="0.72" stroke-linejoin="round" />
<polyline points="425.8,309.8 425.8,309.5 426.6,307.7 427.5,303.8 428.3,300.9 429.1,301.1 430.0,300.1 430.8,297.7 431.7,296.6 432.5,295.7 433.3,294.6 434.2,295.8 435.0,294.3 435.8,293.8 436.7,293.0 437.5,294.0 438.3,293.2 439.2,293.5 440.0,293.5 440.8,293.5 441.7,293.6 442.5,294.6 443.4,293.7 444.2,293.7 445.0,294.0 445.9,296.0 446.7,294.3 447.5,294.4 448.4,294.6 449.2,293.2 450.0,293.7 450.9,294.4 451.7,294.0 452.6,292.4 453.4,295.1 454.2,294.3 455.1,295.0 455.9,293.8 456.7,294.1 457.6,294.9 458.4,294.5 459.2,295.4 460.1,296.0 460.9,294.6 461.7,294.2 462.6,295.4 463.4,295.6 464.3,296.4 465.1,294.1 465.9,296.2 466.8,296.1 467.6,295.7 468.4,294.9 469.3,295.7 470.1,295.8 470.9,295.8 471.8,295.4 472.6,296.0 473.5,295.9 474.3,296.1 475.1,296.8 476.0,295.4 476.8,296.7 477.6,297.1 478.5,296.7 479.3,296.4 480.1,296.0 481.0,297.5 481.8,297.4 482.6,296.6 483.5,296.5 484.3,297.5 485.2,297.6 486.0,296.8 486.8,297.1 487.7,298.0 488.5,297.6 489.3,296.3 490.2,297.9 491.0,296.6 491.8,298.3 492.7,296.5 493.5,296.5 494.4,297.9 495.2,298.0 496.0,297.2 496.9,298.4 497.7,297.4 498.5,297.0 499.4,297.7 500.2,297.7 501.0,298.0 501.9,297.4 502.7,298.5 503.5,297.1 504.4,298.2 505.2,298.4 506.1,299.2 506.9,298.6 507.7,298.2 508.6,297.6 509.4,299.4 510.2,298.6 511.1,299.0 511.9,299.3 512.7,298.6 513.6,299.2 514.4,298.2 515.3,300.4" fill="none" stroke="#5fe6ea" stroke-width="0.72" stroke-linejoin="round" />
<polyline points="425.8,309.0 425.8,310.3 426.6,305.4 427.5,299.8 428.3,296.9 429.1,293.7 430.0,291.9 430.8,290.0 431.7,288.1 432.5,286.3 433.3,285.6 434.2,284.4 435.0,283.8 435.8,282.5 436.7,282.7 437.5,282.8 438.3,282.7 439.2,281.3 440.0,281.4 440.8,281.0 441.7,282.1 442.5,282.4 443.4,282.7 444.2,281.6 445.0,282.4 445.9,281.7 446.7,282.4 447.5,282.6 448.4,283.6 449.2,283.0 450.0,282.3 450.9,283.2 451.7,282.6 452.6,284.0 453.4,282.6 454.2,281.7 455.1,282.7 455.9,283.3 456.7,284.3 457.6,284.0 458.4,284.1 459.2,283.8 460.1,285.1 460.9,284.6 461.7,283.7 462.6,284.2 463.4,284.0 464.3,284.0 465.1,285.2 465.9,285.4 466.8,284.5 467.6,284.9 468.4,284.9 469.3,285.5 470.1,284.6 470.9,285.0 471.8,284.7 472.6,285.6 473.5,285.2 474.3,285.7 475.1,286.3 476.0,285.9 476.8,286.8 477.6,286.1 478.5,286.0 479.3,285.8 480.1,286.9 481.0,287.1 481.8,286.9 482.6,287.7 483.5,287.0 484.3,285.3 485.2,286.8 486.0,287.3 486.8,287.4 487.7,286.1 488.5,287.8 489.3,287.3 490.2,287.4 491.0,287.9 491.8,287.9 492.7,288.6 493.5,288.2 494.4,287.1 495.2,287.1 496.0,288.1 496.9,287.7 497.7,287.9 498.5,288.2 499.4,288.4 500.2,287.7 501.0,288.1 501.9,288.7 502.7,288.8 503.5,288.2 504.4,289.1 505.2,289.3 506.1,289.1 506.9,289.3 507.7,288.4 508.6,289.0 509.4,289.3 510.2,289.7 511.1,288.6 511.9,289.3 512.7,288.4 513.6,289.2 514.4,289.9 515.3,290.1" fill="none" stroke="#ee4a9c" stroke-width="0.72" stroke-linejoin="round" />
<polyline points="425.8,310.0 426.2,307.4 426.6,305.1 427.1,302.9 427.5,300.9 427.9,299.1 428.3,297.5 428.7,296.0 429.1,294.6 429.6,293.3 430.0,292.2 430.4,291.1 430.8,290.2 431.2,289.3 431.7,288.5 432.1,287.8 432.5,287.1 432.9,286.5 433.3,285.9 433.7,285.4 434.2,285.0 434.6,284.5 435.0,284.1 435.4,283.8 435.8,283.5 436.2,283.2 436.7,282.9 437.1,282.6 437.5,282.4 437.9,282.2 438.3,282.0 438.8,282.1 439.2,282.1 439.6,282.2 440.0,282.2 440.4,282.3 443.6,282.7 446.7,283.1 449.8,283.5 453.0,283.9 456.1,284.3 459.2,284.7 462.4,285.1 465.5,285.4 468.6,285.8 471.8,286.2 474.9,286.5 478.1,286.9 481.2,287.2 484.3,287.5 487.5,287.9 490.6,288.2 493.7,288.5 496.9,288.9 500.0,289.2 503.1,289.5 506.3,289.8 509.4,290.1 512.5,290.4 515.3,290.6" fill="none" stroke="#3a3a3a" stroke-width="0.84" stroke-linejoin="round" />
<polyline points="425.8,310.0 426.2,308.5 426.6,307.0 427.1,305.7 427.5,304.6 427.9,303.5 428.3,302.5 428.7,301.6 429.1,300.8 429.6,300.0 430.0,299.3 430.4,298.7 430.8,298.1 431.2,297.6 431.7,297.1 432.1,296.7 432.5,296.3 432.9,295.9 433.3,295.6 433.7,295.3 434.2,295.0 434.6,294.7 435.0,294.5 435.4,294.3 435.8,294.1 436.2,293.9 436.7,293.7 437.1,293.6 437.5,293.4 437.9,293.3 438.3,293.2 438.8,293.2 439.2,293.3 439.6,293.3 440.0,293.4 440.4,293.4 443.6,293.7 446.7,293.9 449.8,294.2 453.0,294.5 456.1,294.7 459.2,295.0 462.4,295.2 465.5,295.4 468.6,295.7 471.8,295.9 474.9,296.1 478.1,296.4 481.2,296.6 484.3,296.8 487.5,297.0 490.6,297.2 493.7,297.5 496.9,297.7 500.0,297.9 503.1,298.1 506.3,298.3 509.4,298.4 512.5,298.6 515.3,298.8" fill="none" stroke="#3a3a3a" stroke-width="0.84" stroke-linejoin="round" />
<polyline points="425.8,310.0 426.2,309.6 426.6,309.2 427.1,308.9 427.5,308.5 427.9,308.3 428.3,308.0 428.7,307.8 429.1,307.5 429.6,307.3 430.0,307.2 430.4,307.0 430.8,306.8 431.2,306.7 431.7,306.6 432.1,306.4 432.5,306.3 432.9,306.2 433.3,306.1 433.7,306.1 434.2,306.0 434.6,305.9 435.0,305.9 435.4,305.8 435.8,305.8 436.2,305.7 436.7,305.7 437.1,305.6 437.5,305.6 437.9,305.6 438.3,305.5 438.8,305.5 439.2,305.5 439.6,305.5 440.0,305.6 440.4,305.6 443.6,305.6 446.7,305.7 449.8,305.7 453.0,305.8 456.1,305.8 459.2,305.9 462.4,305.9 465.5,306.0 468.6,306.0 471.8,306.1 474.9,306.1 478.1,306.2 481.2,306.2 484.3,306.2 487.5,306.3 490.6,306.3 493.7,306.4 496.9,306.4 500.0,306.5 503.1,306.5 506.3,306.5 509.4,306.6 512.5,306.6 515.3,306.7" fill="none" stroke="#3a3a3a" stroke-width="0.84" stroke-linejoin="round" />
<polyline points="379.4,310.6 380.2,310.3 381.1,309.9 381.9,310.1 382.7,309.3 383.6,311.4 384.4,310.4 385.3,311.4 386.1,311.1 386.9,310.8 387.8,310.8 388.6,311.1 389.4,311.4 390.3,309.6 391.1,310.6 391.9,309.7 392.8,311.2 393.6,312.0 394.4,310.8 395.3,309.8 396.1,310.8 397.0,310.1 397.8,311.1 398.6,309.5 399.5,310.1 400.3,309.7 401.1,310.6 402.0,309.5 402.8,310.4 403.6,310.7 404.5,310.8 405.3,310.4 406.2,311.0 407.0,311.2 407.8,310.3 408.7,309.9 409.5,310.6 410.3,309.8 411.2,309.3 412.0,311.3 412.8,310.2 413.7,311.1 414.5,310.8 415.4,310.3 416.2,312.0 417.0,310.0 417.9,309.8 418.7,310.0 419.5,310.0 420.4,309.2 421.2,310.6 422.0,309.7 422.9,309.4 423.7,310.1 424.5,311.6 425.4,310.5" fill="none" stroke="#e8a044" stroke-width="0.72" stroke-linejoin="round" />
<polyline points="379.4,310.0 380.2,310.8 381.1,309.8 381.9,309.3 382.7,310.0 383.6,309.9 384.4,308.9 385.3,310.2 386.1,310.4 386.9,309.8 387.8,309.1 388.6,309.4 389.4,309.8 390.3,310.1 391.1,309.0 391.9,309.2 392.8,310.9 393.6,309.6 394.4,311.3 395.3,308.8 396.1,309.4 397.0,310.2 397.8,310.6 398.6,310.0 399.5,310.9 400.3,309.4 401.1,310.1 402.0,310.9 402.8,309.8 403.6,309.0 404.5,310.6 405.3,310.0 406.2,308.6 407.0,309.7 407.8,310.2 408.7,309.7 409.5,309.3 410.3,310.4 411.2,309.9 412.0,310.8 412.8,310.8 413.7,310.8 414.5,309.3 415.4,309.6 416.2,309.3 417.0,309.0 417.9,309.8 418.7,309.6 419.5,309.5 420.4,309.5 421.2,310.5 422.0,310.0 422.9,309.9 423.7,309.8 424.5,310.3 425.4,309.9" fill="none" stroke="#9a2a9a" stroke-width="0.72" stroke-linejoin="round" />
<polyline points="379.4,309.2 380.2,309.3 381.1,309.0 381.9,308.9 382.7,309.0 383.6,308.8 384.4,308.9 385.3,308.5 386.1,309.0 386.9,309.8 387.8,307.9 388.6,308.7 389.4,308.6 390.3,308.9 391.1,309.4 391.9,310.1 392.8,309.1 393.6,309.6 394.4,309.7 395.3,310.8 396.1,308.4 397.0,310.1 397.8,310.1 398.6,309.1 399.5,309.0 400.3,309.9 401.1,309.4 402.0,309.2 402.8,309.3 403.6,309.1 404.5,308.9 405.3,309.6 406.2,310.4 407.0,308.0 407.8,309.6 408.7,310.0 409.5,308.9 410.3,309.0 411.2,309.8 412.0,307.9 412.8,310.9 413.7,308.6 414.5,309.4 415.4,309.2 416.2,309.2 417.0,309.5 417.9,309.2 418.7,310.2 419.5,309.7 420.4,308.2 421.2,311.1 422.0,308.6 422.9,310.8 423.7,309.9 424.5,308.8 425.4,309.7" fill="none" stroke="#ee4cee" stroke-width="0.72" stroke-linejoin="round" />
<polyline points="379.4,310.6 380.2,311.2 381.1,310.3 381.9,310.3 382.7,310.6 383.6,311.2 384.4,310.1 385.3,309.9 386.1,309.5 386.9,309.9 387.8,309.2 388.6,309.4 389.4,312.0 390.3,309.1 391.1,310.3 391.9,310.9 392.8,309.9 393.6,309.6 394.4,311.2 395.3,311.0 396.1,309.8 397.0,310.6 397.8,309.3 398.6,310.1 399.5,310.6 400.3,311.1 401.1,309.8 402.0,311.3 402.8,311.0 403.6,311.0 404.5,309.1 405.3,309.1 406.2,310.3 407.0,310.4 407.8,309.8 408.7,309.4 409.5,310.7 410.3,308.8 411.2,310.3 412.0,309.5 412.8,311.7 413.7,310.2 414.5,310.6 415.4,308.9 416.2,310.3 417.0,311.0 417.9,308.9 418.7,310.6 419.5,310.2 420.4,311.0 421.2,309.8 422.0,310.1 422.9,310.4 423.7,310.5 424.5,310.6 425.4,310.7" fill="none" stroke="#3cc43c" stroke-width="0.72" stroke-linejoin="round" />
<polyline points="379.4,310.1 380.2,308.4 381.1,308.6 381.9,310.1 382.7,309.9 383.6,308.9 384.4,307.7 385.3,309.3 386.1,309.4 386.9,309.4 387.8,309.0 388.6,309.3 389.4,308.5 390.3,308.6 391.1,308.8 391.9,308.2 392.8,309.3 393.6,309.6 394.4,307.3 395.3,310.4 396.1,310.2 397.0,310.7 397.8,309.0 398.6,309.9 399.5,308.5 400.3,310.5 401.1,309.3 402.0,309.5 402.8,309.9 403.6,308.5 404.5,309.5 405.3,308.9 406.2,309.5 407.0,309.1 407.8,309.5 408.7,309.2 409.5,309.3 410.3,309.6 411.2,308.9 412.0,309.3 412.8,309.8 413.7,309.9 414.5,308.9 415.4,308.3 416.2,310.0 417.0,309.5 417.9,308.9 418.7,308.5 419.5,308.7 420.4,310.0 421.2,309.2 422.0,308.6 422.9,309.0 423.7,309.3 424.5,310.0 425.4,309.1" fill="none" stroke="#3434dc" stroke-width="0.72" stroke-linejoin="round" />
<polyline points="379.4,310.0 380.2,310.0 381.1,309.1 381.9,309.3 382.7,310.5 383.6,309.9 384.4,310.2 385.3,309.9 386.1,309.0 386.9,309.4 387.8,310.0 388.6,310.4 389.4,310.1 390.3,309.8 391.1,310.3 391.9,309.3 392.8,310.0 393.6,310.7 394.4,308.8 395.3,311.7 396.1,310.2 397.0,310.1 397.8,309.4 398.6,309.3 399.5,309.1 400.3,309.1 401.1,309.8 402.0,309.9 402.8,309.4 403.6,310.0 404.5,310.8 405.3,310.3 406.2,309.6 407.0,309.6 407.8,310.7 408.7,309.3 409.5,309.8 410.3,310.9 411.2,309.7 412.0,309.4 412.8,309.7 413.7,310.2 414.5,310.5 415.4,309.3 416.2,309.9 417.0,310.0 417.9,310.2 418.7,310.6 419.5,311.1 420.4,310.2 421.2,309.3 422.0,309.5 422.9,310.4 423.7,309.1 424.5,310.1 425.4,310.6" fill="none" stroke="#5fe6ea" stroke-width="0.72" stroke-linejoin="round" />
<polyline points="379.4,308.7 380.2,308.4 381.1,309.4 381.9,309.9 382.7,309.2 383.6,310.6 384.4,309.2 385.3,308.3 386.1,309.0 386.9,309.6 387.8,308.8 388.6,309.5 389.4,308.5 390.3,309.4 391.1,308.1 391.9,309.4 392.8,309.1 393.6,309.7 394.4,309.9 395.3,309.0 396.1,309.0 397.0,309.7 397.8,308.9 398.6,309.4 399.5,309.5 400.3,309.2 401.1,309.0 402.0,308.8 402.8,308.5 403.6,309.0 404.5,309.6 405.3,309.6 406.2,309.0 407.0,309.9 407.8,309.3 408.7,309.4 409.5,309.3 410.3,309.1 411.2,308.6 412.0,308.3 412.8,308.7 413.7,308.6 414.5,309.8 415.4,308.6 416.2,308.5 417.0,310.0 417.9,307.8 418.7,309.5 419.5,310.5 420.4,308.2 421.2,309.2 422.0,309.7 422.9,309.5 423.7,308.6 424.5,309.1 425.4,309.4" fill="none" stroke="#ee4a9c" stroke-width="0.72" stroke-linejoin="round" />
<line x1="380.60" y1="277.20" x2="380.60" y2="314.00" stroke="#222" stroke-width="0.8" />
<line x1="380.20" y1="314.00" x2="520.50" y2="314.00" stroke="#222" stroke-width="0.8" />
<line x1="378.60" y1="309.40" x2="380.60" y2="309.40" stroke="#222" stroke-width="0.7" />
<text x="375.1" y="315.0" text-anchor="end" font-size="7.45" >0</text>
<line x1="378.60" y1="293.40" x2="380.60" y2="293.40" stroke="#222" stroke-width="0.7" />
<text x="375.1" y="297.8" text-anchor="end" font-size="7.45" >40</text>
<line x1="378.60" y1="277.40" x2="380.60" y2="277.40" stroke="#222" stroke-width="0.7" />
<text x="375.1" y="280.7" text-anchor="end" font-size="7.45" >80</text>
<line x1="379.30" y1="301.40" x2="380.60" y2="301.40" stroke="#222" stroke-width="0.6" />
<line x1="379.30" y1="285.40" x2="380.60" y2="285.40" stroke="#222" stroke-width="0.6" />
<line x1="384.00" y1="314.00" x2="384.00" y2="315.70" stroke="#222" stroke-width="0.7" />
<line x1="394.45" y1="314.00" x2="394.45" y2="315.70" stroke="#222" stroke-width="0.7" />
<line x1="404.90" y1="314.00" x2="404.90" y2="315.70" stroke="#222" stroke-width="0.7" />
<line x1="415.35" y1="314.00" x2="415.35" y2="315.70" stroke="#222" stroke-width="0.7" />
<line x1="425.80" y1="314.00" x2="425.80" y2="315.70" stroke="#222" stroke-width="0.7" />
<line x1="436.25" y1="314.00" x2="436.25" y2="315.70" stroke="#222" stroke-width="0.7" />
<line x1="446.70" y1="314.00" x2="446.70" y2="315.70" stroke="#222" stroke-width="0.7" />
<line x1="457.15" y1="314.00" x2="457.15" y2="315.70" stroke="#222" stroke-width="0.7" />
<line x1="467.60" y1="314.00" x2="467.60" y2="315.70" stroke="#222" stroke-width="0.7" />
<line x1="478.05" y1="314.00" x2="478.05" y2="315.70" stroke="#222" stroke-width="0.7" />
<line x1="488.50" y1="314.00" x2="488.50" y2="315.70" stroke="#222" stroke-width="0.7" />
<line x1="498.95" y1="314.00" x2="498.95" y2="315.70" stroke="#222" stroke-width="0.7" />
<line x1="509.40" y1="314.00" x2="509.40" y2="315.70" stroke="#222" stroke-width="0.7" />
<text x="384.0" y="322.0" text-anchor="middle" font-size="7.45" >-200</text>
<text x="404.9" y="322.0" text-anchor="middle" font-size="7.45" >-100</text>
<text x="425.8" y="322.0" text-anchor="middle" font-size="7.45" >0</text>
<text x="446.7" y="322.0" text-anchor="middle" font-size="7.45" >100</text>
<text x="467.6" y="322.0" text-anchor="middle" font-size="7.45" >200</text>
<text x="488.5" y="322.0" text-anchor="middle" font-size="7.45" >300</text>
<text x="509.4" y="322.0" text-anchor="middle" font-size="7.45" >400</text>
<text x="446.0" y="271.7" text-anchor="middle" font-size="7.45" >+EBOV-13C6 Fab</text>
<text x="387.8" y="291.0" font-size="7.45"><tspan font-style="italic">K</tspan><tspan font-size="4.32" dy="2.5">D</tspan><tspan dy="-2.5">= 16 nM</tspan></text>
<text transform="translate(351.0,292.8) rotate(-90)" text-anchor="middle" font-size="7.45">Modality A</text>
<text transform="translate(360.3,292.8) rotate(-90)" text-anchor="middle" font-size="7.45">Response (RU)</text>
<line x1="540.60" y1="238.90" x2="680.00" y2="238.90" stroke="#d4d4d4" stroke-width="0.7" />
<line x1="593.10" y1="206.90" x2="593.10" y2="243.40" stroke="#b0b0b0" stroke-width="0.6" />
<polyline points="593.1,238.3 593.1,239.4 593.9,239.4 594.6,239.3 595.4,239.3 596.2,238.7 597.0,239.1 597.7,239.5 598.5,239.2 599.3,239.9 600.0,239.0 600.8,239.0 601.6,238.8 602.4,239.1 603.1,238.9 603.9,239.4 604.7,239.0 605.5,239.0 606.2,239.5 607.0,238.8 607.8,239.0 608.5,239.0 609.3,239.2 610.1,238.2 610.9,239.0 611.6,239.3 612.4,239.4 613.2,238.8 613.9,239.1 614.7,239.4 615.5,239.3 616.3,238.6 617.0,239.0 617.8,238.6 618.6,239.0 619.3,239.5 620.1,238.7 620.9,238.9 621.7,239.3 622.4,239.2 623.2,239.4 624.0,238.7 624.8,239.2 625.5,238.8 626.3,238.9 627.1,239.1 627.8,238.9 628.6,239.1 629.4,239.5 630.2,239.2 630.9,239.5 631.7,238.7 632.5,238.8 633.2,239.3 634.0,238.8 634.8,238.9 635.6,238.6 636.3,239.4 637.1,239.0 637.9,239.4 638.6,239.3 639.4,238.5 640.2,239.9 641.0,239.4 641.7,238.8 642.5,238.7 643.3,239.4 644.1,239.9 644.8,239.7 645.6,238.9 646.4,238.6 647.1,238.7 647.9,239.3 648.7,238.5 649.5,239.1 650.2,238.8 651.0,239.1 651.8,238.4 652.5,239.2 653.3,239.9 654.1,239.2 654.9,239.0 655.6,238.9 656.4,239.3 657.2,239.1 657.9,239.5 658.7,239.1 659.5,239.0 660.3,238.9 661.0,238.4 661.8,239.9 662.6,238.8 663.4,238.9 664.1,239.5 664.9,239.0 665.7,239.0 666.4,239.4 667.2,238.7 668.0,238.2 668.8,238.8 669.5,238.7 670.3,238.6 671.1,239.1 671.8,238.6 672.6,239.4 673.4,239.0 674.2,238.7 674.9,238.5 675.7,239.1" fill="none" stroke="#e8a044" stroke-width="0.72" stroke-linejoin="round" />
<polyline points="593.1,238.8 593.1,239.1 593.9,239.3 594.6,239.2 595.4,239.0 596.2,239.6 597.0,238.9 597.7,239.1 598.5,239.4 599.3,239.8 600.0,239.5 600.8,239.3 601.6,238.9 602.4,240.1 603.1,239.0 603.9,239.2 604.7,239.8 605.5,238.9 606.2,239.1 607.0,239.1 607.8,239.7 608.5,239.7 609.3,238.9 610.1,238.7 610.9,239.1 611.6,239.4 612.4,239.5 613.2,240.0 613.9,238.9 614.7,239.3 615.5,238.8 616.3,239.6 617.0,238.9 617.8,239.6 618.6,239.0 619.3,238.7 620.1,239.6 620.9,238.9 621.7,239.3 622.4,239.7 623.2,239.2 624.0,239.0 624.8,239.6 625.5,239.4 626.3,239.5 627.1,239.6 627.8,239.4 628.6,238.9 629.4,239.5 630.2,238.8 630.9,239.4 631.7,239.6 632.5,238.8 633.2,238.7 634.0,239.6 634.8,239.0 635.6,239.8 636.3,239.5 637.1,239.4 637.9,239.0 638.6,239.8 639.4,239.5 640.2,239.6 641.0,239.2 641.7,239.8 642.5,239.8 643.3,238.1 644.1,239.2 644.8,239.9 645.6,238.9 646.4,239.8 647.1,240.1 647.9,238.6 648.7,238.8 649.5,239.6 650.2,239.7 651.0,239.1 651.8,238.5 652.5,239.0 653.3,239.0 654.1,239.8 654.9,240.0 655.6,239.1 656.4,238.9 657.2,239.2 657.9,239.3 658.7,238.7 659.5,239.6 660.3,238.8 661.0,238.9 661.8,239.5 662.6,239.2 663.4,239.2 664.1,239.0 664.9,239.7 665.7,239.4 666.4,239.3 667.2,239.3 668.0,239.3 668.8,239.2 669.5,239.4 670.3,239.5 671.1,238.9 671.8,239.5 672.6,239.4 673.4,239.6 674.2,239.8 674.9,239.1 675.7,239.3" fill="none" stroke="#3cc43c" stroke-width="0.72" stroke-linejoin="round" />
<polyline points="593.1,238.9 593.1,239.2 593.9,239.5 594.6,239.1 595.4,238.7 596.2,239.3 597.0,239.5 597.7,238.7 598.5,239.1 599.3,240.1 600.0,238.9 600.8,239.3 601.6,239.1 602.4,239.9 603.1,239.8 603.9,239.7 604.7,239.2 605.5,239.9 606.2,239.7 607.0,239.0 607.8,239.7 608.5,239.4 609.3,239.8 610.1,240.1 610.9,239.4 611.6,239.5 612.4,240.0 613.2,239.0 613.9,239.1 614.7,239.1 615.5,239.6 616.3,239.9 617.0,239.5 617.8,239.3 618.6,239.5 619.3,239.7 620.1,239.8 620.9,239.7 621.7,239.5 622.4,239.6 623.2,238.7 624.0,239.5 624.8,239.2 625.5,239.6 626.3,239.5 627.1,239.8 627.8,239.6 628.6,240.0 629.4,240.3 630.2,238.9 630.9,239.8 631.7,239.2 632.5,239.5 633.2,239.6 634.0,239.1 634.8,239.6 635.6,239.2 636.3,239.6 637.1,239.0 637.9,239.0 638.6,239.4 639.4,239.0 640.2,239.2 641.0,238.8 641.7,239.5 642.5,240.0 643.3,239.3 644.1,239.3 644.8,239.6 645.6,239.5 646.4,239.5 647.1,239.9 647.9,238.7 648.7,239.7 649.5,239.8 650.2,240.1 651.0,239.8 651.8,239.4 652.5,238.8 653.3,239.2 654.1,239.7 654.9,239.9 655.6,239.9 656.4,239.4 657.2,239.1 657.9,239.6 658.7,238.8 659.5,238.6 660.3,239.4 661.0,240.3 661.8,239.0 662.6,239.5 663.4,239.1 664.1,239.0 664.9,239.8 665.7,239.4 666.4,239.3 667.2,239.7 668.0,239.1 668.8,239.5 669.5,239.6 670.3,238.7 671.1,239.3 671.8,238.8 672.6,239.5 673.4,239.0 674.2,239.7 674.9,239.4 675.7,239.0" fill="none" stroke="#ee4a9c" stroke-width="0.72" stroke-linejoin="round" />
<polyline points="593.1,239.6 593.1,239.5 593.9,239.8 594.6,239.2 595.4,239.6 596.2,239.7 597.0,240.2 597.7,238.5 598.5,240.0 599.3,239.8 600.0,240.0 600.8,239.8 601.6,239.6 602.4,240.2 603.1,239.2 603.9,239.8 604.7,239.4 605.5,240.5 606.2,239.9 607.0,239.8 607.8,239.8 608.5,239.9 609.3,239.6 610.1,239.5 610.9,240.1 611.6,240.5 612.4,239.4 613.2,239.8 613.9,239.2 614.7,239.3 615.5,239.7 616.3,240.3 617.0,239.8 617.8,240.0 618.6,239.2 619.3,240.4 620.1,239.3 620.9,240.3 621.7,239.9 622.4,240.2 623.2,240.0 624.0,239.9 624.8,239.5 625.5,239.9 626.3,239.4 627.1,239.0 627.8,239.6 628.6,240.1 629.4,239.7 630.2,239.7 630.9,239.8 631.7,239.2 632.5,239.2 633.2,238.9 634.0,239.5 634.8,240.8 635.6,239.7 636.3,239.4 637.1,240.0 637.9,239.9 638.6,239.3 639.4,239.6 640.2,240.1 641.0,239.9 641.7,240.9 642.5,239.7 643.3,240.2 644.1,239.7 644.8,240.2 645.6,240.1 646.4,239.9 647.1,238.6 647.9,240.2 648.7,240.2 649.5,239.9 650.2,239.2 651.0,239.4 651.8,239.4 652.5,239.8 653.3,239.6 654.1,240.0 654.9,239.7 655.6,240.0 656.4,240.3 657.2,240.1 657.9,238.9 658.7,239.5 659.5,240.0 660.3,239.7 661.0,239.9 661.8,239.2 662.6,239.7 663.4,239.9 664.1,239.4 664.9,239.5 665.7,240.0 666.4,240.0 667.2,239.6 668.0,240.3 668.8,240.0 669.5,239.3 670.3,239.3 671.1,239.2 671.8,239.9 672.6,239.9 673.4,239.8 674.2,239.9 674.9,239.2 675.7,239.8" fill="none" stroke="#3434dc" stroke-width="0.72" stroke-linejoin="round" />
<polyline points="593.1,238.8 593.1,239.8 593.9,239.4 594.6,238.9 595.4,239.8 596.2,239.8 597.0,239.8 597.7,240.2 598.5,239.7 599.3,239.8 600.0,238.7 600.8,239.7 601.6,240.4 602.4,239.2 603.1,239.2 603.9,239.6 604.7,239.4 605.5,239.3 606.2,239.8 607.0,239.5 607.8,239.5 608.5,238.9 609.3,239.0 610.1,239.5 610.9,240.1 611.6,239.2 612.4,239.6 613.2,239.1 613.9,239.5 614.7,239.5 615.5,239.3 616.3,239.8 617.0,239.8 617.8,238.6 618.6,239.9 619.3,239.2 620.1,239.3 620.9,239.2 621.7,239.0 622.4,240.1 623.2,239.2 624.0,240.4 624.8,239.5 625.5,239.4 626.3,239.1 627.1,239.1 627.8,239.9 628.6,239.7 629.4,239.6 630.2,239.8 630.9,239.9 631.7,239.8 632.5,239.1 633.2,239.0 634.0,239.2 634.8,238.9 635.6,239.5 636.3,240.0 637.1,239.8 637.9,239.5 638.6,239.1 639.4,239.1 640.2,239.9 641.0,239.2 641.7,239.8 642.5,239.3 643.3,239.2 644.1,238.9 644.8,239.8 645.6,239.4 646.4,239.4 647.1,239.7 647.9,239.5 648.7,239.3 649.5,240.2 650.2,239.8 651.0,238.6 651.8,239.4 652.5,239.8 653.3,240.3 654.1,239.9 654.9,239.3 655.6,239.3 656.4,239.4 657.2,239.3 657.9,239.8 658.7,238.9 659.5,240.0 660.3,239.3 661.0,239.7 661.8,240.2 662.6,239.2 663.4,239.7 664.1,239.3 664.9,239.0 665.7,239.5 666.4,239.8 667.2,239.6 668.0,239.6 668.8,239.0 669.5,239.2 670.3,238.9 671.1,239.2 671.8,239.9 672.6,239.2 673.4,239.2 674.2,239.6 674.9,239.4 675.7,239.7" fill="none" stroke="#ee4cee" stroke-width="0.72" stroke-linejoin="round" />
<polyline points="593.1,239.5 593.1,239.8 593.9,239.5 594.6,240.0 595.4,240.7 596.2,240.1 597.0,239.4 597.7,239.7 598.5,239.3 599.3,240.1 600.0,240.0 600.8,240.2 601.6,240.1 602.4,239.6 603.1,239.7 603.9,240.0 604.7,239.7 605.5,240.3 606.2,240.0 607.0,240.4 607.8,240.4 608.5,240.4 609.3,240.2 610.1,239.2 610.9,239.2 611.6,239.3 612.4,240.0 613.2,239.6 613.9,240.3 614.7,240.0 615.5,239.7 616.3,240.5 617.0,239.7 617.8,239.6 618.6,240.6 619.3,240.8 620.1,239.9 620.9,239.9 621.7,239.7 622.4,240.3 623.2,239.6 624.0,239.8 624.8,240.1 625.5,239.2 626.3,239.7 627.1,239.5 627.8,239.1 628.6,240.0 629.4,239.9 630.2,240.5 630.9,239.9 631.7,239.6 632.5,238.8 633.2,239.6 634.0,239.7 634.8,240.3 635.6,240.1 636.3,240.6 637.1,240.4 637.9,239.8 638.6,239.7 639.4,240.2 640.2,239.9 641.0,240.1 641.7,239.6 642.5,239.6 643.3,240.0 644.1,240.0 644.8,240.3 645.6,240.0 646.4,238.9 647.1,239.8 647.9,239.5 648.7,239.6 649.5,239.2 650.2,239.9 651.0,240.2 651.8,239.4 652.5,239.4 653.3,240.1 654.1,239.4 654.9,239.8 655.6,239.8 656.4,239.1 657.2,239.6 657.9,239.7 658.7,239.9 659.5,239.7 660.3,239.4 661.0,239.6 661.8,240.1 662.6,239.6 663.4,239.9 664.1,239.7 664.9,239.9 665.7,240.7 666.4,240.5 667.2,240.0 668.0,240.7 668.8,240.4 669.5,239.0 670.3,239.5 671.1,240.0 671.8,239.7 672.6,240.7 673.4,239.7 674.2,239.4 674.9,239.7 675.7,240.3" fill="none" stroke="#5fe6ea" stroke-width="0.72" stroke-linejoin="round" />
<polyline points="548.7,238.1 549.5,238.7 550.3,238.7 551.0,238.4 551.8,238.6 552.6,237.7 553.3,238.6 554.1,237.6 554.9,238.3 555.7,239.0 556.4,238.5 557.2,238.5 558.0,237.9 558.7,238.0 559.5,237.5 560.3,238.8 561.1,238.7 561.8,237.6 562.6,238.9 563.4,238.4 564.1,237.9 564.9,238.9 565.7,238.7 566.5,238.8 567.2,238.3 568.0,238.3 568.8,238.5 569.6,238.2 570.3,238.8 571.1,238.7 571.9,238.3 572.6,237.7 573.4,238.5 574.2,238.5 575.0,238.0 575.7,238.5 576.5,238.0 577.3,238.4 578.0,238.1 578.8,238.4 579.6,238.9 580.4,238.9 581.1,238.3 581.9,237.7 582.7,237.8 583.5,238.6 584.2,237.5 585.0,239.0 585.8,238.9 586.5,238.1 587.3,239.1 588.1,238.1 588.9,238.4 589.6,238.3 590.4,239.0 591.2,238.4 591.9,238.1 592.7,238.5" fill="none" stroke="#e8a044" stroke-width="0.72" stroke-linejoin="round" />
<polyline points="548.7,238.4 549.5,238.8 550.3,238.6 551.0,238.9 551.8,239.3 552.6,238.8 553.3,238.6 554.1,239.1 554.9,239.6 555.7,239.4 556.4,238.2 557.2,238.9 558.0,239.1 558.7,238.3 559.5,238.8 560.3,239.4 561.1,239.0 561.8,239.1 562.6,238.9 563.4,239.1 564.1,238.8 564.9,238.6 565.7,239.0 566.5,238.9 567.2,238.8 568.0,238.4 568.8,239.1 569.6,238.5 570.3,238.3 571.1,238.9 571.9,239.2 572.6,238.9 573.4,239.5 574.2,239.0 575.0,239.3 575.7,238.8 576.5,238.9 577.3,238.6 578.0,238.7 578.8,238.6 579.6,238.8 580.4,238.7 581.1,239.2 581.9,238.5 582.7,238.3 583.5,238.3 584.2,239.3 585.0,238.6 585.8,239.4 586.5,238.5 587.3,238.9 588.1,239.0 588.9,239.1 589.6,238.9 590.4,238.8 591.2,239.2 591.9,238.8 592.7,238.7" fill="none" stroke="#3cc43c" stroke-width="0.72" stroke-linejoin="round" />
<polyline points="548.7,238.7 549.5,238.9 550.3,238.9 551.0,237.9 551.8,238.5 552.6,238.8 553.3,239.5 554.1,238.6 554.9,238.7 555.7,240.0 556.4,239.0 557.2,238.7 558.0,238.9 558.7,238.9 559.5,239.0 560.3,238.3 561.1,238.8 561.8,239.0 562.6,239.0 563.4,238.0 564.1,239.3 564.9,239.1 565.7,238.8 566.5,238.8 567.2,238.8 568.0,238.3 568.8,238.4 569.6,238.7 570.3,238.9 571.1,238.9 571.9,239.0 572.6,238.5 573.4,239.4 574.2,239.3 575.0,239.1 575.7,239.3 576.5,239.2 577.3,238.4 578.0,239.8 578.8,238.7 579.6,239.4 580.4,239.0 581.1,239.1 581.9,239.3 582.7,239.5 583.5,238.9 584.2,240.1 585.0,239.8 585.8,239.1 586.5,238.4 587.3,238.2 588.1,239.0 588.9,239.2 589.6,239.0 590.4,238.7 591.2,238.5 591.9,239.3 592.7,238.7" fill="none" stroke="#ee4a9c" stroke-width="0.72" stroke-linejoin="round" />
<polyline points="548.7,239.2 549.5,238.7 550.3,239.3 551.0,239.2 551.8,239.5 552.6,239.7 553.3,239.1 554.1,238.9 554.9,238.7 555.7,239.0 556.4,239.4 557.2,239.5 558.0,239.6 558.7,239.5 559.5,239.0 560.3,239.1 561.1,240.1 561.8,239.2 562.6,239.3 563.4,239.6 564.1,239.2 564.9,238.9 565.7,239.6 566.5,239.7 567.2,239.3 568.0,239.0 568.8,239.3 569.6,238.5 570.3,239.1 571.1,239.6 571.9,238.8 572.6,239.4 573.4,238.9 574.2,239.1 575.0,238.7 575.7,239.6 576.5,238.9 577.3,239.0 578.0,239.5 578.8,238.9 579.6,238.2 580.4,239.0 581.1,239.5 581.9,239.2 582.7,238.6 583.5,239.1 584.2,238.6 585.0,239.4 585.8,238.6 586.5,239.8 587.3,239.2 588.1,239.3 588.9,239.4 589.6,238.7 590.4,239.4 591.2,239.0 591.9,238.4 592.7,238.8" fill="none" stroke="#3434dc" stroke-width="0.72" stroke-linejoin="round" />
<polyline points="548.7,239.2 549.5,239.3 550.3,239.9 551.0,238.9 551.8,238.7 552.6,238.6 553.3,238.9 554.1,238.1 554.9,238.7 555.7,240.0 556.4,239.4 557.2,238.7 558.0,239.2 558.7,238.7 559.5,238.0 560.3,239.3 561.1,238.1 561.8,239.1 562.6,239.6 563.4,239.0 564.1,238.7 564.9,239.3 565.7,238.4 566.5,239.4 567.2,239.1 568.0,238.6 568.8,239.1 569.6,239.3 570.3,239.0 571.1,238.8 571.9,238.3 572.6,238.5 573.4,238.3 574.2,239.0 575.0,239.7 575.7,239.0 576.5,239.2 577.3,239.4 578.0,239.2 578.8,239.1 579.6,239.0 580.4,238.7 581.1,239.4 581.9,238.6 582.7,239.0 583.5,238.7 584.2,238.5 585.0,239.5 585.8,238.4 586.5,239.3 587.3,238.9 588.1,238.6 588.9,238.7 589.6,239.7 590.4,239.0 591.2,238.6 591.9,239.1 592.7,239.1" fill="none" stroke="#ee4cee" stroke-width="0.72" stroke-linejoin="round" />
<polyline points="548.7,239.3 549.5,238.6 550.3,239.5 551.0,239.7 551.8,239.7 552.6,239.5 553.3,239.4 554.1,239.1 554.9,239.3 555.7,240.0 556.4,239.9 557.2,239.0 558.0,239.0 558.7,239.8 559.5,238.9 560.3,240.3 561.1,238.3 561.8,239.0 562.6,240.0 563.4,239.1 564.1,239.3 564.9,239.5 565.7,239.4 566.5,239.4 567.2,239.3 568.0,239.7 568.8,239.5 569.6,239.1 570.3,239.1 571.1,239.8 571.9,239.5 572.6,238.6 573.4,239.0 574.2,238.6 575.0,239.8 575.7,239.7 576.5,240.2 577.3,240.1 578.0,239.4 578.8,239.7 579.6,239.7 580.4,239.6 581.1,239.4 581.9,238.9 582.7,239.1 583.5,240.0 584.2,238.7 585.0,239.4 585.8,239.7 586.5,239.3 587.3,239.5 588.1,239.9 588.9,238.6 589.6,239.5 590.4,239.5 591.2,239.1 591.9,238.6 592.7,239.1" fill="none" stroke="#5fe6ea" stroke-width="0.72" stroke-linejoin="round" />
<line x1="540.60" y1="206.90" x2="540.60" y2="243.40" stroke="#222" stroke-width="0.8" />
<line x1="540.20" y1="243.40" x2="680.00" y2="243.40" stroke="#222" stroke-width="0.8" />
<line x1="538.60" y1="238.90" x2="540.60" y2="238.90" stroke="#222" stroke-width="0.7" />
<text x="537.2" y="241.6" text-anchor="end" font-size="7.45" >0</text>
<line x1="538.60" y1="228.58" x2="540.60" y2="228.58" stroke="#222" stroke-width="0.7" />
<text x="537.2" y="231.3" text-anchor="end" font-size="7.45" >40</text>
<line x1="538.60" y1="218.26" x2="540.60" y2="218.26" stroke="#222" stroke-width="0.7" />
<text x="537.2" y="221.0" text-anchor="end" font-size="7.45" >80</text>
<line x1="538.60" y1="207.94" x2="540.60" y2="207.94" stroke="#222" stroke-width="0.7" />
<text x="537.2" y="210.6" text-anchor="end" font-size="7.45" >120</text>
<line x1="539.30" y1="233.74" x2="540.60" y2="233.74" stroke="#222" stroke-width="0.6" />
<line x1="539.30" y1="223.42" x2="540.60" y2="223.42" stroke="#222" stroke-width="0.6" />
<line x1="539.30" y1="213.10" x2="540.60" y2="213.10" stroke="#222" stroke-width="0.6" />
<line x1="544.85" y1="243.40" x2="544.85" y2="245.10" stroke="#222" stroke-width="0.7" />
<line x1="554.50" y1="243.40" x2="554.50" y2="245.10" stroke="#222" stroke-width="0.7" />
<line x1="564.15" y1="243.40" x2="564.15" y2="245.10" stroke="#222" stroke-width="0.7" />
<line x1="573.80" y1="243.40" x2="573.80" y2="245.10" stroke="#222" stroke-width="0.7" />
<line x1="583.45" y1="243.40" x2="583.45" y2="245.10" stroke="#222" stroke-width="0.7" />
<line x1="593.10" y1="243.40" x2="593.10" y2="245.10" stroke="#222" stroke-width="0.7" />
<line x1="602.75" y1="243.40" x2="602.75" y2="245.10" stroke="#222" stroke-width="0.7" />
<line x1="612.40" y1="243.40" x2="612.40" y2="245.10" stroke="#222" stroke-width="0.7" />
<line x1="622.05" y1="243.40" x2="622.05" y2="245.10" stroke="#222" stroke-width="0.7" />
<line x1="631.70" y1="243.40" x2="631.70" y2="245.10" stroke="#222" stroke-width="0.7" />
<line x1="641.35" y1="243.40" x2="641.35" y2="245.10" stroke="#222" stroke-width="0.7" />
<line x1="651.00" y1="243.40" x2="651.00" y2="245.10" stroke="#222" stroke-width="0.7" />
<line x1="660.65" y1="243.40" x2="660.65" y2="245.10" stroke="#222" stroke-width="0.7" />
<line x1="670.30" y1="243.40" x2="670.30" y2="245.10" stroke="#222" stroke-width="0.7" />
<text x="554.5" y="251.6" text-anchor="middle" font-size="7.45" >-200</text>
<text x="573.8" y="251.6" text-anchor="middle" font-size="7.45" >-100</text>
<text x="593.1" y="251.6" text-anchor="middle" font-size="7.45" >0</text>
<text x="612.4" y="251.6" text-anchor="middle" font-size="7.45" >100</text>
<text x="631.7" y="251.6" text-anchor="middle" font-size="7.45" >200</text>
<text x="651.0" y="251.6" text-anchor="middle" font-size="7.45" >300</text>
<text x="670.3" y="251.6" text-anchor="middle" font-size="7.45" >400</text>
<text x="610.9" y="201.2" text-anchor="middle" font-size="7.45" >+EBOV-13C6 IgG</text>
<line x1="540.60" y1="310.60" x2="681.00" y2="310.60" stroke="#d4d4d4" stroke-width="0.7" />
<line x1="587.30" y1="278.00" x2="587.30" y2="314.00" stroke="#b0b0b0" stroke-width="0.6" />
<polyline points="587.3,310.4 587.3,310.0 588.1,309.6 589.0,310.0 589.8,309.8 590.7,310.4 591.5,310.2 592.4,311.1 593.2,310.6 594.1,310.8 594.9,310.2 595.8,309.4 596.6,311.3 597.5,310.9 598.3,310.6 599.2,310.2 600.0,309.5 600.9,310.6 601.8,310.6 602.6,309.5 603.4,309.9 604.3,309.9 605.1,309.7 606.0,310.5 606.8,310.0 607.7,310.5 608.5,310.5 609.4,310.0 610.2,309.9 611.1,310.8 611.9,310.5 612.8,309.8 613.6,310.0 614.5,309.7 615.3,310.3 616.2,310.5 617.0,309.7 617.9,309.8 618.8,311.6 619.6,309.6 620.4,310.5 621.3,309.7 622.1,309.2 623.0,310.2 623.8,310.6 624.7,309.9 625.5,310.0 626.4,309.7 627.2,310.8 628.1,309.9 628.9,309.6 629.8,309.7 630.6,309.7 631.5,309.4 632.3,310.5 633.2,309.4 634.0,309.9 634.9,310.5 635.8,310.2 636.6,309.9 637.4,309.8 638.3,309.3 639.1,309.9 640.0,310.3 640.8,308.8 641.7,310.2 642.5,310.4 643.4,309.5 644.2,310.2 645.1,310.4 645.9,310.5 646.8,309.3 647.6,310.5 648.5,309.9 649.3,310.2 650.2,310.1 651.0,310.4 651.9,309.9 652.8,309.6 653.6,309.4 654.4,310.1 655.3,310.6 656.1,310.7 657.0,309.9 657.8,311.2 658.7,309.2 659.5,309.9 660.4,309.9 661.2,310.7 662.1,310.3 662.9,310.3 663.8,309.5 664.6,310.1 665.5,309.6 666.3,309.6 667.2,310.9 668.0,310.0 668.9,309.2 669.8,310.2 670.6,309.8 671.4,309.9 672.3,310.5 673.1,308.7 674.0,309.9 674.8,309.5 675.7,310.1 676.5,309.1 677.4,309.2 678.2,309.2" fill="none" stroke="#e8a044" stroke-width="0.72" stroke-linejoin="round" />
<polyline points="587.3,310.6 587.3,310.4 588.1,310.1 589.0,310.6 589.8,310.7 590.7,310.4 591.5,311.3 592.4,312.2 593.2,310.4 594.1,310.8 594.9,311.2 595.8,311.0 596.6,311.4 597.5,311.3 598.3,310.8 599.2,310.8 600.0,310.5 600.9,311.0 601.8,310.6 602.6,310.6 603.4,311.3 604.3,311.8 605.1,311.3 606.0,311.1 606.8,311.2 607.7,309.8 608.5,311.3 609.4,310.7 610.2,311.4 611.1,310.6 611.9,311.7 612.8,310.5 613.6,310.9 614.5,311.2 615.3,311.6 616.2,310.1 617.0,311.3 617.9,310.3 618.8,312.3 619.6,311.7 620.4,310.1 621.3,310.1 622.1,311.1 623.0,310.5 623.8,310.8 624.7,311.3 625.5,311.0 626.4,311.7 627.2,311.8 628.1,311.1 628.9,310.7 629.8,311.0 630.6,311.8 631.5,310.7 632.3,311.1 633.2,310.8 634.0,311.3 634.9,311.3 635.8,310.6 636.6,310.5 637.4,311.8 638.3,311.8 639.1,310.7 640.0,311.0 640.8,311.2 641.7,311.7 642.5,310.7 643.4,311.1 644.2,311.1 645.1,311.0 645.9,311.5 646.8,311.0 647.6,311.2 648.5,310.9 649.3,311.1 650.2,312.0 651.0,311.7 651.9,311.4 652.8,310.7 653.6,311.7 654.4,310.7 655.3,310.8 656.1,310.9 657.0,310.1 657.8,311.3 658.7,311.2 659.5,310.7 660.4,311.1 661.2,310.8 662.1,311.4 662.9,310.6 663.8,311.2 664.6,312.4 665.5,310.8 666.3,311.5 667.2,311.9 668.0,311.6 668.9,311.6 669.8,310.8 670.6,311.3 671.4,311.5 672.3,311.5 673.1,311.9 674.0,311.8 674.8,311.7 675.7,311.6 676.5,312.1 677.4,311.7 678.2,311.0" fill="none" stroke="#5fe6ea" stroke-width="0.72" stroke-linejoin="round" />
<polyline points="587.3,310.5 587.3,310.6 588.1,310.4 589.0,310.7 589.8,311.2 590.7,310.1 591.5,309.4 592.4,310.3 593.2,310.2 594.1,309.3 594.9,311.2 595.8,310.3 596.6,310.8 597.5,310.7 598.3,311.5 599.2,310.6 600.0,310.4 600.9,311.4 601.8,310.7 602.6,310.9 603.4,311.1 604.3,310.3 605.1,309.7 606.0,310.4 606.8,310.1 607.7,310.2 608.5,310.6 609.4,310.3 610.2,309.9 611.1,310.8 611.9,310.7 612.8,311.3 613.6,311.6 614.5,311.0 615.3,310.1 616.2,310.4 617.0,310.5 617.9,309.9 618.8,311.5 619.6,309.9 620.4,310.6 621.3,310.2 622.1,309.9 623.0,311.0 623.8,311.1 624.7,310.4 625.5,310.6 626.4,310.9 627.2,310.7 628.1,311.0 628.9,310.5 629.8,310.8 630.6,309.7 631.5,311.1 632.3,310.3 633.2,310.6 634.0,309.8 634.9,311.1 635.8,310.8 636.6,309.7 637.4,311.0 638.3,310.8 639.1,310.8 640.0,311.1 640.8,310.0 641.7,309.8 642.5,310.7 643.4,311.0 644.2,311.3 645.1,310.2 645.9,310.9 646.8,310.3 647.6,311.9 648.5,310.8 649.3,310.3 650.2,310.4 651.0,312.1 651.9,310.4 652.8,310.5 653.6,310.6 654.4,310.8 655.3,310.8 656.1,310.5 657.0,310.3 657.8,312.3 658.7,310.6 659.5,310.1 660.4,310.7 661.2,310.0 662.1,311.1 662.9,309.6 663.8,310.1 664.6,310.8 665.5,309.2 666.3,309.8 667.2,309.8 668.0,311.2 668.9,310.7 669.8,310.4 670.6,310.0 671.4,310.6 672.3,311.3 673.1,310.0 674.0,310.7 674.8,310.4 675.7,310.8 676.5,310.7 677.4,311.3 678.2,310.2" fill="none" stroke="#3434dc" stroke-width="0.72" stroke-linejoin="round" />
<polyline points="587.3,310.2 587.3,310.9 588.1,309.8 589.0,310.0 589.8,309.5 590.7,309.5 591.5,310.6 592.4,310.0 593.2,309.9 594.1,309.9 594.9,310.5 595.8,309.9 596.6,309.4 597.5,309.3 598.3,309.1 599.2,309.5 600.0,311.2 600.9,310.0 601.8,310.2 602.6,311.4 603.4,309.1 604.3,309.4 605.1,309.9 606.0,309.7 606.8,309.6 607.7,310.0 608.5,309.1 609.4,308.9 610.2,309.4 611.1,310.1 611.9,309.7 612.8,309.3 613.6,309.4 614.5,310.2 615.3,309.3 616.2,309.4 617.0,309.5 617.9,310.0 618.8,309.8 619.6,310.8 620.4,309.8 621.3,310.0 622.1,309.9 623.0,309.9 623.8,309.9 624.7,309.7 625.5,309.6 626.4,310.0 627.2,309.8 628.1,309.7 628.9,309.4 629.8,309.4 630.6,309.8 631.5,310.1 632.3,310.5 633.2,310.3 634.0,309.4 634.9,310.1 635.8,308.8 636.6,309.7 637.4,309.8 638.3,309.7 639.1,309.9 640.0,309.9 640.8,309.5 641.7,310.3 642.5,309.5 643.4,309.6 644.2,310.0 645.1,309.0 645.9,309.4 646.8,309.0 647.6,309.9 648.5,310.2 649.3,310.1 650.2,310.3 651.0,310.5 651.9,308.7 652.8,309.7 653.6,309.4 654.4,309.8 655.3,309.6 656.1,308.6 657.0,310.4 657.8,310.0 658.7,309.4 659.5,309.9 660.4,309.1 661.2,308.8 662.1,309.0 662.9,309.0 663.8,309.5 664.6,308.9 665.5,309.8 666.3,310.0 667.2,309.5 668.0,309.5 668.9,308.7 669.8,309.9 670.6,308.8 671.4,309.8 672.3,310.0 673.1,310.2 674.0,309.4 674.8,310.1 675.7,309.2 676.5,309.3 677.4,309.5 678.2,310.3" fill="none" stroke="#ee4a9c" stroke-width="0.72" stroke-linejoin="round" />
<polyline points="587.3,309.9 587.3,309.6 588.1,310.7 589.0,309.4 589.8,309.8 590.7,310.0 591.5,309.6 592.4,309.4 593.2,309.7 594.1,310.1 594.9,309.3 595.8,310.0 596.6,309.5 597.5,309.2 598.3,309.0 599.2,308.8 600.0,309.1 600.9,309.6 601.8,309.7 602.6,309.5 603.4,309.3 604.3,308.0 605.1,309.2 606.0,310.0 606.8,308.8 607.7,310.4 608.5,309.0 609.4,310.2 610.2,310.1 611.1,309.8 611.9,309.7 612.8,310.2 613.6,309.2 614.5,309.5 615.3,308.8 616.2,310.0 617.0,310.4 617.9,309.1 618.8,309.6 619.6,308.9 620.4,310.6 621.3,310.1 622.1,309.3 623.0,308.4 623.8,310.0 624.7,310.4 625.5,309.6 626.4,308.6 627.2,308.5 628.1,310.0 628.9,309.6 629.8,310.3 630.6,309.7 631.5,309.8 632.3,309.1 633.2,308.7 634.0,308.0 634.9,309.4 635.8,308.8 636.6,309.1 637.4,309.2 638.3,308.2 639.1,308.8 640.0,308.4 640.8,309.0 641.7,308.7 642.5,308.9 643.4,309.2 644.2,309.5 645.1,309.3 645.9,309.1 646.8,309.3 647.6,309.3 648.5,309.5 649.3,308.6 650.2,309.2 651.0,309.1 651.9,309.2 652.8,308.4 653.6,309.3 654.4,308.3 655.3,309.5 656.1,308.2 657.0,308.7 657.8,309.2 658.7,308.7 659.5,308.4 660.4,309.5 661.2,309.1 662.1,308.8 662.9,309.0 663.8,309.1 664.6,308.9 665.5,308.7 666.3,308.5 667.2,308.1 668.0,309.0 668.9,307.3 669.8,309.0 670.6,307.9 671.4,308.9 672.3,309.6 673.1,309.0 674.0,309.0 674.8,308.2 675.7,309.8 676.5,309.1 677.4,308.8 678.2,308.4" fill="none" stroke="#ee4cee" stroke-width="0.72" stroke-linejoin="round" />
<polyline points="587.3,310.7 587.3,310.4 588.1,310.9 589.0,310.9 589.8,310.1 590.7,309.8 591.5,310.4 592.4,310.5 593.2,311.0 594.1,309.4 594.9,310.3 595.8,310.2 596.6,311.3 597.5,310.1 598.3,309.1 599.2,310.4 600.0,310.4 600.9,309.5 601.8,310.3 602.6,309.8 603.4,309.2 604.3,310.8 605.1,310.6 606.0,309.7 606.8,310.0 607.7,310.0 608.5,310.1 609.4,309.9 610.2,309.7 611.1,310.1 611.9,310.0 612.8,309.7 613.6,310.4 614.5,309.5 615.3,310.9 616.2,309.4 617.0,309.7 617.9,310.3 618.8,308.9 619.6,310.2 620.4,308.5 621.3,309.9 622.1,308.8 623.0,309.5 623.8,308.6 624.7,309.5 625.5,308.8 626.4,309.5 627.2,310.3 628.1,309.0 628.9,309.0 629.8,309.0 630.6,308.3 631.5,309.5 632.3,309.8 633.2,308.9 634.0,309.4 634.9,309.0 635.8,309.0 636.6,309.4 637.4,308.3 638.3,308.9 639.1,307.9 640.0,308.7 640.8,308.2 641.7,308.9 642.5,309.0 643.4,308.9 644.2,309.1 645.1,308.4 645.9,308.5 646.8,309.1 647.6,309.3 648.5,308.9 649.3,309.4 650.2,308.9 651.0,309.2 651.9,308.0 652.8,308.9 653.6,308.6 654.4,308.3 655.3,308.2 656.1,308.0 657.0,307.7 657.8,307.8 658.7,308.3 659.5,307.4 660.4,307.8 661.2,308.4 662.1,307.2 662.9,308.5 663.8,307.6 664.6,307.2 665.5,307.8 666.3,307.6 667.2,307.7 668.0,307.4 668.9,307.6 669.8,307.7 670.6,307.3 671.4,308.6 672.3,307.4 673.1,307.7 674.0,306.5 674.8,307.3 675.7,307.8 676.5,307.1 677.4,307.6 678.2,308.0" fill="none" stroke="#3cc43c" stroke-width="0.72" stroke-linejoin="round" />
<polyline points="540.1,310.3 541.0,309.9 541.8,309.6 542.7,309.6 543.5,310.1 544.4,310.3 545.2,310.1 546.1,309.6 546.9,310.3 547.8,309.6 548.6,310.6 549.5,310.2 550.3,309.8 551.2,309.8 552.0,310.1 552.9,310.5 553.7,311.1 554.6,310.4 555.4,310.6 556.3,310.4 557.1,309.4 558.0,310.6 558.8,309.8 559.7,310.2 560.5,310.8 561.4,310.1 562.2,309.8 563.1,310.8 563.9,310.8 564.8,310.4 565.6,309.8 566.5,310.5 567.3,310.0 568.2,310.0 569.0,310.2 569.9,310.0 570.7,309.5 571.6,310.3 572.4,310.0 573.3,310.8 574.1,310.6 575.0,310.2 575.8,309.8 576.7,310.5 577.5,310.9 578.4,309.7 579.2,309.0 580.1,311.5 580.9,310.7 581.8,310.1 582.6,309.9 583.5,310.7 584.3,310.0 585.2,309.6 586.0,310.3 586.9,309.8" fill="none" stroke="#e8a044" stroke-width="0.72" stroke-linejoin="round" />
<polyline points="540.1,310.7 541.0,311.3 541.8,311.1 542.7,311.1 543.5,310.1 544.4,310.2 545.2,310.7 546.1,311.6 546.9,311.1 547.8,311.0 548.6,311.8 549.5,310.8 550.3,310.7 551.2,311.5 552.0,311.0 552.9,311.0 553.7,309.8 554.6,310.5 555.4,310.4 556.3,310.8 557.1,311.5 558.0,310.3 558.8,311.2 559.7,311.8 560.5,310.4 561.4,311.0 562.2,310.8 563.1,310.5 563.9,310.9 564.8,310.6 565.6,310.1 566.5,311.0 567.3,311.0 568.2,310.8 569.0,310.5 569.9,311.0 570.7,310.8 571.6,311.2 572.4,310.8 573.3,310.5 574.1,311.2 575.0,310.9 575.8,311.6 576.7,311.2 577.5,310.8 578.4,310.5 579.2,311.3 580.1,310.9 580.9,311.3 581.8,310.6 582.6,310.7 583.5,310.6 584.3,310.9 585.2,311.5 586.0,311.1 586.9,311.5" fill="none" stroke="#5fe6ea" stroke-width="0.72" stroke-linejoin="round" />
<polyline points="540.1,310.9 541.0,310.6 541.8,310.0 542.7,310.9 543.5,311.0 544.4,310.5 545.2,311.7 546.1,309.6 546.9,311.4 547.8,310.1 548.6,310.1 549.5,310.1 550.3,310.7 551.2,310.2 552.0,310.8 552.9,310.1 553.7,310.9 554.6,311.0 555.4,310.4 556.3,310.8 557.1,310.3 558.0,311.0 558.8,310.5 559.7,311.1 560.5,310.7 561.4,309.5 562.2,311.2 563.1,311.2 563.9,311.4 564.8,310.7 565.6,309.8 566.5,310.8 567.3,310.1 568.2,310.7 569.0,310.9 569.9,309.6 570.7,310.0 571.6,311.6 572.4,311.1 573.3,310.4 574.1,310.3 575.0,310.7 575.8,310.4 576.7,310.3 577.5,310.8 578.4,310.1 579.2,311.0 580.1,310.2 580.9,310.1 581.8,310.5 582.6,310.8 583.5,310.6 584.3,311.7 585.2,310.5 586.0,311.3 586.9,311.6" fill="none" stroke="#3434dc" stroke-width="0.72" stroke-linejoin="round" />
<polyline points="540.1,309.6 541.0,310.5 541.8,309.8 542.7,310.0 543.5,310.9 544.4,310.5 545.2,310.1 546.1,309.8 546.9,310.0 547.8,310.6 548.6,310.3 549.5,309.9 550.3,310.6 551.2,310.2 552.0,310.3 552.9,311.1 553.7,309.1 554.6,309.5 555.4,310.2 556.3,309.5 557.1,310.5 558.0,309.2 558.8,310.2 559.7,309.9 560.5,310.3 561.4,309.9 562.2,309.8 563.1,310.0 563.9,310.4 564.8,309.6 565.6,309.7 566.5,310.0 567.3,309.5 568.2,310.4 569.0,309.3 569.9,310.1 570.7,309.2 571.6,310.2 572.4,310.1 573.3,309.9 574.1,309.4 575.0,309.2 575.8,310.2 576.7,310.4 577.5,309.6 578.4,309.4 579.2,309.6 580.1,310.2 580.9,309.3 581.8,310.0 582.6,309.9 583.5,309.7 584.3,310.3 585.2,311.2 586.0,309.9 586.9,309.6" fill="none" stroke="#ee4a9c" stroke-width="0.72" stroke-linejoin="round" />
<polyline points="540.1,309.6 541.0,309.5 541.8,309.7 542.7,309.3 543.5,309.7 544.4,309.0 545.2,309.8 546.1,309.4 546.9,310.1 547.8,309.6 548.6,309.6 549.5,309.7 550.3,309.0 551.2,309.8 552.0,309.2 552.9,309.6 553.7,309.2 554.6,310.3 555.4,310.0 556.3,309.3 557.1,310.2 558.0,309.6 558.8,309.5 559.7,309.7 560.5,309.6 561.4,309.5 562.2,309.9 563.1,309.6 563.9,310.1 564.8,310.0 565.6,310.6 566.5,309.8 567.3,310.7 568.2,309.8 569.0,309.7 569.9,310.4 570.7,309.8 571.6,309.6 572.4,310.0 573.3,310.3 574.1,309.8 575.0,309.6 575.8,309.3 576.7,308.8 577.5,310.8 578.4,309.6 579.2,309.6 580.1,310.1 580.9,309.6 581.8,308.7 582.6,309.7 583.5,309.1 584.3,309.2 585.2,310.0 586.0,311.0 586.9,309.2" fill="none" stroke="#ee4cee" stroke-width="0.72" stroke-linejoin="round" />
<polyline points="540.1,310.0 541.0,311.7 541.8,310.9 542.7,311.2 543.5,310.7 544.4,310.8 545.2,310.2 546.1,311.1 546.9,309.8 547.8,311.7 548.6,310.7 549.5,309.4 550.3,310.9 551.2,310.5 552.0,311.0 552.9,309.1 553.7,310.3 554.6,311.0 555.4,311.8 556.3,310.7 557.1,310.4 558.0,311.9 558.8,311.1 559.7,310.5 560.5,312.0 561.4,310.9 562.2,311.6 563.1,311.5 563.9,310.6 564.8,310.2 565.6,310.2 566.5,311.1 567.3,310.5 568.2,311.7 569.0,311.6 569.9,310.5 570.7,311.0 571.6,311.3 572.4,311.8 573.3,310.9 574.1,309.7 575.0,311.9 575.8,311.3 576.7,310.2 577.5,311.8 578.4,311.1 579.2,310.8 580.1,310.2 580.9,310.8 581.8,309.9 582.6,310.8 583.5,310.9 584.3,310.6 585.2,310.6 586.0,311.6 586.9,311.3" fill="none" stroke="#3cc43c" stroke-width="0.72" stroke-linejoin="round" />
<line x1="540.60" y1="278.00" x2="540.60" y2="314.00" stroke="#222" stroke-width="0.8" />
<line x1="540.20" y1="314.00" x2="681.00" y2="314.00" stroke="#222" stroke-width="0.8" />
<line x1="538.60" y1="310.40" x2="540.60" y2="310.40" stroke="#222" stroke-width="0.7" />
<text x="537.2" y="315.0" text-anchor="end" font-size="7.45" >0</text>
<line x1="538.60" y1="294.20" x2="540.60" y2="294.20" stroke="#222" stroke-width="0.7" />
<text x="537.2" y="297.6" text-anchor="end" font-size="7.45" >40</text>
<line x1="538.60" y1="278.00" x2="540.60" y2="278.00" stroke="#222" stroke-width="0.7" />
<text x="537.2" y="280.7" text-anchor="end" font-size="7.45" >80</text>
<line x1="539.30" y1="302.30" x2="540.60" y2="302.30" stroke="#222" stroke-width="0.6" />
<line x1="539.30" y1="286.10" x2="540.60" y2="286.10" stroke="#222" stroke-width="0.6" />
<line x1="544.80" y1="314.00" x2="544.80" y2="315.70" stroke="#222" stroke-width="0.7" />
<line x1="555.42" y1="314.00" x2="555.42" y2="315.70" stroke="#222" stroke-width="0.7" />
<line x1="566.05" y1="314.00" x2="566.05" y2="315.70" stroke="#222" stroke-width="0.7" />
<line x1="576.67" y1="314.00" x2="576.67" y2="315.70" stroke="#222" stroke-width="0.7" />
<line x1="587.30" y1="314.00" x2="587.30" y2="315.70" stroke="#222" stroke-width="0.7" />
<line x1="597.92" y1="314.00" x2="597.92" y2="315.70" stroke="#222" stroke-width="0.7" />
<line x1="608.55" y1="314.00" x2="608.55" y2="315.70" stroke="#222" stroke-width="0.7" />
<line x1="619.17" y1="314.00" x2="619.17" y2="315.70" stroke="#222" stroke-width="0.7" />
<line x1="629.80" y1="314.00" x2="629.80" y2="315.70" stroke="#222" stroke-width="0.7" />
<line x1="640.42" y1="314.00" x2="640.42" y2="315.70" stroke="#222" stroke-width="0.7" />
<line x1="651.05" y1="314.00" x2="651.05" y2="315.70" stroke="#222" stroke-width="0.7" />
<line x1="661.67" y1="314.00" x2="661.67" y2="315.70" stroke="#222" stroke-width="0.7" />
<line x1="672.30" y1="314.00" x2="672.30" y2="315.70" stroke="#222" stroke-width="0.7" />
<text x="544.8" y="321.9" text-anchor="middle" font-size="7.45" >-200</text>
<text x="566.0" y="321.9" text-anchor="middle" font-size="7.45" >-100</text>
<text x="587.3" y="321.9" text-anchor="middle" font-size="7.45" >0</text>
<text x="608.5" y="321.9" text-anchor="middle" font-size="7.45" >100</text>
<text x="629.8" y="321.9" text-anchor="middle" font-size="7.45" >200</text>
<text x="651.0" y="321.9" text-anchor="middle" font-size="7.45" >300</text>
<text x="672.3" y="321.9" text-anchor="middle" font-size="7.45" >400</text>
<text x="608.1" y="271.2" text-anchor="middle" font-size="7.45" >+EBOV-13C6 Fab</text>
<text x="571.6" y="290.3" text-anchor="middle" font-size="7.45" >nb</text>
<line x1="380.80" y1="404.70" x2="520.50" y2="404.70" stroke="#d4d4d4" stroke-width="0.7" />
<line x1="432.37" y1="370.30" x2="432.37" y2="408.30" stroke="#b0b0b0" stroke-width="0.6" />
<polyline points="385.3,404.6 386.1,404.5 386.9,404.7 387.7,404.6 388.4,404.6 389.2,404.5 390.0,404.6 390.8,404.5 391.6,404.5 392.4,404.6 393.2,404.6 394.0,404.7 394.7,404.5 395.5,404.4 396.3,404.7 397.1,404.7 397.9,404.5 398.7,404.6 399.5,404.5 400.3,404.5 401.1,404.5 401.8,404.4 402.6,404.6 403.4,404.8 404.2,404.6 405.0,404.6 405.8,404.6 406.6,404.5 407.4,404.6 408.1,404.4 408.9,404.6 409.7,404.5 410.5,404.6 411.3,404.3 412.1,404.7 412.9,404.7 413.7,404.6 414.4,404.5 415.2,404.5 416.0,404.6 416.8,404.7 417.6,404.8 418.4,404.6 419.2,404.6 420.0,404.3 420.8,404.5 421.5,404.5 422.3,404.4 423.1,404.6 423.9,404.7 424.7,404.6 425.5,404.4 426.3,404.4 427.1,404.6 427.8,404.7 428.6,404.4 429.4,404.4 430.2,404.7" fill="none" stroke="#e88060" stroke-width="0.84" stroke-linejoin="round" stroke-dasharray="1.6 3.2" stroke-dashoffset="0.0"/>
<polyline points="385.3,404.4 386.1,404.6 386.9,404.5 387.7,404.6 388.4,404.6 389.2,404.6 390.0,404.5 390.8,404.5 391.6,404.5 392.4,404.6 393.2,404.6 394.0,404.3 394.7,404.3 395.5,404.6 396.3,404.7 397.1,404.4 397.9,404.5 398.7,404.5 399.5,404.4 400.3,404.5 401.1,404.5 401.8,404.3 402.6,404.8 403.4,404.5 404.2,404.7 405.0,404.5 405.8,404.6 406.6,404.5 407.4,404.8 408.1,404.5 408.9,404.3 409.7,404.6 410.5,404.4 411.3,404.5 412.1,404.5 412.9,404.6 413.7,404.5 414.4,404.5 415.2,404.4 416.0,404.4 416.8,404.6 417.6,404.9 418.4,404.4 419.2,404.5 420.0,404.5 420.8,404.6 421.5,404.3 422.3,404.4 423.1,404.5 423.9,404.6 424.7,404.5 425.5,404.4 426.3,404.5 427.1,404.4 427.8,404.5 428.6,404.5 429.4,404.7 430.2,404.5" fill="none" stroke="#e8a044" stroke-width="0.84" stroke-linejoin="round" stroke-dasharray="1.6 3.2" stroke-dashoffset="1.6"/>
<polyline points="385.3,404.5 386.1,404.6 386.9,404.6 387.7,404.5 388.4,404.6 389.2,404.6 390.0,404.7 390.8,404.3 391.6,404.6 392.4,404.7 393.2,404.6 394.0,404.6 394.7,404.7 395.5,404.8 396.3,404.4 397.1,404.4 397.9,404.6 398.7,404.5 399.5,404.7 400.3,404.7 401.1,404.5 401.8,404.5 402.6,404.6 403.4,404.5 404.2,404.9 405.0,404.6 405.8,404.4 406.6,404.5 407.4,404.5 408.1,404.5 408.9,404.8 409.7,404.7 410.5,404.7 411.3,404.5 412.1,404.6 412.9,404.8 413.7,404.4 414.4,404.6 415.2,404.4 416.0,404.3 416.8,404.7 417.6,404.7 418.4,404.4 419.2,404.4 420.0,404.5 420.8,404.5 421.5,404.5 422.3,404.5 423.1,404.7 423.9,404.5 424.7,404.4 425.5,404.6 426.3,404.6 427.1,404.6 427.8,404.6 428.6,404.5 429.4,404.5 430.2,404.5" fill="none" stroke="#ee4a9c" stroke-width="0.84" stroke-linejoin="round" stroke-dasharray="1.6 3.2" stroke-dashoffset="3.2"/>
<polyline points="430.6,405.1 431.4,405.3 432.2,405.1 433.0,405.2 433.8,405.1 434.5,405.0 435.3,405.0 436.1,404.5 436.9,405.1 437.7,405.1 438.5,405.2 439.3,405.1 440.1,405.1 440.8,404.9 441.6,405.3 442.4,404.9 443.2,404.9 444.0,405.1 444.8,405.1 445.6,405.0 446.4,404.9 447.1,405.0 447.9,405.0 448.7,405.0 449.5,405.2 450.3,405.0 451.1,404.9 451.9,405.0 452.7,405.2 453.5,405.0 454.2,405.0 455.0,405.0 455.8,405.1 456.6,404.9 457.4,404.8 458.2,404.9 459.0,405.0 459.8,404.8 460.5,405.0 461.3,405.0 462.1,405.2 462.9,405.0 463.7,404.8 464.5,405.2 465.3,404.9 466.1,405.2 466.8,405.0 467.6,404.7 468.4,405.0 469.2,405.2 470.0,405.0 470.8,405.0 471.6,404.9 472.4,405.1 473.2,405.3 473.9,405.1 474.7,404.9 475.5,404.9 476.3,405.0 477.1,405.0 477.9,404.9 478.7,405.0 479.5,405.1 480.2,405.0 481.0,404.8 481.8,405.1 482.6,404.9 483.4,405.1 484.2,405.1 485.0,405.0 485.8,405.2 486.5,405.1 487.3,405.2 488.1,405.1 488.9,405.2 489.7,404.7 490.5,404.9 491.3,405.0 492.1,405.2 492.9,405.4 493.6,404.9 494.4,405.1 495.2,404.9 496.0,405.1 496.8,405.2 497.6,405.1 498.4,405.3 499.2,405.2 499.9,404.9 500.7,405.1 501.5,404.9 502.3,405.1 503.1,405.1 503.9,405.1 504.7,405.1 505.5,405.1 506.2,404.8 507.0,405.0 507.8,405.3 508.6,404.8 509.4,404.8 510.2,404.8 511.0,405.0 511.8,405.0 512.6,405.1 513.3,405.0 514.1,404.9 514.9,405.0" fill="none" stroke="#3434dc" stroke-width="0.96" stroke-linejoin="round" stroke-dasharray="1.6 4.8" stroke-dashoffset="0.0"/>
<polyline points="430.6,405.1 431.4,405.2 432.2,404.8 433.0,404.8 433.8,405.2 434.5,405.1 435.3,405.0 436.1,404.9 436.9,405.0 437.7,405.0 438.5,405.0 439.3,404.8 440.1,405.2 440.8,404.8 441.6,404.9 442.4,404.9 443.2,405.2 444.0,405.0 444.8,405.1 445.6,404.9 446.4,404.9 447.1,404.9 447.9,405.2 448.7,404.8 449.5,405.0 450.3,404.9 451.1,405.0 451.9,405.1 452.7,404.6 453.5,404.9 454.2,404.9 455.0,405.1 455.8,405.0 456.6,404.8 457.4,404.9 458.2,404.7 459.0,404.8 459.8,405.2 460.5,405.3 461.3,404.8 462.1,404.9 462.9,405.1 463.7,405.1 464.5,405.1 465.3,404.7 466.1,405.0 466.8,405.2 467.6,404.9 468.4,405.0 469.2,405.0 470.0,405.1 470.8,405.0 471.6,405.3 472.4,404.9 473.2,405.1 473.9,405.1 474.7,405.0 475.5,404.8 476.3,405.4 477.1,405.0 477.9,404.9 478.7,404.9 479.5,405.2 480.2,405.0 481.0,405.0 481.8,404.9 482.6,405.1 483.4,405.0 484.2,405.1 485.0,404.8 485.8,404.8 486.5,405.1 487.3,405.0 488.1,405.0 488.9,405.2 489.7,405.0 490.5,404.9 491.3,404.9 492.1,405.1 492.9,405.1 493.6,405.0 494.4,405.2 495.2,405.0 496.0,405.0 496.8,405.2 497.6,405.0 498.4,405.1 499.2,405.1 499.9,405.2 500.7,404.8 501.5,405.2 502.3,404.9 503.1,405.0 503.9,404.8 504.7,405.0 505.5,405.0 506.2,405.0 507.0,405.3 507.8,404.6 508.6,405.0 509.4,405.1 510.2,405.2 511.0,405.0 511.8,404.8 512.6,405.1 513.3,404.9 514.1,404.9 514.9,404.9" fill="none" stroke="#ee4cee" stroke-width="0.96" stroke-linejoin="round" stroke-dasharray="1.6 4.8" stroke-dashoffset="1.6"/>
<polyline points="430.6,405.1 431.4,405.3 432.2,405.0 433.0,404.9 433.8,405.1 434.5,405.1 435.3,404.7 436.1,405.2 436.9,405.1 437.7,405.1 438.5,405.3 439.3,405.1 440.1,405.1 440.8,404.8 441.6,405.3 442.4,405.2 443.2,405.0 444.0,405.2 444.8,405.3 445.6,405.1 446.4,405.2 447.1,405.2 447.9,405.0 448.7,404.9 449.5,405.1 450.3,405.1 451.1,404.9 451.9,405.0 452.7,404.9 453.5,405.1 454.2,404.9 455.0,404.8 455.8,405.2 456.6,404.6 457.4,405.1 458.2,405.1 459.0,405.0 459.8,404.9 460.5,405.2 461.3,405.0 462.1,405.1 462.9,404.8 463.7,405.3 464.5,404.9 465.3,405.1 466.1,405.1 466.8,405.0 467.6,405.0 468.4,405.0 469.2,405.0 470.0,404.8 470.8,405.1 471.6,404.8 472.4,405.4 473.2,404.7 473.9,404.8 474.7,404.8 475.5,405.0 476.3,405.0 477.1,405.2 477.9,404.8 478.7,405.2 479.5,405.1 480.2,405.0 481.0,405.0 481.8,405.0 482.6,405.2 483.4,405.1 484.2,404.9 485.0,404.8 485.8,404.9 486.5,404.9 487.3,405.1 488.1,405.1 488.9,405.1 489.7,405.0 490.5,404.9 491.3,405.1 492.1,404.7 492.9,405.2 493.6,404.9 494.4,405.0 495.2,405.0 496.0,405.1 496.8,404.8 497.6,405.1 498.4,404.9 499.2,405.0 499.9,404.9 500.7,404.9 501.5,404.8 502.3,405.1 503.1,405.1 503.9,404.8 504.7,404.8 505.5,405.0 506.2,405.1 507.0,405.0 507.8,404.8 508.6,405.1 509.4,404.8 510.2,405.0 511.0,405.1 511.8,405.1 512.6,405.3 513.3,405.0 514.1,405.2 514.9,405.1" fill="none" stroke="#9a2a9a" stroke-width="0.96" stroke-linejoin="round" stroke-dasharray="1.6 4.8" stroke-dashoffset="3.2"/>
<polyline points="430.6,405.2 431.4,405.0 432.2,404.9 433.0,405.0 433.8,405.0 434.5,404.9 435.3,404.8 436.1,404.9 436.9,404.8 437.7,405.0 438.5,405.0 439.3,405.1 440.1,404.9 440.8,405.1 441.6,404.9 442.4,405.1 443.2,405.1 444.0,404.8 444.8,405.0 445.6,404.9 446.4,405.1 447.1,405.3 447.9,404.8 448.7,405.0 449.5,405.1 450.3,404.9 451.1,405.2 451.9,405.1 452.7,404.8 453.5,405.1 454.2,404.8 455.0,405.1 455.8,405.0 456.6,405.0 457.4,405.1 458.2,404.9 459.0,404.8 459.8,405.0 460.5,404.9 461.3,404.9 462.1,404.8 462.9,405.2 463.7,404.9 464.5,404.9 465.3,405.1 466.1,405.0 466.8,405.1 467.6,404.8 468.4,405.2 469.2,404.9 470.0,404.8 470.8,404.9 471.6,405.1 472.4,405.1 473.2,405.3 473.9,405.2 474.7,404.8 475.5,405.1 476.3,405.3 477.1,405.0 477.9,405.2 478.7,404.9 479.5,405.2 480.2,404.9 481.0,405.0 481.8,405.2 482.6,405.1 483.4,405.1 484.2,405.1 485.0,404.8 485.8,405.2 486.5,405.0 487.3,405.1 488.1,404.9 488.9,405.2 489.7,405.2 490.5,404.9 491.3,404.8 492.1,405.2 492.9,405.1 493.6,405.1 494.4,405.1 495.2,404.9 496.0,405.0 496.8,405.2 497.6,405.0 498.4,404.8 499.2,405.1 499.9,405.1 500.7,405.1 501.5,405.0 502.3,405.1 503.1,404.9 503.9,405.1 504.7,405.2 505.5,404.9 506.2,405.5 507.0,405.2 507.8,405.0 508.6,405.0 509.4,405.1 510.2,405.1 511.0,404.9 511.8,404.5 512.6,405.1 513.3,405.0 514.1,405.1 514.9,404.9" fill="none" stroke="#5fe6ea" stroke-width="0.96" stroke-linejoin="round" stroke-dasharray="1.6 4.8" stroke-dashoffset="4.8"/>
<polyline points="432.2,405.1 432.6,405.1 433.0,405.1 433.4,405.1 433.8,405.1 434.1,405.1 434.5,405.1 434.9,405.1 435.3,405.1 435.7,405.1 436.1,405.1 436.5,405.1 436.9,405.1 437.3,405.1 437.7,405.1 438.1,405.1 438.5,405.1 438.9,405.1 439.3,405.1 439.7,405.1 440.1,405.1 440.5,405.1 440.8,405.1 441.2,405.1 441.6,405.1 442.0,405.1 442.4,405.1 442.8,405.1 443.2,405.1 443.6,405.1 444.0,405.1 444.4,405.1 447.3,405.1 450.3,405.1 453.3,405.1 456.2,405.1 459.2,405.1 462.1,405.1 465.1,405.1 468.0,405.1 471.0,405.1 473.9,405.1 476.9,405.1 479.9,405.1 482.8,405.1 485.8,405.1 488.7,405.1 491.7,405.1 494.6,405.1 497.6,405.1 500.5,405.1 503.5,405.1 506.4,405.1 509.4,405.1 512.4,405.1 514.9,405.1" fill="none" stroke="#555" stroke-width="0.60" stroke-linejoin="round" />
<line x1="380.80" y1="370.30" x2="380.80" y2="408.30" stroke="#222" stroke-width="0.8" />
<line x1="380.40" y1="408.30" x2="520.50" y2="408.30" stroke="#222" stroke-width="0.8" />
<line x1="378.80" y1="404.70" x2="380.80" y2="404.70" stroke="#222" stroke-width="0.7" />
<text x="375.4" y="407.3" text-anchor="end" font-size="7.45" >0</text>
<line x1="378.80" y1="389.05" x2="380.80" y2="389.05" stroke="#222" stroke-width="0.7" />
<text x="375.4" y="391.8" text-anchor="end" font-size="7.45" >200</text>
<line x1="378.80" y1="373.40" x2="380.80" y2="373.40" stroke="#222" stroke-width="0.7" />
<text x="375.4" y="375.8" text-anchor="end" font-size="7.45" >400</text>
<line x1="379.50" y1="396.88" x2="380.80" y2="396.88" stroke="#222" stroke-width="0.6" />
<line x1="379.50" y1="381.22" x2="380.80" y2="381.22" stroke="#222" stroke-width="0.6" />
<line x1="383.12" y1="408.30" x2="383.12" y2="410.00" stroke="#222" stroke-width="0.7" />
<line x1="392.97" y1="408.30" x2="392.97" y2="410.00" stroke="#222" stroke-width="0.7" />
<line x1="402.82" y1="408.30" x2="402.82" y2="410.00" stroke="#222" stroke-width="0.7" />
<line x1="412.67" y1="408.30" x2="412.67" y2="410.00" stroke="#222" stroke-width="0.7" />
<line x1="422.52" y1="408.30" x2="422.52" y2="410.00" stroke="#222" stroke-width="0.7" />
<line x1="432.37" y1="408.30" x2="432.37" y2="410.00" stroke="#222" stroke-width="0.7" />
<line x1="442.22" y1="408.30" x2="442.22" y2="410.00" stroke="#222" stroke-width="0.7" />
<line x1="452.07" y1="408.30" x2="452.07" y2="410.00" stroke="#222" stroke-width="0.7" />
<line x1="461.92" y1="408.30" x2="461.92" y2="410.00" stroke="#222" stroke-width="0.7" />
<line x1="471.77" y1="408.30" x2="471.77" y2="410.00" stroke="#222" stroke-width="0.7" />
<line x1="481.62" y1="408.30" x2="481.62" y2="410.00" stroke="#222" stroke-width="0.7" />
<line x1="491.47" y1="408.30" x2="491.47" y2="410.00" stroke="#222" stroke-width="0.7" />
<line x1="501.32" y1="408.30" x2="501.32" y2="410.00" stroke="#222" stroke-width="0.7" />
<line x1="511.17" y1="408.30" x2="511.17" y2="410.00" stroke="#222" stroke-width="0.7" />
<text x="391.2" y="415.9" text-anchor="middle" font-size="7.45" >-200</text>
<text x="410.9" y="415.9" text-anchor="middle" font-size="7.45" >-100</text>
<text x="430.6" y="415.9" text-anchor="middle" font-size="7.45" >0</text>
<text x="450.3" y="415.9" text-anchor="middle" font-size="7.45" >100</text>
<text x="470.0" y="415.9" text-anchor="middle" font-size="7.45" >200</text>
<text x="489.7" y="415.9" text-anchor="middle" font-size="7.45" >300</text>
<text x="509.4" y="415.9" text-anchor="middle" font-size="7.45" >400</text>
<text x="440.3" y="363.9" text-anchor="middle" font-size="7.45" >+ PGZL1 IgG</text>
<text transform="translate(351.0,389.4) rotate(-90)" text-anchor="middle" font-size="7.45">Modality C</text>
<text transform="translate(360.3,389.4) rotate(-90)" text-anchor="middle" font-size="7.45">Response (RU)</text>
<line x1="381.00" y1="475.40" x2="520.50" y2="475.40" stroke="#d4d4d4" stroke-width="0.7" />
<line x1="431.50" y1="443.40" x2="431.50" y2="479.70" stroke="#b0b0b0" stroke-width="0.6" />
<polyline points="431.5,475.8 431.5,475.6 432.3,475.3 433.1,475.9 433.8,475.9 434.6,475.7 435.4,475.2 436.2,476.0 436.9,475.3 437.7,475.5 438.5,476.8 439.3,476.2 440.0,476.2 440.8,475.8 441.6,475.5 442.4,475.9 443.1,475.9 443.9,475.3 444.7,475.8 445.5,475.3 446.2,476.3 447.0,475.5 447.8,476.2 448.6,476.7 449.3,476.3 450.1,476.2 450.9,476.0 451.7,475.8 452.5,475.8 453.2,475.9 454.0,476.3 454.8,475.5 455.6,475.7 456.3,476.1 457.1,476.3 457.9,476.1 458.7,476.2 459.4,476.3 460.2,476.1 461.0,476.3 461.8,475.9 462.5,476.4 463.3,476.0 464.1,476.1 464.9,476.1 465.6,476.0 466.4,476.5 467.2,475.4 468.0,476.4 468.7,476.0 469.5,476.2 470.3,476.4 471.1,475.7 471.9,475.9 472.6,476.4 473.4,476.1 474.2,476.1 475.0,475.8 475.7,476.0 476.5,476.4 477.3,476.4 478.1,476.7 478.8,476.3 479.6,476.1 480.4,476.5 481.2,476.1 481.9,476.3 482.7,476.5 483.5,476.8 484.3,476.0 485.0,475.6 485.8,476.2 486.6,476.8 487.4,476.7 488.1,476.4 488.9,476.2 489.7,476.0 490.5,477.2 491.3,475.9 492.0,476.4 492.8,476.4 493.6,476.4 494.4,476.6 495.1,476.6 495.9,476.2 496.7,477.1 497.5,476.6 498.2,476.4 499.0,477.1 499.8,476.6 500.6,476.1 501.3,476.5 502.1,476.4 502.9,476.4 503.7,476.5 504.4,476.5 505.2,476.9 506.0,476.7 506.8,476.0 507.5,477.0 508.3,476.7 509.1,477.1 509.9,476.9 510.7,476.9 511.4,477.1 512.2,476.6 513.0,477.0 513.8,476.6 514.5,476.1" fill="none" stroke="#9a2a9a" stroke-width="0.72" stroke-linejoin="round" />
<polyline points="431.5,476.5 431.5,476.1 432.3,476.7 433.1,476.1 433.8,476.0 434.6,476.0 435.4,475.7 436.2,476.1 436.9,476.7 437.7,475.6 438.5,476.4 439.3,476.2 440.0,476.1 440.8,476.5 441.6,476.1 442.4,475.7 443.1,476.7 443.9,476.8 444.7,476.3 445.5,476.3 446.2,476.6 447.0,477.0 447.8,476.0 448.6,476.1 449.3,476.7 450.1,476.1 450.9,476.3 451.7,476.2 452.5,476.7 453.2,476.4 454.0,476.2 454.8,476.9 455.6,476.7 456.3,476.0 457.1,475.7 457.9,476.1 458.7,476.4 459.4,476.7 460.2,476.5 461.0,476.5 461.8,476.3 462.5,476.5 463.3,475.6 464.1,476.0 464.9,477.1 465.6,476.8 466.4,476.4 467.2,476.1 468.0,476.3 468.7,477.4 469.5,477.0 470.3,476.1 471.1,476.3 471.9,475.7 472.6,476.3 473.4,476.4 474.2,476.1 475.0,476.7 475.7,476.7 476.5,476.9 477.3,476.5 478.1,476.4 478.8,476.3 479.6,476.1 480.4,476.4 481.2,476.2 481.9,476.7 482.7,476.9 483.5,476.4 484.3,476.3 485.0,476.2 485.8,476.7 486.6,476.8 487.4,476.8 488.1,476.6 488.9,476.7 489.7,476.8 490.5,476.6 491.3,476.8 492.0,476.6 492.8,476.9 493.6,477.3 494.4,476.9 495.1,476.1 495.9,477.0 496.7,476.5 497.5,476.4 498.2,477.0 499.0,476.7 499.8,477.6 500.6,476.6 501.3,476.3 502.1,476.8 502.9,477.5 503.7,477.0 504.4,477.1 505.2,476.8 506.0,476.8 506.8,477.0 507.5,477.0 508.3,477.2 509.1,476.7 509.9,476.9 510.7,476.8 511.4,477.1 512.2,476.8 513.0,477.1 513.8,476.9 514.5,477.0" fill="none" stroke="#3434dc" stroke-width="0.72" stroke-linejoin="round" />
<polyline points="431.5,475.8 431.5,476.0 432.3,476.3 433.1,476.1 433.8,475.6 434.6,474.7 435.4,476.3 436.2,476.0 436.9,475.7 437.7,474.6 438.5,475.8 439.3,476.1 440.0,475.6 440.8,475.1 441.6,476.7 442.4,476.2 443.1,475.4 443.9,476.2 444.7,475.9 445.5,476.0 446.2,475.6 447.0,476.3 447.8,475.8 448.6,475.8 449.3,475.7 450.1,475.8 450.9,475.8 451.7,476.5 452.5,476.0 453.2,476.2 454.0,475.8 454.8,476.0 455.6,475.9 456.3,475.6 457.1,476.0 457.9,475.4 458.7,475.7 459.4,476.5 460.2,476.2 461.0,475.6 461.8,476.2 462.5,475.6 463.3,476.2 464.1,476.1 464.9,475.7 465.6,476.6 466.4,476.0 467.2,476.2 468.0,476.0 468.7,475.6 469.5,475.9 470.3,476.5 471.1,475.8 471.9,476.3 472.6,476.1 473.4,475.8 474.2,476.3 475.0,475.9 475.7,476.1 476.5,476.5 477.3,476.3 478.1,476.6 478.8,475.8 479.6,476.2 480.4,475.9 481.2,476.6 481.9,476.0 482.7,476.6 483.5,476.2 484.3,476.3 485.0,476.5 485.8,476.2 486.6,476.3 487.4,476.6 488.1,476.6 488.9,476.7 489.7,475.9 490.5,476.3 491.3,476.5 492.0,476.1 492.8,476.6 493.6,476.7 494.4,476.3 495.1,475.9 495.9,476.3 496.7,476.4 497.5,475.8 498.2,476.9 499.0,475.4 499.8,476.8 500.6,476.5 501.3,476.9 502.1,476.9 502.9,476.5 503.7,475.7 504.4,476.8 505.2,476.7 506.0,476.4 506.8,476.9 507.5,476.6 508.3,476.3 509.1,477.2 509.9,476.7 510.7,476.7 511.4,476.7 512.2,476.6 513.0,477.2 513.8,476.7 514.5,476.8" fill="none" stroke="#ee4cee" stroke-width="0.72" stroke-linejoin="round" />
<polyline points="431.5,476.1 431.5,475.5 432.3,475.3 433.1,475.7 433.8,476.2 434.6,475.5 435.4,475.8 436.2,476.3 436.9,475.8 437.7,476.2 438.5,475.8 439.3,475.7 440.0,475.7 440.8,476.4 441.6,476.1 442.4,476.1 443.1,476.5 443.9,475.9 444.7,475.9 445.5,476.5 446.2,476.3 447.0,476.5 447.8,476.5 448.6,476.5 449.3,475.7 450.1,476.4 450.9,476.3 451.7,475.8 452.5,475.8 453.2,475.7 454.0,476.8 454.8,475.9 455.6,476.8 456.3,476.4 457.1,476.4 457.9,476.4 458.7,475.6 459.4,476.3 460.2,475.9 461.0,476.3 461.8,476.3 462.5,476.1 463.3,476.1 464.1,476.1 464.9,476.9 465.6,476.1 466.4,476.2 467.2,476.1 468.0,476.4 468.7,476.2 469.5,476.8 470.3,476.0 471.1,476.8 471.9,475.9 472.6,476.1 473.4,476.4 474.2,476.5 475.0,476.2 475.7,476.5 476.5,476.8 477.3,476.4 478.1,476.9 478.8,476.6 479.6,475.9 480.4,476.2 481.2,476.6 481.9,476.5 482.7,476.7 483.5,476.5 484.3,477.0 485.0,476.3 485.8,476.5 486.6,476.7 487.4,476.8 488.1,475.7 488.9,476.7 489.7,476.7 490.5,476.8 491.3,476.8 492.0,476.2 492.8,476.4 493.6,476.5 494.4,476.5 495.1,477.0 495.9,477.4 496.7,476.2 497.5,476.4 498.2,476.6 499.0,476.6 499.8,476.6 500.6,476.7 501.3,476.8 502.1,477.4 502.9,476.5 503.7,476.7 504.4,476.4 505.2,476.7 506.0,476.9 506.8,476.6 507.5,476.7 508.3,476.9 509.1,476.9 509.9,476.9 510.7,476.9 511.4,477.0 512.2,476.5 513.0,475.9 513.8,476.9 514.5,476.5" fill="none" stroke="#5fe6ea" stroke-width="0.72" stroke-linejoin="round" />
<polyline points="431.5,475.9 431.5,476.6 432.3,475.7 433.1,475.6 433.8,475.8 434.6,476.0 435.4,475.9 436.2,475.8 436.9,475.6 437.7,475.7 438.5,476.0 439.3,475.8 440.0,475.2 440.8,475.9 441.6,475.6 442.4,475.4 443.1,476.0 443.9,475.9 444.7,474.8 445.5,475.3 446.2,475.9 447.0,475.7 447.8,475.7 448.6,475.7 449.3,475.6 450.1,475.9 450.9,476.5 451.7,476.1 452.5,475.7 453.2,476.2 454.0,475.9 454.8,475.3 455.6,475.7 456.3,476.0 457.1,475.8 457.9,475.5 458.7,476.4 459.4,476.3 460.2,476.1 461.0,476.0 461.8,475.9 462.5,476.1 463.3,475.9 464.1,475.9 464.9,476.3 465.6,476.1 466.4,476.4 467.2,475.9 468.0,475.9 468.7,475.8 469.5,476.3 470.3,476.2 471.1,476.7 471.9,476.0 472.6,476.5 473.4,475.9 474.2,475.7 475.0,475.9 475.7,475.8 476.5,476.0 477.3,475.9 478.1,475.8 478.8,475.7 479.6,475.4 480.4,476.2 481.2,475.8 481.9,475.8 482.7,476.0 483.5,476.0 484.3,476.5 485.0,475.8 485.8,476.4 486.6,476.4 487.4,476.4 488.1,476.0 488.9,476.5 489.7,476.1 490.5,476.0 491.3,476.2 492.0,476.3 492.8,476.0 493.6,475.8 494.4,476.4 495.1,476.6 495.9,476.5 496.7,476.6 497.5,476.4 498.2,476.3 499.0,477.1 499.8,475.8 500.6,476.6 501.3,476.5 502.1,477.0 502.9,477.0 503.7,476.7 504.4,476.3 505.2,476.1 506.0,477.0 506.8,476.3 507.5,475.9 508.3,476.5 509.1,476.1 509.9,476.3 510.7,476.7 511.4,476.1 512.2,476.6 513.0,476.3 513.8,476.6 514.5,476.5" fill="none" stroke="#ee4a9c" stroke-width="0.72" stroke-linejoin="round" />
<polyline points="431.5,475.4 431.5,475.0 432.3,476.0 433.1,475.8 433.8,475.4 434.6,475.1 435.4,475.5 436.2,475.5 436.9,475.3 437.7,475.0 438.5,475.8 439.3,476.0 440.0,475.6 440.8,475.3 441.6,476.0 442.4,475.2 443.1,475.3 443.9,475.3 444.7,475.8 445.5,476.0 446.2,475.4 447.0,475.5 447.8,475.4 448.6,476.1 449.3,476.6 450.1,475.3 450.9,475.3 451.7,475.7 452.5,475.7 453.2,475.5 454.0,475.4 454.8,475.8 455.6,475.9 456.3,476.0 457.1,475.4 457.9,475.7 458.7,476.8 459.4,475.6 460.2,475.9 461.0,476.2 461.8,475.9 462.5,476.2 463.3,475.9 464.1,476.0 464.9,475.6 465.6,476.1 466.4,476.4 467.2,476.0 468.0,476.3 468.7,475.6 469.5,475.9 470.3,476.4 471.1,476.1 471.9,475.9 472.6,475.9 473.4,476.5 474.2,475.9 475.0,475.8 475.7,475.6 476.5,475.6 477.3,476.0 478.1,476.4 478.8,476.1 479.6,475.8 480.4,476.3 481.2,475.6 481.9,476.3 482.7,476.4 483.5,475.7 484.3,476.0 485.0,475.9 485.8,476.1 486.6,476.0 487.4,476.2 488.1,475.5 488.9,475.9 489.7,476.1 490.5,475.9 491.3,475.8 492.0,476.3 492.8,476.1 493.6,476.1 494.4,476.3 495.1,476.4 495.9,476.2 496.7,476.3 497.5,476.3 498.2,476.8 499.0,476.2 499.8,476.0 500.6,476.2 501.3,475.6 502.1,475.9 502.9,476.3 503.7,476.4 504.4,476.1 505.2,476.4 506.0,476.8 506.8,476.2 507.5,476.4 508.3,476.4 509.1,476.1 509.9,476.2 510.7,475.6 511.4,476.6 512.2,476.4 513.0,476.2 513.8,476.5 514.5,476.5" fill="none" stroke="#e8a044" stroke-width="0.72" stroke-linejoin="round" />
<polyline points="431.5,475.0 431.5,475.8 432.3,475.2 433.1,475.9 433.8,475.2 434.6,476.0 435.4,475.7 436.2,475.0 436.9,474.9 437.7,475.3 438.5,476.3 439.3,475.1 440.0,475.3 440.8,475.8 441.6,475.5 442.4,475.8 443.1,475.5 443.9,475.5 444.7,475.4 445.5,475.2 446.2,475.7 447.0,476.2 447.8,475.9 448.6,475.9 449.3,475.6 450.1,475.7 450.9,475.5 451.7,475.1 452.5,475.5 453.2,475.9 454.0,475.7 454.8,475.8 455.6,475.7 456.3,475.4 457.1,476.0 457.9,475.4 458.7,475.0 459.4,475.1 460.2,475.1 461.0,475.6 461.8,476.1 462.5,475.0 463.3,475.7 464.1,475.6 464.9,475.8 465.6,476.0 466.4,475.5 467.2,476.1 468.0,476.2 468.7,475.5 469.5,475.8 470.3,476.0 471.1,475.6 471.9,475.3 472.6,475.9 473.4,475.8 474.2,475.6 475.0,475.5 475.7,475.5 476.5,475.6 477.3,476.0 478.1,475.7 478.8,475.8 479.6,476.4 480.4,475.4 481.2,475.7 481.9,475.4 482.7,475.9 483.5,475.6 484.3,475.9 485.0,475.8 485.8,475.6 486.6,475.9 487.4,475.7 488.1,475.9 488.9,475.6 489.7,475.7 490.5,476.5 491.3,475.4 492.0,475.8 492.8,476.2 493.6,476.2 494.4,475.4 495.1,476.0 495.9,475.9 496.7,475.8 497.5,476.2 498.2,475.5 499.0,475.4 499.8,476.3 500.6,475.7 501.3,476.6 502.1,476.2 502.9,476.1 503.7,476.1 504.4,475.9 505.2,476.0 506.0,476.0 506.8,476.2 507.5,476.1 508.3,476.3 509.1,475.5 509.9,476.2 510.7,475.8 511.4,476.2 512.2,476.2 513.0,476.3 513.8,476.6 514.5,475.5" fill="none" stroke="#3cc43c" stroke-width="0.72" stroke-linejoin="round" />
<polyline points="386.9,475.2 387.7,475.3 388.4,475.5 389.2,474.9 390.0,475.5 390.8,475.5 391.5,475.5 392.3,474.9 393.1,475.3 393.9,475.4 394.6,475.6 395.4,475.0 396.2,475.3 397.0,475.5 397.7,475.2 398.5,475.2 399.3,475.8 400.1,475.1 400.8,475.1 401.6,475.6 402.4,475.9 403.2,475.1 404.0,475.6 404.7,475.6 405.5,475.6 406.3,475.6 407.1,475.3 407.8,475.9 408.6,475.4 409.4,475.2 410.2,475.2 410.9,475.3 411.7,475.5 412.5,475.7 413.3,475.6 414.0,475.9 414.8,475.1 415.6,475.7 416.4,476.0 417.1,475.4 417.9,475.2 418.7,475.6 419.5,475.8 420.2,476.0 421.0,475.5 421.8,475.8 422.6,475.9 423.4,475.5 424.1,476.1 424.9,475.5 425.7,476.5 426.5,476.0 427.2,476.2 428.0,475.8 428.8,475.5 429.6,476.2 430.3,475.4 431.1,476.0" fill="none" stroke="#9a2a9a" stroke-width="0.72" stroke-linejoin="round" />
<polyline points="386.9,475.7 387.7,475.3 388.4,475.8 389.2,475.1 390.0,475.7 390.8,475.6 391.5,475.9 392.3,475.3 393.1,475.7 393.9,475.8 394.6,476.0 395.4,475.9 396.2,475.7 397.0,475.9 397.7,475.4 398.5,475.7 399.3,475.9 400.1,475.6 400.8,475.3 401.6,476.4 402.4,475.6 403.2,475.4 404.0,475.7 404.7,475.5 405.5,476.3 406.3,476.0 407.1,475.5 407.8,475.8 408.6,475.8 409.4,475.6 410.2,475.7 410.9,475.7 411.7,476.0 412.5,475.9 413.3,475.5 414.0,476.0 414.8,476.3 415.6,476.0 416.4,475.6 417.1,475.3 417.9,475.9 418.7,476.1 419.5,475.7 420.2,475.8 421.0,475.6 421.8,475.8 422.6,475.7 423.4,475.8 424.1,475.9 424.9,476.3 425.7,476.0 426.5,475.5 427.2,475.6 428.0,475.7 428.8,475.9 429.6,476.1 430.3,475.9 431.1,476.2" fill="none" stroke="#3434dc" stroke-width="0.72" stroke-linejoin="round" />
<polyline points="386.9,474.9 387.7,475.3 388.4,475.4 389.2,475.7 390.0,474.7 390.8,475.5 391.5,475.5 392.3,475.1 393.1,474.7 393.9,475.0 394.6,475.4 395.4,475.1 396.2,475.6 397.0,475.4 397.7,475.3 398.5,475.3 399.3,475.1 400.1,475.2 400.8,474.8 401.6,475.1 402.4,475.5 403.2,475.3 404.0,475.6 404.7,475.6 405.5,475.5 406.3,475.1 407.1,475.6 407.8,475.9 408.6,475.7 409.4,475.8 410.2,475.5 410.9,475.5 411.7,475.8 412.5,475.7 413.3,475.6 414.0,475.4 414.8,475.3 415.6,475.1 416.4,475.6 417.1,475.3 417.9,475.5 418.7,475.9 419.5,475.7 420.2,474.9 421.0,475.6 421.8,475.0 422.6,475.3 423.4,475.1 424.1,475.7 424.9,475.3 425.7,475.7 426.5,476.0 427.2,476.0 428.0,475.5 428.8,476.2 429.6,475.5 430.3,475.9 431.1,475.6" fill="none" stroke="#ee4cee" stroke-width="0.72" stroke-linejoin="round" />
<polyline points="386.9,475.9 387.7,475.2 388.4,475.5 389.2,475.9 390.0,475.9 390.8,475.5 391.5,476.0 392.3,475.4 393.1,475.4 393.9,475.7 394.6,475.1 395.4,475.1 396.2,475.4 397.0,475.4 397.7,475.4 398.5,475.6 399.3,475.2 400.1,475.7 400.8,476.4 401.6,475.6 402.4,475.5 403.2,475.3 404.0,476.0 404.7,475.2 405.5,475.9 406.3,475.4 407.1,475.4 407.8,475.6 408.6,475.3 409.4,475.8 410.2,475.1 410.9,475.5 411.7,475.8 412.5,474.9 413.3,475.7 414.0,476.2 414.8,475.3 415.6,475.3 416.4,475.9 417.1,476.1 417.9,475.4 418.7,475.8 419.5,476.1 420.2,476.0 421.0,475.8 421.8,475.5 422.6,475.4 423.4,476.0 424.1,475.4 424.9,476.3 425.7,475.7 426.5,475.9 427.2,475.8 428.0,476.0 428.8,476.1 429.6,475.8 430.3,475.6 431.1,476.6" fill="none" stroke="#5fe6ea" stroke-width="0.72" stroke-linejoin="round" />
<polyline points="386.9,475.0 387.7,475.2 388.4,475.4 389.2,475.5 390.0,474.9 390.8,474.9 391.5,474.9 392.3,475.7 393.1,475.6 393.9,475.3 394.6,475.3 395.4,474.6 396.2,475.3 397.0,475.1 397.7,474.9 398.5,474.6 399.3,475.1 400.1,475.1 400.8,474.6 401.6,475.3 402.4,475.8 403.2,475.5 404.0,475.4 404.7,474.8 405.5,475.2 406.3,474.9 407.1,475.3 407.8,475.3 408.6,475.5 409.4,475.7 410.2,475.2 410.9,475.2 411.7,475.2 412.5,475.5 413.3,475.5 414.0,475.2 414.8,475.2 415.6,474.7 416.4,475.7 417.1,475.1 417.9,475.1 418.7,475.5 419.5,475.4 420.2,475.4 421.0,475.0 421.8,474.6 422.6,475.4 423.4,475.5 424.1,475.2 424.9,475.3 425.7,475.6 426.5,475.2 427.2,475.2 428.0,475.6 428.8,475.3 429.6,476.2 430.3,475.9 431.1,475.6" fill="none" stroke="#ee4a9c" stroke-width="0.72" stroke-linejoin="round" />
<polyline points="386.9,474.9 387.7,475.4 388.4,474.5 389.2,475.1 390.0,474.9 390.8,475.0 391.5,474.8 392.3,475.2 393.1,474.8 393.9,475.3 394.6,475.5 395.4,474.9 396.2,475.0 397.0,474.8 397.7,475.7 398.5,475.0 399.3,475.3 400.1,475.1 400.8,475.2 401.6,475.2 402.4,475.3 403.2,474.8 404.0,475.7 404.7,475.7 405.5,475.0 406.3,474.5 407.1,475.4 407.8,475.4 408.6,475.5 409.4,475.5 410.2,474.8 410.9,475.0 411.7,474.9 412.5,475.1 413.3,475.2 414.0,475.4 414.8,475.5 415.6,475.0 416.4,474.5 417.1,475.4 417.9,474.9 418.7,475.5 419.5,475.3 420.2,474.8 421.0,475.3 421.8,475.1 422.6,475.5 423.4,474.7 424.1,475.7 424.9,475.2 425.7,475.4 426.5,475.3 427.2,475.3 428.0,475.0 428.8,475.1 429.6,475.1 430.3,475.3 431.1,475.8" fill="none" stroke="#e8a044" stroke-width="0.72" stroke-linejoin="round" />
<polyline points="386.9,474.4 387.7,474.3 388.4,474.7 389.2,474.6 390.0,474.9 390.8,475.3 391.5,474.6 392.3,475.1 393.1,474.3 393.9,474.7 394.6,474.9 395.4,475.1 396.2,474.9 397.0,475.2 397.7,475.0 398.5,474.4 399.3,475.0 400.1,474.4 400.8,475.0 401.6,474.8 402.4,475.3 403.2,475.1 404.0,475.1 404.7,475.4 405.5,474.4 406.3,474.8 407.1,475.1 407.8,475.4 408.6,475.0 409.4,475.4 410.2,475.4 410.9,475.1 411.7,474.4 412.5,475.6 413.3,474.9 414.0,475.3 414.8,476.0 415.6,475.6 416.4,475.2 417.1,475.1 417.9,475.4 418.7,474.6 419.5,475.0 420.2,475.4 421.0,475.7 421.8,475.1 422.6,475.4 423.4,474.9 424.1,475.6 424.9,474.8 425.7,475.4 426.5,475.2 427.2,475.3 428.0,475.1 428.8,474.9 429.6,475.4 430.3,475.6 431.1,474.7" fill="none" stroke="#3cc43c" stroke-width="0.72" stroke-linejoin="round" />
<line x1="381.00" y1="443.40" x2="381.00" y2="479.70" stroke="#222" stroke-width="0.8" />
<line x1="380.60" y1="479.70" x2="520.50" y2="479.70" stroke="#222" stroke-width="0.8" />
<line x1="379.00" y1="478.60" x2="381.00" y2="478.60" stroke="#222" stroke-width="0.7" />
<text x="377.6" y="481.3" text-anchor="end" font-size="7.45" >0</text>
<line x1="379.00" y1="468.50" x2="381.00" y2="468.50" stroke="#222" stroke-width="0.7" />
<text x="377.6" y="471.2" text-anchor="end" font-size="7.45" >40</text>
<line x1="379.00" y1="458.40" x2="381.00" y2="458.40" stroke="#222" stroke-width="0.7" />
<text x="377.6" y="461.1" text-anchor="end" font-size="7.45" >80</text>
<line x1="379.00" y1="448.30" x2="381.00" y2="448.30" stroke="#222" stroke-width="0.7" />
<text x="377.6" y="451.0" text-anchor="end" font-size="7.45" >120</text>
<line x1="379.70" y1="473.55" x2="381.00" y2="473.55" stroke="#222" stroke-width="0.6" />
<line x1="379.70" y1="463.45" x2="381.00" y2="463.45" stroke="#222" stroke-width="0.6" />
<line x1="379.70" y1="453.35" x2="381.00" y2="453.35" stroke="#222" stroke-width="0.6" />
<line x1="383.00" y1="479.70" x2="383.00" y2="481.40" stroke="#222" stroke-width="0.7" />
<line x1="392.70" y1="479.70" x2="392.70" y2="481.40" stroke="#222" stroke-width="0.7" />
<line x1="402.40" y1="479.70" x2="402.40" y2="481.40" stroke="#222" stroke-width="0.7" />
<line x1="412.10" y1="479.70" x2="412.10" y2="481.40" stroke="#222" stroke-width="0.7" />
<line x1="421.80" y1="479.70" x2="421.80" y2="481.40" stroke="#222" stroke-width="0.7" />
<line x1="431.50" y1="479.70" x2="431.50" y2="481.40" stroke="#222" stroke-width="0.7" />
<line x1="441.20" y1="479.70" x2="441.20" y2="481.40" stroke="#222" stroke-width="0.7" />
<line x1="450.90" y1="479.70" x2="450.90" y2="481.40" stroke="#222" stroke-width="0.7" />
<line x1="460.60" y1="479.70" x2="460.60" y2="481.40" stroke="#222" stroke-width="0.7" />
<line x1="470.30" y1="479.70" x2="470.30" y2="481.40" stroke="#222" stroke-width="0.7" />
<line x1="480.00" y1="479.70" x2="480.00" y2="481.40" stroke="#222" stroke-width="0.7" />
<line x1="489.70" y1="479.70" x2="489.70" y2="481.40" stroke="#222" stroke-width="0.7" />
<line x1="499.40" y1="479.70" x2="499.40" y2="481.40" stroke="#222" stroke-width="0.7" />
<line x1="509.10" y1="479.70" x2="509.10" y2="481.40" stroke="#222" stroke-width="0.7" />
<line x1="518.80" y1="479.70" x2="518.80" y2="481.40" stroke="#222" stroke-width="0.7" />
<text x="392.7" y="488.8" text-anchor="middle" font-size="7.45" >-200</text>
<text x="412.1" y="488.8" text-anchor="middle" font-size="7.45" >-100</text>
<text x="431.5" y="488.8" text-anchor="middle" font-size="7.45" >0</text>
<text x="450.9" y="488.8" text-anchor="middle" font-size="7.45" >100</text>
<text x="470.3" y="488.8" text-anchor="middle" font-size="7.45" >200</text>
<text x="489.7" y="488.8" text-anchor="middle" font-size="7.45" >300</text>
<text x="509.1" y="488.8" text-anchor="middle" font-size="7.45" >400</text>
<text x="440.6" y="439.7" text-anchor="middle" font-size="7.45" >+ PGZL1 Fab</text>
<text x="403.9" y="458.2" text-anchor="middle" font-size="7.45" >nb</text>
<text transform="translate(351.0,463.3) rotate(-90)" text-anchor="middle" font-size="7.45">Modality A</text>
<text transform="translate(360.3,463.3) rotate(-90)" text-anchor="middle" font-size="7.45">Response (RU)</text>
<text x="450.3" y="504.0" text-anchor="middle" font-size="7.45" >Time (s)</text>
<line x1="541.00" y1="404.60" x2="681.40" y2="404.60" stroke="#d4d4d4" stroke-width="0.7" />
<line x1="593.00" y1="369.30" x2="593.00" y2="407.70" stroke="#b0b0b0" stroke-width="0.6" />
<polyline points="593.0,404.6 593.0,404.4 593.8,397.3 594.6,391.8 595.3,387.6 596.1,384.6 596.9,382.2 597.7,380.4 598.4,379.0 599.2,378.1 600.0,377.2 600.8,376.7 601.5,376.2 602.3,375.8 603.1,375.5 603.9,371.8 604.6,371.6 605.4,371.9 606.2,371.8 607.0,371.9 607.7,372.0 608.5,371.9 609.3,371.7 610.1,372.0 610.8,371.6 611.6,371.9 612.4,371.8 613.2,371.8 614.0,371.9 614.7,371.9 615.5,371.9 616.3,371.9 617.1,371.8 617.8,371.9 618.6,371.9 619.4,372.0 620.2,371.9 620.9,371.7 621.7,371.9 622.5,371.9 623.3,371.8 624.0,371.9 624.8,371.8 625.6,372.0 626.4,371.9 627.1,372.0 627.9,371.9 628.7,371.8 629.5,371.8 630.2,372.0 631.0,371.9 631.8,371.9 632.6,372.0 633.4,372.0 634.1,372.1 634.9,371.9 635.7,371.9 636.5,372.0 637.2,372.0 638.0,371.8 638.8,372.0 639.6,372.2 640.3,372.0 641.1,372.1 641.9,372.1 642.7,372.0 643.4,372.0 644.2,372.0 645.0,371.9 645.8,372.1 646.5,372.1 647.3,372.0 648.1,372.3 648.9,372.3 649.6,372.1 650.4,372.1 651.2,372.1 652.0,372.2 652.8,372.1 653.5,372.0 654.3,372.2 655.1,372.1 655.9,372.1 656.6,372.1 657.4,372.1 658.2,372.0 659.0,372.1 659.7,372.1 660.5,372.1 661.3,372.3 662.1,372.1 662.8,372.2 663.6,372.2 664.4,372.2 665.2,372.3 665.9,372.1 666.7,372.0 667.5,372.1 668.3,372.3 669.0,372.2 669.8,372.3 670.6,372.2 671.4,372.3 672.2,372.3 672.9,372.3 673.7,372.3 674.5,372.2 675.3,372.1 676.0,372.2" fill="none" stroke="#ee4a9c" stroke-width="0.72" stroke-linejoin="round" />
<polyline points="593.0,404.6 593.0,404.6 593.8,399.2 594.6,395.2 595.3,392.1 596.1,389.8 596.9,388.0 597.7,386.7 598.4,385.8 599.2,385.0 600.0,384.4 600.8,383.9 601.5,383.6 602.3,383.3 603.1,383.2 603.9,383.1 604.6,382.9 605.4,383.0 606.2,382.9 607.0,382.9 607.7,382.9 608.5,382.9 609.3,383.1 610.1,383.0 610.8,383.0 611.6,383.0 612.4,383.1 613.2,383.0 614.0,383.2 614.7,383.0 615.5,383.0 616.3,383.1 617.1,382.9 617.8,383.0 618.6,383.1 619.4,383.1 620.2,383.1 620.9,383.1 621.7,383.0 622.5,383.2 623.3,383.1 624.0,383.2 624.8,383.1 625.6,383.1 626.4,383.2 627.1,383.2 627.9,383.1 628.7,383.3 629.5,383.3 630.2,383.4 631.0,383.1 631.8,383.3 632.6,383.2 633.4,383.2 634.1,383.2 634.9,383.2 635.7,383.3 636.5,383.3 637.2,383.2 638.0,383.3 638.8,383.4 639.6,383.4 640.3,383.4 641.1,383.3 641.9,383.4 642.7,383.5 643.4,383.4 644.2,383.3 645.0,383.4 645.8,383.4 646.5,383.4 647.3,383.4 648.1,383.5 648.9,383.5 649.6,383.3 650.4,383.4 651.2,383.6 652.0,383.5 652.8,383.3 653.5,383.4 654.3,383.5 655.1,383.4 655.9,383.4 656.6,383.4 657.4,383.6 658.2,383.6 659.0,383.6 659.7,383.5 660.5,383.6 661.3,383.5 662.1,383.4 662.8,383.5 663.6,383.5 664.4,383.6 665.2,383.5 665.9,383.6 666.7,383.6 667.5,383.6 668.3,383.8 669.0,383.5 669.8,383.6 670.6,383.6 671.4,383.5 672.2,383.7 672.9,383.8 673.7,383.6 674.5,383.7 675.3,383.8 676.0,383.6" fill="none" stroke="#3434dc" stroke-width="0.72" stroke-linejoin="round" />
<polyline points="593.0,404.6 593.0,404.7 593.8,401.3 594.6,398.4 595.3,396.2 596.1,394.6 596.9,393.1 597.7,391.9 598.4,391.2 599.2,390.6 600.0,390.1 600.8,389.6 601.5,389.4 602.3,389.0 603.1,388.8 603.9,388.7 604.6,388.7 605.4,388.6 606.2,388.7 607.0,388.6 607.7,388.6 608.5,388.7 609.3,388.7 610.1,388.6 610.8,388.8 611.6,388.7 612.4,388.7 613.2,388.7 614.0,388.6 614.7,388.8 615.5,388.9 616.3,388.7 617.1,388.8 617.8,388.7 618.6,388.7 619.4,388.7 620.2,388.8 620.9,388.8 621.7,388.9 622.5,388.9 623.3,388.8 624.0,388.8 624.8,388.9 625.6,388.8 626.4,388.8 627.1,388.7 627.9,388.9 628.7,388.8 629.5,388.9 630.2,389.0 631.0,388.9 631.8,388.8 632.6,388.8 633.4,389.0 634.1,388.9 634.9,388.8 635.7,388.8 636.5,388.8 637.2,388.9 638.0,389.0 638.8,388.9 639.6,389.1 640.3,389.0 641.1,389.0 641.9,389.0 642.7,389.0 643.4,389.0 644.2,388.9 645.0,389.0 645.8,389.0 646.5,388.9 647.3,389.0 648.1,388.9 648.9,389.0 649.6,389.1 650.4,389.2 651.2,388.9 652.0,389.0 652.8,389.1 653.5,389.0 654.3,389.1 655.1,389.0 655.9,389.1 656.6,389.1 657.4,389.1 658.2,389.2 659.0,389.3 659.7,389.1 660.5,389.2 661.3,389.1 662.1,389.1 662.8,389.0 663.6,389.2 664.4,389.1 665.2,389.1 665.9,389.2 666.7,389.2 667.5,389.1 668.3,389.0 669.0,389.1 669.8,389.1 670.6,389.3 671.4,389.1 672.2,389.1 672.9,389.3 673.7,389.2 674.5,389.2 675.3,389.2 676.0,389.4" fill="none" stroke="#3cc43c" stroke-width="0.72" stroke-linejoin="round" />
<polyline points="593.0,404.6 593.0,404.6 593.8,403.3 594.6,402.3 595.3,401.4 596.1,400.6 596.9,399.9 597.7,399.4 598.4,399.0 599.2,398.9 600.0,398.4 600.8,398.1 601.5,398.2 602.3,397.9 603.1,397.8 603.9,397.6 604.6,397.6 605.4,397.7 606.2,397.7 607.0,397.5 607.7,397.6 608.5,397.5 609.3,397.6 610.1,397.5 610.8,397.6 611.6,397.6 612.4,397.6 613.2,397.5 614.0,397.7 614.7,397.5 615.5,397.5 616.3,397.7 617.1,397.6 617.8,397.6 618.6,397.5 619.4,397.5 620.2,397.6 620.9,397.7 621.7,397.5 622.5,397.7 623.3,397.6 624.0,397.6 624.8,397.7 625.6,397.5 626.4,397.5 627.1,397.6 627.9,397.6 628.7,397.6 629.5,397.7 630.2,397.6 631.0,397.5 631.8,397.6 632.6,397.6 633.4,397.6 634.1,397.6 634.9,397.6 635.7,397.6 636.5,397.6 637.2,397.7 638.0,397.6 638.8,397.5 639.6,397.7 640.3,397.6 641.1,397.6 641.9,397.7 642.7,397.8 643.4,397.6 644.2,397.7 645.0,397.7 645.8,397.5 646.5,397.7 647.3,397.6 648.1,397.6 648.9,397.6 649.6,397.4 650.4,397.8 651.2,397.5 652.0,397.6 652.8,397.6 653.5,397.7 654.3,397.6 655.1,397.6 655.9,397.7 656.6,397.5 657.4,397.7 658.2,397.6 659.0,397.7 659.7,397.6 660.5,397.6 661.3,397.5 662.1,397.5 662.8,397.6 663.6,397.5 664.4,397.6 665.2,397.5 665.9,397.5 666.7,397.6 667.5,397.7 668.3,397.6 669.0,397.5 669.8,397.6 670.6,397.5 671.4,397.6 672.2,397.5 672.9,397.5 673.7,397.6 674.5,397.7 675.3,397.6 676.0,397.7" fill="none" stroke="#ee4cee" stroke-width="0.72" stroke-linejoin="round" />
<polyline points="593.0,404.6 593.0,404.6 593.8,404.5 594.6,404.7 595.3,404.7 596.1,404.5 596.9,404.6 597.7,404.6 598.4,404.4 599.2,404.4 600.0,404.5 600.8,404.5 601.5,404.7 602.3,404.5 603.1,404.5 603.9,404.6 604.6,404.5 605.4,404.5 606.2,404.5 607.0,404.5 607.7,404.5 608.5,404.5 609.3,404.5 610.1,404.6 610.8,404.4 611.6,404.6 612.4,404.5 613.2,404.4 614.0,404.5 614.7,404.6 615.5,404.5 616.3,404.6 617.1,404.6 617.8,404.6 618.6,404.5 619.4,404.5 620.2,404.5 620.9,404.5 621.7,404.6 622.5,404.6 623.3,404.5 624.0,404.5 624.8,404.5 625.6,404.5 626.4,404.5 627.1,404.4 627.9,404.6 628.7,404.5 629.5,404.5 630.2,404.5 631.0,404.5 631.8,404.7 632.6,404.5 633.4,404.5 634.1,404.6 634.9,404.5 635.7,404.5 636.5,404.5 637.2,404.5 638.0,404.6 638.8,404.6 639.6,404.5 640.3,404.5 641.1,404.4 641.9,404.6 642.7,404.6 643.4,404.6 644.2,404.6 645.0,404.5 645.8,404.5 646.5,404.6 647.3,404.6 648.1,404.6 648.9,404.6 649.6,404.4 650.4,404.5 651.2,404.4 652.0,404.5 652.8,404.5 653.5,404.4 654.3,404.5 655.1,404.4 655.9,404.4 656.6,404.4 657.4,404.5 658.2,404.6 659.0,404.3 659.7,404.5 660.5,404.5 661.3,404.6 662.1,404.6 662.8,404.5 663.6,404.6 664.4,404.5 665.2,404.4 665.9,404.5 666.7,404.5 667.5,404.5 668.3,404.5 669.0,404.5 669.8,404.5 670.6,404.6 671.4,404.5 672.2,404.6 672.9,404.6 673.7,404.6 674.5,404.6 675.3,404.7 676.0,404.5" fill="none" stroke="#e8a044" stroke-width="0.72" stroke-linejoin="round" />
<polyline points="593.0,404.6 593.4,377.1 593.8,376.6 594.2,376.6 594.6,376.6 594.9,376.6 595.3,376.6 595.7,376.6 596.1,376.6 596.5,376.6 596.9,376.6 597.3,376.6 597.7,376.6 598.0,376.6 598.4,376.6 598.8,376.6 599.2,376.6 599.6,376.6 600.0,376.6 600.4,376.6 600.8,376.6 601.1,376.6 601.5,376.6 601.9,376.6 602.3,376.6 602.7,376.6 603.1,376.6 603.5,376.6 603.9,376.6 604.3,376.6 604.6,376.6 605.0,376.6 605.4,376.6 605.8,376.6 606.2,376.6 606.6,376.6 609.5,376.6 612.4,376.6 615.3,376.6 618.2,376.6 621.1,376.6 624.0,376.6 627.0,376.6 629.9,376.6 632.8,376.6 635.7,376.6 638.6,376.6 641.5,376.6 644.4,376.6 647.3,376.6 650.2,376.6 653.1,376.6 656.0,376.6 659.0,376.6 661.9,376.6 664.8,376.6 667.7,376.6 670.6,376.6 673.5,376.6 676.0,376.6" fill="none" stroke="#3a3a3a" stroke-width="0.72" stroke-linejoin="round" />
<polyline points="593.0,404.6 593.4,401.6 593.8,399.0 594.2,396.6 594.6,394.5 594.9,392.7 595.3,391.1 595.7,389.6 596.1,388.3 596.5,387.2 596.9,386.2 597.3,385.3 597.7,384.5 598.0,383.7 598.4,383.1 598.8,382.6 599.2,382.1 599.6,381.6 600.0,381.2 600.4,380.9 600.8,380.6 601.1,380.3 601.5,380.1 601.9,379.9 602.3,379.7 602.7,379.5 603.1,379.4 603.5,379.2 603.9,379.1 604.3,379.0 604.6,378.9 605.0,378.9 605.4,378.9 605.8,378.9 606.2,378.9 606.6,378.9 609.5,378.9 612.4,378.9 615.3,378.9 618.2,378.9 621.1,378.9 624.0,378.9 627.0,378.9 629.9,378.9 632.8,378.9 635.7,378.9 638.6,378.9 641.5,378.9 644.4,378.9 647.3,378.9 650.2,378.9 653.1,378.9 656.0,378.9 659.0,378.9 661.9,378.9 664.8,378.9 667.7,378.9 670.6,378.9 673.5,378.9 676.0,378.9" fill="none" stroke="#3a3a3a" stroke-width="0.72" stroke-linejoin="round" />
<polyline points="593.0,404.6 593.4,402.0 593.8,399.7 594.2,397.8 594.6,396.0 594.9,394.5 595.3,393.1 595.7,391.9 596.1,390.9 596.5,390.0 596.9,389.2 597.3,388.5 597.7,387.9 598.0,387.3 598.4,386.8 598.8,386.4 599.2,386.0 599.6,385.7 600.0,385.4 600.4,385.2 600.8,385.0 601.1,384.8 601.5,384.6 601.9,384.5 602.3,384.3 602.7,384.2 603.1,384.1 603.5,384.0 603.9,384.0 604.3,383.9 604.6,383.8 605.0,383.8 605.4,383.8 605.8,383.8 606.2,383.8 606.6,383.8 609.5,383.8 612.4,383.8 615.3,383.8 618.2,383.8 621.1,383.8 624.0,383.8 627.0,383.8 629.9,383.8 632.8,383.8 635.7,383.8 638.6,383.8 641.5,383.8 644.4,383.8 647.3,383.8 650.2,383.8 653.1,383.8 656.0,383.8 659.0,383.8 661.9,383.8 664.8,383.8 667.7,383.8 670.6,383.8 673.5,383.8 676.0,383.8" fill="none" stroke="#3a3a3a" stroke-width="0.72" stroke-linejoin="round" />
<polyline points="593.0,404.6 593.4,403.0 593.8,401.6 594.2,400.3 594.6,399.1 594.9,398.1 595.3,397.2 595.7,396.4 596.1,395.6 596.5,394.9 596.9,394.4 597.3,393.8 597.7,393.3 598.0,392.9 598.4,392.5 598.8,392.2 599.2,391.9 599.6,391.6 600.0,391.4 600.4,391.1 600.8,390.9 601.1,390.8 601.5,390.6 601.9,390.5 602.3,390.3 602.7,390.2 603.1,390.1 603.5,390.0 603.9,389.9 604.3,389.9 604.6,389.8 605.0,389.8 605.4,389.8 605.8,389.8 606.2,389.8 606.6,389.8 609.5,389.8 612.4,389.8 615.3,389.8 618.2,389.8 621.1,389.8 624.0,389.8 627.0,389.8 629.9,389.8 632.8,389.8 635.7,389.8 638.6,389.8 641.5,389.8 644.4,389.8 647.3,389.8 650.2,389.8 653.1,389.8 656.0,389.8 659.0,389.8 661.9,389.8 664.8,389.8 667.7,389.8 670.6,389.8 673.5,389.8 676.0,389.8" fill="none" stroke="#3a3a3a" stroke-width="0.72" stroke-linejoin="round" />
<polyline points="593.0,404.6 593.4,403.4 593.8,402.2 594.2,401.2 594.6,400.2 594.9,399.4 595.3,398.6 595.7,397.9 596.1,397.2 596.5,396.6 596.9,396.1 597.3,395.6 597.7,395.1 598.0,394.7 598.4,394.3 598.8,393.9 599.2,393.6 599.6,393.3 600.0,393.0 600.4,392.8 600.8,392.6 601.1,392.4 601.5,392.2 601.9,392.0 602.3,391.9 602.7,391.7 603.1,391.6 603.5,391.5 603.9,391.4 604.3,391.3 604.6,391.2 605.0,391.2 605.4,391.2 605.8,391.2 606.2,391.2 606.6,391.2 609.5,391.2 612.4,391.2 615.3,391.2 618.2,391.2 621.1,391.2 624.0,391.2 627.0,391.2 629.9,391.2 632.8,391.2 635.7,391.2 638.6,391.2 641.5,391.2 644.4,391.2 647.3,391.2 650.2,391.2 653.1,391.2 656.0,391.2 659.0,391.2 661.9,391.2 664.8,391.2 667.7,391.2 670.6,391.2 673.5,391.2 676.0,391.2" fill="none" stroke="#3a3a3a" stroke-width="0.72" stroke-linejoin="round" />
<polyline points="593.0,404.6 593.4,404.1 593.8,403.7 594.2,403.4 594.6,403.0 594.9,402.7 595.3,402.4 595.7,402.1 596.1,401.9 596.5,401.7 596.9,401.5 597.3,401.3 597.7,401.1 598.0,401.0 598.4,400.8 598.8,400.7 599.2,400.6 599.6,400.5 600.0,400.4 600.4,400.3 600.8,400.2 601.1,400.1 601.5,400.0 601.9,400.0 602.3,399.9 602.7,399.9 603.1,399.8 603.5,399.8 603.9,399.7 604.3,399.7 604.6,399.7 605.0,399.7 605.4,399.7 605.8,399.7 606.2,399.7 606.6,399.7 609.5,399.7 612.4,399.7 615.3,399.7 618.2,399.7 621.1,399.7 624.0,399.7 627.0,399.7 629.9,399.7 632.8,399.7 635.7,399.7 638.6,399.7 641.5,399.7 644.4,399.7 647.3,399.7 650.2,399.7 653.1,399.7 656.0,399.7 659.0,399.7 661.9,399.7 664.8,399.7 667.7,399.7 670.6,399.7 673.5,399.7 676.0,399.7" fill="none" stroke="#3a3a3a" stroke-width="0.72" stroke-linejoin="round" />
<polyline points="548.4,404.6 549.2,404.6 549.9,404.4 550.7,404.6 551.5,404.5 552.3,404.7 553.0,404.5 553.8,404.7 554.6,404.4 555.4,404.7 556.1,404.6 556.9,404.5 557.7,404.8 558.5,404.5 559.2,404.7 560.0,404.6 560.8,404.5 561.6,404.6 562.3,404.5 563.1,404.6 563.9,404.6 564.7,404.8 565.5,404.5 566.2,404.6 567.0,404.7 567.8,404.6 568.6,404.5 569.3,404.7 570.1,404.6 570.9,404.6 571.7,404.7 572.4,404.7 573.2,404.6 574.0,404.5 574.8,404.7 575.5,404.6 576.3,404.6 577.1,404.6 577.9,404.6 578.6,404.6 579.4,404.6 580.2,404.7 581.0,404.6 581.7,404.5 582.5,404.6 583.3,404.5 584.1,404.6 584.9,404.7 585.6,404.6 586.4,404.7 587.2,404.6 588.0,404.7 588.7,404.6 589.5,404.6 590.3,404.6 591.1,404.6 591.8,404.6 592.6,404.6" fill="none" stroke="#ee4a9c" stroke-width="0.96" stroke-linejoin="round" stroke-dasharray="1.6 6.4" stroke-dashoffset="0.0"/>
<polyline points="548.4,404.5 549.2,404.6 549.9,404.5 550.7,404.5 551.5,404.6 552.3,404.5 553.0,404.7 553.8,404.6 554.6,404.7 555.4,404.6 556.1,404.5 556.9,404.8 557.7,404.7 558.5,404.7 559.2,404.7 560.0,404.6 560.8,404.5 561.6,404.7 562.3,404.6 563.1,404.7 563.9,404.7 564.7,404.8 565.5,404.7 566.2,404.6 567.0,404.5 567.8,404.7 568.6,404.6 569.3,404.7 570.1,404.5 570.9,404.5 571.7,404.8 572.4,404.7 573.2,404.7 574.0,404.6 574.8,404.5 575.5,404.5 576.3,404.6 577.1,404.6 577.9,404.7 578.6,404.6 579.4,404.6 580.2,404.6 581.0,404.6 581.7,404.7 582.5,404.7 583.3,404.4 584.1,404.7 584.9,404.6 585.6,404.5 586.4,404.6 587.2,404.6 588.0,404.7 588.7,404.6 589.5,404.7 590.3,404.4 591.1,404.6 591.8,404.5 592.6,404.6" fill="none" stroke="#3434dc" stroke-width="0.96" stroke-linejoin="round" stroke-dasharray="1.6 6.4" stroke-dashoffset="1.6"/>
<polyline points="548.4,404.6 549.2,404.5 549.9,404.5 550.7,404.6 551.5,404.6 552.3,404.5 553.0,404.6 553.8,404.6 554.6,404.6 555.4,404.6 556.1,404.5 556.9,404.4 557.7,404.8 558.5,404.5 559.2,404.6 560.0,404.5 560.8,404.7 561.6,404.6 562.3,404.5 563.1,404.6 563.9,404.6 564.7,404.7 565.5,404.7 566.2,404.5 567.0,404.6 567.8,404.6 568.6,404.7 569.3,404.7 570.1,404.7 570.9,404.6 571.7,404.6 572.4,404.6 573.2,404.7 574.0,404.6 574.8,404.5 575.5,404.7 576.3,404.7 577.1,404.5 577.9,404.7 578.6,404.6 579.4,404.6 580.2,404.5 581.0,404.8 581.7,404.8 582.5,404.6 583.3,404.5 584.1,404.6 584.9,404.7 585.6,404.6 586.4,404.8 587.2,404.5 588.0,404.5 588.7,404.6 589.5,404.5 590.3,404.7 591.1,404.5 591.8,404.7 592.6,404.7" fill="none" stroke="#3cc43c" stroke-width="0.96" stroke-linejoin="round" stroke-dasharray="1.6 6.4" stroke-dashoffset="3.2"/>
<polyline points="548.4,404.7 549.2,404.7 549.9,404.5 550.7,404.4 551.5,404.7 552.3,404.6 553.0,404.6 553.8,404.6 554.6,404.7 555.4,404.6 556.1,404.5 556.9,404.6 557.7,404.7 558.5,404.6 559.2,404.8 560.0,404.6 560.8,404.5 561.6,404.5 562.3,404.6 563.1,404.6 563.9,404.6 564.7,404.6 565.5,404.6 566.2,404.6 567.0,404.6 567.8,404.6 568.6,404.5 569.3,404.6 570.1,404.7 570.9,404.6 571.7,404.6 572.4,404.6 573.2,404.6 574.0,404.7 574.8,404.5 575.5,404.6 576.3,404.7 577.1,404.7 577.9,404.6 578.6,404.7 579.4,404.5 580.2,404.8 581.0,404.6 581.7,404.6 582.5,404.7 583.3,404.6 584.1,404.6 584.9,404.6 585.6,404.6 586.4,404.6 587.2,404.6 588.0,404.5 588.7,404.5 589.5,404.6 590.3,404.5 591.1,404.6 591.8,404.7 592.6,404.7" fill="none" stroke="#ee4cee" stroke-width="0.96" stroke-linejoin="round" stroke-dasharray="1.6 6.4" stroke-dashoffset="4.8"/>
<polyline points="548.4,404.7 549.2,404.7 549.9,404.7 550.7,404.6 551.5,404.6 552.3,404.6 553.0,404.6 553.8,404.6 554.6,404.6 555.4,404.6 556.1,404.6 556.9,404.7 557.7,404.5 558.5,404.5 559.2,404.6 560.0,404.4 560.8,404.7 561.6,404.5 562.3,404.7 563.1,404.6 563.9,404.7 564.7,404.5 565.5,404.6 566.2,404.5 567.0,404.6 567.8,404.6 568.6,404.6 569.3,404.5 570.1,404.6 570.9,404.6 571.7,404.5 572.4,404.6 573.2,404.5 574.0,404.5 574.8,404.6 575.5,404.7 576.3,404.5 577.1,404.6 577.9,404.6 578.6,404.6 579.4,404.5 580.2,404.6 581.0,404.7 581.7,404.6 582.5,404.6 583.3,404.6 584.1,404.5 584.9,404.6 585.6,404.5 586.4,404.7 587.2,404.5 588.0,404.6 588.7,404.6 589.5,404.5 590.3,404.6 591.1,404.5 591.8,404.6 592.6,404.5" fill="none" stroke="#e8a044" stroke-width="0.96" stroke-linejoin="round" stroke-dasharray="1.6 6.4" stroke-dashoffset="6.4"/>
<line x1="541.00" y1="369.30" x2="541.00" y2="407.70" stroke="#222" stroke-width="0.8" />
<line x1="540.60" y1="407.70" x2="681.40" y2="407.70" stroke="#222" stroke-width="0.8" />
<line x1="539.00" y1="404.60" x2="541.00" y2="404.60" stroke="#222" stroke-width="0.7" />
<text x="537.6" y="407.3" text-anchor="end" font-size="7.45" >0</text>
<line x1="539.00" y1="388.60" x2="541.00" y2="388.60" stroke="#222" stroke-width="0.7" />
<text x="537.6" y="391.3" text-anchor="end" font-size="7.45" >200</text>
<line x1="539.00" y1="372.60" x2="541.00" y2="372.60" stroke="#222" stroke-width="0.7" />
<text x="537.6" y="375.3" text-anchor="end" font-size="7.45" >400</text>
<line x1="539.70" y1="396.60" x2="541.00" y2="396.60" stroke="#222" stroke-width="0.6" />
<line x1="539.70" y1="380.60" x2="541.00" y2="380.60" stroke="#222" stroke-width="0.6" />
<line x1="544.50" y1="407.70" x2="544.50" y2="409.40" stroke="#222" stroke-width="0.7" />
<line x1="554.20" y1="407.70" x2="554.20" y2="409.40" stroke="#222" stroke-width="0.7" />
<line x1="563.90" y1="407.70" x2="563.90" y2="409.40" stroke="#222" stroke-width="0.7" />
<line x1="573.60" y1="407.70" x2="573.60" y2="409.40" stroke="#222" stroke-width="0.7" />
<line x1="583.30" y1="407.70" x2="583.30" y2="409.40" stroke="#222" stroke-width="0.7" />
<line x1="593.00" y1="407.70" x2="593.00" y2="409.40" stroke="#222" stroke-width="0.7" />
<line x1="602.70" y1="407.70" x2="602.70" y2="409.40" stroke="#222" stroke-width="0.7" />
<line x1="612.40" y1="407.70" x2="612.40" y2="409.40" stroke="#222" stroke-width="0.7" />
<line x1="622.10" y1="407.70" x2="622.10" y2="409.40" stroke="#222" stroke-width="0.7" />
<line x1="631.80" y1="407.70" x2="631.80" y2="409.40" stroke="#222" stroke-width="0.7" />
<line x1="641.50" y1="407.70" x2="641.50" y2="409.40" stroke="#222" stroke-width="0.7" />
<line x1="651.20" y1="407.70" x2="651.20" y2="409.40" stroke="#222" stroke-width="0.7" />
<line x1="660.90" y1="407.70" x2="660.90" y2="409.40" stroke="#222" stroke-width="0.7" />
<line x1="670.60" y1="407.70" x2="670.60" y2="409.40" stroke="#222" stroke-width="0.7" />
<line x1="680.30" y1="407.70" x2="680.30" y2="409.40" stroke="#222" stroke-width="0.7" />
<text x="554.2" y="415.4" text-anchor="middle" font-size="7.45" >-200</text>
<text x="573.6" y="415.4" text-anchor="middle" font-size="7.45" >-100</text>
<text x="593.0" y="415.4" text-anchor="middle" font-size="7.45" >0</text>
<text x="612.4" y="415.4" text-anchor="middle" font-size="7.45" >100</text>
<text x="631.8" y="415.4" text-anchor="middle" font-size="7.45" >200</text>
<text x="651.2" y="415.4" text-anchor="middle" font-size="7.45" >300</text>
<text x="670.6" y="415.4" text-anchor="middle" font-size="7.45" >400</text>
<text x="606.4" y="363.4" text-anchor="middle" font-size="7.45" >+ PGZL1 IgG</text>
<line x1="540.60" y1="477.00" x2="678.40" y2="477.00" stroke="#d4d4d4" stroke-width="0.7" />
<line x1="592.30" y1="443.60" x2="592.30" y2="481.10" stroke="#b0b0b0" stroke-width="0.6" />
<polyline points="592.3,477.0 592.3,476.7 593.1,477.1 593.8,476.8 594.6,476.5 595.4,476.3 596.1,476.4 596.9,476.3 597.7,476.0 598.4,475.8 599.2,475.7 600.0,476.1 600.7,475.9 601.5,475.9 602.3,476.2 603.0,475.9 603.8,475.6 604.6,476.1 605.3,475.2 606.1,475.6 606.9,475.4 607.6,475.8 608.4,476.3 609.2,475.7 609.9,475.5 610.7,475.9 611.5,475.5 612.2,475.7 613.0,475.6 613.8,475.7 614.5,475.7 615.3,475.7 616.1,475.5 616.8,475.7 617.6,475.7 618.4,475.7 619.1,475.8 619.9,476.0 620.7,476.2 621.4,476.0 622.2,476.1 623.0,476.1 623.7,475.7 624.5,475.9 625.3,475.5 626.0,475.2 626.8,475.7 627.6,475.9 628.3,475.7 629.1,475.9 629.9,475.8 630.6,475.4 631.4,475.5 632.2,475.6 632.9,475.8 633.7,475.4 634.5,475.6 635.2,475.6 636.0,476.1 636.8,476.0 637.5,475.8 638.3,475.9 639.1,475.9 639.8,476.3 640.6,476.0 641.4,475.9 642.1,475.8 642.9,476.1 643.7,475.9 644.4,475.4 645.2,475.8 646.0,476.3 646.7,475.9 647.5,475.8 648.3,475.6 649.0,475.8 649.8,475.5 650.6,475.8 651.3,475.6 652.1,475.6 652.9,475.5 653.6,475.8 654.4,475.7 655.2,475.0 655.9,476.1 656.7,475.8 657.5,475.7 658.2,476.0 659.0,475.7 659.8,475.9 660.5,475.7 661.3,475.8 662.1,476.1 662.8,475.6 663.6,475.4 664.4,475.7 665.1,475.8 665.9,476.2 666.7,475.8 667.4,475.9 668.2,476.0 669.0,476.3 669.7,475.8 670.5,475.6 671.3,475.7 672.0,475.4 672.8,476.3 673.6,475.8 674.3,475.9" fill="none" stroke="#9a2a9a" stroke-width="0.72" stroke-linejoin="round" />
<polyline points="592.3,476.8 592.3,477.0 593.1,477.1 593.8,476.8 594.6,476.6 595.4,476.8 596.1,476.7 596.9,476.4 597.7,476.3 598.4,476.5 599.2,476.3 600.0,476.5 600.7,476.4 601.5,476.3 602.3,476.1 603.0,475.9 603.8,476.3 604.6,476.2 605.3,475.8 606.1,476.1 606.9,476.3 607.6,476.2 608.4,476.6 609.2,476.7 609.9,476.4 610.7,476.4 611.5,476.6 612.2,476.0 613.0,476.4 613.8,476.3 614.5,476.3 615.3,476.3 616.1,476.5 616.8,475.8 617.6,476.7 618.4,476.3 619.1,476.1 619.9,476.3 620.7,476.3 621.4,476.2 622.2,476.2 623.0,476.3 623.7,476.0 624.5,476.2 625.3,476.0 626.0,476.3 626.8,476.7 627.6,476.6 628.3,476.4 629.1,476.2 629.9,476.6 630.6,476.4 631.4,476.0 632.2,476.2 632.9,476.4 633.7,476.3 634.5,476.3 635.2,476.4 636.0,476.3 636.8,476.4 637.5,476.2 638.3,475.9 639.1,476.0 639.8,476.6 640.6,475.8 641.4,476.3 642.1,476.6 642.9,476.6 643.7,476.3 644.4,476.2 645.2,476.4 646.0,476.5 646.7,476.3 647.5,476.2 648.3,476.1 649.0,476.2 649.8,476.8 650.6,476.4 651.3,476.2 652.1,476.2 652.9,476.1 653.6,476.6 654.4,475.9 655.2,476.6 655.9,476.3 656.7,476.4 657.5,476.4 658.2,476.5 659.0,476.1 659.8,476.1 660.5,476.2 661.3,476.6 662.1,476.4 662.8,476.3 663.6,476.2 664.4,476.4 665.1,476.4 665.9,475.7 666.7,476.3 667.4,476.4 668.2,476.8 669.0,476.5 669.7,475.9 670.5,476.1 671.3,476.6 672.0,476.1 672.8,476.3 673.6,476.5 674.3,476.1" fill="none" stroke="#ee4cee" stroke-width="0.72" stroke-linejoin="round" />
<polyline points="592.3,477.0 592.3,477.0 593.1,476.2 593.8,475.5 594.6,475.1 595.4,474.5 596.1,474.2 596.9,473.9 597.7,473.6 598.4,473.7 599.2,473.7 600.0,473.3 600.7,472.9 601.5,473.0 602.3,472.9 603.0,473.1 603.8,473.1 604.6,473.1 605.3,473.1 606.1,473.0 606.9,473.2 607.6,472.9 608.4,473.2 609.2,472.7 609.9,472.9 610.7,473.3 611.5,473.0 612.2,472.8 613.0,472.8 613.8,472.7 614.5,473.0 615.3,472.9 616.1,472.9 616.8,472.8 617.6,473.1 618.4,472.9 619.1,472.9 619.9,473.0 620.7,473.1 621.4,472.6 622.2,472.8 623.0,473.1 623.7,472.5 624.5,473.1 625.3,473.1 626.0,473.0 626.8,472.8 627.6,472.6 628.3,472.6 629.1,472.8 629.9,472.9 630.6,472.8 631.4,473.1 632.2,473.1 632.9,472.8 633.7,472.9 634.5,472.9 635.2,473.2 636.0,472.9 636.8,473.3 637.5,472.7 638.3,473.0 639.1,473.1 639.8,473.1 640.6,472.3 641.4,472.3 642.1,473.1 642.9,472.7 643.7,473.6 644.4,472.7 645.2,473.0 646.0,472.9 646.7,473.2 647.5,473.3 648.3,472.9 649.0,473.1 649.8,472.9 650.6,472.8 651.3,473.0 652.1,472.9 652.9,472.9 653.6,472.9 654.4,473.1 655.2,472.9 655.9,472.9 656.7,473.0 657.5,473.1 658.2,473.3 659.0,473.2 659.8,472.7 660.5,472.8 661.3,472.9 662.1,472.9 662.8,473.0 663.6,472.9 664.4,472.8 665.1,473.1 665.9,473.0 666.7,472.8 667.4,473.4 668.2,473.2 669.0,473.2 669.7,473.3 670.5,473.1 671.3,473.2 672.0,473.1 672.8,472.9 673.6,473.3 674.3,473.0" fill="none" stroke="#3434dc" stroke-width="0.72" stroke-linejoin="round" />
<polyline points="592.3,476.8 592.3,476.9 593.1,475.8 593.8,474.6 594.6,473.3 595.4,472.8 596.1,472.3 596.9,471.5 597.7,471.4 598.4,471.1 599.2,470.5 600.0,470.4 600.7,470.3 601.5,469.9 602.3,469.7 603.0,469.6 603.8,469.7 604.6,469.6 605.3,469.6 606.1,470.1 606.9,469.4 607.6,469.9 608.4,469.9 609.2,469.9 609.9,470.0 610.7,469.5 611.5,469.8 612.2,469.9 613.0,470.2 613.8,469.7 614.5,469.8 615.3,470.0 616.1,469.8 616.8,470.2 617.6,469.7 618.4,470.1 619.1,469.7 619.9,469.8 620.7,470.3 621.4,470.1 622.2,470.0 623.0,469.6 623.7,469.7 624.5,469.7 625.3,469.5 626.0,469.9 626.8,470.0 627.6,470.3 628.3,470.1 629.1,469.7 629.9,470.0 630.6,470.0 631.4,469.7 632.2,470.4 632.9,469.6 633.7,469.6 634.5,470.3 635.2,469.8 636.0,469.9 636.8,469.7 637.5,470.0 638.3,469.9 639.1,469.6 639.8,470.0 640.6,469.8 641.4,469.8 642.1,469.9 642.9,469.7 643.7,469.8 644.4,469.7 645.2,470.3 646.0,470.2 646.7,469.9 647.5,469.7 648.3,469.6 649.0,469.9 649.8,470.1 650.6,470.2 651.3,470.4 652.1,470.1 652.9,469.8 653.6,470.0 654.4,470.3 655.2,470.0 655.9,470.0 656.7,470.1 657.5,469.7 658.2,469.9 659.0,469.7 659.8,470.0 660.5,470.2 661.3,469.8 662.1,469.8 662.8,470.1 663.6,470.3 664.4,469.8 665.1,470.1 665.9,470.3 666.7,470.0 667.4,469.9 668.2,470.2 669.0,470.0 669.7,469.8 670.5,469.9 671.3,470.4 672.0,469.9 672.8,469.7 673.6,469.8 674.3,470.1" fill="none" stroke="#3cc43c" stroke-width="0.72" stroke-linejoin="round" />
<polyline points="592.3,476.9 592.3,477.3 593.1,472.7 593.8,469.1 594.6,465.7 595.4,463.9 596.1,462.3 596.9,460.3 597.7,459.2 598.4,458.9 599.2,457.8 600.0,457.5 600.7,456.4 601.5,456.8 602.3,455.5 603.0,455.9 603.8,455.7 604.6,455.0 605.3,455.4 606.1,455.4 606.9,455.3 607.6,455.8 608.4,455.4 609.2,455.6 609.9,455.5 610.7,455.5 611.5,455.3 612.2,455.9 613.0,455.9 613.8,455.5 614.5,455.1 615.3,455.5 616.1,455.7 616.8,455.5 617.6,455.9 618.4,455.7 619.1,456.1 619.9,455.7 620.7,455.6 621.4,455.4 622.2,455.8 623.0,455.5 623.7,455.5 624.5,456.0 625.3,455.8 626.0,456.2 626.8,456.0 627.6,455.7 628.3,456.3 629.1,455.9 629.9,455.7 630.6,455.5 631.4,456.4 632.2,455.8 632.9,456.0 633.7,456.4 634.5,456.1 635.2,455.8 636.0,455.9 636.8,455.8 637.5,456.0 638.3,455.8 639.1,456.2 639.8,456.2 640.6,456.0 641.4,456.4 642.1,455.7 642.9,456.1 643.7,456.2 644.4,456.2 645.2,456.2 646.0,456.0 646.7,456.1 647.5,455.9 648.3,456.3 649.0,456.1 649.8,456.4 650.6,456.2 651.3,455.8 652.1,456.2 652.9,455.9 653.6,456.2 654.4,456.4 655.2,456.4 655.9,456.4 656.7,456.1 657.5,456.1 658.2,455.6 659.0,455.9 659.8,456.0 660.5,456.4 661.3,456.2 662.1,456.5 662.8,455.8 663.6,456.4 664.4,456.0 665.1,456.6 665.9,456.1 666.7,456.6 667.4,456.4 668.2,456.3 669.0,456.3 669.7,456.4 670.5,456.4 671.3,456.6 672.0,456.4 672.8,456.4 673.6,456.6 674.3,456.3" fill="none" stroke="#5fe6ea" stroke-width="0.72" stroke-linejoin="round" />
<polyline points="592.3,476.9 592.3,477.1 593.1,468.1 593.8,462.2 594.6,458.0 595.4,454.0 596.1,452.0 596.9,449.8 597.7,448.8 598.4,448.2 599.2,447.1 600.0,446.7 600.7,446.3 601.5,446.2 602.3,445.7 603.0,445.7 603.8,445.9 604.6,446.1 605.3,445.8 606.1,445.8 606.9,446.1 607.6,445.9 608.4,445.6 609.2,446.0 609.9,445.7 610.7,446.1 611.5,446.2 612.2,445.8 613.0,446.0 613.8,446.0 614.5,445.8 615.3,445.7 616.1,446.3 616.8,445.9 617.6,446.0 618.4,446.1 619.1,445.7 619.9,446.2 620.7,446.3 621.4,446.0 622.2,446.6 623.0,446.1 623.7,446.4 624.5,446.1 625.3,446.4 626.0,446.1 626.8,446.3 627.6,446.4 628.3,446.2 629.1,446.1 629.9,446.7 630.6,446.6 631.4,446.4 632.2,446.4 632.9,446.1 633.7,446.0 634.5,446.3 635.2,446.2 636.0,446.5 636.8,446.7 637.5,446.4 638.3,446.9 639.1,446.1 639.8,446.4 640.6,446.3 641.4,446.7 642.1,446.9 642.9,446.6 643.7,446.5 644.4,446.6 645.2,446.7 646.0,446.6 646.7,446.7 647.5,446.3 648.3,447.0 649.0,447.2 649.8,446.7 650.6,446.6 651.3,447.1 652.1,446.7 652.9,446.7 653.6,446.7 654.4,446.7 655.2,447.0 655.9,447.1 656.7,446.6 657.5,446.9 658.2,447.1 659.0,446.5 659.8,446.7 660.5,447.5 661.3,446.3 662.1,446.9 662.8,447.3 663.6,446.7 664.4,446.9 665.1,446.7 665.9,447.0 666.7,447.4 667.4,447.1 668.2,447.1 669.0,447.0 669.7,447.1 670.5,447.0 671.3,447.4 672.0,447.2 672.8,447.2 673.6,447.0 674.3,447.5" fill="none" stroke="#ee4a9c" stroke-width="0.72" stroke-linejoin="round" />
<polyline points="592.3,477.0 592.7,472.4 593.1,468.5 593.5,465.2 593.8,462.4 594.2,459.9 594.6,457.9 595.0,456.1 595.4,454.6 595.8,453.4 596.1,452.3 596.5,451.4 596.9,450.6 597.3,449.9 597.7,449.3 598.1,448.9 598.4,448.4 598.8,448.1 599.2,447.8 599.6,447.5 600.0,447.3 600.4,447.1 600.7,447.0 601.1,446.8 601.5,446.7 601.9,446.6 602.3,446.5 602.7,446.5 603.0,446.4 603.4,446.4 603.8,446.3 604.2,446.3 604.6,446.3 605.0,446.3 605.3,446.3 605.7,446.3 608.6,446.4 611.5,446.5 614.3,446.5 617.2,446.6 620.1,446.6 623.0,446.7 625.8,446.7 628.7,446.8 631.6,446.8 634.5,446.9 637.3,446.9 640.2,447.0 643.1,447.1 646.0,447.1 648.9,447.2 651.7,447.2 654.6,447.3 657.5,447.3 660.4,447.4 663.2,447.4 666.1,447.5 669.0,447.5 671.9,447.6 674.3,447.6" fill="none" stroke="#3a3a3a" stroke-width="0.72" stroke-linejoin="round" />
<polyline points="592.3,477.0 592.7,474.9 593.1,473.0 593.5,471.2 593.8,469.7 594.2,468.3 594.6,467.0 595.0,465.9 595.4,464.8 595.8,463.9 596.1,463.0 596.5,462.3 596.9,461.6 597.3,460.9 597.7,460.4 598.1,459.8 598.4,459.4 598.8,458.9 599.2,458.6 599.6,458.2 600.0,457.9 600.4,457.6 600.7,457.4 601.1,457.1 601.5,456.9 601.9,456.7 602.3,456.6 602.7,456.4 603.0,456.3 603.4,456.1 603.8,456.0 604.2,456.0 604.6,456.0 605.0,456.0 605.3,456.0 605.7,456.0 608.6,456.1 611.5,456.1 614.3,456.2 617.2,456.2 620.1,456.2 623.0,456.3 625.8,456.3 628.7,456.3 631.6,456.4 634.5,456.4 637.3,456.5 640.2,456.5 643.1,456.5 646.0,456.6 648.9,456.6 651.7,456.6 654.6,456.7 657.5,456.7 660.4,456.7 663.2,456.8 666.1,456.8 669.0,456.9 671.9,456.9 674.3,456.9" fill="none" stroke="#3a3a3a" stroke-width="0.72" stroke-linejoin="round" />
<polyline points="592.3,477.0 592.7,476.2 593.1,475.5 593.5,474.9 593.8,474.4 594.2,473.9 594.6,473.4 595.0,473.0 595.4,472.6 595.8,472.3 596.1,472.0 596.5,471.7 596.9,471.5 597.3,471.2 597.7,471.0 598.1,470.9 598.4,470.7 598.8,470.5 599.2,470.4 599.6,470.3 600.0,470.2 600.4,470.1 600.7,470.0 601.1,469.9 601.5,469.8 601.9,469.8 602.3,469.7 602.7,469.6 603.0,469.6 603.4,469.5 603.8,469.5 604.2,469.5 604.6,469.5 605.0,469.5 605.3,469.5 605.7,469.5 608.6,469.5 611.5,469.5 614.3,469.5 617.2,469.6 620.1,469.6 623.0,469.6 625.8,469.6 628.7,469.6 631.6,469.6 634.5,469.6 637.3,469.7 640.2,469.7 643.1,469.7 646.0,469.7 648.9,469.7 651.7,469.7 654.6,469.7 657.5,469.7 660.4,469.8 663.2,469.8 666.1,469.8 669.0,469.8 671.9,469.8 674.3,469.8" fill="none" stroke="#3a3a3a" stroke-width="0.72" stroke-linejoin="round" />
<polyline points="592.3,477.0 592.7,476.3 593.1,475.7 593.5,475.2 593.8,474.7 594.2,474.3 594.6,473.9 595.0,473.5 595.4,473.2 595.8,472.9 596.1,472.6 596.5,472.4 596.9,472.2 597.3,472.0 597.7,471.8 598.1,471.6 598.4,471.5 598.8,471.4 599.2,471.3 599.6,471.1 600.0,471.0 600.4,471.0 600.7,470.9 601.1,470.8 601.5,470.7 601.9,470.7 602.3,470.6 602.7,470.6 603.0,470.5 603.4,470.5 603.8,470.5 604.2,470.5 604.6,470.5 605.0,470.5 605.3,470.5 605.7,470.5 608.6,470.5 611.5,470.5 614.3,470.5 617.2,470.5 620.1,470.5 623.0,470.5 625.8,470.6 628.7,470.6 631.6,470.6 634.5,470.6 637.3,470.6 640.2,470.6 643.1,470.6 646.0,470.6 648.9,470.6 651.7,470.7 654.6,470.7 657.5,470.7 660.4,470.7 663.2,470.7 666.1,470.7 669.0,470.7 671.9,470.7 674.3,470.7" fill="none" stroke="#3a3a3a" stroke-width="0.72" stroke-linejoin="round" />
<polyline points="592.3,477.0 592.7,476.9 593.1,476.8 593.5,476.7 593.8,476.6 594.2,476.5 594.6,476.5 595.0,476.4 595.4,476.4 595.8,476.3 596.1,476.3 596.5,476.2 596.9,476.2 597.3,476.1 597.7,476.1 598.1,476.1 598.4,476.0 598.8,476.0 599.2,476.0 599.6,476.0 600.0,475.9 600.4,475.9 600.7,475.9 601.1,475.9 601.5,475.9 601.9,475.9 602.3,475.9 602.7,475.8 603.0,475.8 603.4,475.8 603.8,475.8 604.2,475.8 604.6,475.8 605.0,475.8 605.3,475.8 605.7,475.8 608.6,475.8 611.5,475.8 614.3,475.8 617.2,475.8 620.1,475.8 623.0,475.8 625.8,475.8 628.7,475.8 631.6,475.8 634.5,475.8 637.3,475.8 640.2,475.8 643.1,475.8 646.0,475.8 648.9,475.8 651.7,475.8 654.6,475.8 657.5,475.8 660.4,475.8 663.2,475.9 666.1,475.9 669.0,475.9 671.9,475.9 674.3,475.9" fill="none" stroke="#3a3a3a" stroke-width="0.72" stroke-linejoin="round" />
<polyline points="548.2,477.0 549.0,476.4 549.7,477.4 550.5,476.7 551.3,476.9 552.0,476.7 552.8,476.9 553.6,476.9 554.3,476.9 555.1,476.9 555.9,477.2 556.6,477.0 557.4,476.6 558.2,476.6 558.9,477.1 559.7,477.2 560.5,477.0 561.2,476.7 562.0,476.8 562.8,477.1 563.5,477.5 564.3,477.0 565.1,477.3 565.8,476.7 566.6,476.6 567.4,476.8 568.1,476.8 568.9,476.8 569.7,476.6 570.4,476.7 571.2,476.6 572.0,477.2 572.7,477.1 573.5,477.0 574.3,477.4 575.0,477.0 575.8,477.0 576.6,477.0 577.3,476.4 578.1,477.0 578.9,477.0 579.6,477.0 580.4,477.0 581.2,477.3 581.9,476.7 582.7,477.0 583.5,476.9 584.2,477.0 585.0,477.1 585.8,477.3 586.5,477.0 587.3,476.8 588.1,477.0 588.8,476.8 589.6,477.1 590.4,477.0 591.1,476.9 591.9,477.0" fill="none" stroke="#9a2a9a" stroke-width="0.96" stroke-linejoin="round" stroke-dasharray="1.6 8.0" stroke-dashoffset="0.0"/>
<polyline points="548.2,476.9 549.0,476.6 549.7,477.1 550.5,476.9 551.3,477.1 552.0,476.8 552.8,476.9 553.6,477.1 554.3,477.2 555.1,477.2 555.9,477.0 556.6,476.9 557.4,477.1 558.2,477.0 558.9,476.9 559.7,476.4 560.5,476.7 561.2,476.4 562.0,476.9 562.8,476.9 563.5,476.5 564.3,476.9 565.1,476.8 565.8,477.1 566.6,477.1 567.4,476.8 568.1,477.1 568.9,477.1 569.7,477.3 570.4,476.9 571.2,477.0 572.0,476.8 572.7,477.1 573.5,477.2 574.3,476.7 575.0,477.0 575.8,476.8 576.6,477.2 577.3,477.2 578.1,477.5 578.9,476.9 579.6,476.7 580.4,476.7 581.2,476.6 581.9,477.4 582.7,477.2 583.5,477.1 584.2,477.1 585.0,477.0 585.8,477.1 586.5,477.3 587.3,477.0 588.1,476.9 588.8,477.1 589.6,477.0 590.4,477.2 591.1,477.0 591.9,477.0" fill="none" stroke="#ee4cee" stroke-width="0.96" stroke-linejoin="round" stroke-dasharray="1.6 8.0" stroke-dashoffset="1.6"/>
<polyline points="548.2,477.1 549.0,477.0 549.7,477.2 550.5,477.3 551.3,477.1 552.0,476.8 552.8,477.2 553.6,477.2 554.3,476.5 555.1,477.0 555.9,477.0 556.6,477.2 557.4,476.6 558.2,476.8 558.9,476.9 559.7,476.6 560.5,477.2 561.2,477.3 562.0,476.7 562.8,476.9 563.5,477.1 564.3,476.8 565.1,477.0 565.8,476.5 566.6,477.2 567.4,476.9 568.1,476.7 568.9,476.8 569.7,477.0 570.4,477.0 571.2,477.1 572.0,476.8 572.7,477.0 573.5,477.0 574.3,476.7 575.0,477.0 575.8,476.9 576.6,477.0 577.3,477.0 578.1,477.4 578.9,477.2 579.6,476.9 580.4,477.1 581.2,477.1 581.9,476.9 582.7,476.5 583.5,477.1 584.2,477.2 585.0,477.4 585.8,476.9 586.5,477.0 587.3,477.1 588.1,477.0 588.8,476.7 589.6,476.7 590.4,476.9 591.1,476.7 591.9,476.7" fill="none" stroke="#3434dc" stroke-width="0.96" stroke-linejoin="round" stroke-dasharray="1.6 8.0" stroke-dashoffset="3.2"/>
<polyline points="548.2,477.1 549.0,476.8 549.7,476.9 550.5,476.8 551.3,476.9 552.0,476.5 552.8,477.2 553.6,476.9 554.3,477.2 555.1,476.4 555.9,477.1 556.6,477.0 557.4,477.0 558.2,477.0 558.9,476.6 559.7,477.0 560.5,476.9 561.2,476.7 562.0,476.6 562.8,477.2 563.5,476.9 564.3,477.3 565.1,476.9 565.8,476.6 566.6,477.1 567.4,477.0 568.1,476.7 568.9,476.9 569.7,476.8 570.4,477.1 571.2,477.0 572.0,477.0 572.7,476.6 573.5,477.3 574.3,477.1 575.0,476.6 575.8,477.0 576.6,477.2 577.3,476.9 578.1,477.0 578.9,477.0 579.6,476.8 580.4,476.8 581.2,477.3 581.9,476.9 582.7,476.6 583.5,477.3 584.2,477.0 585.0,477.2 585.8,476.8 586.5,477.1 587.3,477.0 588.1,477.1 588.8,476.9 589.6,477.2 590.4,477.3 591.1,476.9 591.9,476.7" fill="none" stroke="#3cc43c" stroke-width="0.96" stroke-linejoin="round" stroke-dasharray="1.6 8.0" stroke-dashoffset="4.8"/>
<polyline points="548.2,477.1 549.0,476.9 549.7,476.9 550.5,476.9 551.3,477.0 552.0,477.1 552.8,477.0 553.6,476.7 554.3,476.9 555.1,476.7 555.9,477.1 556.6,476.9 557.4,477.1 558.2,477.3 558.9,476.8 559.7,477.0 560.5,476.9 561.2,477.3 562.0,477.0 562.8,477.0 563.5,477.0 564.3,476.7 565.1,476.9 565.8,476.9 566.6,476.9 567.4,477.1 568.1,477.1 568.9,477.0 569.7,477.2 570.4,477.0 571.2,477.0 572.0,476.7 572.7,477.1 573.5,476.4 574.3,477.1 575.0,476.9 575.8,477.0 576.6,477.1 577.3,477.0 578.1,477.4 578.9,476.7 579.6,477.1 580.4,477.0 581.2,477.4 581.9,476.8 582.7,477.2 583.5,476.7 584.2,477.2 585.0,477.1 585.8,476.8 586.5,476.7 587.3,477.4 588.1,477.3 588.8,476.6 589.6,476.9 590.4,477.3 591.1,477.1 591.9,476.8" fill="none" stroke="#5fe6ea" stroke-width="0.96" stroke-linejoin="round" stroke-dasharray="1.6 8.0" stroke-dashoffset="6.4"/>
<polyline points="548.2,477.0 549.0,476.6 549.7,477.1 550.5,476.9 551.3,476.7 552.0,476.6 552.8,476.9 553.6,476.8 554.3,477.0 555.1,477.0 555.9,477.1 556.6,476.9 557.4,476.8 558.2,477.2 558.9,477.2 559.7,477.0 560.5,476.5 561.2,476.9 562.0,476.9 562.8,477.0 563.5,477.3 564.3,477.1 565.1,476.6 565.8,477.4 566.6,476.6 567.4,477.2 568.1,476.5 568.9,476.4 569.7,476.6 570.4,477.0 571.2,476.8 572.0,477.1 572.7,477.1 573.5,476.9 574.3,477.6 575.0,476.8 575.8,477.0 576.6,477.2 577.3,477.0 578.1,476.8 578.9,477.1 579.6,476.9 580.4,477.3 581.2,476.9 581.9,477.2 582.7,476.8 583.5,477.2 584.2,476.8 585.0,477.4 585.8,476.9 586.5,476.7 587.3,477.1 588.1,477.0 588.8,477.2 589.6,476.9 590.4,476.8 591.1,476.7 591.9,476.7" fill="none" stroke="#ee4a9c" stroke-width="0.96" stroke-linejoin="round" stroke-dasharray="1.6 8.0" stroke-dashoffset="8.0"/>
<line x1="540.60" y1="443.60" x2="540.60" y2="481.10" stroke="#222" stroke-width="0.8" />
<line x1="540.20" y1="481.10" x2="678.40" y2="481.10" stroke="#222" stroke-width="0.8" />
<line x1="538.60" y1="480.00" x2="540.60" y2="480.00" stroke="#222" stroke-width="0.7" />
<text x="537.8" y="482.7" text-anchor="end" font-size="7.45" >0</text>
<line x1="538.60" y1="469.87" x2="540.60" y2="469.87" stroke="#222" stroke-width="0.7" />
<text x="537.8" y="472.6" text-anchor="end" font-size="7.45" >40</text>
<line x1="538.60" y1="459.74" x2="540.60" y2="459.74" stroke="#222" stroke-width="0.7" />
<text x="537.8" y="462.4" text-anchor="end" font-size="7.45" >80</text>
<line x1="538.60" y1="449.60" x2="540.60" y2="449.60" stroke="#222" stroke-width="0.7" />
<text x="537.8" y="452.3" text-anchor="end" font-size="7.45" >120</text>
<line x1="539.30" y1="474.93" x2="540.60" y2="474.93" stroke="#222" stroke-width="0.6" />
<line x1="539.30" y1="464.80" x2="540.60" y2="464.80" stroke="#222" stroke-width="0.6" />
<line x1="539.30" y1="454.67" x2="540.60" y2="454.67" stroke="#222" stroke-width="0.6" />
<line x1="544.38" y1="481.10" x2="544.38" y2="482.80" stroke="#222" stroke-width="0.7" />
<line x1="553.96" y1="481.10" x2="553.96" y2="482.80" stroke="#222" stroke-width="0.7" />
<line x1="563.54" y1="481.10" x2="563.54" y2="482.80" stroke="#222" stroke-width="0.7" />
<line x1="573.13" y1="481.10" x2="573.13" y2="482.80" stroke="#222" stroke-width="0.7" />
<line x1="582.71" y1="481.10" x2="582.71" y2="482.80" stroke="#222" stroke-width="0.7" />
<line x1="592.30" y1="481.10" x2="592.30" y2="482.80" stroke="#222" stroke-width="0.7" />
<line x1="601.88" y1="481.10" x2="601.88" y2="482.80" stroke="#222" stroke-width="0.7" />
<line x1="611.47" y1="481.10" x2="611.47" y2="482.80" stroke="#222" stroke-width="0.7" />
<line x1="621.05" y1="481.10" x2="621.05" y2="482.80" stroke="#222" stroke-width="0.7" />
<line x1="630.64" y1="481.10" x2="630.64" y2="482.80" stroke="#222" stroke-width="0.7" />
<line x1="640.22" y1="481.10" x2="640.22" y2="482.80" stroke="#222" stroke-width="0.7" />
<line x1="649.81" y1="481.10" x2="649.81" y2="482.80" stroke="#222" stroke-width="0.7" />
<line x1="659.39" y1="481.10" x2="659.39" y2="482.80" stroke="#222" stroke-width="0.7" />
<line x1="668.98" y1="481.10" x2="668.98" y2="482.80" stroke="#222" stroke-width="0.7" />
<text x="554.0" y="490.4" text-anchor="middle" font-size="7.45" >-200</text>
<text x="573.1" y="490.4" text-anchor="middle" font-size="7.45" >-100</text>
<text x="592.3" y="490.4" text-anchor="middle" font-size="7.45" >0</text>
<text x="611.5" y="490.4" text-anchor="middle" font-size="7.45" >100</text>
<text x="630.6" y="490.4" text-anchor="middle" font-size="7.45" >200</text>
<text x="649.8" y="490.4" text-anchor="middle" font-size="7.45" >300</text>
<text x="669.0" y="490.4" text-anchor="middle" font-size="7.45" >400</text>
<text x="605.5" y="438.4" text-anchor="middle" font-size="7.45" >+ PGZL1 Fab</text>
<text x="551.6" y="458.0" font-size="7.45"><tspan font-style="italic">K</tspan><tspan font-size="4.32" dy="2.5">D</tspan><tspan dy="-2.5">= 2 nM</tspan></text>
<text x="610.5" y="503.6" text-anchor="middle" font-size="7.45" >Time (s)</text>
</svg></body></html>
